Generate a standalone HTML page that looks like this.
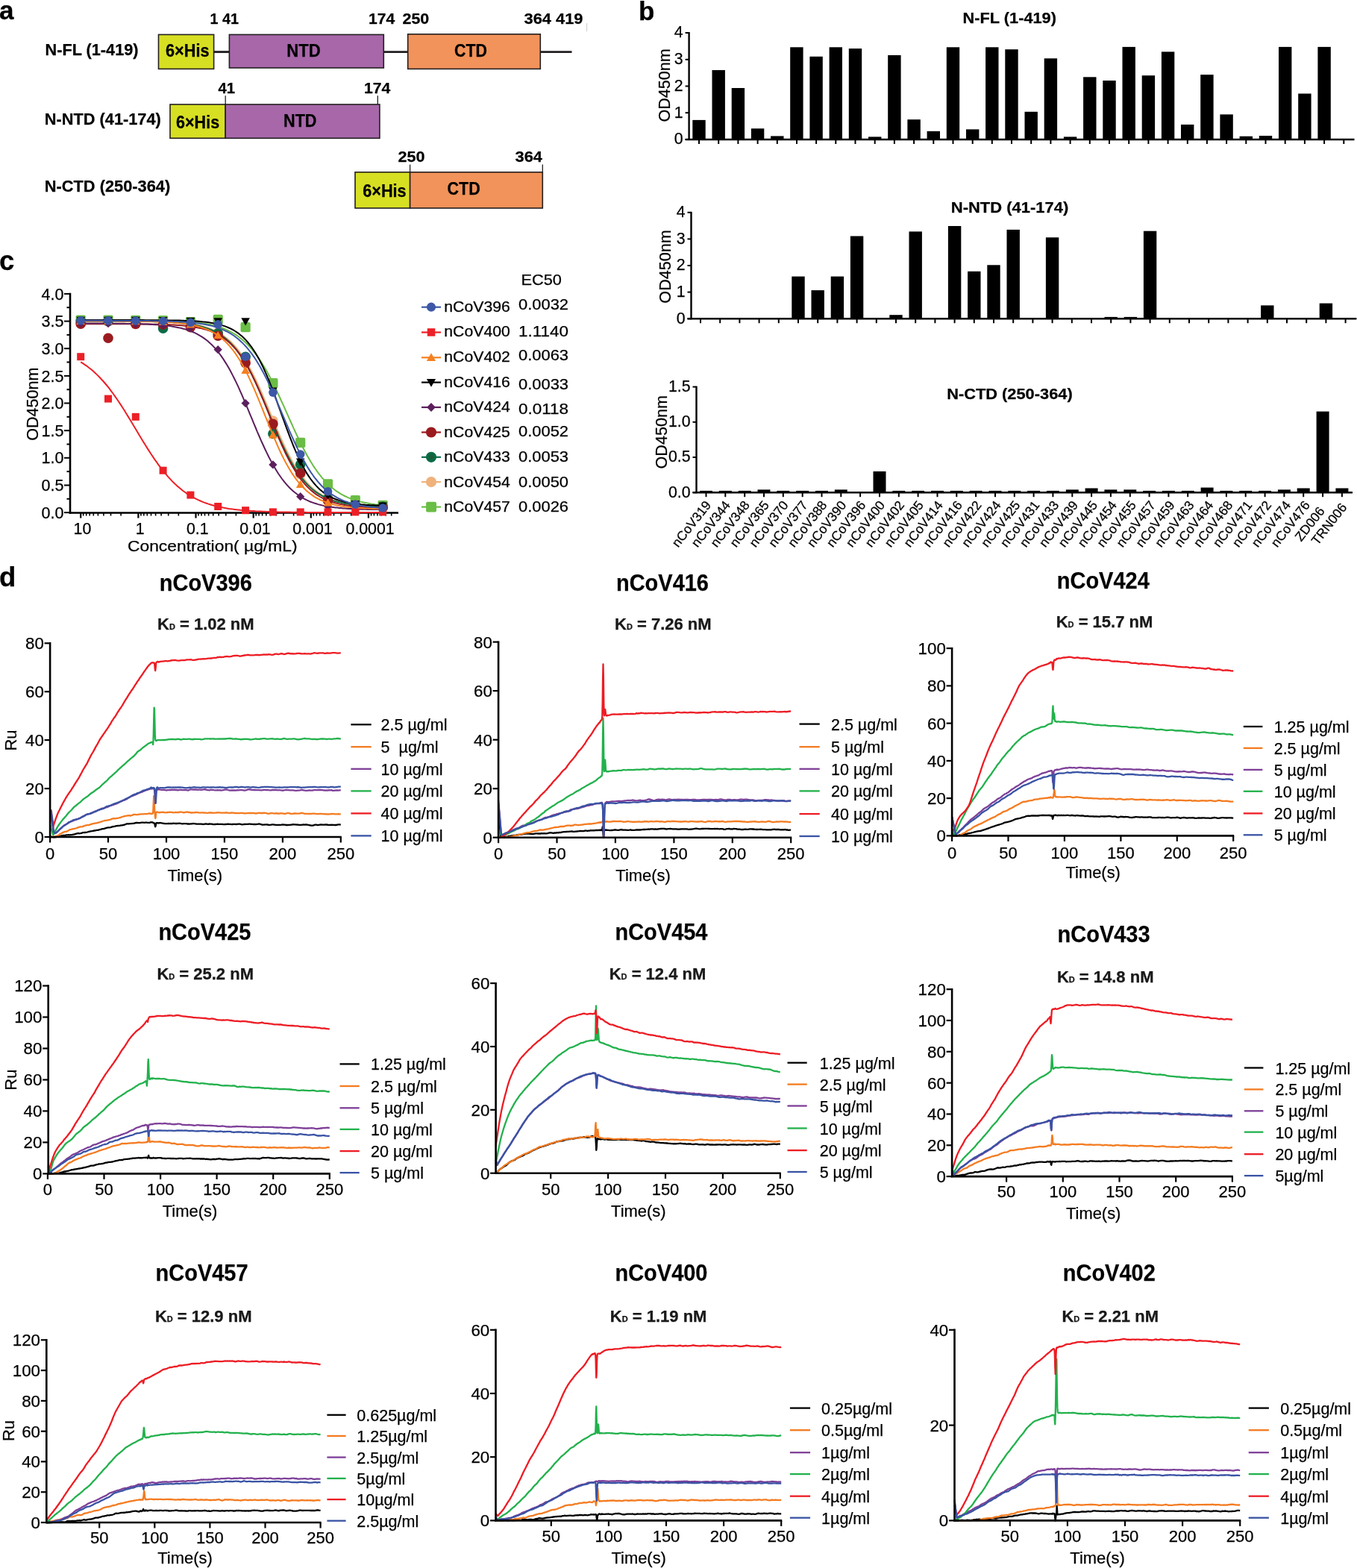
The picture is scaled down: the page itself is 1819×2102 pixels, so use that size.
<!DOCTYPE html>
<html><head><meta charset="utf-8"><title>Figure</title>
<style>html,body{margin:0;padding:0;background:#fff;} svg{display:block;} text{stroke:currentColor;stroke-width:0.25px;}</style>
</head><body>
<svg width="1819" height="2102" viewBox="0 0 1819 2102" font-family='"Liberation Sans", Arial, Helvetica, sans-serif'>
<text x="-1" y="26.3" font-size="35" font-weight="bold">a</text>
<text x="856" y="26.5" font-size="35" font-weight="bold">b</text>
<text x="-1" y="361.6" font-size="36.5" font-weight="bold">c</text>
<text x="-1" y="785.7" font-size="36.5" font-weight="bold">d</text>
<line x1="286" y1="69.6" x2="308" y2="69.6" stroke="#231f20" stroke-width="2.9"/>
<line x1="514" y1="69.6" x2="547" y2="69.6" stroke="#231f20" stroke-width="2.9"/>
<line x1="724" y1="69.6" x2="766.5" y2="69.6" stroke="#231f20" stroke-width="2.9"/>
<rect x="212.5" y="46.4" width="74.1" height="46" fill="#d7df23" stroke="#231f20" stroke-width="1.6"/>
<rect x="307.4" y="46.4" width="206.9" height="44.6" fill="#a767a9" stroke="#231f20" stroke-width="1.6"/>
<rect x="546.7" y="45.8" width="177.6" height="46.6" fill="#f1935a" stroke="#231f20" stroke-width="1.6"/>
<text x="222" y="75.9" font-size="24" font-weight="bold" fill="#000" textLength="58.5" lengthAdjust="spacingAndGlyphs">6×His</text>
<text x="384.3" y="75.9" font-size="23" font-weight="bold" fill="#000" textLength="45.5" lengthAdjust="spacingAndGlyphs">NTD</text>
<text x="609" y="75.9" font-size="23" font-weight="bold" fill="#000" textLength="44" lengthAdjust="spacingAndGlyphs">CTD</text>
<text x="60.5" y="73.7" font-size="22" font-weight="bold" fill="#000" textLength="125" lengthAdjust="spacingAndGlyphs">N-FL (1-419)</text>
<text x="281.5" y="32.4" font-size="20" font-weight="bold" fill="#000" textLength="38.5" lengthAdjust="spacingAndGlyphs">1 41</text>
<text x="494" y="32.4" font-size="20" font-weight="bold" fill="#000" textLength="35.2" lengthAdjust="spacingAndGlyphs">174</text>
<text x="539.5" y="32.4" font-size="20" font-weight="bold" fill="#000" textLength="35.8" lengthAdjust="spacingAndGlyphs">250</text>
<text x="702.5" y="32.4" font-size="20" font-weight="bold" fill="#000" textLength="79" lengthAdjust="spacingAndGlyphs">364 419</text>
<line x1="786.6" y1="31" x2="786.6" y2="42" stroke="#bbb" stroke-width="0.8"/>
<text x="59.8" y="167.4" font-size="22" font-weight="bold" fill="#000" textLength="156" lengthAdjust="spacingAndGlyphs">N-NTD (41-174)</text>
<rect x="228" y="140" width="74.2" height="45.3" fill="#d7df23" stroke="#231f20" stroke-width="1.6"/>
<rect x="302.2" y="140" width="206.7" height="45.3" fill="#a767a9" stroke="#231f20" stroke-width="1.6"/>
<text x="236.1" y="171.9" font-size="24" font-weight="bold" fill="#000" textLength="58" lengthAdjust="spacingAndGlyphs">6×His</text>
<text x="380" y="169.6" font-size="23" font-weight="bold" fill="#000" textLength="44.5" lengthAdjust="spacingAndGlyphs">NTD</text>
<text x="292.5" y="125" font-size="20" font-weight="bold" fill="#000" textLength="22.6" lengthAdjust="spacingAndGlyphs">41</text>
<text x="488" y="125" font-size="20" font-weight="bold" fill="#000" textLength="35.2" lengthAdjust="spacingAndGlyphs">174</text>
<line x1="302.2" y1="128.3" x2="302.2" y2="140" stroke="#231f20" stroke-width="1.3"/>
<line x1="506.3" y1="128.3" x2="506.3" y2="140" stroke="#231f20" stroke-width="1.3"/>
<text x="59.8" y="257" font-size="22" font-weight="bold" fill="#000" textLength="168.4" lengthAdjust="spacingAndGlyphs">N-CTD (250-364)</text>
<rect x="476" y="230.8" width="73.6" height="48.2" fill="#d7df23" stroke="#231f20" stroke-width="1.6"/>
<rect x="549.6" y="230.8" width="177.7" height="48.2" fill="#f1935a" stroke="#231f20" stroke-width="1.6"/>
<text x="486.2" y="264" font-size="24" font-weight="bold" fill="#000" textLength="58.5" lengthAdjust="spacingAndGlyphs">6×His</text>
<text x="599.5" y="260.5" font-size="23" font-weight="bold" fill="#000" textLength="44.2" lengthAdjust="spacingAndGlyphs">CTD</text>
<text x="533.5" y="217.1" font-size="20" font-weight="bold" fill="#000" textLength="36" lengthAdjust="spacingAndGlyphs">250</text>
<text x="690.5" y="217.1" font-size="20" font-weight="bold" fill="#000" textLength="36.4" lengthAdjust="spacingAndGlyphs">364</text>
<line x1="549.6" y1="220.6" x2="549.6" y2="230.8" stroke="#231f20" stroke-width="1.3"/>
<line x1="727.3" y1="220.6" x2="727.3" y2="230.8" stroke="#231f20" stroke-width="1.3"/>
<rect x="928.3" y="160.9" width="17.4" height="26.1" fill="#000"/>
<rect x="954.5" y="94" width="17.4" height="93" fill="#000"/>
<rect x="980.7" y="118" width="17.4" height="69" fill="#000"/>
<rect x="1006.9" y="172.3" width="17.4" height="14.7" fill="#000"/>
<rect x="1033.1" y="182.4" width="17.4" height="4.6" fill="#000"/>
<rect x="1059.2" y="63.3" width="17.4" height="123.7" fill="#000"/>
<rect x="1085.4" y="75.8" width="17.4" height="111.2" fill="#000"/>
<rect x="1111.6" y="63.3" width="17.4" height="123.7" fill="#000"/>
<rect x="1137.8" y="65.1" width="17.4" height="121.9" fill="#000"/>
<rect x="1164" y="183.4" width="17.4" height="3.6" fill="#000"/>
<rect x="1190.2" y="74" width="17.4" height="113" fill="#000"/>
<rect x="1216.4" y="160.2" width="17.4" height="26.8" fill="#000"/>
<rect x="1242.6" y="175.9" width="17.4" height="11.1" fill="#000"/>
<rect x="1268.8" y="63.3" width="17.4" height="123.7" fill="#000"/>
<rect x="1295" y="173.4" width="17.4" height="13.6" fill="#000"/>
<rect x="1321.1" y="63.3" width="17.4" height="123.7" fill="#000"/>
<rect x="1347.3" y="66.2" width="17.4" height="120.8" fill="#000"/>
<rect x="1373.5" y="149.8" width="17.4" height="37.2" fill="#000"/>
<rect x="1399.7" y="78.3" width="17.4" height="108.7" fill="#000"/>
<rect x="1425.9" y="183.4" width="17.4" height="3.6" fill="#000"/>
<rect x="1452.1" y="103.3" width="17.4" height="83.7" fill="#000"/>
<rect x="1478.3" y="108" width="17.4" height="79" fill="#000"/>
<rect x="1504.5" y="62.9" width="17.4" height="124.1" fill="#000"/>
<rect x="1530.7" y="101.2" width="17.4" height="85.8" fill="#000"/>
<rect x="1556.9" y="69.4" width="17.4" height="117.6" fill="#000"/>
<rect x="1583" y="167" width="17.4" height="20" fill="#000"/>
<rect x="1609.2" y="100.1" width="17.4" height="86.9" fill="#000"/>
<rect x="1635.4" y="153.4" width="17.4" height="33.6" fill="#000"/>
<rect x="1661.6" y="182.7" width="17.4" height="4.3" fill="#000"/>
<rect x="1687.8" y="182" width="17.4" height="5" fill="#000"/>
<rect x="1714" y="62.9" width="17.4" height="124.1" fill="#000"/>
<rect x="1740.2" y="125.5" width="17.4" height="61.5" fill="#000"/>
<rect x="1766.4" y="62.9" width="17.4" height="124.1" fill="#000"/>
<line x1="937" y1="187" x2="937" y2="193" stroke="#000" stroke-width="2"/>
<line x1="963.2" y1="187" x2="963.2" y2="193" stroke="#000" stroke-width="2"/>
<line x1="989.4" y1="187" x2="989.4" y2="193" stroke="#000" stroke-width="2"/>
<line x1="1015.6" y1="187" x2="1015.6" y2="193" stroke="#000" stroke-width="2"/>
<line x1="1041.8" y1="187" x2="1041.8" y2="193" stroke="#000" stroke-width="2"/>
<line x1="1068" y1="187" x2="1068" y2="193" stroke="#000" stroke-width="2"/>
<line x1="1094.1" y1="187" x2="1094.1" y2="193" stroke="#000" stroke-width="2"/>
<line x1="1120.3" y1="187" x2="1120.3" y2="193" stroke="#000" stroke-width="2"/>
<line x1="1146.5" y1="187" x2="1146.5" y2="193" stroke="#000" stroke-width="2"/>
<line x1="1172.7" y1="187" x2="1172.7" y2="193" stroke="#000" stroke-width="2"/>
<line x1="1198.9" y1="187" x2="1198.9" y2="193" stroke="#000" stroke-width="2"/>
<line x1="1225.1" y1="187" x2="1225.1" y2="193" stroke="#000" stroke-width="2"/>
<line x1="1251.3" y1="187" x2="1251.3" y2="193" stroke="#000" stroke-width="2"/>
<line x1="1277.5" y1="187" x2="1277.5" y2="193" stroke="#000" stroke-width="2"/>
<line x1="1303.7" y1="187" x2="1303.7" y2="193" stroke="#000" stroke-width="2"/>
<line x1="1329.8" y1="187" x2="1329.8" y2="193" stroke="#000" stroke-width="2"/>
<line x1="1356" y1="187" x2="1356" y2="193" stroke="#000" stroke-width="2"/>
<line x1="1382.2" y1="187" x2="1382.2" y2="193" stroke="#000" stroke-width="2"/>
<line x1="1408.4" y1="187" x2="1408.4" y2="193" stroke="#000" stroke-width="2"/>
<line x1="1434.6" y1="187" x2="1434.6" y2="193" stroke="#000" stroke-width="2"/>
<line x1="1460.8" y1="187" x2="1460.8" y2="193" stroke="#000" stroke-width="2"/>
<line x1="1487" y1="187" x2="1487" y2="193" stroke="#000" stroke-width="2"/>
<line x1="1513.2" y1="187" x2="1513.2" y2="193" stroke="#000" stroke-width="2"/>
<line x1="1539.4" y1="187" x2="1539.4" y2="193" stroke="#000" stroke-width="2"/>
<line x1="1565.6" y1="187" x2="1565.6" y2="193" stroke="#000" stroke-width="2"/>
<line x1="1591.8" y1="187" x2="1591.8" y2="193" stroke="#000" stroke-width="2"/>
<line x1="1617.9" y1="187" x2="1617.9" y2="193" stroke="#000" stroke-width="2"/>
<line x1="1644.1" y1="187" x2="1644.1" y2="193" stroke="#000" stroke-width="2"/>
<line x1="1670.3" y1="187" x2="1670.3" y2="193" stroke="#000" stroke-width="2"/>
<line x1="1696.5" y1="187" x2="1696.5" y2="193" stroke="#000" stroke-width="2"/>
<line x1="1722.7" y1="187" x2="1722.7" y2="193" stroke="#000" stroke-width="2"/>
<line x1="1748.9" y1="187" x2="1748.9" y2="193" stroke="#000" stroke-width="2"/>
<line x1="1775.1" y1="187" x2="1775.1" y2="193" stroke="#000" stroke-width="2"/>
<line x1="1801.3" y1="187" x2="1801.3" y2="193" stroke="#000" stroke-width="2"/>
<line x1="923.6" y1="43" x2="923.6" y2="188" stroke="#000" stroke-width="2.4"/>
<line x1="918.6" y1="187" x2="1815.5" y2="187" stroke="#000" stroke-width="2.6"/>
<line x1="918.6" y1="187" x2="923.6" y2="187" stroke="#000" stroke-width="2"/>
<text x="915.6" y="193.4" font-size="21.3" text-anchor="end">0</text>
<line x1="918.6" y1="151.2" x2="923.6" y2="151.2" stroke="#000" stroke-width="2"/>
<text x="915.6" y="157.7" font-size="21.3" text-anchor="end">1</text>
<line x1="918.6" y1="115.5" x2="923.6" y2="115.5" stroke="#000" stroke-width="2"/>
<text x="915.6" y="121.9" font-size="21.3" text-anchor="end">2</text>
<line x1="918.6" y1="79.8" x2="923.6" y2="79.8" stroke="#000" stroke-width="2"/>
<text x="915.6" y="86.2" font-size="21.3" text-anchor="end">3</text>
<line x1="918.6" y1="44" x2="923.6" y2="44" stroke="#000" stroke-width="2"/>
<text x="915.6" y="50.4" font-size="21.3" text-anchor="end">4</text>
<text x="1290.5" y="31.3" font-size="21" font-weight="bold" fill="#000" textLength="125.5" lengthAdjust="spacingAndGlyphs">N-FL (1-419)</text>
<text x="0" y="0" font-size="22" text-anchor="middle" textLength="98.3" lengthAdjust="spacingAndGlyphs" transform="translate(897.6,114.4) rotate(-90)">OD450nm</text>
<rect x="1061.3" y="370.6" width="17.4" height="56.6" fill="#000"/>
<rect x="1087.5" y="389.1" width="17.4" height="38.1" fill="#000"/>
<rect x="1113.7" y="370.6" width="17.4" height="56.6" fill="#000"/>
<rect x="1139.9" y="316.5" width="17.4" height="110.7" fill="#000"/>
<rect x="1192.3" y="422.2" width="17.4" height="5" fill="#000"/>
<rect x="1218.5" y="310.4" width="17.4" height="116.8" fill="#000"/>
<rect x="1270.9" y="303" width="17.4" height="124.2" fill="#000"/>
<rect x="1297.1" y="363.8" width="17.4" height="63.4" fill="#000"/>
<rect x="1323.3" y="355.3" width="17.4" height="71.9" fill="#000"/>
<rect x="1349.5" y="307.9" width="17.4" height="119.3" fill="#000"/>
<rect x="1401.9" y="318.3" width="17.4" height="108.9" fill="#000"/>
<rect x="1480.5" y="424.9" width="17.4" height="2.3" fill="#000"/>
<rect x="1506.7" y="424.9" width="17.4" height="2.3" fill="#000"/>
<rect x="1532.9" y="309.7" width="17.4" height="117.5" fill="#000"/>
<rect x="1690.1" y="409.4" width="17.4" height="17.8" fill="#000"/>
<rect x="1768.7" y="406.6" width="17.4" height="20.6" fill="#000"/>
<line x1="939" y1="427.2" x2="939" y2="433.2" stroke="#000" stroke-width="2"/>
<line x1="965.2" y1="427.2" x2="965.2" y2="433.2" stroke="#000" stroke-width="2"/>
<line x1="991.4" y1="427.2" x2="991.4" y2="433.2" stroke="#000" stroke-width="2"/>
<line x1="1017.6" y1="427.2" x2="1017.6" y2="433.2" stroke="#000" stroke-width="2"/>
<line x1="1043.8" y1="427.2" x2="1043.8" y2="433.2" stroke="#000" stroke-width="2"/>
<line x1="1070" y1="427.2" x2="1070" y2="433.2" stroke="#000" stroke-width="2"/>
<line x1="1096.2" y1="427.2" x2="1096.2" y2="433.2" stroke="#000" stroke-width="2"/>
<line x1="1122.4" y1="427.2" x2="1122.4" y2="433.2" stroke="#000" stroke-width="2"/>
<line x1="1148.6" y1="427.2" x2="1148.6" y2="433.2" stroke="#000" stroke-width="2"/>
<line x1="1174.8" y1="427.2" x2="1174.8" y2="433.2" stroke="#000" stroke-width="2"/>
<line x1="1201" y1="427.2" x2="1201" y2="433.2" stroke="#000" stroke-width="2"/>
<line x1="1227.2" y1="427.2" x2="1227.2" y2="433.2" stroke="#000" stroke-width="2"/>
<line x1="1253.4" y1="427.2" x2="1253.4" y2="433.2" stroke="#000" stroke-width="2"/>
<line x1="1279.6" y1="427.2" x2="1279.6" y2="433.2" stroke="#000" stroke-width="2"/>
<line x1="1305.8" y1="427.2" x2="1305.8" y2="433.2" stroke="#000" stroke-width="2"/>
<line x1="1332" y1="427.2" x2="1332" y2="433.2" stroke="#000" stroke-width="2"/>
<line x1="1358.2" y1="427.2" x2="1358.2" y2="433.2" stroke="#000" stroke-width="2"/>
<line x1="1384.4" y1="427.2" x2="1384.4" y2="433.2" stroke="#000" stroke-width="2"/>
<line x1="1410.6" y1="427.2" x2="1410.6" y2="433.2" stroke="#000" stroke-width="2"/>
<line x1="1436.8" y1="427.2" x2="1436.8" y2="433.2" stroke="#000" stroke-width="2"/>
<line x1="1463" y1="427.2" x2="1463" y2="433.2" stroke="#000" stroke-width="2"/>
<line x1="1489.2" y1="427.2" x2="1489.2" y2="433.2" stroke="#000" stroke-width="2"/>
<line x1="1515.4" y1="427.2" x2="1515.4" y2="433.2" stroke="#000" stroke-width="2"/>
<line x1="1541.6" y1="427.2" x2="1541.6" y2="433.2" stroke="#000" stroke-width="2"/>
<line x1="1567.8" y1="427.2" x2="1567.8" y2="433.2" stroke="#000" stroke-width="2"/>
<line x1="1594" y1="427.2" x2="1594" y2="433.2" stroke="#000" stroke-width="2"/>
<line x1="1620.2" y1="427.2" x2="1620.2" y2="433.2" stroke="#000" stroke-width="2"/>
<line x1="1646.4" y1="427.2" x2="1646.4" y2="433.2" stroke="#000" stroke-width="2"/>
<line x1="1672.6" y1="427.2" x2="1672.6" y2="433.2" stroke="#000" stroke-width="2"/>
<line x1="1698.8" y1="427.2" x2="1698.8" y2="433.2" stroke="#000" stroke-width="2"/>
<line x1="1725" y1="427.2" x2="1725" y2="433.2" stroke="#000" stroke-width="2"/>
<line x1="1751.2" y1="427.2" x2="1751.2" y2="433.2" stroke="#000" stroke-width="2"/>
<line x1="1777.4" y1="427.2" x2="1777.4" y2="433.2" stroke="#000" stroke-width="2"/>
<line x1="1803.6" y1="427.2" x2="1803.6" y2="433.2" stroke="#000" stroke-width="2"/>
<line x1="926.5" y1="283.9" x2="926.5" y2="428.2" stroke="#000" stroke-width="2.4"/>
<line x1="921.5" y1="427.2" x2="1818.4" y2="427.2" stroke="#000" stroke-width="2.6"/>
<line x1="921.5" y1="427.2" x2="926.5" y2="427.2" stroke="#000" stroke-width="2"/>
<text x="918.5" y="433.6" font-size="21.3" text-anchor="end">0</text>
<line x1="921.5" y1="391.6" x2="926.5" y2="391.6" stroke="#000" stroke-width="2"/>
<text x="918.5" y="398" font-size="21.3" text-anchor="end">1</text>
<line x1="921.5" y1="356" x2="926.5" y2="356" stroke="#000" stroke-width="2"/>
<text x="918.5" y="362.4" font-size="21.3" text-anchor="end">2</text>
<line x1="921.5" y1="320.4" x2="926.5" y2="320.4" stroke="#000" stroke-width="2"/>
<text x="918.5" y="326.8" font-size="21.3" text-anchor="end">3</text>
<line x1="921.5" y1="284.8" x2="926.5" y2="284.8" stroke="#000" stroke-width="2"/>
<text x="918.5" y="291.2" font-size="21.3" text-anchor="end">4</text>
<text x="1274.8" y="284.8" font-size="21" font-weight="bold" fill="#000" textLength="157.5" lengthAdjust="spacingAndGlyphs">N-NTD (41-174)</text>
<text x="0" y="0" font-size="22" text-anchor="middle" textLength="98.3" lengthAdjust="spacingAndGlyphs" transform="translate(898.6,357.5) rotate(-90)">OD450nm</text>
<rect x="938" y="657.9" width="17" height="2.3" fill="#000"/>
<rect x="963.8" y="657.9" width="17" height="2.3" fill="#000"/>
<rect x="989.7" y="657.9" width="17" height="2.3" fill="#000"/>
<rect x="1015.5" y="656.4" width="17" height="3.8" fill="#000"/>
<rect x="1041.3" y="657.9" width="17" height="2.3" fill="#000"/>
<rect x="1067.2" y="657.9" width="17" height="2.3" fill="#000"/>
<rect x="1093" y="657.9" width="17" height="2.3" fill="#000"/>
<rect x="1118.8" y="656.4" width="17" height="3.8" fill="#000"/>
<rect x="1170.5" y="631.9" width="17" height="28.3" fill="#000"/>
<rect x="1196.3" y="657.9" width="17" height="2.3" fill="#000"/>
<rect x="1222.1" y="657.9" width="17" height="2.3" fill="#000"/>
<rect x="1248" y="657.9" width="17" height="2.3" fill="#000"/>
<rect x="1273.8" y="657.9" width="17" height="2.3" fill="#000"/>
<rect x="1299.6" y="657.9" width="17" height="2.3" fill="#000"/>
<rect x="1325.5" y="657.9" width="17" height="2.3" fill="#000"/>
<rect x="1351.3" y="657.9" width="17" height="2.3" fill="#000"/>
<rect x="1377.1" y="657.9" width="17" height="2.3" fill="#000"/>
<rect x="1402.9" y="657.9" width="17" height="2.3" fill="#000"/>
<rect x="1428.8" y="656.4" width="17" height="3.8" fill="#000"/>
<rect x="1454.6" y="654.5" width="17" height="5.7" fill="#000"/>
<rect x="1480.4" y="656.4" width="17" height="3.8" fill="#000"/>
<rect x="1506.3" y="656.4" width="17" height="3.8" fill="#000"/>
<rect x="1532.1" y="657.9" width="17" height="2.3" fill="#000"/>
<rect x="1557.9" y="657.9" width="17" height="2.3" fill="#000"/>
<rect x="1583.8" y="657.9" width="17" height="2.3" fill="#000"/>
<rect x="1609.6" y="653.6" width="17" height="6.6" fill="#000"/>
<rect x="1635.4" y="657.9" width="17" height="2.3" fill="#000"/>
<rect x="1661.2" y="657.9" width="17" height="2.3" fill="#000"/>
<rect x="1687.1" y="657.9" width="17" height="2.3" fill="#000"/>
<rect x="1712.9" y="656.4" width="17" height="3.8" fill="#000"/>
<rect x="1738.7" y="654.5" width="17" height="5.7" fill="#000"/>
<rect x="1764.6" y="551.6" width="17" height="108.6" fill="#000"/>
<rect x="1790.4" y="654.5" width="17" height="5.7" fill="#000"/>
<line x1="946.5" y1="660.2" x2="946.5" y2="666.2" stroke="#000" stroke-width="2"/>
<line x1="972.3" y1="660.2" x2="972.3" y2="666.2" stroke="#000" stroke-width="2"/>
<line x1="998.2" y1="660.2" x2="998.2" y2="666.2" stroke="#000" stroke-width="2"/>
<line x1="1024" y1="660.2" x2="1024" y2="666.2" stroke="#000" stroke-width="2"/>
<line x1="1049.8" y1="660.2" x2="1049.8" y2="666.2" stroke="#000" stroke-width="2"/>
<line x1="1075.7" y1="660.2" x2="1075.7" y2="666.2" stroke="#000" stroke-width="2"/>
<line x1="1101.5" y1="660.2" x2="1101.5" y2="666.2" stroke="#000" stroke-width="2"/>
<line x1="1127.3" y1="660.2" x2="1127.3" y2="666.2" stroke="#000" stroke-width="2"/>
<line x1="1153.1" y1="660.2" x2="1153.1" y2="666.2" stroke="#000" stroke-width="2"/>
<line x1="1179" y1="660.2" x2="1179" y2="666.2" stroke="#000" stroke-width="2"/>
<line x1="1204.8" y1="660.2" x2="1204.8" y2="666.2" stroke="#000" stroke-width="2"/>
<line x1="1230.6" y1="660.2" x2="1230.6" y2="666.2" stroke="#000" stroke-width="2"/>
<line x1="1256.5" y1="660.2" x2="1256.5" y2="666.2" stroke="#000" stroke-width="2"/>
<line x1="1282.3" y1="660.2" x2="1282.3" y2="666.2" stroke="#000" stroke-width="2"/>
<line x1="1308.1" y1="660.2" x2="1308.1" y2="666.2" stroke="#000" stroke-width="2"/>
<line x1="1334" y1="660.2" x2="1334" y2="666.2" stroke="#000" stroke-width="2"/>
<line x1="1359.8" y1="660.2" x2="1359.8" y2="666.2" stroke="#000" stroke-width="2"/>
<line x1="1385.6" y1="660.2" x2="1385.6" y2="666.2" stroke="#000" stroke-width="2"/>
<line x1="1411.4" y1="660.2" x2="1411.4" y2="666.2" stroke="#000" stroke-width="2"/>
<line x1="1437.3" y1="660.2" x2="1437.3" y2="666.2" stroke="#000" stroke-width="2"/>
<line x1="1463.1" y1="660.2" x2="1463.1" y2="666.2" stroke="#000" stroke-width="2"/>
<line x1="1488.9" y1="660.2" x2="1488.9" y2="666.2" stroke="#000" stroke-width="2"/>
<line x1="1514.8" y1="660.2" x2="1514.8" y2="666.2" stroke="#000" stroke-width="2"/>
<line x1="1540.6" y1="660.2" x2="1540.6" y2="666.2" stroke="#000" stroke-width="2"/>
<line x1="1566.4" y1="660.2" x2="1566.4" y2="666.2" stroke="#000" stroke-width="2"/>
<line x1="1592.2" y1="660.2" x2="1592.2" y2="666.2" stroke="#000" stroke-width="2"/>
<line x1="1618.1" y1="660.2" x2="1618.1" y2="666.2" stroke="#000" stroke-width="2"/>
<line x1="1643.9" y1="660.2" x2="1643.9" y2="666.2" stroke="#000" stroke-width="2"/>
<line x1="1669.7" y1="660.2" x2="1669.7" y2="666.2" stroke="#000" stroke-width="2"/>
<line x1="1695.6" y1="660.2" x2="1695.6" y2="666.2" stroke="#000" stroke-width="2"/>
<line x1="1721.4" y1="660.2" x2="1721.4" y2="666.2" stroke="#000" stroke-width="2"/>
<line x1="1747.2" y1="660.2" x2="1747.2" y2="666.2" stroke="#000" stroke-width="2"/>
<line x1="1773.1" y1="660.2" x2="1773.1" y2="666.2" stroke="#000" stroke-width="2"/>
<line x1="1798.9" y1="660.2" x2="1798.9" y2="666.2" stroke="#000" stroke-width="2"/>
<line x1="933.5" y1="517.7" x2="933.5" y2="661.2" stroke="#000" stroke-width="2.4"/>
<line x1="928.5" y1="660.2" x2="1813" y2="660.2" stroke="#000" stroke-width="2.6"/>
<line x1="928.5" y1="660.2" x2="933.5" y2="660.2" stroke="#000" stroke-width="2"/>
<text x="925.5" y="666.6" font-size="21.3" text-anchor="end">0.0</text>
<line x1="928.5" y1="613" x2="933.5" y2="613" stroke="#000" stroke-width="2"/>
<text x="925.5" y="619.4" font-size="21.3" text-anchor="end">0.5</text>
<line x1="928.5" y1="565.8" x2="933.5" y2="565.8" stroke="#000" stroke-width="2"/>
<text x="925.5" y="572.2" font-size="21.3" text-anchor="end">1.0</text>
<line x1="928.5" y1="518.6" x2="933.5" y2="518.6" stroke="#000" stroke-width="2"/>
<text x="925.5" y="525" font-size="21.3" text-anchor="end">1.5</text>
<text x="1269.2" y="534.6" font-size="21" font-weight="bold" fill="#000" textLength="168.5" lengthAdjust="spacingAndGlyphs">N-CTD (250-364)</text>
<text x="0" y="0" font-size="22" text-anchor="middle" textLength="98.3" lengthAdjust="spacingAndGlyphs" transform="translate(894.4,579.3) rotate(-90)">OD450nm</text>
<text x="0" y="0" font-size="17.5" text-anchor="middle" transform="translate(931.5,706) rotate(-52)">nCoV319</text>
<text x="0" y="0" font-size="17.5" text-anchor="middle" transform="translate(957.4,706) rotate(-52)">nCoV344</text>
<text x="0" y="0" font-size="17.5" text-anchor="middle" transform="translate(983.3,706) rotate(-52)">nCoV348</text>
<text x="0" y="0" font-size="17.5" text-anchor="middle" transform="translate(1009.2,706) rotate(-52)">nCoV365</text>
<text x="0" y="0" font-size="17.5" text-anchor="middle" transform="translate(1035.1,706) rotate(-52)">nCoV370</text>
<text x="0" y="0" font-size="17.5" text-anchor="middle" transform="translate(1061,706) rotate(-52)">nCoV377</text>
<text x="0" y="0" font-size="17.5" text-anchor="middle" transform="translate(1086.9,706) rotate(-52)">nCoV388</text>
<text x="0" y="0" font-size="17.5" text-anchor="middle" transform="translate(1112.8,706) rotate(-52)">nCoV390</text>
<text x="0" y="0" font-size="17.5" text-anchor="middle" transform="translate(1138.7,706) rotate(-52)">nCoV396</text>
<text x="0" y="0" font-size="17.5" text-anchor="middle" transform="translate(1164.6,706) rotate(-52)">nCoV400</text>
<text x="0" y="0" font-size="17.5" text-anchor="middle" transform="translate(1190.5,706) rotate(-52)">nCoV402</text>
<text x="0" y="0" font-size="17.5" text-anchor="middle" transform="translate(1216.4,706) rotate(-52)">nCoV405</text>
<text x="0" y="0" font-size="17.5" text-anchor="middle" transform="translate(1242.3,706) rotate(-52)">nCoV414</text>
<text x="0" y="0" font-size="17.5" text-anchor="middle" transform="translate(1268.2,706) rotate(-52)">nCoV416</text>
<text x="0" y="0" font-size="17.5" text-anchor="middle" transform="translate(1294.1,706) rotate(-52)">nCoV422</text>
<text x="0" y="0" font-size="17.5" text-anchor="middle" transform="translate(1320,706) rotate(-52)">nCoV424</text>
<text x="0" y="0" font-size="17.5" text-anchor="middle" transform="translate(1345.9,706) rotate(-52)">nCoV425</text>
<text x="0" y="0" font-size="17.5" text-anchor="middle" transform="translate(1371.8,706) rotate(-52)">nCoV431</text>
<text x="0" y="0" font-size="17.5" text-anchor="middle" transform="translate(1397.7,706) rotate(-52)">nCoV433</text>
<text x="0" y="0" font-size="17.5" text-anchor="middle" transform="translate(1423.6,706) rotate(-52)">nCoV439</text>
<text x="0" y="0" font-size="17.5" text-anchor="middle" transform="translate(1449.5,706) rotate(-52)">nCoV445</text>
<text x="0" y="0" font-size="17.5" text-anchor="middle" transform="translate(1475.4,706) rotate(-52)">nCoV454</text>
<text x="0" y="0" font-size="17.5" text-anchor="middle" transform="translate(1501.3,706) rotate(-52)">nCoV455</text>
<text x="0" y="0" font-size="17.5" text-anchor="middle" transform="translate(1527.2,706) rotate(-52)">nCoV457</text>
<text x="0" y="0" font-size="17.5" text-anchor="middle" transform="translate(1553.1,706) rotate(-52)">nCoV459</text>
<text x="0" y="0" font-size="17.5" text-anchor="middle" transform="translate(1579,706) rotate(-52)">nCoV463</text>
<text x="0" y="0" font-size="17.5" text-anchor="middle" transform="translate(1604.9,706) rotate(-52)">nCoV464</text>
<text x="0" y="0" font-size="17.5" text-anchor="middle" transform="translate(1630.8,706) rotate(-52)">nCoV468</text>
<text x="0" y="0" font-size="17.5" text-anchor="middle" transform="translate(1656.7,706) rotate(-52)">nCoV471</text>
<text x="0" y="0" font-size="17.5" text-anchor="middle" transform="translate(1682.6,706) rotate(-52)">nCoV472</text>
<text x="0" y="0" font-size="17.5" text-anchor="middle" transform="translate(1708.5,706) rotate(-52)">nCoV474</text>
<text x="0" y="0" font-size="17.5" text-anchor="middle" transform="translate(1734.4,706) rotate(-52)">nCoV476</text>
<text x="0" y="0" font-size="17.5" text-anchor="middle" transform="translate(1760.3,706) rotate(-52)">ZD006</text>
<text x="0" y="0" font-size="17.5" text-anchor="middle" transform="translate(1786.2,706) rotate(-52)">TRN006</text>
<line x1="94" y1="392.7" x2="94" y2="688.8" stroke="#000" stroke-width="2.6"/>
<line x1="92.7" y1="687.5" x2="534" y2="687.5" stroke="#000" stroke-width="2.6"/>
<line x1="86" y1="687.1" x2="94" y2="687.1" stroke="#000" stroke-width="2"/>
<text x="85.5" y="694.7" font-size="21.5" text-anchor="end">0.0</text>
<line x1="89.5" y1="668.8" x2="94" y2="668.8" stroke="#000" stroke-width="2"/>
<line x1="86" y1="650.5" x2="94" y2="650.5" stroke="#000" stroke-width="2"/>
<text x="85.5" y="658.1" font-size="21.5" text-anchor="end">0.5</text>
<line x1="89.5" y1="632.1" x2="94" y2="632.1" stroke="#000" stroke-width="2"/>
<line x1="86" y1="613.8" x2="94" y2="613.8" stroke="#000" stroke-width="2"/>
<text x="85.5" y="621.4" font-size="21.5" text-anchor="end">1.0</text>
<line x1="89.5" y1="595.5" x2="94" y2="595.5" stroke="#000" stroke-width="2"/>
<line x1="86" y1="577.2" x2="94" y2="577.2" stroke="#000" stroke-width="2"/>
<text x="85.5" y="584.8" font-size="21.5" text-anchor="end">1.5</text>
<line x1="89.5" y1="558.8" x2="94" y2="558.8" stroke="#000" stroke-width="2"/>
<line x1="86" y1="540.5" x2="94" y2="540.5" stroke="#000" stroke-width="2"/>
<text x="85.5" y="548.1" font-size="21.5" text-anchor="end">2.0</text>
<line x1="89.5" y1="522.2" x2="94" y2="522.2" stroke="#000" stroke-width="2"/>
<line x1="86" y1="503.9" x2="94" y2="503.9" stroke="#000" stroke-width="2"/>
<text x="85.5" y="511.5" font-size="21.5" text-anchor="end">2.5</text>
<line x1="89.5" y1="485.5" x2="94" y2="485.5" stroke="#000" stroke-width="2"/>
<line x1="86" y1="467.2" x2="94" y2="467.2" stroke="#000" stroke-width="2"/>
<text x="85.5" y="474.8" font-size="21.5" text-anchor="end">3.0</text>
<line x1="89.5" y1="448.9" x2="94" y2="448.9" stroke="#000" stroke-width="2"/>
<line x1="86" y1="430.6" x2="94" y2="430.6" stroke="#000" stroke-width="2"/>
<text x="85.5" y="438.2" font-size="21.5" text-anchor="end">3.5</text>
<line x1="89.5" y1="412.2" x2="94" y2="412.2" stroke="#000" stroke-width="2"/>
<line x1="86" y1="393.9" x2="94" y2="393.9" stroke="#000" stroke-width="2"/>
<text x="85.5" y="401.5" font-size="21.5" text-anchor="end">4.0</text>
<line x1="108.2" y1="687.5" x2="108.2" y2="694.5" stroke="#000" stroke-width="2.2"/>
<text x="110.4" y="715.7" font-size="21.3" text-anchor="middle">10</text>
<line x1="162.1" y1="687.5" x2="162.1" y2="691.5" stroke="#000" stroke-width="1.6"/>
<line x1="148.5" y1="687.5" x2="148.5" y2="691.5" stroke="#000" stroke-width="1.6"/>
<line x1="138.9" y1="687.5" x2="138.9" y2="691.5" stroke="#000" stroke-width="1.6"/>
<line x1="131.4" y1="687.5" x2="131.4" y2="691.5" stroke="#000" stroke-width="1.6"/>
<line x1="125.3" y1="687.5" x2="125.3" y2="691.5" stroke="#000" stroke-width="1.6"/>
<line x1="120.2" y1="687.5" x2="120.2" y2="691.5" stroke="#000" stroke-width="1.6"/>
<line x1="115.7" y1="687.5" x2="115.7" y2="691.5" stroke="#000" stroke-width="1.6"/>
<line x1="111.7" y1="687.5" x2="111.7" y2="691.5" stroke="#000" stroke-width="1.6"/>
<line x1="185.4" y1="687.5" x2="185.4" y2="694.5" stroke="#000" stroke-width="2.2"/>
<text x="187.6" y="715.7" font-size="21.3" text-anchor="middle">1</text>
<line x1="239.3" y1="687.5" x2="239.3" y2="691.5" stroke="#000" stroke-width="1.6"/>
<line x1="225.7" y1="687.5" x2="225.7" y2="691.5" stroke="#000" stroke-width="1.6"/>
<line x1="216.1" y1="687.5" x2="216.1" y2="691.5" stroke="#000" stroke-width="1.6"/>
<line x1="208.6" y1="687.5" x2="208.6" y2="691.5" stroke="#000" stroke-width="1.6"/>
<line x1="202.5" y1="687.5" x2="202.5" y2="691.5" stroke="#000" stroke-width="1.6"/>
<line x1="197.3" y1="687.5" x2="197.3" y2="691.5" stroke="#000" stroke-width="1.6"/>
<line x1="192.8" y1="687.5" x2="192.8" y2="691.5" stroke="#000" stroke-width="1.6"/>
<line x1="188.9" y1="687.5" x2="188.9" y2="691.5" stroke="#000" stroke-width="1.6"/>
<line x1="262.5" y1="687.5" x2="262.5" y2="694.5" stroke="#000" stroke-width="2.2"/>
<text x="264.7" y="715.7" font-size="21.3" text-anchor="middle">0.1</text>
<line x1="316.4" y1="687.5" x2="316.4" y2="691.5" stroke="#000" stroke-width="1.6"/>
<line x1="302.8" y1="687.5" x2="302.8" y2="691.5" stroke="#000" stroke-width="1.6"/>
<line x1="293.2" y1="687.5" x2="293.2" y2="691.5" stroke="#000" stroke-width="1.6"/>
<line x1="285.7" y1="687.5" x2="285.7" y2="691.5" stroke="#000" stroke-width="1.6"/>
<line x1="279.6" y1="687.5" x2="279.6" y2="691.5" stroke="#000" stroke-width="1.6"/>
<line x1="274.5" y1="687.5" x2="274.5" y2="691.5" stroke="#000" stroke-width="1.6"/>
<line x1="270" y1="687.5" x2="270" y2="691.5" stroke="#000" stroke-width="1.6"/>
<line x1="266" y1="687.5" x2="266" y2="691.5" stroke="#000" stroke-width="1.6"/>
<line x1="339.7" y1="687.5" x2="339.7" y2="694.5" stroke="#000" stroke-width="2.2"/>
<text x="341.9" y="715.7" font-size="21.3" text-anchor="middle">0.01</text>
<line x1="393.6" y1="687.5" x2="393.6" y2="691.5" stroke="#000" stroke-width="1.6"/>
<line x1="380" y1="687.5" x2="380" y2="691.5" stroke="#000" stroke-width="1.6"/>
<line x1="370.4" y1="687.5" x2="370.4" y2="691.5" stroke="#000" stroke-width="1.6"/>
<line x1="362.9" y1="687.5" x2="362.9" y2="691.5" stroke="#000" stroke-width="1.6"/>
<line x1="356.8" y1="687.5" x2="356.8" y2="691.5" stroke="#000" stroke-width="1.6"/>
<line x1="351.6" y1="687.5" x2="351.6" y2="691.5" stroke="#000" stroke-width="1.6"/>
<line x1="347.1" y1="687.5" x2="347.1" y2="691.5" stroke="#000" stroke-width="1.6"/>
<line x1="343.2" y1="687.5" x2="343.2" y2="691.5" stroke="#000" stroke-width="1.6"/>
<line x1="416.8" y1="687.5" x2="416.8" y2="694.5" stroke="#000" stroke-width="2.2"/>
<text x="419" y="715.7" font-size="21.3" text-anchor="middle">0.001</text>
<line x1="470.7" y1="687.5" x2="470.7" y2="691.5" stroke="#000" stroke-width="1.6"/>
<line x1="457.1" y1="687.5" x2="457.1" y2="691.5" stroke="#000" stroke-width="1.6"/>
<line x1="447.5" y1="687.5" x2="447.5" y2="691.5" stroke="#000" stroke-width="1.6"/>
<line x1="440" y1="687.5" x2="440" y2="691.5" stroke="#000" stroke-width="1.6"/>
<line x1="433.9" y1="687.5" x2="433.9" y2="691.5" stroke="#000" stroke-width="1.6"/>
<line x1="428.8" y1="687.5" x2="428.8" y2="691.5" stroke="#000" stroke-width="1.6"/>
<line x1="424.3" y1="687.5" x2="424.3" y2="691.5" stroke="#000" stroke-width="1.6"/>
<line x1="420.3" y1="687.5" x2="420.3" y2="691.5" stroke="#000" stroke-width="1.6"/>
<line x1="493.9" y1="687.5" x2="493.9" y2="694.5" stroke="#000" stroke-width="2.2"/>
<text x="496.1" y="715.7" font-size="21.3" text-anchor="middle">0.0001</text>
<line x1="524.7" y1="687.5" x2="524.7" y2="691.5" stroke="#000" stroke-width="1.6"/>
<line x1="517.2" y1="687.5" x2="517.2" y2="691.5" stroke="#000" stroke-width="1.6"/>
<line x1="511.1" y1="687.5" x2="511.1" y2="691.5" stroke="#000" stroke-width="1.6"/>
<line x1="505.9" y1="687.5" x2="505.9" y2="691.5" stroke="#000" stroke-width="1.6"/>
<line x1="501.4" y1="687.5" x2="501.4" y2="691.5" stroke="#000" stroke-width="1.6"/>
<line x1="497.5" y1="687.5" x2="497.5" y2="691.5" stroke="#000" stroke-width="1.6"/>
<text x="171" y="738.8" font-size="20.5" textLength="227.5" lengthAdjust="spacingAndGlyphs">Concentration( µg/mL)</text>
<text x="0" y="0" font-size="21.5" text-anchor="middle" textLength="98" lengthAdjust="spacingAndGlyphs" transform="translate(51.2,541.7) rotate(-90)">OD450nm</text>
<polyline points="108.2,429.1 110.7,429.1 113.3,429.1 115.8,429.1 118.4,429.1 120.9,429.1 123.5,429.1 126,429.1 128.6,429.1 131.1,429.1 133.7,429.1 136.2,429.1 138.8,429.1 141.3,429.1 143.9,429.1 146.4,429.1 148.9,429.1 151.5,429.1 154,429.1 156.6,429.2 159.1,429.2 161.7,429.2 164.2,429.2 166.8,429.2 169.3,429.2 171.9,429.2 174.4,429.2 177,429.2 179.5,429.2 182.1,429.3 184.6,429.3 187.1,429.3 189.7,429.3 192.2,429.3 194.8,429.4 197.3,429.4 199.9,429.4 202.4,429.4 205,429.5 207.5,429.5 210.1,429.6 212.6,429.6 215.2,429.7 217.7,429.7 220.3,429.8 222.8,429.8 225.3,429.9 227.9,430 230.4,430.1 233,430.2 235.5,430.3 238.1,430.4 240.6,430.5 243.2,430.6 245.7,430.8 248.3,431 250.8,431.1 253.4,431.3 255.9,431.5 258.4,431.8 261,432 263.5,432.3 266.1,432.6 268.6,432.9 271.2,433.3 273.7,433.7 276.3,434.1 278.8,434.6 281.4,435.1 283.9,435.7 286.5,436.3 289,436.9 291.6,437.7 294.1,438.5 296.6,439.3 299.2,440.3 301.7,441.3 304.3,442.4 306.8,443.6 309.4,444.9 311.9,446.3 314.5,447.8 317,449.4 319.6,451.2 322.1,453.1 324.7,455.2 327.2,457.4 329.8,459.7 332.3,462.3 334.8,465 337.4,467.9 339.9,471 342.5,474.3 345,477.7 347.6,481.4 350.1,485.3 352.7,489.4 355.2,493.6 357.8,498.1 360.3,502.8 362.9,507.6 365.4,512.6 368,517.8 370.5,523 373,528.5 375.6,534 378.1,539.6 380.7,545.2 383.2,550.9 385.8,556.7 388.3,562.4 390.9,568 393.4,573.7 396,579.2 398.5,584.6 401.1,590 403.6,595.1 406.2,600.2 408.7,605 411.2,609.7 413.8,614.2 416.3,618.6 418.9,622.7 421.4,626.6 424,630.3 426.5,633.8 429.1,637.2 431.6,640.3 434.2,643.2 436.7,646 439.3,648.6 441.8,651 444.4,653.2 446.9,655.3 449.4,657.3 452,659.1 454.5,660.7 457.1,662.3 459.6,663.7 462.2,665 464.7,666.2 467.3,667.4 469.8,668.4 472.4,669.3 474.9,670.2 477.5,671 480,671.8 482.5,672.4 485.1,673.1 487.6,673.6 490.2,674.1 492.7,674.6 495.3,675.1 497.8,675.5 500.4,675.8 502.9,676.2 505.5,676.5 508,676.8 510.6,677 513.1,677.3" fill="none" stroke="#6abd45" stroke-width="2"/>
<rect x="101.6" y="422.5" width="13.2" height="13.2" rx="2" fill="#6abd45"/>
<rect x="138.4" y="422.5" width="13.2" height="13.2" rx="2" fill="#6abd45"/>
<rect x="175.2" y="422.7" width="13.2" height="13.2" rx="2" fill="#6abd45"/>
<rect x="212" y="423.1" width="13.2" height="13.2" rx="2" fill="#6abd45"/>
<rect x="248.8" y="424.9" width="13.2" height="13.2" rx="2" fill="#6abd45"/>
<rect x="285.6" y="421.8" width="13.2" height="13.2" rx="2" fill="#6abd45"/>
<rect x="322.5" y="432" width="13.2" height="13.2" rx="2" fill="#6abd45"/>
<rect x="359.3" y="506.9" width="13.2" height="13.2" rx="2" fill="#6abd45"/>
<rect x="396.1" y="586.7" width="13.2" height="13.2" rx="2" fill="#6abd45"/>
<rect x="432.9" y="642.2" width="13.2" height="13.2" rx="2" fill="#6abd45"/>
<rect x="469.7" y="664.1" width="13.2" height="13.2" rx="2" fill="#6abd45"/>
<rect x="506.5" y="670.7" width="13.2" height="13.2" rx="2" fill="#6abd45"/>
<polyline points="108.2,430.6 110.7,430.6 113.3,430.6 115.8,430.6 118.4,430.6 120.9,430.6 123.5,430.6 126,430.6 128.6,430.6 131.1,430.6 133.7,430.6 136.2,430.6 138.8,430.6 141.3,430.6 143.9,430.6 146.4,430.6 148.9,430.6 151.5,430.6 154,430.6 156.6,430.6 159.1,430.6 161.7,430.7 164.2,430.7 166.8,430.7 169.3,430.7 171.9,430.7 174.4,430.7 177,430.7 179.5,430.8 182.1,430.8 184.6,430.8 187.1,430.8 189.7,430.9 192.2,430.9 194.8,430.9 197.3,431 199.9,431 202.4,431 205,431.1 207.5,431.1 210.1,431.2 212.6,431.3 215.2,431.4 217.7,431.4 220.3,431.5 222.8,431.6 225.3,431.7 227.9,431.9 230.4,432 233,432.2 235.5,432.3 238.1,432.5 240.6,432.7 243.2,432.9 245.7,433.2 248.3,433.4 250.8,433.7 253.4,434.1 255.9,434.4 258.4,434.8 261,435.2 263.5,435.7 266.1,436.2 268.6,436.8 271.2,437.5 273.7,438.2 276.3,438.9 278.8,439.8 281.4,440.7 283.9,441.7 286.5,442.8 289,444 291.6,445.3 294.1,446.7 296.6,448.3 299.2,450 301.7,451.8 304.3,453.8 306.8,456 309.4,458.3 311.9,460.9 314.5,463.6 317,466.5 319.6,469.7 322.1,473.1 324.7,476.7 327.2,480.5 329.8,484.6 332.3,488.9 334.8,493.4 337.4,498.1 339.9,503.1 342.5,508.3 345,513.7 347.6,519.2 350.1,525 352.7,530.8 355.2,536.8 357.8,542.9 360.3,549 362.9,555.1 365.4,561.3 368,567.4 370.5,573.5 373,579.4 375.6,585.3 378.1,591 380.7,596.6 383.2,602 385.8,607.2 388.3,612.1 390.9,616.9 393.4,621.4 396,625.7 398.5,629.8 401.1,633.6 403.6,637.2 406.2,640.6 408.7,643.7 411.2,646.7 413.8,649.4 416.3,652 418.9,654.3 421.4,656.5 424,658.5 426.5,660.3 429.1,662 431.6,663.6 434.2,665 436.7,666.3 439.3,667.5 441.8,668.6 444.4,669.6 446.9,670.6 449.4,671.4 452,672.2 454.5,672.9 457.1,673.5 459.6,674.1 462.2,674.6 464.7,675.1 467.3,675.5 469.8,675.9 472.4,676.3 474.9,676.6 477.5,676.9 480,677.1 482.5,677.4 485.1,677.6 487.6,677.8 490.2,678 492.7,678.2 495.3,678.3 497.8,678.5 500.4,678.6 502.9,678.7 505.5,678.8 508,678.9 510.6,679 513.1,679" fill="none" stroke="#f0b27c" stroke-width="2"/>
<circle cx="108.2" cy="430.6" r="6.8" fill="#f0b27c"/>
<circle cx="145" cy="430.6" r="6.8" fill="#f0b27c"/>
<circle cx="181.8" cy="430.8" r="6.8" fill="#f0b27c"/>
<circle cx="218.6" cy="431.5" r="6.8" fill="#f0b27c"/>
<circle cx="255.4" cy="434.3" r="6.8" fill="#f0b27c"/>
<circle cx="292.2" cy="445.7" r="6.8" fill="#f0b27c"/>
<circle cx="329.1" cy="483.4" r="6.8" fill="#f0b27c"/>
<circle cx="365.9" cy="564" r="6.8" fill="#f0b27c"/>
<circle cx="402.7" cy="635.9" r="6.8" fill="#f0b27c"/>
<circle cx="439.5" cy="667.6" r="6.8" fill="#f0b27c"/>
<circle cx="476.3" cy="676.7" r="6.8" fill="#f0b27c"/>
<circle cx="513.1" cy="679" r="6.8" fill="#f0b27c"/>
<polyline points="108.2,430.6 110.7,430.6 113.3,430.6 115.8,430.6 118.4,430.6 120.9,430.6 123.5,430.6 126,430.6 128.6,430.6 131.1,430.6 133.7,430.6 136.2,430.6 138.8,430.6 141.3,430.6 143.9,430.6 146.4,430.6 148.9,430.6 151.5,430.6 154,430.6 156.6,430.6 159.1,430.6 161.7,430.7 164.2,430.7 166.8,430.7 169.3,430.7 171.9,430.7 174.4,430.7 177,430.7 179.5,430.8 182.1,430.8 184.6,430.8 187.1,430.8 189.7,430.9 192.2,430.9 194.8,430.9 197.3,431 199.9,431 202.4,431.1 205,431.1 207.5,431.2 210.1,431.3 212.6,431.3 215.2,431.4 217.7,431.5 220.3,431.6 222.8,431.7 225.3,431.8 227.9,432 230.4,432.1 233,432.3 235.5,432.5 238.1,432.7 240.6,432.9 243.2,433.1 245.7,433.4 248.3,433.7 250.8,434 253.4,434.3 255.9,434.7 258.4,435.1 261,435.6 263.5,436.1 266.1,436.7 268.6,437.3 271.2,438 273.7,438.7 276.3,439.6 278.8,440.4 281.4,441.4 283.9,442.5 286.5,443.7 289,445 291.6,446.4 294.1,447.9 296.6,449.6 299.2,451.4 301.7,453.3 304.3,455.5 306.8,457.8 309.4,460.3 311.9,462.9 314.5,465.8 317,468.9 319.6,472.3 322.1,475.8 324.7,479.6 327.2,483.6 329.8,487.8 332.3,492.3 334.8,497 337.4,501.9 339.9,507.1 342.5,512.4 345,517.9 347.6,523.6 350.1,529.4 352.7,535.4 355.2,541.4 357.8,547.5 360.3,553.7 362.9,559.8 365.4,566 368,572.1 370.5,578 373,583.9 375.6,589.7 378.1,595.3 380.7,600.7 383.2,606 385.8,611 388.3,615.8 390.9,620.4 393.4,624.7 396,628.9 398.5,632.7 401.1,636.4 403.6,639.8 406.2,643 408.7,646 411.2,648.8 413.8,651.4 416.3,653.8 418.9,656 421.4,658 424,659.9 426.5,661.6 429.1,663.2 431.6,664.7 434.2,666 436.7,667.3 439.3,668.4 441.8,669.4 444.4,670.3 446.9,671.2 449.4,672 452,672.7 454.5,673.3 457.1,673.9 459.6,674.5 462.2,675 464.7,675.4 467.3,675.8 469.8,676.2 472.4,676.5 474.9,676.8 477.5,677.1 480,677.3 482.5,677.6 485.1,677.8 487.6,678 490.2,678.1 492.7,678.3 495.3,678.4 497.8,678.5 500.4,678.7 502.9,678.8 505.5,678.9 508,678.9 510.6,679 513.1,679.1" fill="none" stroke="#0b6b46" stroke-width="2"/>
<circle cx="108.2" cy="430.6" r="6.8" fill="#0b6b46"/>
<circle cx="108.2" cy="430.6" r="2.9" fill="#1e5c36"/>
<circle cx="145" cy="430.6" r="6.8" fill="#0b6b46"/>
<circle cx="145" cy="430.6" r="2.9" fill="#1e5c36"/>
<circle cx="181.8" cy="430.8" r="6.8" fill="#0b6b46"/>
<circle cx="181.8" cy="430.8" r="2.9" fill="#1e5c36"/>
<circle cx="218.6" cy="440.1" r="6.8" fill="#0b6b46"/>
<circle cx="218.6" cy="440.1" r="2.9" fill="#1e5c36"/>
<circle cx="255.4" cy="434.6" r="6.8" fill="#0b6b46"/>
<circle cx="255.4" cy="434.6" r="2.9" fill="#1e5c36"/>
<circle cx="292.2" cy="446.8" r="6.8" fill="#0b6b46"/>
<circle cx="292.2" cy="446.8" r="2.9" fill="#1e5c36"/>
<circle cx="329.1" cy="478.2" r="6.8" fill="#0b6b46"/>
<circle cx="329.1" cy="478.2" r="2.9" fill="#1e5c36"/>
<circle cx="365.9" cy="581.5" r="6.8" fill="#0b6b46"/>
<circle cx="365.9" cy="581.5" r="2.9" fill="#1e5c36"/>
<circle cx="402.7" cy="622.6" r="6.8" fill="#0b6b46"/>
<circle cx="402.7" cy="622.6" r="2.9" fill="#1e5c36"/>
<circle cx="439.5" cy="668.5" r="6.8" fill="#0b6b46"/>
<circle cx="439.5" cy="668.5" r="2.9" fill="#1e5c36"/>
<circle cx="476.3" cy="677" r="6.8" fill="#0b6b46"/>
<circle cx="476.3" cy="677" r="2.9" fill="#1e5c36"/>
<circle cx="513.1" cy="679.1" r="6.8" fill="#0b6b46"/>
<circle cx="513.1" cy="679.1" r="2.9" fill="#1e5c36"/>
<polyline points="108.2,434.2 110.7,434.2 113.3,434.2 115.8,434.2 118.4,434.2 120.9,434.2 123.5,434.2 126,434.2 128.6,434.2 131.1,434.2 133.7,434.2 136.2,434.2 138.8,434.2 141.3,434.2 143.9,434.3 146.4,434.3 148.9,434.3 151.5,434.3 154,434.3 156.6,434.3 159.1,434.3 161.7,434.3 164.2,434.3 166.8,434.3 169.3,434.3 171.9,434.3 174.4,434.3 177,434.4 179.5,434.4 182.1,434.4 184.6,434.4 187.1,434.4 189.7,434.5 192.2,434.5 194.8,434.5 197.3,434.5 199.9,434.6 202.4,434.6 205,434.7 207.5,434.7 210.1,434.8 212.6,434.8 215.2,434.9 217.7,435 220.3,435 222.8,435.1 225.3,435.2 227.9,435.3 230.4,435.5 233,435.6 235.5,435.7 238.1,435.9 240.6,436.1 243.2,436.3 245.7,436.5 248.3,436.8 250.8,437 253.4,437.3 255.9,437.7 258.4,438 261,438.4 263.5,438.9 266.1,439.4 268.6,439.9 271.2,440.5 273.7,441.2 276.3,441.9 278.8,442.7 281.4,443.6 283.9,444.6 286.5,445.6 289,446.8 291.6,448.1 294.1,449.5 296.6,451.1 299.2,452.7 301.7,454.6 304.3,456.6 306.8,458.7 309.4,461.1 311.9,463.7 314.5,466.4 317,469.4 319.6,472.6 322.1,476.1 324.7,479.8 327.2,483.7 329.8,487.9 332.3,492.3 334.8,497 337.4,501.9 339.9,507.1 342.5,512.5 345,518.1 347.6,523.8 350.1,529.8 352.7,535.8 355.2,542 357.8,548.3 360.3,554.6 362.9,561 365.4,567.3 368,573.5 370.5,579.7 373,585.8 375.6,591.7 378.1,597.5 380.7,603.1 383.2,608.5 385.8,613.6 388.3,618.5 390.9,623.2 393.4,627.6 396,631.8 398.5,635.8 401.1,639.4 403.6,642.9 406.2,646.1 408.7,649.1 411.2,651.8 413.8,654.4 416.3,656.8 418.9,658.9 421.4,660.9 424,662.8 426.5,664.4 429.1,666 431.6,667.4 434.2,668.7 436.7,669.8 439.3,670.9 441.8,671.9 444.4,672.7 446.9,673.5 449.4,674.3 452,674.9 454.5,675.5 457.1,676.1 459.6,676.6 462.2,677 464.7,677.4 467.3,677.8 469.8,678.1 472.4,678.4 474.9,678.7 477.5,678.9 480,679.2 482.5,679.4 485.1,679.5 487.6,679.7 490.2,679.9 492.7,680 495.3,680.1 497.8,680.2 500.4,680.3 502.9,680.4 505.5,680.5 508,680.6 510.6,680.6 513.1,680.7" fill="none" stroke="#9a1b1f" stroke-width="2"/>
<circle cx="108.2" cy="434.2" r="6.8" fill="#9a1b1f"/>
<circle cx="145" cy="453.3" r="6.8" fill="#9a1b1f"/>
<circle cx="181.8" cy="434.4" r="6.8" fill="#9a1b1f"/>
<circle cx="218.6" cy="435" r="6.8" fill="#9a1b1f"/>
<circle cx="255.4" cy="438.6" r="6.8" fill="#9a1b1f"/>
<circle cx="292.2" cy="450.3" r="6.8" fill="#9a1b1f"/>
<circle cx="329.1" cy="486.7" r="6.8" fill="#9a1b1f"/>
<circle cx="365.9" cy="568.4" r="6.8" fill="#9a1b1f"/>
<circle cx="402.7" cy="634.3" r="6.8" fill="#9a1b1f"/>
<circle cx="439.5" cy="671" r="6.8" fill="#9a1b1f"/>
<circle cx="476.3" cy="678.8" r="6.8" fill="#9a1b1f"/>
<circle cx="513.1" cy="680.7" r="6.8" fill="#9a1b1f"/>
<polyline points="108.2,433.5 110.7,433.5 113.3,433.5 115.8,433.5 118.4,433.5 120.9,433.5 123.5,433.5 126,433.6 128.6,433.6 131.1,433.6 133.7,433.6 136.2,433.6 138.8,433.6 141.3,433.6 143.9,433.6 146.4,433.6 148.9,433.7 151.5,433.7 154,433.7 156.6,433.7 159.1,433.7 161.7,433.8 164.2,433.8 166.8,433.8 169.3,433.9 171.9,433.9 174.4,433.9 177,434 179.5,434 182.1,434.1 184.6,434.2 187.1,434.2 189.7,434.3 192.2,434.4 194.8,434.5 197.3,434.6 199.9,434.7 202.4,434.9 205,435 207.5,435.2 210.1,435.3 212.6,435.5 215.2,435.7 217.7,436 220.3,436.2 222.8,436.5 225.3,436.8 227.9,437.1 230.4,437.5 233,437.9 235.5,438.4 238.1,438.9 240.6,439.4 243.2,440 245.7,440.7 248.3,441.4 250.8,442.2 253.4,443 255.9,444 258.4,445 261,446.2 263.5,447.4 266.1,448.8 268.6,450.3 271.2,451.9 273.7,453.6 276.3,455.5 278.8,457.6 281.4,459.9 283.9,462.3 286.5,464.9 289,467.7 291.6,470.7 294.1,474 296.6,477.4 299.2,481.1 301.7,485.1 304.3,489.2 306.8,493.6 309.4,498.3 311.9,503.1 314.5,508.2 317,513.4 319.6,518.9 322.1,524.6 324.7,530.3 327.2,536.3 329.8,542.3 332.3,548.4 334.8,554.6 337.4,560.7 339.9,566.9 342.5,573 345,579.1 347.6,585 350.1,590.8 352.7,596.5 355.2,602 357.8,607.4 360.3,612.5 362.9,617.4 365.4,622.1 368,626.6 370.5,630.8 373,634.8 375.6,638.5 378.1,642 380.7,645.3 383.2,648.4 385.8,651.3 388.3,654 390.9,656.4 393.4,658.7 396,660.8 398.5,662.8 401.1,664.6 403.6,666.2 406.2,667.8 408.7,669.1 411.2,670.4 413.8,671.6 416.3,672.7 418.9,673.6 421.4,674.5 424,675.3 426.5,676.1 429.1,676.7 431.6,677.4 434.2,677.9 436.7,678.4 439.3,678.9 441.8,679.3 444.4,679.7 446.9,680 449.4,680.4 452,680.6 454.5,680.9 457.1,681.1 459.6,681.4 462.2,681.5 464.7,681.7 467.3,681.9 469.8,682 472.4,682.2 474.9,682.3 477.5,682.4 480,682.5 482.5,682.6 485.1,682.7 487.6,682.7 490.2,682.8 492.7,682.9 495.3,682.9 497.8,683 500.4,683 502.9,683 505.5,683.1 508,683.1 510.6,683.1 513.1,683.2" fill="none" stroke="#5c1f5d" stroke-width="2"/>
<polygon points="108.2,427.9 113.8,433.5 108.2,439.1 102.6,433.5" fill="#5c1f5d"/>
<polygon points="145,428 150.6,433.6 145,439.2 139.4,433.6" fill="#5c1f5d"/>
<polygon points="181.8,428.5 187.4,434.1 181.8,439.7 176.2,434.1" fill="#5c1f5d"/>
<polygon points="218.6,430.4 224.2,436 218.6,441.6 213,436" fill="#5c1f5d"/>
<polygon points="255.4,433 261,438.6 255.4,444.2 249.8,438.6" fill="#5c1f5d"/>
<polygon points="292.2,463.1 297.8,468.7 292.2,474.3 286.6,468.7" fill="#5c1f5d"/>
<polygon points="329.1,535 334.7,540.6 329.1,546.2 323.5,540.6" fill="#5c1f5d"/>
<polygon points="365.9,617.3 371.5,622.9 365.9,628.5 360.3,622.9" fill="#5c1f5d"/>
<polygon points="402.7,660.1 408.3,665.7 402.7,671.3 397.1,665.7" fill="#5c1f5d"/>
<polygon points="439.5,673.3 445.1,678.9 439.5,684.5 433.9,678.9" fill="#5c1f5d"/>
<polygon points="476.3,676.7 481.9,682.3 476.3,687.9 470.7,682.3" fill="#5c1f5d"/>
<polygon points="513.1,677.6 518.7,683.2 513.1,688.8 507.5,683.2" fill="#5c1f5d"/>
<polyline points="108.2,429.1 110.7,429.1 113.3,429.1 115.8,429.1 118.4,429.1 120.9,429.1 123.5,429.1 126,429.1 128.6,429.1 131.1,429.1 133.7,429.1 136.2,429.1 138.8,429.1 141.3,429.1 143.9,429.1 146.4,429.1 148.9,429.1 151.5,429.1 154,429.1 156.6,429.1 159.1,429.1 161.7,429.1 164.2,429.1 166.8,429.1 169.3,429.1 171.9,429.1 174.4,429.1 177,429.1 179.5,429.1 182.1,429.1 184.6,429.1 187.1,429.1 189.7,429.1 192.2,429.1 194.8,429.2 197.3,429.2 199.9,429.2 202.4,429.2 205,429.2 207.5,429.2 210.1,429.2 212.6,429.2 215.2,429.3 217.7,429.3 220.3,429.3 222.8,429.3 225.3,429.4 227.9,429.4 230.4,429.4 233,429.5 235.5,429.5 238.1,429.6 240.6,429.6 243.2,429.7 245.7,429.8 248.3,429.9 250.8,430 253.4,430.1 255.9,430.2 258.4,430.3 261,430.5 263.5,430.6 266.1,430.8 268.6,431 271.2,431.3 273.7,431.5 276.3,431.8 278.8,432.1 281.4,432.5 283.9,432.9 286.5,433.4 289,433.9 291.6,434.5 294.1,435.1 296.6,435.8 299.2,436.6 301.7,437.4 304.3,438.4 306.8,439.5 309.4,440.7 311.9,442 314.5,443.5 317,445.1 319.6,446.9 322.1,448.9 324.7,451.1 327.2,453.5 329.8,456.1 332.3,459 334.8,462.1 337.4,465.5 339.9,469.2 342.5,473.2 345,477.5 347.6,482.1 350.1,487 352.7,492.3 355.2,497.8 357.8,503.6 360.3,509.7 362.9,516 365.4,522.6 368,529.3 370.5,536.2 373,543.3 375.6,550.3 378.1,557.4 380.7,564.5 383.2,571.5 385.8,578.4 388.3,585.2 390.9,591.7 393.4,598 396,604.1 398.5,609.9 401.1,615.4 403.6,620.6 406.2,625.5 408.7,630.1 411.2,634.4 413.8,638.4 416.3,642 418.9,645.4 421.4,648.5 424,651.4 426.5,654 429.1,656.4 431.6,658.6 434.2,660.6 436.7,662.3 439.3,664 441.8,665.4 444.4,666.8 446.9,667.9 449.4,669 452,670 454.5,670.9 457.1,671.6 459.6,672.3 462.2,673 464.7,673.5 467.3,674 469.8,674.5 472.4,674.9 474.9,675.3 477.5,675.6 480,675.9 482.5,676.1 485.1,676.4 487.6,676.6 490.2,676.8 492.7,676.9 495.3,677.1 497.8,677.2 500.4,677.3 502.9,677.4 505.5,677.5 508,677.6 510.6,677.7 513.1,677.7" fill="none" stroke="#000000" stroke-width="2"/>
<polygon points="108.2,434.9 114,424.7 102.4,424.7" fill="#000000"/>
<polygon points="145,434.9 150.8,424.7 139.2,424.7" fill="#000000"/>
<polygon points="181.8,434.9 187.6,424.8 176,424.8" fill="#000000"/>
<polygon points="218.6,435.1 224.4,424.9 212.8,424.9" fill="#000000"/>
<polygon points="255.4,436 261.2,425.8 249.6,425.8" fill="#000000"/>
<polygon points="292.2,436.4 298,426.2 286.4,426.2" fill="#000000"/>
<polygon points="329.1,436.4 334.9,426.2 323.3,426.2" fill="#000000"/>
<polygon points="365.9,529.6 371.7,519.5 360.1,519.5" fill="#000000"/>
<polygon points="402.7,624.6 408.5,614.4 396.9,614.4" fill="#000000"/>
<polygon points="439.5,669.9 445.3,659.8 433.7,659.8" fill="#000000"/>
<polygon points="476.3,681.2 482.1,671.1 470.5,671.1" fill="#000000"/>
<polygon points="513.1,683.5 518.9,673.4 507.3,673.4" fill="#000000"/>
<polyline points="108.2,430.6 110.7,430.6 113.3,430.6 115.8,430.6 118.4,430.6 120.9,430.6 123.5,430.6 126,430.6 128.6,430.6 131.1,430.6 133.7,430.6 136.2,430.6 138.8,430.6 141.3,430.6 143.9,430.6 146.4,430.6 148.9,430.6 151.5,430.6 154,430.6 156.6,430.6 159.1,430.7 161.7,430.7 164.2,430.7 166.8,430.7 169.3,430.7 171.9,430.7 174.4,430.7 177,430.8 179.5,430.8 182.1,430.8 184.6,430.8 187.1,430.9 189.7,430.9 192.2,430.9 194.8,431 197.3,431 199.9,431.1 202.4,431.1 205,431.2 207.5,431.3 210.1,431.3 212.6,431.4 215.2,431.5 217.7,431.6 220.3,431.7 222.8,431.9 225.3,432 227.9,432.2 230.4,432.3 233,432.5 235.5,432.7 238.1,432.9 240.6,433.2 243.2,433.5 245.7,433.8 248.3,434.1 250.8,434.5 253.4,434.9 255.9,435.4 258.4,435.9 261,436.4 263.5,437 266.1,437.7 268.6,438.4 271.2,439.2 273.7,440.1 276.3,441.1 278.8,442.2 281.4,443.4 283.9,444.6 286.5,446 289,447.6 291.6,449.3 294.1,451.1 296.6,453.1 299.2,455.2 301.7,457.6 304.3,460.1 306.8,462.9 309.4,465.8 311.9,469 314.5,472.4 317,476.1 319.6,480 322.1,484.1 324.7,488.5 327.2,493.1 329.8,498 332.3,503.1 334.8,508.4 337.4,514 339.9,519.7 342.5,525.6 345,531.7 347.6,537.9 350.1,544.1 352.7,550.5 355.2,556.8 357.8,563.2 360.3,569.5 362.9,575.8 365.4,582 368,588 370.5,593.9 373,599.7 375.6,605.2 378.1,610.5 380.7,615.6 383.2,620.5 385.8,625.1 388.3,629.4 390.9,633.6 393.4,637.4 396,641.1 398.5,644.5 401.1,647.6 403.6,650.6 406.2,653.3 408.7,655.8 411.2,658.2 413.8,660.3 416.3,662.3 418.9,664.1 421.4,665.8 424,667.3 426.5,668.7 429.1,670 431.6,671.1 434.2,672.2 436.7,673.2 439.3,674.1 441.8,674.9 444.4,675.6 446.9,676.3 449.4,676.9 452,677.4 454.5,677.9 457.1,678.4 459.6,678.8 462.2,679.2 464.7,679.5 467.3,679.8 469.8,680.1 472.4,680.3 474.9,680.5 477.5,680.8 480,680.9 482.5,681.1 485.1,681.3 487.6,681.4 490.2,681.5 492.7,681.6 495.3,681.7 497.8,681.8 500.4,681.9 502.9,682 505.5,682.1 508,682.1 510.6,682.2 513.1,682.2" fill="none" stroke="#f58020" stroke-width="2"/>
<polygon points="108.2,424.8 114,434.9 102.4,434.9" fill="#f58020"/>
<polygon points="145,424.8 150.8,435 139.2,435" fill="#f58020"/>
<polygon points="181.8,425 187.6,435.2 176,435.2" fill="#f58020"/>
<polygon points="218.6,425.9 224.4,436 212.8,436" fill="#f58020"/>
<polygon points="255.4,429.5 261.2,439.6 249.6,439.6" fill="#f58020"/>
<polygon points="292.2,443.9 298,454.1 286.4,454.1" fill="#f58020"/>
<polygon points="329.1,490.8 334.9,501 323.3,501" fill="#f58020"/>
<polygon points="365.9,577.3 371.7,587.4 360.1,587.4" fill="#f58020"/>
<polygon points="402.7,643.7 408.5,653.9 396.9,653.9" fill="#f58020"/>
<polygon points="439.5,668.3 445.3,678.5 433.7,678.5" fill="#f58020"/>
<polygon points="476.3,674.9 482.1,685 470.5,685" fill="#f58020"/>
<polygon points="513.1,676.4 518.9,686.6 507.3,686.6" fill="#f58020"/>
<polyline points="108.2,485.3 110.7,486.9 113.3,488.6 115.8,490.3 118.4,492.2 120.9,494.2 123.5,496.3 126,498.6 128.6,500.9 131.1,503.4 133.7,506 136.2,508.7 138.8,511.5 141.3,514.5 143.9,517.5 146.4,520.7 148.9,524.1 151.5,527.5 154,531.1 156.6,534.7 159.1,538.5 161.7,542.4 164.2,546.3 166.8,550.3 169.3,554.4 171.9,558.6 174.4,562.7 177,567 179.5,571.2 182.1,575.5 184.6,579.7 187.1,584 189.7,588.2 192.2,592.4 194.8,596.5 197.3,600.6 199.9,604.6 202.4,608.5 205,612.4 207.5,616.1 210.1,619.7 212.6,623.3 215.2,626.7 217.7,630 220.3,633.1 222.8,636.2 225.3,639.1 227.9,641.9 230.4,644.6 233,647.2 235.5,649.6 238.1,651.9 240.6,654.1 243.2,656.2 245.7,658.2 248.3,660 250.8,661.8 253.4,663.4 255.9,665 258.4,666.5 261,667.8 263.5,669.1 266.1,670.4 268.6,671.5 271.2,672.6 273.7,673.6 276.3,674.5 278.8,675.4 281.4,676.2 283.9,677 286.5,677.7 289,678.3 291.6,678.9 294.1,679.5 296.6,680.1 299.2,680.6 301.7,681 304.3,681.5 306.8,681.9 309.4,682.2 311.9,682.6 314.5,682.9 317,683.2 319.6,683.5 322.1,683.8 324.7,684 327.2,684.2 329.8,684.4 332.3,684.6 334.8,684.8 337.4,685 339.9,685.1 342.5,685.3 345,685.4 347.6,685.5 350.1,685.6 352.7,685.7 355.2,685.8 357.8,685.9 360.3,686 362.9,686.1 365.4,686.2 368,686.2 370.5,686.3 373,686.4 375.6,686.4 378.1,686.5 380.7,686.5 383.2,686.6 385.8,686.6 388.3,686.6 390.9,686.7 393.4,686.7 396,686.7 398.5,686.8 401.1,686.8 403.6,686.8 406.2,686.8 408.7,686.8 411.2,686.9 413.8,686.9 416.3,686.9 418.9,686.9 421.4,686.9 424,686.9 426.5,686.9 429.1,687 431.6,687 434.2,687 436.7,687 439.3,687 441.8,687 444.4,687 446.9,687 449.4,687 452,687 454.5,687 457.1,687 459.6,687 462.2,687 464.7,687.1 467.3,687.1 469.8,687.1 472.4,687.1 474.9,687.1 477.5,687.1 480,687.1 482.5,687.1 485.1,687.1 487.6,687.1 490.2,687.1 492.7,687.1 495.3,687.1 497.8,687.1 500.4,687.1 502.9,687.1 505.5,687.1 508,687.1 510.6,687.1 513.1,687.1" fill="none" stroke="#ec2027" stroke-width="2"/>
<rect x="103.2" y="473.2" width="10" height="10" fill="#ec2027"/>
<rect x="140" y="529.6" width="10" height="10" fill="#ec2027"/>
<rect x="176.8" y="553.8" width="10" height="10" fill="#ec2027"/>
<rect x="213.6" y="625.7" width="10" height="10" fill="#ec2027"/>
<rect x="250.4" y="658.6" width="10" height="10" fill="#ec2027"/>
<rect x="287.2" y="674" width="10" height="10" fill="#ec2027"/>
<rect x="324.1" y="679.2" width="10" height="10" fill="#ec2027"/>
<rect x="360.9" y="681.4" width="10" height="10" fill="#ec2027"/>
<rect x="397.7" y="681.4" width="10" height="10" fill="#ec2027"/>
<rect x="434.5" y="681.4" width="10" height="10" fill="#ec2027"/>
<rect x="471.3" y="681.4" width="10" height="10" fill="#ec2027"/>
<rect x="508.1" y="681.4" width="10" height="10" fill="#ec2027"/>
<polyline points="108.2,429.8 110.7,429.8 113.3,429.8 115.8,429.8 118.4,429.8 120.9,429.8 123.5,429.8 126,429.8 128.6,429.8 131.1,429.8 133.7,429.8 136.2,429.8 138.8,429.8 141.3,429.9 143.9,429.9 146.4,429.9 148.9,429.9 151.5,429.9 154,429.9 156.6,429.9 159.1,429.9 161.7,429.9 164.2,429.9 166.8,429.9 169.3,429.9 171.9,429.9 174.4,429.9 177,430 179.5,430 182.1,430 184.6,430 187.1,430 189.7,430 192.2,430.1 194.8,430.1 197.3,430.1 199.9,430.1 202.4,430.2 205,430.2 207.5,430.2 210.1,430.3 212.6,430.3 215.2,430.4 217.7,430.4 220.3,430.5 222.8,430.6 225.3,430.6 227.9,430.7 230.4,430.8 233,430.9 235.5,431 238.1,431.1 240.6,431.3 243.2,431.4 245.7,431.6 248.3,431.7 250.8,431.9 253.4,432.1 255.9,432.4 258.4,432.6 261,432.9 263.5,433.2 266.1,433.5 268.6,433.9 271.2,434.3 273.7,434.7 276.3,435.2 278.8,435.7 281.4,436.3 283.9,436.9 286.5,437.6 289,438.4 291.6,439.2 294.1,440.1 296.6,441.1 299.2,442.1 301.7,443.3 304.3,444.5 306.8,445.9 309.4,447.4 311.9,449 314.5,450.8 317,452.7 319.6,454.7 322.1,457 324.7,459.4 327.2,461.9 329.8,464.7 332.3,467.6 334.8,470.8 337.4,474.2 339.9,477.7 342.5,481.5 345,485.6 347.6,489.8 350.1,494.3 352.7,498.9 355.2,503.8 357.8,508.9 360.3,514.1 362.9,519.5 365.4,525.1 368,530.8 370.5,536.6 373,542.5 375.6,548.5 378.1,554.5 380.7,560.5 383.2,566.5 385.8,572.4 388.3,578.3 390.9,584.1 393.4,589.7 396,595.2 398.5,600.6 401.1,605.8 403.6,610.7 406.2,615.5 408.7,620.1 411.2,624.5 413.8,628.6 416.3,632.6 418.9,636.3 421.4,639.8 424,643 426.5,646.1 429.1,649 431.6,651.7 434.2,654.2 436.7,656.5 439.3,658.6 441.8,660.6 444.4,662.5 446.9,664.2 449.4,665.7 452,667.2 454.5,668.5 457.1,669.7 459.6,670.8 462.2,671.9 464.7,672.8 467.3,673.7 469.8,674.5 472.4,675.2 474.9,675.9 477.5,676.5 480,677 482.5,677.5 485.1,678 487.6,678.4 490.2,678.8 492.7,679.1 495.3,679.5 497.8,679.7 500.4,680 502.9,680.3 505.5,680.5 508,680.7 510.6,680.9 513.1,681" fill="none" stroke="#3d58a7" stroke-width="2"/>
<circle cx="108.2" cy="429.8" r="5.8" fill="#3d58a7"/>
<circle cx="145" cy="429.9" r="5.8" fill="#3d58a7"/>
<circle cx="181.8" cy="430" r="5.8" fill="#3d58a7"/>
<circle cx="218.6" cy="430.5" r="5.8" fill="#3d58a7"/>
<circle cx="255.4" cy="432.3" r="5.8" fill="#3d58a7"/>
<circle cx="292.2" cy="434.9" r="5.8" fill="#3d58a7"/>
<circle cx="329.1" cy="478.2" r="5.8" fill="#3d58a7"/>
<circle cx="365.9" cy="526.1" r="5.8" fill="#3d58a7"/>
<circle cx="402.7" cy="609" r="5.8" fill="#3d58a7"/>
<circle cx="439.5" cy="658.8" r="5.8" fill="#3d58a7"/>
<circle cx="476.3" cy="676.2" r="5.8" fill="#3d58a7"/>
<circle cx="513.1" cy="681" r="5.8" fill="#3d58a7"/>
<text x="698.4" y="382.1" font-size="21" textLength="54.5" lengthAdjust="spacingAndGlyphs">EC50</text>
<line x1="565" y1="411.7" x2="591" y2="411.7" stroke="#3d58a7" stroke-width="2.2"/>
<circle cx="578" cy="411.7" r="6.1" fill="#3d58a7"/>
<text x="595.3" y="418.4" font-size="21" textLength="88.5" lengthAdjust="spacingAndGlyphs">nCoV396</text>
<text x="695" y="415.1" font-size="21" textLength="67" lengthAdjust="spacingAndGlyphs">0.0032</text>
<line x1="565" y1="445.5" x2="591" y2="445.5" stroke="#ec2027" stroke-width="2.2"/>
<rect x="572.8" y="440.2" width="10.5" height="10.5" fill="#ec2027"/>
<text x="595.3" y="451.4" font-size="21" textLength="88.5" lengthAdjust="spacingAndGlyphs">nCoV400</text>
<text x="695" y="450.9" font-size="21" textLength="67" lengthAdjust="spacingAndGlyphs">1.1140</text>
<line x1="565" y1="479.3" x2="591" y2="479.3" stroke="#f58020" stroke-width="2.2"/>
<polygon points="578,473.2 584.1,483.9 571.9,483.9" fill="#f58020"/>
<text x="595.3" y="484.7" font-size="21" textLength="88.5" lengthAdjust="spacingAndGlyphs">nCoV402</text>
<text x="695" y="482.7" font-size="21" textLength="67" lengthAdjust="spacingAndGlyphs">0.0063</text>
<line x1="565" y1="512.6" x2="591" y2="512.6" stroke="#000000" stroke-width="2.2"/>
<polygon points="578,518.7 584.1,508 571.9,508" fill="#000000"/>
<text x="595.3" y="518.5" font-size="21" textLength="88.5" lengthAdjust="spacingAndGlyphs">nCoV416</text>
<text x="695" y="521.5" font-size="21" textLength="67" lengthAdjust="spacingAndGlyphs">0.0033</text>
<line x1="565" y1="546" x2="591" y2="546" stroke="#5c1f5d" stroke-width="2.2"/>
<polygon points="578,540.1 583.9,546 578,551.9 572.1,546" fill="#5c1f5d"/>
<text x="595.3" y="552" font-size="21" textLength="88.5" lengthAdjust="spacingAndGlyphs">nCoV424</text>
<text x="695" y="554.5" font-size="21" textLength="67" lengthAdjust="spacingAndGlyphs">0.0118</text>
<line x1="565" y1="579.5" x2="591" y2="579.5" stroke="#9a1b1f" stroke-width="2.2"/>
<circle cx="578" cy="579.5" r="7.1" fill="#9a1b1f"/>
<text x="595.3" y="585.8" font-size="21" textLength="88.5" lengthAdjust="spacingAndGlyphs">nCoV425</text>
<text x="695" y="585.3" font-size="21" textLength="67" lengthAdjust="spacingAndGlyphs">0.0052</text>
<line x1="565" y1="612.8" x2="591" y2="612.8" stroke="#0b6b46" stroke-width="2.2"/>
<circle cx="578" cy="612.8" r="7.1" fill="#0b6b46"/>
<circle cx="578" cy="612.8" r="3" fill="#1e5c36"/>
<text x="595.3" y="618.7" font-size="21" textLength="88.5" lengthAdjust="spacingAndGlyphs">nCoV433</text>
<text x="695" y="618.7" font-size="21" textLength="67" lengthAdjust="spacingAndGlyphs">0.0053</text>
<line x1="565" y1="646.1" x2="591" y2="646.1" stroke="#f0b27c" stroke-width="2.2"/>
<circle cx="578" cy="646.1" r="7.1" fill="#f0b27c"/>
<text x="595.3" y="652.5" font-size="21" textLength="88.5" lengthAdjust="spacingAndGlyphs">nCoV454</text>
<text x="695" y="652.5" font-size="21" textLength="67" lengthAdjust="spacingAndGlyphs">0.0050</text>
<line x1="565" y1="679.6" x2="591" y2="679.6" stroke="#6abd45" stroke-width="2.2"/>
<rect x="571.1" y="672.7" width="13.9" height="13.9" rx="2" fill="#6abd45"/>
<text x="595.3" y="686.3" font-size="21" textLength="88.5" lengthAdjust="spacingAndGlyphs">nCoV457</text>
<text x="695" y="686.3" font-size="21" textLength="67" lengthAdjust="spacingAndGlyphs">0.0026</text>
<path d="M67.1,1121.9l1.6,0.1l1.5,0.1l1.6,0.2l1.5,0l1.6,-0.2l1.6,-0.5l1.5,-0.4l1.6,-0.1l1.5,-0.2l1.6,-0.5l1.5,-0.4l1.6,0l1.6,-0.2l1.5,-0.4l1.6,-0.1l1.5,-0.2l1.6,0.2l1.6,-0.2l1.5,0l1.6,-0.5l1.5,-0.2l1.6,-0.6l1.6,-0.3l1.5,-0.5l1.6,0.3l1.5,-0.1l1.6,-0.3l1.5,-0.7l1.6,0l1.6,-0.2l1.5,-0.1l1.6,-0.4l1.5,-0.5l1.6,-0.3l1.6,-0.4l1.5,-0.2l1.6,-0.3l1.5,-0.3l1.6,-0.2l1.6,-0.4l1.5,-0.1l1.6,-0.3l1.5,-0.5l1.6,-0.3l1.5,-0.5l1.6,-0.1l1.6,-0.5l1.5,-0.5l1.6,-0.4l1.5,-0.3l1.6,0l1.6,-0.2l1.5,-0.5l1.6,-0.5l1.5,-0.2l1.6,-0.4l1.6,-0.5l1.5,-0.1l1.6,-0.2l1.5,0l1.6,-0.5l1.5,0l1.6,-0.3l1.6,-0.3l1.5,-0.7l1.6,-0.6l1.5,-0.1l1.6,0.1l1.6,-0.2l1.5,0l1.6,-0.3l1.5,0l1.6,-0.6l1.6,-0.3l1.5,-0.1l1.6,0.2l1.5,0.1l1.6,-0.4l1.5,-0.1l1.6,0l1.6,0.1l1.5,-0.1l1.6,-0.1l1.5,0.2l1.6,0l1.6,0l0.3,-0.4l0.4,-0.1l0.4,-0.1l0.4,0.1l0.4,0.2l0.4,-0.2l0.4,0.1l0.4,-0.2l0.4,0.5l0.4,-0.1l0.3,0.5l0.4,0.1l0.4,0.2l0.4,0l0.4,0.2l0.4,1l0.4,2.3l0.4,1.4l0.4,-0.8l0.4,-2.4l0.3,-1.5l0.4,-0.4l0.4,-0.1l0.4,-0.1l0.4,0.2l0.4,0.1l0.4,0.1l0.4,0l0.4,0l0.3,0.1l0.4,-0.3l0.4,0l1.6,-0.1l1.5,0.3l1.6,0.2l1.6,0.4l1.5,0.1l1.6,0l1.5,0l1.6,-0.3l1.6,0.4l1.5,-0.4l1.6,0.3l1.5,-0.4l1.6,0.2l1.6,0.1l1.5,0l1.6,-0.2l1.5,-0.2l1.6,0.3l1.5,0.3l1.6,0.2l1.6,-0.2l1.5,0l1.6,-0.1l1.5,0.4l1.6,0l1.6,0.2l1.5,-0.3l1.6,0l1.5,-0.4l1.6,0.2l1.6,0.1l1.5,0.3l1.6,0.1l1.5,-0.1l1.6,0l1.5,0l1.6,0.3l1.6,0.1l1.5,-0.4l1.6,-0.1l1.5,0.1l1.6,0.2l1.6,-0.3l1.5,0.1l1.6,0.1l1.5,0.3l1.6,0.1l1.5,-0.1l1.6,-0.1l1.6,-0.3l1.5,0.2l1.6,0l1.5,0.1l1.6,-0.1l1.6,0.3l1.5,0.1l1.6,-0.2l1.5,-0.1l1.6,-0.3l1.6,0.3l1.5,0l1.6,0.2l1.5,-0.1l1.6,-0.1l1.5,0l1.6,0.1l1.6,-0.2l1.5,-0.2l1.6,0l1.5,0.3l1.6,0.4l1.6,-0.1l1.5,-0.2l1.6,-0.2l1.5,0l1.6,0.1l1.6,-0.2l1.5,0l1.6,0.2l1.5,-0.1l1.6,0.4l1.5,-0.2l1.6,0.2l1.6,-0.4l1.5,-0.1l1.6,-0.2l1.5,0.4l1.6,0.6l1.6,0.1l1.5,0l1.6,-0.3l1.5,0l1.6,0.2l1.6,0.3l1.5,0.1l1.6,-0.2l1.5,-0.3l1.6,0l1.5,0.2l1.6,0.2l1.6,0.1l1.5,0l1.6,0l1.5,-0.1l1.6,-0.1l1.6,-0.4l1.5,0.3l1.6,0.1l1.5,0.3l1.6,0l1.6,-0.2l1.5,0l1.6,-0.2l1.5,0l1.6,-0.5l1.5,0.3l1.6,-0.1l1.6,0.4l1.5,-0.2l1.6,0.4l1.5,0l1.6,-0.1l1.6,-0.2l1.5,-0.1l1.6,0.2l1.5,-0.2l1.6,0l1.6,0.4l1.5,0.3l1.6,0.3l1.5,0.2l1.6,0l1.5,-0.6l1.6,-0.5l1.6,0.1l1.5,0.4l1.6,-0.2l1.5,-0.2l1.6,-0.2l1.6,0.2l1.5,0l1.6,-0.1l1.5,-0.1l1.6,0l1.6,0.3l1.5,0l1.6,0.2l1.5,-0.4l1.6,0.3l1.5,-0.1l1.6,0.2l1.6,0l1.5,-0.3l1.6,-0.3l1.5,-0.1l1.6,0.3" fill="none" stroke="#000000" stroke-width="2.3" stroke-linejoin="round"/>
<path d="M67.1,1121.8l1.6,0.4l1.5,-0.1l1.6,-0.1l1.5,-0.7l1.6,-0.1l1.6,-0.6l1.5,-0.6l1.6,-1.2l1.5,-1l1.6,-0.9l1.5,-0.9l1.6,-0.6l1.6,-0.5l1.5,0l1.6,-0.9l1.5,-0.8l1.6,-1l1.6,-0.3l1.5,-0.4l1.6,-0.3l1.5,-0.3l1.6,-0.4l1.6,-0.4l1.5,-0.8l1.6,-0.5l1.5,-0.5l1.6,0l1.5,-0.2l1.6,-0.7l1.6,-0.6l1.5,-0.5l1.6,-0.1l1.5,-0.1l1.6,-0.4l1.6,-0.6l1.5,-0.5l1.6,-0.4l1.5,-0.2l1.6,-0.5l1.6,-0.2l1.5,-0.4l1.6,-0.2l1.5,-0.8l1.6,-0.3l1.5,-0.6l1.6,-0.5l1.6,-0.5l1.5,-0.1l1.6,-0.2l1.5,-0.4l1.6,-0.3l1.6,-0.4l1.5,-0.7l1.6,-0.5l1.5,-0.2l1.6,0.2l1.6,-0.4l1.5,-0.1l1.6,-0.4l1.5,-0.4l1.6,-0.4l1.5,-0.7l1.6,-0.4l1.6,-0.5l1.5,-0.2l1.6,-0.4l1.5,-0.2l1.6,-0.1l1.6,0.3l1.5,-0.3l1.6,-0.6l1.5,-0.7l1.6,0l1.6,0.2l1.5,0.1l1.6,-0.3l1.5,-0.3l1.6,-0.2l1.5,-0.1l1.6,0l1.6,-0.1l1.5,0l1.6,-0.1l1.5,-0.2l1.6,-0.4l1.6,-0.2l0.3,0l0.4,0.6l0.4,0l0.4,0.3l0.4,-0.1l0.4,-0.1l0.4,-0.5l0.4,-0.3l0.4,0.3l0.4,-0.8l0.3,-4.2l0.4,-10l0.4,-8.4l0.4,3.5l0.4,10.4l0.4,7.2l0.4,4.3l0.4,4.5l0.4,-0.8l0.4,-4.7l0.3,-1.9l0.4,-0.7l0.4,-0.2l0.4,-0.4l0.4,0.3l0.4,0.1l0.4,0.2l0.4,0l0.4,0.1l0.3,0.2l0.4,0.2l0.4,-0.2l1.6,-0.2l1.5,-0.2l1.6,-0.1l1.6,0.3l1.5,0.2l1.6,0.1l1.5,-0.3l1.6,-0.1l1.6,-0.2l1.5,0.1l1.6,0.1l1.5,0.4l1.6,-0.1l1.6,-0.3l1.5,0.2l1.6,-0.1l1.5,0l1.6,-0.6l1.5,0.3l1.6,0.2l1.6,0.5l1.5,-0.5l1.6,0l1.5,-0.5l1.6,0.6l1.6,-0.1l1.5,0.6l1.6,0l1.5,-0.2l1.6,0l1.6,-0.3l1.5,0.2l1.6,-0.1l1.5,0.3l1.6,0.2l1.5,-0.2l1.6,0l1.6,0.1l1.5,0.1l1.6,0.1l1.5,0.1l1.6,-0.1l1.6,-0.3l1.5,0.1l1.6,0l1.5,0.3l1.6,-0.1l1.5,-0.1l1.6,0l1.6,-0.5l1.5,0.3l1.6,-0.1l1.5,0.3l1.6,0l1.6,0l1.5,0l1.6,-0.2l1.5,0.1l1.6,0.2l1.6,0.1l1.5,0l1.6,-0.3l1.5,0.1l1.6,0l1.5,0.5l1.6,-0.2l1.6,0.2l1.5,0l1.6,0.1l1.5,-0.3l1.6,-0.1l1.6,0.2l1.5,0.3l1.6,0l1.5,-0.2l1.6,0l1.6,-0.1l1.5,0l1.6,0l1.5,-0.2l1.6,0.3l1.5,0.1l1.6,0.4l1.6,-0.5l1.5,-0.1l1.6,-0.4l1.5,0.4l1.6,-0.1l1.6,0.1l1.5,-0.3l1.6,0.2l1.5,0.3l1.6,0.5l1.6,0.1l1.5,-0.4l1.6,-0.3l1.5,-0.1l1.6,0.4l1.5,0.2l1.6,-0.4l1.6,0.3l1.5,-0.1l1.6,0.4l1.5,-0.6l1.6,0.2l1.6,-0.1l1.5,0.5l1.6,0l1.5,-0.3l1.6,-0.4l1.6,-0.1l1.5,0.4l1.6,0.5l1.5,0l1.6,-0.1l1.5,-0.3l1.6,0l1.6,0.2l1.5,0l1.6,0l1.5,-0.4l1.6,-0.3l1.6,0l1.5,0.4l1.6,0.4l1.5,0.1l1.6,0l1.6,0l1.5,0.1l1.6,-0.2l1.5,0l1.6,-0.2l1.5,0.1l1.6,0.2l1.6,0.2l1.5,0l1.6,0l1.5,-0.2l1.6,0l1.6,0.2l1.5,0l1.6,0.3l1.5,-0.2l1.6,0.1l1.6,0.2l1.5,-0.1l1.6,-0.1l1.5,-0.3l1.6,0.1l1.5,0.1l1.6,0.2l1.6,0l1.5,0l1.6,-0.2l1.5,0.2l1.6,0" fill="none" stroke="#f47b20" stroke-width="2.3" stroke-linejoin="round"/>
<path d="M67.1,1089.5l1.6,-3.2l1.5,11.7l1.6,16.9l1.5,2.4l1.6,-0.7l1.6,-1l1.5,-1.6l1.6,-1.5l1.5,-1.4l1.6,-1.5l1.5,-1.6l1.6,-1.4l1.6,-1.1l1.5,-0.5l1.6,-0.9l1.5,-1l1.6,-1.2l1.6,-0.8l1.5,-0.3l1.6,-0.7l1.5,-0.6l1.6,-0.6l1.6,-0.6l1.5,-0.4l1.6,-0.9l1.5,-0.4l1.6,-1.2l1.5,-0.8l1.6,-0.7l1.6,-0.8l1.5,-0.9l1.6,-0.6l1.5,-0.3l1.6,-0.1l1.6,-0.6l1.5,-0.7l1.6,-1l1.5,-0.7l1.6,-0.8l1.6,-0.4l1.5,-0.6l1.6,-0.5l1.5,-0.9l1.6,-0.8l1.5,-0.5l1.6,-0.4l1.6,-0.5l1.5,-0.3l1.6,-0.4l1.5,-0.6l1.6,-0.8l1.6,-0.9l1.5,-0.2l1.6,-0.6l1.5,-0.4l1.6,-0.8l1.6,-0.3l1.5,-0.7l1.6,-0.9l1.5,-1.1l1.6,-0.7l1.5,-0.5l1.6,-0.8l1.6,-0.3l1.5,-0.7l1.6,-0.6l1.5,-1.4l1.6,-1l1.6,-0.8l1.5,-0.7l1.6,-0.4l1.5,-0.7l1.6,-0.6l1.6,-0.6l1.5,-0.7l1.6,-1.1l1.5,-0.6l1.6,-0.5l1.5,-0.3l1.6,-0.9l1.6,-0.6l1.5,-0.8l1.6,-0.3l1.5,-0.6l1.6,-0.4l1.6,-0.8l0.3,-0.3l0.4,0.1l0.4,0.2l0.4,0.1l0.4,-0.2l0.4,0.1l0.4,-0.1l0.4,-0.2l0.4,-0.3l0.4,0.3l0.3,0l0.4,0.3l0.4,-0.2l0.4,0.6l0.4,1.2l0.4,3.8l0.4,7.5l0.4,6.6l0.4,-0.8l0.4,-7.4l0.3,-6.4l0.4,-2.7l0.4,-0.9l0.4,0l0.4,0l0.4,0l0.4,-0.5l0.4,-0.4l0.4,0.2l0.3,0.3l0.4,0.1l0.4,0l1.6,0.3l1.5,0.2l1.6,-0.1l1.6,0l1.5,0.3l1.6,0.4l1.5,-0.3l1.6,-0.1l1.6,-0.2l1.5,0.1l1.6,-0.3l1.5,0.1l1.6,-0.1l1.6,0.3l1.5,0l1.6,0.3l1.5,-0.4l1.6,0l1.5,-0.1l1.6,0.3l1.6,0l1.5,-0.2l1.6,0.2l1.5,0.2l1.6,0.2l1.6,-0.8l1.5,-0.3l1.6,0l1.5,0.3l1.6,-0.2l1.6,0l1.5,0.2l1.6,0.2l1.5,-0.2l1.6,-0.1l1.5,0.3l1.6,-0.3l1.6,-0.2l1.5,-0.2l1.6,0.3l1.5,0.6l1.6,0l1.6,0.2l1.5,-0.5l1.6,0l1.5,0.1l1.6,0.3l1.5,0.1l1.6,0.1l1.6,-0.3l1.5,0.2l1.6,-0.1l1.5,0.4l1.6,-0.3l1.6,-0.1l1.5,-0.6l1.6,-0.2l1.5,0.1l1.6,0.5l1.6,0.5l1.5,0.2l1.6,-0.2l1.5,-0.2l1.6,0.2l1.5,-0.2l1.6,0.3l1.6,-0.4l1.5,0.1l1.6,-0.2l1.5,0.1l1.6,0l1.6,0.1l1.5,0.3l1.6,-0.1l1.5,-0.4l1.6,-0.7l1.6,-0.2l1.5,0.2l1.6,0.5l1.5,0l1.6,0.1l1.5,-0.1l1.6,0.3l1.6,0l1.5,0l1.6,0l1.5,0.2l1.6,0l1.6,-0.4l1.5,-0.2l1.6,0l1.5,0.3l1.6,-0.1l1.6,0.2l1.5,0.1l1.6,0l1.5,-0.3l1.6,0l1.5,-0.1l1.6,0.1l1.6,0l1.5,0.4l1.6,-0.4l1.5,0.4l1.6,0l1.6,0.4l1.5,-0.5l1.6,-0.2l1.5,-0.3l1.6,0.4l1.6,-0.1l1.5,0.3l1.6,-0.1l1.5,0l1.6,0.1l1.5,0.3l1.6,0.1l1.6,0.1l1.5,-0.2l1.6,-0.1l1.5,-0.3l1.6,-0.4l1.6,0.1l1.5,0.3l1.6,0.4l1.5,0.1l1.6,0l1.6,-0.2l1.5,-0.1l1.6,0.2l1.5,-0.1l1.6,-0.1l1.5,-0.4l1.6,0.1l1.6,-0.1l1.5,0.1l1.6,-0.2l1.5,0l1.6,0l1.6,0.1l1.5,0.3l1.6,0.1l1.5,0.1l1.6,-0.2l1.6,0.2l1.5,-0.4l1.6,0.1l1.5,-0.1l1.6,0.6l1.5,0.1l1.6,-0.2l1.6,-0.2l1.5,0l1.6,0.1l1.5,-0.3l1.6,0.1" fill="none" stroke="#7e3f98" stroke-width="2.3" stroke-linejoin="round"/>
<path d="M67.1,1105.9l1.6,5.2l1.5,4.8l1,3.4l0.6,-1.1l1.5,-2.6l1.6,-3.3l1.6,-2.7l1.5,-2.6l1.6,-2.2l1.5,-2.2l1.6,-2l1.5,-2l1.6,-1.7l1.6,-1.8l1.5,-1.7l1.6,-2.2l1.5,-1.8l1.6,-1.4l1.6,-1.5l1.5,-1.7l1.6,-1.9l1.5,-1.5l1.6,-1.1l1.6,-1.4l1.5,-1.2l1.6,-1.3l1.5,-1l1.6,-1.6l1.5,-1.5l1.6,-1.5l1.6,-0.8l1.5,-1.3l1.6,-0.9l1.5,-1.2l1.6,-1.4l1.6,-1.4l1.5,-1.1l1.6,-0.8l1.5,-1.1l1.6,-1.5l1.6,-1.1l1.5,-0.9l1.6,-1l1.5,-1.4l1.6,-1.6l1.5,-1.6l1.6,-1.4l1.6,-1.5l1.5,-1l1.6,-1.6l1.5,-1.6l1.6,-1.8l1.6,-1.4l1.5,-1.1l1.6,-1.7l1.5,-1.2l1.6,-1.5l1.6,-1.3l1.5,-1.7l1.6,-1.5l1.5,-1.4l1.6,-1.3l1.5,-1.6l1.6,-1.3l1.6,-1.3l1.5,-1.4l1.6,-1.6l1.5,-1.4l1.6,-1.3l1.6,-1.4l1.5,-1.2l1.6,-1.4l1.5,-1.1l1.6,-1.8l1.6,-1.7l1.5,-2l1.6,-1.2l1.5,-1.1l1.6,-1l1.5,-1.4l1.6,-1.5l1.6,-1l1.5,-1.3l1.6,-0.9l1.5,-1.5l1.6,-0.8l1.6,-0.7l0.3,0l0.4,-0.3l0.4,-0.3l0.4,-0.2l0.4,0l0.4,0.2l0.4,-0.2l0.4,-0.3l0.4,0.6l0.4,2.8l0.3,-3l0.4,-11.6l0.4,-18.5l0.4,-16.3l0.4,1.7l0.4,18.2l0.4,15.8l0.4,7l0.4,1.4l0.4,0.1l0.3,-0.2l0.4,0l0.4,0.2l0.4,-0.3l0.4,-0.5l0.4,-0.1l0.4,0.1l0.4,0l0.4,0l0.3,0l0.4,0.1l0.4,0l1.6,0l1.5,-0.1l1.6,-0.1l1.6,-0.1l1.5,0.1l1.6,-0.3l1.5,-0.2l1.6,-0.3l1.6,0l1.5,-0.2l1.6,-0.2l1.5,0.3l1.6,-0.1l1.6,0.4l1.5,-0.5l1.6,-0.2l1.5,0.2l1.6,0.5l1.5,0.1l1.6,-0.5l1.6,-0.3l1.5,0.1l1.6,0l1.5,0l1.6,-0.1l1.6,-0.1l1.5,0.5l1.6,-0.2l1.5,0.4l1.6,-0.6l1.6,0.1l1.5,0l1.6,0l1.5,0.1l1.6,0l1.5,0.4l1.6,-0.2l1.6,-0.3l1.5,-0.4l1.6,0l1.5,-0.1l1.6,0.1l1.6,0l1.5,0.1l1.6,-0.2l1.5,0l1.6,0.2l1.5,0.2l1.6,-0.1l1.6,0.1l1.5,-0.2l1.6,0.1l1.5,-0.3l1.6,0.4l1.6,-0.2l1.5,0l1.6,0l1.5,-0.3l1.6,0l1.6,-0.4l1.5,0.2l1.6,0.2l1.5,0.3l1.6,0.1l1.5,-0.1l1.6,-0.1l1.6,0.2l1.5,0.3l1.6,0l1.5,0.4l1.6,-0.4l1.6,0.1l1.5,-0.3l1.6,0.1l1.5,-0.2l1.6,0.2l1.6,0.2l1.5,0.3l1.6,0.1l1.5,-0.2l1.6,-0.4l1.5,-0.2l1.6,-0.3l1.6,0.5l1.5,-0.2l1.6,0.2l1.5,-0.3l1.6,0l1.6,-0.4l1.5,0l1.6,0.1l1.5,0.4l1.6,0l1.6,0l1.5,-0.3l1.6,0.1l1.5,-0.3l1.6,0.5l1.5,0l1.6,0.2l1.6,-0.3l1.5,0.1l1.6,0.2l1.5,0.1l1.6,-0.1l1.6,-0.5l1.5,-0.4l1.6,0.2l1.5,0.6l1.6,0.2l1.6,-0.3l1.5,0l1.6,0l1.5,0l1.6,-0.3l1.5,0l1.6,0.3l1.6,0.5l1.5,0l1.6,0.2l1.5,-0.4l1.6,0l1.6,-0.5l1.5,-0.2l1.6,-0.3l1.5,0.3l1.6,0.2l1.6,0l1.5,-0.1l1.6,0.3l1.5,0.2l1.6,0.2l1.5,-0.4l1.6,0.4l1.6,-0.1l1.5,0.3l1.6,-0.4l1.5,-0.2l1.6,-0.1l1.6,0l1.5,-0.2l1.6,0.4l1.5,0l1.6,0.3l1.6,-0.4l1.5,0l1.6,0l1.5,0.2l1.6,-0.1l1.5,-0.3l1.6,0l1.6,-0.2l1.5,-0.3l1.6,0.1l1.5,0.3l1.6,0.4" fill="none" stroke="#22b14c" stroke-width="2.3" stroke-linejoin="round"/>
<path d="M67.1,1089l1.6,8l1.5,8.6l0.6,3.5l1,-2.7l1.5,-4.6l1.6,-4.7l1.6,-4.1l1.5,-3.8l1.6,-3l1.5,-3.2l1.6,-2.9l1.5,-3.1l1.6,-2.9l1.6,-2.8l1.5,-2.7l1.6,-2.4l1.5,-2.3l1.6,-2.3l1.6,-2.3l1.5,-2.5l1.6,-2.2l1.5,-2.7l1.6,-2.4l1.6,-2.6l1.5,-2.3l1.6,-2.6l1.5,-2.9l1.6,-2.8l1.5,-3.1l1.6,-2.7l1.6,-2.6l1.5,-2.5l1.6,-2.6l1.5,-3.3l1.6,-3.1l1.6,-3.3l1.5,-2.6l1.6,-2.5l1.5,-2.9l1.6,-3l1.6,-2.8l1.5,-2.5l1.6,-3l1.5,-2.8l1.6,-2.3l1.5,-2.2l1.6,-2.3l1.6,-2.3l1.5,-2.2l1.6,-2.3l1.5,-2.3l1.6,-2.6l1.6,-2.4l1.5,-2.9l1.6,-2.3l1.5,-2.4l1.6,-2l1.6,-2.6l1.5,-2.7l1.6,-2.4l1.5,-2.3l1.6,-2.1l1.5,-2.4l1.6,-2.7l1.6,-2.8l1.5,-2.5l1.6,-2.3l1.5,-2.5l1.6,-2.7l1.6,-2.4l1.5,-2.3l1.6,-2.1l1.5,-2.3l1.6,-2.7l1.6,-2.3l1.5,-2.5l1.6,-2.1l1.5,-2.5l1.6,-2.2l1.5,-2.1l1.6,-2.3l1.6,-2.5l1.5,-2.1l1.6,-2.3l1.5,-2l1.6,-2l1.6,-1.5l0.3,-0.5l0.4,-0.5l0.4,-0.1l0.4,-0.2l0.4,-0.2l0.4,-0.4l0.4,-0.2l0.4,0.1l0.4,0.1l0.4,0l0.3,0.1l0.4,-0.2l0.4,0.1l0.4,0l0.4,1.2l0.4,3l0.4,4.5l0.4,2l0.4,-2.9l0.4,-4.8l0.3,-2.8l0.4,-0.8l0.4,-0.3l0.4,0l0.4,-0.3l0.4,-0.3l0.4,-0.1l0.4,0.3l0.4,0.4l0.3,0.2l0.4,-0.1l0.4,-0.4l1.6,-0.4l1.5,-0.1l1.6,0l1.6,-0.3l1.5,-0.3l1.6,0.1l1.5,0.2l1.6,-0.3l1.6,-0.3l1.5,-0.3l1.6,-0.3l1.5,-0.1l1.6,-0.1l1.6,0l1.5,0.4l1.6,0.2l1.5,0l1.6,-0.3l1.5,-0.2l1.6,0l1.6,0l1.5,-0.1l1.6,-0.3l1.5,-0.3l1.6,0l1.6,-0.1l1.5,-0.1l1.6,0.5l1.5,0.2l1.6,0l1.6,-0.4l1.5,-0.2l1.6,-0.5l1.5,-0.2l1.6,0.1l1.5,-0.2l1.6,-0.2l1.6,-0.1l1.5,0.2l1.6,-0.3l1.5,-0.2l1.6,-0.3l1.6,0l1.5,-0.1l1.6,0l1.5,-0.4l1.6,-0.2l1.5,-0.1l1.6,0l1.6,-0.8l1.5,0.1l1.6,-0.4l1.5,0.3l1.6,-0.2l1.6,0l1.5,-0.4l1.6,-0.3l1.5,-0.1l1.6,0.1l1.6,0.2l1.5,-0.2l1.6,-0.3l1.5,-0.4l1.6,-0.2l1.5,-0.2l1.6,-0.1l1.6,-0.1l1.5,0.4l1.6,0.3l1.5,0.2l1.6,-0.6l1.6,-0.1l1.5,-0.6l1.6,0.1l1.5,-0.5l1.6,0l1.6,0l1.5,0.3l1.6,0.1l1.5,-0.1l1.6,0l1.5,-0.1l1.6,-0.3l1.6,0.1l1.5,-0.1l1.6,0.4l1.5,-0.4l1.6,-0.1l1.6,-0.2l1.5,-0.2l1.6,0.3l1.5,-0.2l1.6,0.2l1.6,-0.5l1.5,0.1l1.6,0.3l1.5,0.2l1.6,-0.1l1.5,-0.7l1.6,-0.3l1.6,0l1.5,0.4l1.6,-0.2l1.5,-0.4l1.6,-0.3l1.6,0.3l1.5,0.5l1.6,-0.2l1.5,-0.5l1.6,-0.5l1.6,-0.1l1.5,0.3l1.6,0.3l1.5,-0.1l1.6,0.3l1.5,-0.2l1.6,0.1l1.6,-0.4l1.5,-0.1l1.6,-0.1l1.5,0.2l1.6,0.3l1.6,0l1.5,0l1.6,-0.1l1.5,0.2l1.6,0l1.6,0l1.5,0l1.6,0.2l1.5,-0.4l1.6,-0.4l1.5,-0.6l1.6,0.2l1.6,0.2l1.5,0.2l1.6,-0.3l1.5,-0.1l1.6,-0.1l1.6,0l1.5,0.1l1.6,0.5l1.5,-0.1l1.6,-0.3l1.6,0l1.5,0.2l1.6,0l1.5,-0.4l1.6,-0.1l1.5,0l1.6,0l1.6,0.2l1.5,0.2l1.6,0l1.5,-0.2l1.6,-0.1" fill="none" stroke="#ed1c24" stroke-width="2.3" stroke-linejoin="round"/>
<path d="M67.1,1096.4l1.6,-6.6l1.5,9.8l1.6,15.5l1.5,1.6l1.6,-0.1l1.6,-1.6l1.5,-1l1.6,-1.9l1.5,-1.4l1.6,-1.2l1.5,-1.4l1.6,-1.2l1.6,-0.7l1.5,-1.3l1.6,-1.1l1.5,-1.6l1.6,-0.1l1.6,-1l1.5,-0.7l1.6,-1.1l1.5,-0.5l1.6,-0.2l1.6,-0.4l1.5,-0.3l1.6,-0.6l1.5,-0.7l1.6,-0.8l1.5,-0.9l1.6,-0.6l1.6,-1.1l1.5,-0.9l1.6,-0.7l1.5,-0.5l1.6,-0.3l1.6,-0.6l1.5,-0.6l1.6,-0.5l1.5,-0.7l1.6,-0.2l1.6,-0.9l1.5,-1l1.6,-0.7l1.5,-0.6l1.6,-0.2l1.5,-0.5l1.6,-0.4l1.6,-1l1.5,-1.2l1.6,-0.9l1.5,-0.2l1.6,-0.4l1.6,-0.4l1.5,-0.9l1.6,-0.6l1.5,-0.7l1.6,-0.6l1.6,-0.5l1.5,-0.5l1.6,-0.3l1.5,-0.7l1.6,-0.5l1.5,-1l1.6,-0.6l1.6,-1l1.5,-0.9l1.6,-0.6l1.5,-0.6l1.6,-0.6l1.6,-1.1l1.5,-1.2l1.6,-1l1.5,-0.6l1.6,-0.7l1.6,-0.3l1.5,-1l1.6,-0.4l1.5,-0.4l1.6,-0.9l1.5,-1l1.6,-1l1.6,-0.1l1.5,-0.3l1.6,-0.9l1.5,-0.4l1.6,-0.5l1.6,-0.6l0.3,-0.4l0.4,-0.4l0.4,0l0.4,-0.5l0.4,0.3l0.4,0l0.4,0.7l0.4,0.1l0.4,-0.2l0.4,-0.1l0.3,-0.4l0.4,0.3l0.4,0l0.4,0.2l0.4,0.3l0.4,1.3l0.4,4.4l0.4,8.3l0.4,6.1l0.4,-2.6l0.3,-8.5l0.4,-6.5l0.4,-2.7l0.4,-1l0.4,-0.2l0.4,0.2l0.4,0.5l0.4,0.3l0.4,0.1l0.3,0.2l0.4,-0.1l0.4,-0.1l1.6,-0.3l1.5,0l1.6,0l1.6,0.3l1.5,-0.4l1.6,-0.1l1.5,-0.5l1.6,0.1l1.6,-0.2l1.5,0.4l1.6,0l1.5,-0.2l1.6,0.1l1.6,-0.1l1.5,0.2l1.6,-0.3l1.5,0.1l1.6,0l1.5,0.2l1.6,0l1.6,0.4l1.5,0l1.6,0.2l1.5,-0.2l1.6,-0.1l1.6,-0.3l1.5,0.3l1.6,-0.4l1.5,-0.1l1.6,-0.4l1.6,0.4l1.5,0.2l1.6,0l1.5,-0.1l1.6,0.2l1.5,0l1.6,-0.5l1.6,0l1.5,0l1.6,0.4l1.5,-0.3l1.6,-0.1l1.6,0.3l1.5,-0.1l1.6,0l1.5,-0.2l1.6,0.1l1.5,0.2l1.6,0l1.6,-0.3l1.5,0.2l1.6,-0.3l1.5,0.5l1.6,-0.3l1.6,0.2l1.5,0.2l1.6,0.1l1.5,0.2l1.6,-0.4l1.6,-0.3l1.5,0l1.6,0.1l1.5,0l1.6,-0.2l1.5,-0.4l1.6,0.1l1.6,0.2l1.5,0.3l1.6,-0.2l1.5,-0.3l1.6,0l1.6,0.2l1.5,0.2l1.6,0.1l1.5,-0.4l1.6,0l1.6,0.1l1.5,0.4l1.6,-0.1l1.5,-0.3l1.6,-0.1l1.5,0.3l1.6,0.1l1.6,0.2l1.5,0.1l1.6,-0.1l1.5,-0.2l1.6,-0.3l1.6,-0.1l1.5,-0.2l1.6,0l1.5,-0.1l1.6,0l1.6,0l1.5,0.3l1.6,0l1.5,0.1l1.6,0.1l1.5,0.1l1.6,0.2l1.6,0.1l1.5,0l1.6,-0.3l1.5,0.3l1.6,0l1.6,-0.1l1.5,-0.3l1.6,0.1l1.5,-0.1l1.6,0.2l1.6,-0.2l1.5,-0.1l1.6,-0.1l1.5,0.1l1.6,0l1.5,0l1.6,-0.1l1.6,0.2l1.5,-0.3l1.6,0.3l1.5,0.2l1.6,0.4l1.6,-0.2l1.5,0l1.6,0l1.5,-0.3l1.6,0l1.6,-0.2l1.5,0l1.6,0l1.5,0l1.6,-0.2l1.5,-0.2l1.6,0.1l1.6,0.3l1.5,0.2l1.6,-0.1l1.5,-0.2l1.6,0l1.6,0.1l1.5,-0.1l1.6,0l1.5,-0.1l1.6,0.4l1.6,0l1.5,0.1l1.6,-0.5l1.5,-0.1l1.6,0l1.5,0.5l1.6,-0.1l1.6,-0.2l1.5,-0.1l1.6,-0.4l1.5,0.1l1.6,0" fill="none" stroke="#3953a4" stroke-width="2.3" stroke-linejoin="round"/>
<line x1="67.1" y1="861.1" x2="67.1" y2="1123.2" stroke="#000" stroke-width="2.6"/>
<line x1="65.8" y1="1122" x2="457.8" y2="1122" stroke="#000" stroke-width="2.6"/>
<line x1="59.6" y1="1122" x2="67.1" y2="1122" stroke="#000" stroke-width="2.2"/>
<text x="58.8" y="1129.9" font-size="22.3" text-anchor="end">0</text>
<line x1="59.6" y1="1057.1" x2="67.1" y2="1057.1" stroke="#000" stroke-width="2.2"/>
<text x="58.8" y="1065" font-size="22.3" text-anchor="end">20</text>
<line x1="59.6" y1="992.1" x2="67.1" y2="992.1" stroke="#000" stroke-width="2.2"/>
<text x="58.8" y="1000" font-size="22.3" text-anchor="end">40</text>
<line x1="59.6" y1="927.2" x2="67.1" y2="927.2" stroke="#000" stroke-width="2.2"/>
<text x="58.8" y="935.1" font-size="22.3" text-anchor="end">60</text>
<line x1="59.6" y1="862.3" x2="67.1" y2="862.3" stroke="#000" stroke-width="2.2"/>
<text x="58.8" y="870.2" font-size="22.3" text-anchor="end">80</text>
<line x1="67.1" y1="1122" x2="67.1" y2="1129.5" stroke="#000" stroke-width="2.2"/>
<text x="67.1" y="1151.7" font-size="22" text-anchor="middle">0</text>
<line x1="145" y1="1122" x2="145" y2="1129.5" stroke="#000" stroke-width="2.2"/>
<text x="145" y="1151.7" font-size="22" text-anchor="middle">50</text>
<line x1="223" y1="1122" x2="223" y2="1129.5" stroke="#000" stroke-width="2.2"/>
<text x="223" y="1151.7" font-size="22" text-anchor="middle">100</text>
<line x1="300.9" y1="1122" x2="300.9" y2="1129.5" stroke="#000" stroke-width="2.2"/>
<text x="300.9" y="1151.7" font-size="22" text-anchor="middle">150</text>
<line x1="378.9" y1="1122" x2="378.9" y2="1129.5" stroke="#000" stroke-width="2.2"/>
<text x="378.9" y="1151.7" font-size="22" text-anchor="middle">200</text>
<line x1="456.8" y1="1122" x2="456.8" y2="1129.5" stroke="#000" stroke-width="2.2"/>
<text x="456.8" y="1151.7" font-size="22" text-anchor="middle">250</text>
<text x="261.3" y="1180.6" font-size="22" text-anchor="middle" textLength="73.5" lengthAdjust="spacingAndGlyphs">Time(s)</text>
<text x="275.8" y="792" font-size="31" font-weight="bold" text-anchor="middle" textLength="124" lengthAdjust="spacingAndGlyphs">nCoV396</text>
<text x="275.8" y="844.3" font-size="22" font-weight="bold" text-anchor="middle" fill="#1a1a1a">K<tspan font-size="11">D</tspan> = 1.02 nM</text>
<text x="0" y="0" font-size="22" text-anchor="middle" transform="translate(22.1,992.5) rotate(-90)">Ru</text>
<line x1="470.4" y1="971.3" x2="497.7" y2="971.3" stroke="#000000" stroke-width="2.3"/>
<text x="510.6" y="979.3" font-size="21.5">2.5 µg/ml</text>
<line x1="470.4" y1="1001.2" x2="497.7" y2="1001.2" stroke="#f47b20" stroke-width="2.3"/>
<text x="510.6" y="1009.2" font-size="21.5">5&#160; µg/ml</text>
<line x1="470.4" y1="1030.8" x2="497.7" y2="1030.8" stroke="#7e3f98" stroke-width="2.3"/>
<text x="510.6" y="1038.8" font-size="21.5">10 µg/ml</text>
<line x1="470.4" y1="1060.4" x2="497.7" y2="1060.4" stroke="#22b14c" stroke-width="2.3"/>
<text x="510.6" y="1068.4" font-size="21.5">20 µg/ml</text>
<line x1="470.4" y1="1090.4" x2="497.7" y2="1090.4" stroke="#ed1c24" stroke-width="2.3"/>
<text x="510.6" y="1098.4" font-size="21.5">40 µg/ml</text>
<line x1="470.4" y1="1120.4" x2="497.7" y2="1120.4" stroke="#3953a4" stroke-width="2.3"/>
<text x="510.6" y="1128.4" font-size="21.5">10 µg/ml</text>
<path d="M668.1,1083.1l1.6,19.5l1.5,20.2l1.6,-0.2l1.6,-0.2l1.5,-0.5l1.6,0.1l1.6,-0.4l1.5,-0.3l1.6,-0.5l1.6,-0.1l1.6,-0.2l1.5,-0.4l1.6,-0.1l1.6,-0.1l1.5,-0.2l1.6,-0.4l1.6,-0.3l1.5,-0.1l1.6,0l1.6,-0.2l1.5,-0.5l1.6,-0.1l1.6,-0.4l1.5,0l1.6,-0.2l1.6,0l1.5,0.3l1.6,0.1l1.6,0.3l1.6,-0.2l1.5,-0.4l1.6,-0.2l1.6,-0.1l1.5,0.2l1.6,-0.2l1.6,0.2l1.5,-0.3l1.6,0.1l1.6,-0.1l1.5,0.1l1.6,0l1.6,-0.2l1.5,-0.4l1.6,-0.4l1.6,0.1l1.5,0.2l1.6,0.2l1.6,-0.3l1.6,0.2l1.5,-0.5l1.6,0.1l1.6,-0.3l1.5,0.1l1.6,-0.4l1.6,-0.3l1.5,-0.2l1.6,0l1.6,-0.2l1.5,-0.2l1.6,0l1.6,-0.2l1.5,0.1l1.6,-0.2l1.6,0.3l1.5,0l1.6,-0.2l1.6,-0.1l1.6,-0.2l1.5,-0.1l1.6,-0.4l1.6,0.4l1.5,0l1.6,-0.2l1.6,-0.3l1.5,-0.2l1.6,0.5l1.6,-0.3l1.5,0l1.6,-0.6l1.6,0.3l1.5,-0.3l1.6,0.2l1.6,-0.5l1.5,0.2l1.6,0l1.6,-0.2l0.4,-0.1l0.4,0.1l0.4,0.4l0.4,0l0.3,-0.3l0.4,-0.4l0.4,0l0.4,0.5l0.4,0.1l0.4,-0.4l0.4,-1l0.4,-3.4l0.4,-0.3l0.4,9l0.4,6l0.4,-0.7l0.3,-5.9l0.4,-2.8l0.4,-1.1l0.4,0.1l0.4,0l0.4,0.2l0.4,-0.3l0.4,-0.2l0.4,0.4l0.4,0.2l0.4,-0.1l0.4,-0.1l0.4,0.2l0.3,0l0.4,-0.1l0.4,0.1l1.6,0.2l1.6,0.1l1.5,-0.2l1.6,-0.1l1.6,-0.4l1.5,-0.1l1.6,0.3l1.6,0.1l1.5,0l1.6,-0.4l1.6,-0.2l1.6,0.3l1.5,0.2l1.6,0l1.6,0l1.5,0.2l1.6,-0.1l1.6,-0.1l1.5,-0.3l1.6,0.4l1.6,0l1.5,0.1l1.6,-0.2l1.6,-0.3l1.5,0.1l1.6,-0.2l1.6,0.2l1.5,-0.2l1.6,-0.1l1.6,-0.2l1.6,0l1.5,-0.2l1.6,0.1l1.6,-0.4l1.5,0.3l1.6,-0.4l1.6,0l1.5,-0.1l1.6,0.3l1.6,-0.3l1.5,0.3l1.6,-0.1l1.6,-0.2l1.5,-0.2l1.6,-0.1l1.6,-0.1l1.5,0l1.6,0.1l1.6,0.3l1.5,0.2l1.6,-0.4l1.6,0l1.6,-0.2l1.5,0.3l1.6,0.2l1.6,-0.1l1.5,0.1l1.6,-0.1l1.6,0.4l1.5,-0.1l1.6,0.1l1.6,-0.3l1.5,-0.1l1.6,0.1l1.6,-0.1l1.5,0.1l1.6,-0.1l1.6,0.3l1.5,0.2l1.6,-0.2l1.6,0l1.6,-0.3l1.5,-0.1l1.6,-0.3l1.6,-0.3l1.5,0.3l1.6,0.3l1.6,0.1l1.5,-0.1l1.6,-0.4l1.6,0.2l1.5,-0.1l1.6,0l1.6,-0.1l1.5,0.1l1.6,0.1l1.6,0.1l1.5,0.1l1.6,-0.1l1.6,0.1l1.6,-0.2l1.5,0.2l1.6,-0.3l1.6,0.3l1.5,0.1l1.6,-0.2l1.6,0l1.5,0.2l1.6,0.5l1.6,0l1.5,-0.6l1.6,-0.1l1.6,-0.2l1.5,0.5l1.6,0l1.6,0.1l1.5,-0.5l1.6,0.2l1.6,0l1.6,0.3l1.5,0.1l1.6,0.1l1.6,0.1l1.5,0.3l1.6,-0.1l1.6,-0.1l1.5,-0.4l1.6,0.4l1.6,-0.1l1.5,-0.1l1.6,-0.4l1.6,0l1.5,0.2l1.6,0l1.6,0.3l1.5,0l1.6,0.2l1.6,-0.1l1.6,-0.1l1.5,-0.1l1.6,0.1l1.6,0.3l1.5,0l1.6,0.1l1.6,0.1l1.5,0.1l1.6,0l1.6,-0.1l1.5,0.1l1.6,-0.4l1.6,-0.2l1.5,-0.1l1.6,0.4l1.6,-0.2l1.5,0.1l1.6,0l1.6,0.4l1.6,0l1.5,-0.2l1.6,0.1l1.6,-0.3l1.5,0.5l1.6,-0.1l1.6,0.6l1.5,-0.4l1.6,0.1" fill="none" stroke="#000000" stroke-width="2.3" stroke-linejoin="round"/>
<path d="M668.1,1122.8l1.6,-0.2l1.5,-0.3l1.6,0.2l1.6,0.2l1.5,0.3l1.6,-0.2l1.6,-0.3l1.5,-0.3l1.6,-0.1l1.6,-0.3l1.6,-0.2l1.5,-0.5l1.6,-0.7l1.6,-0.2l1.5,-0.3l1.6,0l1.6,-0.8l1.5,-0.3l1.6,-0.4l1.6,-0.1l1.5,-0.7l1.6,-0.4l1.6,-0.5l1.5,-0.3l1.6,-0.2l1.6,-0.1l1.5,-0.3l1.6,-0.4l1.6,-0.6l1.6,-0.4l1.5,-0.4l1.6,-0.2l1.6,0l1.5,-0.4l1.6,-0.7l1.6,-0.3l1.5,0.2l1.6,0l1.6,-0.3l1.5,-0.3l1.6,-0.4l1.6,-0.1l1.5,-0.4l1.6,-0.4l1.6,-0.4l1.5,-0.4l1.6,-0.2l1.6,-0.5l1.6,-0.2l1.5,-0.2l1.6,0.1l1.6,-0.6l1.5,-0.3l1.6,-0.1l1.6,0.1l1.5,-0.2l1.6,-0.5l1.6,-0.4l1.5,-0.3l1.6,0l1.6,0.1l1.5,0.3l1.6,-0.3l1.6,-0.2l1.5,-0.8l1.6,-0.1l1.6,0.2l1.6,0.4l1.5,-0.1l1.6,-0.3l1.6,-0.1l1.5,-0.1l1.6,-0.4l1.6,-0.3l1.5,-0.1l1.6,-0.2l1.6,-0.1l1.5,-0.2l1.6,0.2l1.6,-0.1l1.5,-0.4l1.6,-0.1l1.6,-0.3l1.5,-0.2l1.6,-0.5l1.6,-0.2l0.4,0.3l0.4,-0.4l0.4,-0.2l0.4,-0.3l0.3,0.5l0.4,0.3l0.4,-0.1l0.4,-0.7l0.4,-0.3l0.4,-0.1l0.4,0.3l0.4,-0.1l0.4,-0.8l0.4,-2.8l0.4,-3.9l0.4,-2.4l0.3,1.9l0.4,3.9l0.4,2.9l0.4,1l0.4,0l0.4,0.2l0.4,-0.1l0.4,-0.1l0.4,-0.4l0.4,-0.2l0.4,0l0.4,0l0.4,0.4l0.3,0.2l0.4,0l0.4,0l1.6,-0.1l1.6,-0.1l1.5,-0.2l1.6,-0.3l1.6,-0.2l1.5,0.2l1.6,0.1l1.6,-0.1l1.5,0.1l1.6,-0.3l1.6,0.4l1.6,0.1l1.5,0.6l1.6,-0.2l1.6,-0.1l1.5,-0.5l1.6,0.1l1.6,0.1l1.5,0.3l1.6,0l1.6,0.2l1.5,-0.1l1.6,0.2l1.6,-0.2l1.5,0l1.6,-0.2l1.6,0.2l1.5,0.2l1.6,-0.4l1.6,0.1l1.6,-0.6l1.5,0.3l1.6,-0.2l1.6,0.5l1.5,-0.1l1.6,-0.4l1.6,0l1.5,0.2l1.6,0.1l1.6,-0.2l1.5,-0.4l1.6,0.3l1.6,0l1.5,0.5l1.6,-0.4l1.6,0.2l1.5,0.2l1.6,0.3l1.6,-0.1l1.5,-0.7l1.6,0.1l1.6,-0.1l1.6,0.3l1.5,-0.4l1.6,0l1.6,0l1.5,0.1l1.6,0.1l1.6,0.2l1.5,0l1.6,0.1l1.6,-0.2l1.5,0.3l1.6,-0.4l1.6,0.1l1.5,-0.3l1.6,0.4l1.6,0.2l1.5,-0.1l1.6,-0.3l1.6,-0.1l1.6,0l1.5,0.2l1.6,0l1.6,0.4l1.5,-0.2l1.6,0l1.6,-0.2l1.5,-0.1l1.6,0l1.6,0.4l1.5,0.2l1.6,0.3l1.6,-0.6l1.5,-0.5l1.6,-0.1l1.6,0.1l1.5,0.5l1.6,-0.1l1.6,-0.1l1.6,-0.3l1.5,0.2l1.6,-0.1l1.6,0.4l1.5,-0.3l1.6,0.1l1.6,-0.3l1.5,0.2l1.6,0.4l1.6,0.2l1.5,-0.2l1.6,-0.3l1.6,0.1l1.5,-0.1l1.6,0.1l1.6,-0.3l1.5,0l1.6,-0.1l1.6,0l1.6,-0.1l1.5,0.2l1.6,-0.3l1.6,0.5l1.5,-0.1l1.6,0.4l1.6,-0.3l1.5,0.4l1.6,0.2l1.6,0.1l1.5,-0.1l1.6,-0.4l1.6,0.2l1.5,-0.4l1.6,0.1l1.6,-0.2l1.5,0.3l1.6,0.2l1.6,0.2l1.6,-0.1l1.5,-0.1l1.6,-0.2l1.6,0.2l1.5,0l1.6,0.2l1.6,-0.3l1.5,-0.4l1.6,-0.3l1.6,0.1l1.5,0.6l1.6,0.4l1.6,0.2l1.5,-0.4l1.6,-0.1l1.6,-0.3l1.5,0.2l1.6,-0.1l1.6,-0.2l1.6,0l1.5,0l1.6,0.4l1.6,-0.2l1.5,0.1l1.6,0l1.6,0.4l1.5,0.1l1.6,-0.2" fill="none" stroke="#f47b20" stroke-width="2.3" stroke-linejoin="round"/>
<path d="M668.1,1073l1.6,18.5l1.5,18.3l0.8,9.6l0.8,-0.3l1.6,-0.5l1.5,-0.6l1.6,-0.8l1.6,-1l1.5,-0.4l1.6,-0.8l1.6,-0.4l1.6,-0.9l1.5,-0.6l1.6,-0.8l1.6,-0.7l1.5,-0.7l1.6,-0.6l1.6,-0.3l1.5,-0.8l1.6,-0.9l1.6,-1.1l1.5,-0.6l1.6,0.1l1.6,-0.4l1.5,-0.3l1.6,-0.7l1.6,-0.8l1.5,-0.6l1.6,-0.6l1.6,-0.1l1.6,-0.7l1.5,-0.6l1.6,-0.8l1.6,-0.5l1.5,-0.8l1.6,-0.5l1.6,-0.5l1.5,-0.1l1.6,-0.9l1.6,-1.1l1.5,-0.8l1.6,-0.1l1.6,-0.1l1.5,-0.7l1.6,-0.5l1.6,-0.8l1.5,-0.5l1.6,-0.7l1.6,-0.3l1.6,-0.4l1.5,-0.7l1.6,-0.2l1.6,-0.6l1.5,-0.1l1.6,-0.5l1.6,-0.3l1.5,-0.5l1.6,-0.4l1.6,-0.1l1.5,-0.4l1.6,-0.8l1.6,-1.1l1.5,-0.7l1.6,-0.4l1.6,-0.1l1.5,-0.3l1.6,-0.2l1.6,-0.4l1.6,-0.2l1.5,-0.4l1.6,-0.6l1.6,-0.4l1.5,-0.4l1.6,-0.4l1.6,-0.8l1.5,-0.3l1.6,-0.4l1.6,-0.2l1.5,-0.4l1.6,-0.3l1.6,-0.2l1.5,-0.5l1.6,-0.6l1.6,-0.6l1.5,0.1l1.6,-0.2l1.6,0l0.4,-0.4l0.4,-0.1l0.4,0l0.4,-0.2l0.3,-0.2l0.4,0.1l0.4,-0.2l0.4,-0.2l0.4,-0.2l0.4,0.1l0.4,0.7l0.4,1.9l0.4,6.9l0.4,13.2l0.4,15.9l0.4,7.3l0.3,-7.5l0.4,-15.9l0.4,-13.4l0.4,-6.7l0.4,-1.7l0.4,-0.5l0.4,0.1l0.4,-0.7l0.4,-0.2l0.4,-0.4l0.4,0l0.4,0.2l0.4,0.1l0.3,0l0.4,0l0.4,0.1l1.6,-0.4l1.6,-0.2l1.5,-0.4l1.6,0.1l1.6,-0.1l1.5,0.1l1.6,-0.2l1.6,-0.2l1.5,-0.2l1.6,0.1l1.6,0.2l1.6,-0.3l1.5,-0.2l1.6,-0.1l1.6,-0.1l1.5,-0.3l1.6,-0.2l1.6,0.2l1.5,-0.3l1.6,0l1.6,-0.3l1.5,0.4l1.6,0.3l1.6,0.2l1.5,-0.1l1.6,-0.4l1.6,-0.3l1.5,0.3l1.6,0.2l1.6,0l1.6,0l1.5,-0.5l1.6,-0.3l1.6,-0.8l1.5,0l1.6,0.3l1.6,0.6l1.5,0.7l1.6,0l1.6,-0.2l1.5,-0.8l1.6,-0.2l1.6,-0.2l1.5,0.1l1.6,0l1.6,-0.2l1.5,0.2l1.6,0.2l1.6,0.5l1.5,-0.5l1.6,-0.3l1.6,-0.4l1.6,0.5l1.5,0.2l1.6,0.1l1.6,-0.2l1.5,0.1l1.6,-0.2l1.6,0.1l1.5,-0.2l1.6,0.1l1.6,0l1.5,0.1l1.6,0.2l1.6,-0.2l1.5,0l1.6,-0.1l1.6,0.2l1.5,0.2l1.6,-0.1l1.6,0.1l1.6,-0.4l1.5,0.1l1.6,0.1l1.6,0.3l1.5,0.2l1.6,-0.2l1.6,0.1l1.5,-0.2l1.6,-0.1l1.6,-0.3l1.5,0.2l1.6,-0.1l1.6,0.2l1.5,-0.1l1.6,0l1.6,-0.1l1.5,0l1.6,0.3l1.6,0l1.6,-0.1l1.5,-0.1l1.6,0.1l1.6,0l1.5,-0.5l1.6,-0.1l1.6,0.1l1.5,0.4l1.6,0.4l1.6,0l1.5,0.2l1.6,-0.7l1.6,0.1l1.5,0l1.6,0.3l1.6,0l1.5,-0.1l1.6,0l1.6,0.3l1.6,0l1.5,-0.2l1.6,-0.5l1.6,-0.2l1.5,0.1l1.6,0.2l1.6,-0.1l1.5,-0.2l1.6,0.1l1.6,0.2l1.5,0.2l1.6,0.2l1.6,0l1.5,0l1.6,0.2l1.6,0.4l1.5,0.2l1.6,0.2l1.6,-0.3l1.6,-0.1l1.5,0l1.6,-0.1l1.6,-0.1l1.5,-0.3l1.6,-0.2l1.6,-0.1l1.5,0.2l1.6,0.2l1.6,0.3l1.5,-0.3l1.6,0.1l1.6,0.2l1.5,0.2l1.6,0.4l1.6,0l1.5,0l1.6,0.1l1.6,0.1l1.6,-0.1l1.5,-0.2l1.6,-0.2l1.6,0.5l1.5,0.2l1.6,0.2l1.6,-0.3l1.5,0l1.6,0" fill="none" stroke="#7e3f98" stroke-width="2.3" stroke-linejoin="round"/>
<path d="M668.1,1112.7l1.6,2.7l1.5,2.9l1.6,2.6l1.6,-0.5l1.5,-0.9l1.6,-0.6l1.6,-0.8l1.5,-0.5l1.6,-0.7l1.6,-0.9l1.6,-0.9l1.5,-0.7l1.6,-0.7l1.6,-0.6l1.5,-1l1.6,-0.6l1.6,-0.4l1.5,-0.9l1.6,-0.8l1.6,-1l1.5,-0.6l1.6,-0.7l1.6,-1.5l1.5,-1l1.6,-0.8l1.6,-0.6l1.5,-0.8l1.6,-1.6l1.6,-0.7l1.6,-0.7l1.5,-0.8l1.6,-1.2l1.6,-1.4l1.5,-0.7l1.6,-1.3l1.6,-1.5l1.5,-1.2l1.6,-1.3l1.6,-0.8l1.5,-1.9l1.6,-1l1.6,-1.2l1.5,-0.9l1.6,-1.2l1.6,-1l1.5,-1.1l1.6,-0.9l1.6,-0.8l1.6,-1.3l1.5,-1l1.6,-1.2l1.6,-0.7l1.5,-0.8l1.6,-0.8l1.6,-0.8l1.5,-1.1l1.6,-1.2l1.6,-1.2l1.5,-0.9l1.6,-1l1.6,-0.9l1.5,-0.8l1.6,-0.8l1.6,-0.7l1.5,-1.3l1.6,-0.9l1.6,-1.1l1.6,-0.5l1.5,-0.9l1.6,-0.8l1.6,-1.3l1.5,-0.9l1.6,-0.8l1.6,-0.9l1.5,-1l1.6,-0.9l1.6,-0.9l1.5,-0.7l1.6,-1l1.6,-0.7l1.5,-0.8l1.6,-1l1.6,-0.9l1.5,-1.4l1.6,-1.4l1.6,-1.2l0.4,-0.3l0.4,0l0.4,-0.4l0.4,-0.2l0.3,-0.3l0.4,-0.7l0.4,-0.2l0.4,-0.1l0.4,-0.2l0.4,-0.8l0.4,-4.7l0.4,-17l0.4,-34.2l0.4,-20.7l0.4,18.8l0.4,32.9l0.3,16.5l0.4,3.1l0.4,-3.8l0.4,-8.1l0.4,-3.6l0.4,6.5l0.4,6.5l0.4,2.2l0.4,0.4l0.4,0.1l0.4,-0.2l0.4,0l0.4,0l0.3,0.1l0.4,0.2l0.4,-0.4l1.6,-0.1l1.6,-0.4l1.5,0.1l1.6,-0.5l1.6,0.1l1.5,0l1.6,0l1.6,-0.5l1.5,0l1.6,0.1l1.6,-0.1l1.6,-0.4l1.5,-0.4l1.6,0.2l1.6,0.1l1.5,-0.1l1.6,-0.3l1.6,0.2l1.5,-0.1l1.6,0.1l1.6,0l1.5,-0.1l1.6,-0.1l1.6,-0.2l1.5,-0.1l1.6,0.2l1.6,-0.1l1.5,0l1.6,-0.4l1.6,-0.2l1.6,0.2l1.5,0.3l1.6,0.1l1.6,-0.3l1.5,-0.7l1.6,-0.1l1.6,0.2l1.5,0.2l1.6,0.3l1.6,0.1l1.5,-0.4l1.6,-0.2l1.6,-0.4l1.5,0.4l1.6,-0.3l1.6,0l1.5,-0.1l1.6,0.5l1.6,0.3l1.5,0l1.6,-0.5l1.6,-0.3l1.6,0.2l1.5,0.2l1.6,0.2l1.6,-0.2l1.5,-0.1l1.6,-0.2l1.6,0.2l1.5,-0.1l1.6,0l1.6,0l1.5,0.4l1.6,-0.1l1.6,-0.2l1.5,-0.1l1.6,0.1l1.6,0.2l1.5,-0.2l1.6,-0.2l1.6,0.5l1.6,0.1l1.5,0.3l1.6,-0.2l1.6,0l1.5,-0.1l1.6,-0.3l1.6,-0.5l1.5,-0.2l1.6,0.1l1.6,0.7l1.5,0.2l1.6,0.3l1.6,0l1.5,0l1.6,0l1.6,-0.1l1.5,0l1.6,0.1l1.6,0.2l1.6,-0.2l1.5,-0.3l1.6,-0.4l1.6,-0.1l1.5,0.1l1.6,0l1.6,0.5l1.5,-0.5l1.6,-0.1l1.6,-0.2l1.5,0.6l1.6,0.1l1.6,0.3l1.5,0l1.6,-0.1l1.6,-0.3l1.5,-0.1l1.6,0l1.6,0.2l1.6,-0.2l1.5,0.3l1.6,0l1.6,-0.1l1.5,0.1l1.6,-0.5l1.6,0.2l1.5,-0.5l1.6,0.5l1.6,-0.2l1.5,0.6l1.6,0l1.6,0.1l1.5,-0.3l1.6,-0.1l1.6,-0.1l1.5,0.2l1.6,-0.2l1.6,0.1l1.6,-0.2l1.5,0.3l1.6,-0.2l1.6,0l1.5,-0.2l1.6,0.4l1.6,0.4l1.5,0.2l1.6,-0.3l1.6,-0.2l1.5,-0.1l1.6,0.2l1.6,-0.3l1.5,-0.2l1.6,0.1l1.6,0l1.5,-0.1l1.6,-0.2l1.6,0.4l1.6,0.3l1.5,0.2l1.6,0l1.6,-0.2l1.5,-0.3l1.6,-0.2l1.6,0l1.5,0l1.6,0.1" fill="none" stroke="#22b14c" stroke-width="2.3" stroke-linejoin="round"/>
<path d="M668.1,1123l1.6,-0.1l1.5,-0.5l1.6,-1l1.6,-0.8l1.5,-0.9l1.6,-1l1.6,-1.3l1.5,-1.6l1.6,-1.5l1.6,-1.6l1.6,-1.6l1.5,-1.6l1.6,-1.7l1.6,-2.2l1.5,-1.9l1.6,-2.1l1.6,-1.8l1.5,-2.3l1.6,-1.6l1.6,-2l1.5,-1.6l1.6,-2l1.6,-1.4l1.5,-1.9l1.6,-1.7l1.6,-1.7l1.5,-1.8l1.6,-1.5l1.6,-1.5l1.6,-1.6l1.5,-1.9l1.6,-2l1.6,-1.4l1.5,-1.7l1.6,-1.6l1.6,-2.2l1.5,-1.2l1.6,-1.7l1.6,-1.3l1.5,-1.7l1.6,-1.5l1.6,-2l1.5,-1.9l1.6,-1.7l1.6,-1.7l1.5,-2l1.6,-2.1l1.6,-1.5l1.6,-1.6l1.5,-1.8l1.6,-1.8l1.6,-1.7l1.5,-1.8l1.6,-2.2l1.6,-1.8l1.5,-1.2l1.6,-1.3l1.6,-1.9l1.5,-2.3l1.6,-2.3l1.6,-2l1.5,-1.8l1.6,-1.9l1.6,-1.8l1.5,-2l1.6,-1.8l1.6,-2.7l1.6,-2.1l1.5,-2l1.6,-1.4l1.6,-1.8l1.5,-2l1.6,-2.2l1.6,-2.2l1.5,-2.7l1.6,-2.4l1.6,-2.3l1.5,-1.9l1.6,-2.2l1.6,-2.4l1.5,-2.5l1.6,-2.7l1.6,-2.1l1.5,-2.4l1.6,-1.9l1.6,-2.2l0.4,0.1l0.4,-0.3l0.4,-0.6l0.4,-1l0.3,-0.8l0.4,-0.5l0.4,-0.1l0.4,-0.4l0.4,-0.2l0.4,-1.2l0.4,-4.6l0.4,-17.1l0.4,-32.3l0.4,-19.7l0.4,18.5l0.4,31.5l0.3,15.8l0.4,3.2l0.4,-2l0.4,-4.3l0.4,-2.1l0.4,3.1l0.4,3.5l0.4,1.3l0.4,0.2l0.4,0.5l0.4,-0.4l0.4,0.2l0.4,-0.6l0.3,0.3l0.4,-0.2l0.4,0.1l1.6,-0.3l1.6,-0.4l1.5,-0.5l1.6,-0.1l1.6,-0.2l1.5,0.3l1.6,-0.1l1.6,0l1.5,-0.1l1.6,0l1.6,0l1.6,-0.2l1.5,-0.2l1.6,0l1.6,0.1l1.5,-0.2l1.6,0.2l1.6,-0.1l1.5,-0.2l1.6,0.1l1.6,0l1.5,0.1l1.6,-0.3l1.6,-0.6l1.5,0.5l1.6,-0.6l1.6,0.2l1.5,-0.7l1.6,0.3l1.6,0.2l1.6,0.2l1.5,-0.2l1.6,0.3l1.6,-0.2l1.5,0l1.6,-0.1l1.6,0l1.5,0.1l1.6,0.1l1.6,-0.3l1.5,-0.1l1.6,0l1.6,0.2l1.5,0.2l1.6,-0.2l1.6,0l1.5,-0.1l1.6,-0.3l1.6,0.2l1.5,-0.4l1.6,0.2l1.6,-0.3l1.6,0.2l1.5,0.1l1.6,0.3l1.6,-0.2l1.5,-0.3l1.6,-0.6l1.6,-0.1l1.5,0.1l1.6,0.3l1.6,0.2l1.5,0l1.6,-0.3l1.6,-0.1l1.5,0.1l1.6,0.3l1.6,-0.1l1.5,-0.2l1.6,-0.1l1.6,0l1.6,0.1l1.5,0l1.6,0.2l1.6,0.3l1.5,-0.2l1.6,0.1l1.6,-0.3l1.5,0.3l1.6,-0.4l1.6,-0.1l1.5,-0.2l1.6,0.4l1.6,0l1.5,0.3l1.6,-0.4l1.6,-0.1l1.5,-0.3l1.6,-0.3l1.6,-0.1l1.6,-0.1l1.5,0.3l1.6,0.1l1.6,-0.1l1.5,-0.2l1.6,0.2l1.6,0l1.5,0.1l1.6,-0.5l1.6,0.1l1.5,0.3l1.6,0.4l1.6,-0.3l1.5,-0.3l1.6,0.1l1.6,0.2l1.5,0.1l1.6,0l1.6,0.5l1.6,0.2l1.5,-0.4l1.6,-0.4l1.6,-0.3l1.5,0l1.6,-0.1l1.6,0.3l1.5,0.1l1.6,0.2l1.6,-0.1l1.5,0l1.6,-0.1l1.6,-0.2l1.5,0.1l1.6,0.1l1.6,-0.4l1.5,-0.1l1.6,0.2l1.6,0.3l1.6,-0.3l1.5,-0.4l1.6,0.2l1.6,-0.1l1.5,0.2l1.6,0l1.6,0.3l1.5,-0.1l1.6,-0.3l1.6,-0.3l1.5,0l1.6,0l1.6,0l1.5,-0.1l1.6,0.4l1.6,0.3l1.5,0l1.6,0l1.6,-0.2l1.6,0.1l1.5,-0.2l1.6,0.1l1.6,-0.3l1.5,0.4l1.6,-0.3l1.6,-0.1l1.5,-0.5l1.6,0.2" fill="none" stroke="#ed1c24" stroke-width="2.3" stroke-linejoin="round"/>
<path d="M668.1,1076.7l1.6,16.7l1.5,17.3l0.8,8.6l0.8,0l1.6,-0.9l1.5,-0.7l1.6,-0.8l1.6,-0.4l1.5,-0.6l1.6,-0.4l1.6,-0.6l1.6,-0.6l1.5,-0.7l1.6,-0.5l1.6,-1l1.5,-0.6l1.6,-0.5l1.6,-0.6l1.5,-0.5l1.6,-0.9l1.6,-0.4l1.5,-0.7l1.6,-0.6l1.6,-0.5l1.5,-0.5l1.6,-0.9l1.6,-0.3l1.5,-0.6l1.6,-0.2l1.6,-0.8l1.6,-0.3l1.5,-0.9l1.6,-0.7l1.6,-1.2l1.5,-0.2l1.6,-0.7l1.6,-0.3l1.5,-0.5l1.6,-0.8l1.6,-0.5l1.5,-0.4l1.6,-0.4l1.6,-0.7l1.5,-0.6l1.6,-0.3l1.6,-0.2l1.5,-0.4l1.6,-0.6l1.6,-0.5l1.6,-0.3l1.5,-0.5l1.6,-0.6l1.6,-0.8l1.5,-0.6l1.6,-0.8l1.6,-0.3l1.5,-1.1l1.6,-0.3l1.6,-0.7l1.5,0.1l1.6,0.2l1.6,-0.5l1.5,-0.6l1.6,-1.4l1.6,-0.3l1.5,-0.9l1.6,-0.1l1.6,-0.9l1.6,0.3l1.5,-0.6l1.6,-0.3l1.6,-1l1.5,-0.5l1.6,-0.3l1.6,-0.4l1.5,-0.5l1.6,-0.7l1.6,-0.4l1.5,-0.4l1.6,-0.2l1.6,0.1l1.5,0.2l1.6,-0.5l1.6,-0.5l1.5,-0.4l1.6,0.1l1.6,0.1l0.4,0l0.4,-0.1l0.4,0.1l0.4,-0.3l0.3,-0.2l0.4,0l0.4,0.6l0.4,0.2l0.4,-0.2l0.4,-0.3l0.4,0.4l0.4,2.2l0.4,6.4l0.4,12.5l0.4,14.4l0.4,6.6l0.3,-7.4l0.4,-14.2l0.4,-12.2l0.4,-6l0.4,-2.2l0.4,-0.3l0.4,0.3l0.4,-0.1l0.4,-0.3l0.4,-0.1l0.4,-0.2l0.4,-0.1l0.4,-0.1l0.3,0.2l0.4,0.2l0.4,0l1.6,-0.2l1.6,-0.1l1.5,0l1.6,0.2l1.6,0.2l1.5,0.2l1.6,-0.2l1.6,-0.4l1.5,-0.5l1.6,0.1l1.6,-0.1l1.6,0l1.5,-0.3l1.6,0.2l1.6,0.2l1.5,0.1l1.6,0l1.6,-0.2l1.5,-0.2l1.6,-0.2l1.6,-0.3l1.5,0.1l1.6,-0.1l1.6,0.3l1.5,0l1.6,-0.2l1.6,-0.2l1.5,-0.5l1.6,-0.1l1.6,-0.1l1.6,0.2l1.5,0.3l1.6,0l1.6,0l1.5,-0.5l1.6,-0.1l1.6,-0.5l1.5,0l1.6,-0.2l1.6,0.2l1.5,0l1.6,-0.1l1.6,-0.1l1.5,0.1l1.6,-0.1l1.6,-0.3l1.5,-0.2l1.6,0.1l1.6,0.6l1.5,0.2l1.6,-0.3l1.6,-0.2l1.6,-0.3l1.5,-0.1l1.6,-0.5l1.6,0.3l1.5,0.1l1.6,0.3l1.6,-0.2l1.5,0.1l1.6,0.1l1.6,-0.2l1.5,0l1.6,-0.1l1.6,0.1l1.5,-0.1l1.6,0l1.6,0.2l1.5,-0.2l1.6,0l1.6,0.1l1.6,0.4l1.5,0.2l1.6,0.1l1.6,-0.1l1.5,-0.1l1.6,0.1l1.6,0.1l1.5,-0.1l1.6,-0.4l1.6,0.2l1.5,-0.1l1.6,0.1l1.6,0.1l1.5,0.4l1.6,-0.1l1.6,-0.4l1.5,-0.4l1.6,-0.1l1.6,0.4l1.6,0.3l1.5,0.2l1.6,-0.1l1.6,0.2l1.5,-0.2l1.6,-0.2l1.6,-0.3l1.5,0l1.6,0.3l1.6,0.2l1.5,0.2l1.6,-0.4l1.6,-0.4l1.5,0l1.6,-0.1l1.6,0.3l1.5,-0.4l1.6,0.2l1.6,0l1.6,0.1l1.5,0.2l1.6,0.1l1.6,0.4l1.5,-0.2l1.6,-0.1l1.6,-0.3l1.5,0.2l1.6,-0.3l1.6,0.1l1.5,0l1.6,0l1.6,-0.3l1.5,-0.2l1.6,0.6l1.6,0.3l1.5,0l1.6,-0.3l1.6,-0.4l1.6,0.3l1.5,-0.1l1.6,0.4l1.6,-0.5l1.5,0.1l1.6,-0.2l1.6,0.3l1.5,0.2l1.6,0.4l1.6,0l1.5,-0.1l1.6,-0.4l1.6,-0.3l1.5,-0.2l1.6,0.4l1.6,0.2l1.5,0.2l1.6,-0.5l1.6,0l1.6,-0.2l1.5,0.3l1.6,0.4l1.6,0.2l1.5,0.1l1.6,-0.4l1.6,-0.1l1.5,-0.1l1.6,0.1" fill="none" stroke="#3953a4" stroke-width="2.3" stroke-linejoin="round"/>
<line x1="668.1" y1="859.4" x2="668.1" y2="1123.9" stroke="#000" stroke-width="2.6"/>
<line x1="666.8" y1="1122.7" x2="1061.2" y2="1122.7" stroke="#000" stroke-width="2.6"/>
<line x1="660.6" y1="1122.7" x2="668.1" y2="1122.7" stroke="#000" stroke-width="2.2"/>
<text x="659.8" y="1130.6" font-size="22.3" text-anchor="end">0</text>
<line x1="660.6" y1="1057.2" x2="668.1" y2="1057.2" stroke="#000" stroke-width="2.2"/>
<text x="659.8" y="1065.1" font-size="22.3" text-anchor="end">20</text>
<line x1="660.6" y1="991.7" x2="668.1" y2="991.7" stroke="#000" stroke-width="2.2"/>
<text x="659.8" y="999.6" font-size="22.3" text-anchor="end">40</text>
<line x1="660.6" y1="926.1" x2="668.1" y2="926.1" stroke="#000" stroke-width="2.2"/>
<text x="659.8" y="934" font-size="22.3" text-anchor="end">60</text>
<line x1="660.6" y1="860.6" x2="668.1" y2="860.6" stroke="#000" stroke-width="2.2"/>
<text x="659.8" y="868.5" font-size="22.3" text-anchor="end">80</text>
<line x1="668.1" y1="1122.7" x2="668.1" y2="1130.2" stroke="#000" stroke-width="2.2"/>
<text x="668.1" y="1151.7" font-size="22" text-anchor="middle">0</text>
<line x1="746.5" y1="1122.7" x2="746.5" y2="1130.2" stroke="#000" stroke-width="2.2"/>
<text x="746.5" y="1151.7" font-size="22" text-anchor="middle">50</text>
<line x1="824.9" y1="1122.7" x2="824.9" y2="1130.2" stroke="#000" stroke-width="2.2"/>
<text x="824.9" y="1151.7" font-size="22" text-anchor="middle">100</text>
<line x1="903.4" y1="1122.7" x2="903.4" y2="1130.2" stroke="#000" stroke-width="2.2"/>
<text x="903.4" y="1151.7" font-size="22" text-anchor="middle">150</text>
<line x1="981.8" y1="1122.7" x2="981.8" y2="1130.2" stroke="#000" stroke-width="2.2"/>
<text x="981.8" y="1151.7" font-size="22" text-anchor="middle">200</text>
<line x1="1060.2" y1="1122.7" x2="1060.2" y2="1130.2" stroke="#000" stroke-width="2.2"/>
<text x="1060.2" y="1151.7" font-size="22" text-anchor="middle">250</text>
<text x="862.1" y="1180.6" font-size="22" text-anchor="middle" textLength="73.5" lengthAdjust="spacingAndGlyphs">Time(s)</text>
<text x="888" y="792" font-size="31" font-weight="bold" text-anchor="middle" textLength="124" lengthAdjust="spacingAndGlyphs">nCoV416</text>
<text x="888.8" y="844.3" font-size="22" font-weight="bold" text-anchor="middle" fill="#1a1a1a">K<tspan font-size="11">D</tspan> = 7.26 nM</text>
<line x1="1071.5" y1="970.6" x2="1098.7" y2="970.6" stroke="#000000" stroke-width="2.3"/>
<text x="1114" y="978.6" font-size="21.5">2.5 µg/ml</text>
<line x1="1071.5" y1="1001.2" x2="1098.7" y2="1001.2" stroke="#f47b20" stroke-width="2.3"/>
<text x="1114" y="1009.2" font-size="21.5">5 µg/ml</text>
<line x1="1071.5" y1="1030.8" x2="1098.7" y2="1030.8" stroke="#7e3f98" stroke-width="2.3"/>
<text x="1114" y="1038.8" font-size="21.5">10 µg/ml</text>
<line x1="1071.5" y1="1060.4" x2="1098.7" y2="1060.4" stroke="#22b14c" stroke-width="2.3"/>
<text x="1114" y="1068.4" font-size="21.5">20 µg/ml</text>
<line x1="1071.5" y1="1091.1" x2="1098.7" y2="1091.1" stroke="#ed1c24" stroke-width="2.3"/>
<text x="1114" y="1099.1" font-size="21.5">40 µg/ml</text>
<line x1="1071.5" y1="1121" x2="1098.7" y2="1121" stroke="#3953a4" stroke-width="2.3"/>
<text x="1114" y="1129" font-size="21.5">10 µg/ml</text>
<path d="M1276.1,1115.2l1.5,1.8l1.5,1.8l1.5,1.9l1.5,-0.2l1.5,-0.3l1.6,-0.4l1.5,-0.7l1.5,0l1.5,-0.2l1.5,0l1.5,-0.5l1.5,-0.3l1.5,-0.2l1.5,-0.5l1.5,-0.3l1.5,-0.3l1.5,-0.2l1.6,-0.4l1.5,-0.3l1.5,-0.6l1.5,-0.3l1.5,-0.4l1.5,-0.2l1.5,-0.2l1.5,-0.2l1.5,-0.3l1.5,-0.6l1.5,-0.5l1.5,-0.4l1.6,-0.5l1.5,-0.7l1.5,-0.3l1.5,-0.8l1.5,-0.4l1.5,-0.8l1.5,-0.4l1.5,-0.5l1.5,-0.4l1.5,-0.7l1.5,-0.3l1.5,-0.6l1.6,-0.3l1.5,-0.5l1.5,-0.5l1.5,-0.4l1.5,-1l1.5,-0.4l1.5,-0.3l1.5,-0.2l1.5,-0.6l1.5,-0.2l1.5,-0.5l1.5,-0.5l1.6,-0.7l1.5,-0.7l1.5,-0.6l1.5,-0.5l1.5,-0.4l1.5,-0.1l1.5,-0.4l1.5,-0.4l1.5,-0.5l1.5,-0.5l1.5,-0.2l1.5,-0.6l1.6,-0.7l1.5,-0.3l1.5,-0.1l1.5,0.3l1.5,-0.4l1.5,-0.1l1.5,-0.1l1.5,0.1l1.5,0l1.5,0.1l1.5,-0.2l1.5,0.1l1.6,-0.3l1.5,0l1.5,-0.3l1.5,0.1l1.5,-0.2l1.5,0.3l1.5,-0.2l1.5,0.2l1.5,-0.2l0.4,0.1l0.4,-0.2l0.4,0.4l0.3,-0.1l0.4,0.4l0.4,-0.5l0.4,0.4l0.3,-0.1l0.4,0.5l0.4,-0.6l0.4,0.2l0.3,0.5l0.4,2.5l0.4,1.5l0.4,-1.4l0.4,-2.3l0.3,-1.1l0.4,-0.3l0.4,0.1l0.4,0l0.3,0.2l0.4,-0.1l0.4,-0.3l0.4,-0.1l0.3,0l0.4,0.4l0.4,0.2l0.4,-0.2l0.4,0.1l0.3,0l0.4,0.3l0.4,-0.2l1.5,-0.4l1.5,0.3l1.5,-0.1l1.5,0.2l1.5,-0.2l1.5,0.2l1.5,0l1.6,-0.4l1.5,0l1.5,0.4l1.5,0.1l1.5,-0.3l1.5,-0.2l1.5,0.6l1.5,0l1.5,0.1l1.5,-0.5l1.5,0.3l1.5,0.1l1.6,0.3l1.5,-0.2l1.5,-0.2l1.5,0.3l1.5,0.5l1.5,0l1.5,-0.2l1.5,0.1l1.5,0.4l1.5,0l1.5,-0.1l1.5,0.1l1.6,0.1l1.5,0.1l1.5,-0.1l1.5,0.1l1.5,0l1.5,0.2l1.5,-0.4l1.5,-0.1l1.5,0.1l1.5,0.1l1.5,0l1.6,-0.1l1.5,0l1.5,-0.2l1.5,0l1.5,0.1l1.5,0.4l1.5,0.1l1.5,-0.1l1.5,0l1.5,0.4l1.5,0.5l1.5,-0.1l1.6,-0.3l1.5,-0.5l1.5,0.3l1.5,0l1.5,0.3l1.5,-0.3l1.5,0.1l1.5,0.1l1.5,0.2l1.5,0.4l1.5,0.1l1.5,0.2l1.6,-0.4l1.5,-0.1l1.5,-0.5l1.5,0.1l1.5,0.1l1.5,0.1l1.5,0.2l1.5,-0.2l1.5,0l1.5,0.2l1.5,0.1l1.5,0l1.6,-0.1l1.5,-0.1l1.5,-0.2l1.5,0l1.5,0.2l1.5,0.7l1.5,0l1.5,0l1.5,0l1.5,0l1.5,-0.2l1.5,-0.2l1.6,0.1l1.5,0.3l1.5,-0.2l1.5,0.2l1.5,-0.1l1.5,-0.2l1.5,-0.2l1.5,-0.1l1.5,0.3l1.5,0.3l1.5,0.1l1.5,-0.1l1.6,0l1.5,-0.1l1.5,-0.1l1.5,-0.3l1.5,0.3l1.5,0.4l1.5,0.5l1.5,-0.5l1.5,-0.2l1.5,-0.4l1.5,0.3l1.5,0.4l1.6,0.1l1.5,-0.2l1.5,0l1.5,0l1.5,-0.1l1.5,-0.2l1.5,0.2l1.5,0.5l1.5,0.1l1.5,-0.2l1.5,-0.3l1.5,0.1l1.6,0.1l1.5,-0.1l1.5,-0.1l1.5,-0.1l1.5,0.3l1.5,0.1l1.5,0l1.5,0l1.5,0.1l1.5,0.1l1.5,-0.4l1.5,-0.2l1.6,-0.3l1.5,0.2l1.5,0.1l1.5,0.5l1.5,0.1l1.5,-0.3l1.5,-0.3l1.5,-0.2l1.5,0.1l1.5,0.1l1.5,0.1l1.5,0.1l1.6,-0.1l1.5,-0.1l1.5,0l1.5,0l1.5,0.2l1.5,0.1" fill="none" stroke="#000000" stroke-width="2.3" stroke-linejoin="round"/>
<path d="M1276.1,1120.6l1.5,-0.2l1.5,0.3l1.5,-0.1l1.5,-0.3l1.5,-0.5l1.6,-0.2l1.5,0l1.5,-0.9l1.5,-0.8l1.5,-0.8l1.5,-0.6l1.5,-0.8l1.5,-1.4l1.5,-0.9l1.5,-0.9l1.5,-0.4l1.5,-1l1.6,-1.2l1.5,-1.1l1.5,-0.9l1.5,-0.5l1.5,-0.8l1.5,-0.7l1.5,-0.9l1.5,-0.4l1.5,-0.7l1.5,-0.7l1.5,-1l1.5,-0.6l1.6,-0.9l1.5,-0.8l1.5,-0.8l1.5,-0.6l1.5,-0.6l1.5,-1.1l1.5,-0.5l1.5,-0.8l1.5,-0.3l1.5,-1.1l1.5,-1l1.5,-0.9l1.6,-0.8l1.5,-0.5l1.5,-1.2l1.5,-0.9l1.5,-1l1.5,-0.2l1.5,-0.4l1.5,-0.7l1.5,-1l1.5,-0.9l1.5,-0.7l1.5,-0.6l1.6,-1l1.5,-0.8l1.5,-1.1l1.5,-0.6l1.5,-0.8l1.5,-0.6l1.5,-1l1.5,-0.8l1.5,-0.9l1.5,-0.5l1.5,-0.5l1.5,0.2l1.6,-0.5l1.5,-0.2l1.5,-0.8l1.5,-0.1l1.5,-0.1l1.5,-0.2l1.5,-0.4l1.5,-0.7l1.5,-0.3l1.5,0.1l1.5,-0.3l1.5,-0.1l1.6,-0.7l1.5,0l1.5,-0.2l1.5,0l1.5,-0.4l1.5,-0.1l1.5,-0.3l1.5,0.2l1.5,-0.7l0.4,0.3l0.4,0.1l0.4,0.2l0.3,-0.3l0.4,-0.7l0.4,-0.2l0.4,0l0.3,0.3l0.4,0.4l0.4,0.1l0.4,0l0.3,0l0.4,0.3l0.4,-0.2l0.4,-0.2l0.4,-1l0.3,-1.1l0.4,-2.6l0.4,-3.8l0.4,-1.9l0.3,2.2l0.4,4.4l0.4,2.2l0.4,0.6l0.3,0.1l0.4,0.2l0.4,-0.1l0.4,-0.2l0.4,-0.1l0.3,0.3l0.4,0.2l0.4,0l1.5,-0.3l1.5,0.1l1.5,0.2l1.5,0l1.5,0l1.5,-0.3l1.5,0.2l1.6,-0.3l1.5,0l1.5,0l1.5,0l1.5,0.5l1.5,0.3l1.5,0.1l1.5,-0.3l1.5,-0.3l1.5,-0.2l1.5,0.3l1.5,0.2l1.6,0.3l1.5,0.1l1.5,0.2l1.5,0.4l1.5,-0.1l1.5,0.2l1.5,-0.2l1.5,0.5l1.5,-0.3l1.5,0.3l1.5,-0.3l1.5,0.5l1.6,0l1.5,0l1.5,-0.1l1.5,0l1.5,0.3l1.5,0.3l1.5,0l1.5,-0.1l1.5,-0.2l1.5,0l1.5,0.3l1.6,0l1.5,0.1l1.5,0l1.5,-0.5l1.5,0.3l1.5,-0.2l1.5,0.3l1.5,0.1l1.5,0.4l1.5,0.2l1.5,-0.3l1.5,-0.3l1.6,0l1.5,0l1.5,0.3l1.5,0.7l1.5,-0.1l1.5,0l1.5,-0.5l1.5,0.1l1.5,0.1l1.5,-0.2l1.5,-0.1l1.5,-0.3l1.6,0.5l1.5,0.3l1.5,0.2l1.5,-0.1l1.5,0.2l1.5,-0.1l1.5,-0.1l1.5,-0.2l1.5,0.2l1.5,-0.2l1.5,0.1l1.5,0.4l1.6,0.4l1.5,0l1.5,-0.5l1.5,-0.1l1.5,0.1l1.5,0.3l1.5,-0.1l1.5,0.1l1.5,0l1.5,0.2l1.5,-0.1l1.5,0l1.6,0.2l1.5,0l1.5,0.1l1.5,-0.3l1.5,0.1l1.5,-0.3l1.5,-0.1l1.5,0.2l1.5,0.2l1.5,0.5l1.5,-0.4l1.5,0l1.6,-0.5l1.5,0.4l1.5,0.4l1.5,0l1.5,0l1.5,-0.3l1.5,0.2l1.5,0l1.5,-0.1l1.5,0.3l1.5,0l1.5,0.2l1.6,-0.2l1.5,0l1.5,-0.3l1.5,0l1.5,0.7l1.5,0.1l1.5,-0.1l1.5,-0.3l1.5,0.3l1.5,0.2l1.5,0.2l1.5,-0.2l1.6,-0.2l1.5,-0.4l1.5,0.2l1.5,0.1l1.5,0.1l1.5,0l1.5,0.1l1.5,-0.3l1.5,-0.1l1.5,-0.1l1.5,0.4l1.5,0.1l1.6,0.4l1.5,0l1.5,-0.2l1.5,-0.6l1.5,-0.2l1.5,0.1l1.5,0.3l1.5,0.4l1.5,0.1l1.5,-0.1l1.5,0.1l1.5,-0.2l1.6,0.3l1.5,0.2l1.5,0.3l1.5,0.1l1.5,0l1.5,-0.2" fill="none" stroke="#f47b20" stroke-width="2.3" stroke-linejoin="round"/>
<path d="M1276.1,1095.1l1.5,7.2l1.5,7.2l1.5,7l0.5,2.3l1,-1.1l1.5,-1.4l1.6,-1.6l1.5,-1.4l1.5,-1.2l1.5,-1.4l1.5,-1.4l1.5,-1.8l1.5,-1.5l1.5,-1.5l1.5,-1.5l1.5,-1.7l1.5,-1.5l1.5,-1.4l1.6,-1.1l1.5,-1.1l1.5,-1.2l1.5,-1.3l1.5,-1.2l1.5,-1.5l1.5,-1.3l1.5,-1.1l1.5,-1l1.5,-1.5l1.5,-1.4l1.5,-1.2l1.6,-0.8l1.5,-1l1.5,-0.8l1.5,-1.2l1.5,-1.4l1.5,-1.1l1.5,-1.3l1.5,-0.6l1.5,-1.2l1.5,-0.9l1.5,-1.4l1.5,-1.1l1.6,-0.6l1.5,-1l1.5,-0.8l1.5,-1.7l1.5,-1l1.5,-1.2l1.5,-0.4l1.5,-1l1.5,-0.7l1.5,-1.4l1.5,-1.1l1.5,-1.4l1.6,-0.8l1.5,-1l1.5,-1.1l1.5,-1l1.5,-0.8l1.5,-0.8l1.5,-1l1.5,-1.1l1.5,-1l1.5,-1l1.5,-1.1l1.5,-0.5l1.6,-1.1l1.5,-0.9l1.5,-0.7l1.5,-0.5l1.5,-0.3l1.5,-0.8l1.5,-0.9l1.5,-0.6l1.5,-0.8l1.5,-0.3l1.5,-0.7l1.5,-0.2l1.6,-1.2l1.5,-0.7l1.5,-0.9l1.5,-0.1l1.5,-0.7l1.5,-0.1l1.5,-0.6l1.5,-0.6l1.5,-0.7l0.4,-0.1l0.4,0.1l0.4,0l0.3,-0.1l0.4,-0.1l0.4,-0.3l0.4,-0.1l0.3,0.1l0.4,-0.1l0.4,0l0.4,0l0.3,1.7l0.4,5l0.4,7.2l0.4,2.2l0.4,-5l0.3,-6.9l0.4,-3.2l0.4,-0.8l0.4,-0.5l0.3,-0.3l0.4,-0.2l0.4,0.1l0.4,-0.4l0.3,-0.2l0.4,0l0.4,0.3l0.4,-0.4l0.4,-0.2l0.3,-0.2l0.4,0.5l0.4,0.2l1.5,-0.4l1.5,-0.4l1.5,-0.6l1.5,-0.2l1.5,-0.5l1.5,-0.2l1.5,-0.3l1.6,0l1.5,0l1.5,-0.5l1.5,0l1.5,0.1l1.5,0.2l1.5,-0.2l1.5,0.1l1.5,0.4l1.5,-0.1l1.5,-0.3l1.5,-0.4l1.6,0.1l1.5,0l1.5,0.5l1.5,0l1.5,0.3l1.5,-0.2l1.5,0l1.5,-0.3l1.5,0.3l1.5,-0.1l1.5,0.3l1.5,0.1l1.6,0.2l1.5,0.3l1.5,-0.2l1.5,0l1.5,-0.2l1.5,0l1.5,0.1l1.5,0l1.5,0.4l1.5,0l1.5,0.2l1.6,-0.2l1.5,0.1l1.5,-0.1l1.5,0.2l1.5,0.3l1.5,0.1l1.5,-0.3l1.5,-0.2l1.5,-0.2l1.5,-0.1l1.5,0l1.5,0.2l1.6,0.5l1.5,0.3l1.5,0.1l1.5,-0.2l1.5,-0.1l1.5,0l1.5,0.1l1.5,0l1.5,0l1.5,0l1.5,0.1l1.5,0.2l1.6,0.2l1.5,0.1l1.5,-0.1l1.5,-0.1l1.5,0.2l1.5,-0.3l1.5,0.2l1.5,0l1.5,0.4l1.5,0.1l1.5,0l1.5,-0.2l1.6,-0.2l1.5,-0.1l1.5,0.3l1.5,0.2l1.5,0l1.5,0.2l1.5,0.2l1.5,0.2l1.5,-0.1l1.5,-0.1l1.5,0l1.5,0.5l1.6,0l1.5,-0.2l1.5,-0.5l1.5,0.3l1.5,0.6l1.5,0.2l1.5,0.2l1.5,-0.2l1.5,0.2l1.5,-0.2l1.5,0l1.5,0.3l1.6,0.2l1.5,0.4l1.5,0l1.5,0.2l1.5,0l1.5,-0.3l1.5,0.2l1.5,-0.1l1.5,-0.1l1.5,-0.3l1.5,0.2l1.5,0.4l1.6,0.4l1.5,0.1l1.5,0l1.5,-0.2l1.5,-0.3l1.5,0l1.5,0.2l1.5,0.2l1.5,0.5l1.5,0.3l1.5,0.4l1.5,0l1.6,-0.2l1.5,0.1l1.5,-0.3l1.5,-0.1l1.5,-0.1l1.5,0.5l1.5,0.2l1.5,0.1l1.5,0.2l1.5,0.2l1.5,0.1l1.5,-0.1l1.6,-0.1l1.5,0l1.5,0.2l1.5,0.4l1.5,0.4l1.5,-0.1l1.5,0.3l1.5,-0.2l1.5,0.1l1.5,-0.2l1.5,0.3l1.5,0.4l1.6,0l1.5,0.1l1.5,-0.4l1.5,0.3l1.5,0l1.5,0.3" fill="none" stroke="#7e3f98" stroke-width="2.3" stroke-linejoin="round"/>
<path d="M1276.1,1112.5l1.5,2.9l1.5,3.7l1.5,-3.4l1.5,-2.9l1.5,-3.4l1.6,-3l1.5,-3.2l1.5,-3.3l1.5,-2.7l1.5,-2.8l1.5,-2.5l1.5,-3.2l1.5,-2.7l1.5,-2.8l1.5,-2.2l1.5,-2.7l1.5,-2.5l1.6,-2.4l1.5,-2.2l1.5,-1.9l1.5,-2.3l1.5,-2.4l1.5,-2.3l1.5,-2.3l1.5,-1.7l1.5,-1.9l1.5,-1.7l1.5,-2.3l1.5,-2.4l1.6,-2.4l1.5,-2.1l1.5,-2.3l1.5,-2l1.5,-2l1.5,-1.8l1.5,-2.5l1.5,-2l1.5,-2.3l1.5,-1.9l1.5,-2.6l1.5,-1.9l1.6,-1.8l1.5,-2l1.5,-2.3l1.5,-1.8l1.5,-1.8l1.5,-1.7l1.5,-2.1l1.5,-1.8l1.5,-1.7l1.5,-1.3l1.5,-1.5l1.5,-2.1l1.6,-2l1.5,-1.6l1.5,-1.8l1.5,-1.3l1.5,-1.7l1.5,-1l1.5,-1.6l1.5,-1.3l1.5,-1.7l1.5,-1.1l1.5,-1.1l1.5,-0.5l1.6,-1.3l1.5,-0.9l1.5,-1.2l1.5,-0.6l1.5,-0.7l1.5,-0.8l1.5,-0.9l1.5,-0.8l1.5,-0.6l1.5,-0.6l1.5,-0.3l1.5,-0.7l1.6,-0.6l1.5,-1l1.5,-0.1l1.5,-0.2l1.5,-0.1l1.5,-0.7l1.5,-1l1.5,-1l1.5,-0.7l0.4,0l0.4,-0.2l0.4,-0.1l0.3,-0.2l0.4,0l0.4,0.1l0.4,0l0.3,-0.3l0.4,-0.5l0.4,-0.2l0.4,0.1l0.3,-1.2l0.4,-5.7l0.4,-11.5l0.4,-4.8l0.4,9.7l0.3,7.6l0.4,-2.3l0.4,-5.2l0.4,2.2l0.3,5.6l0.4,2.9l0.4,0.4l0.4,0l0.3,-0.2l0.4,0l0.4,0.4l0.4,0.1l0.4,0.3l0.3,-0.1l0.4,-0.3l0.4,0l1.5,0l1.5,0.4l1.5,-0.2l1.5,-0.1l1.5,-0.2l1.5,0.2l1.5,0.2l1.6,0.4l1.5,-0.1l1.5,0.1l1.5,0l1.5,-0.2l1.5,0.1l1.5,0.2l1.5,0.2l1.5,0.1l1.5,0.3l1.5,0.6l1.5,0l1.6,-0.1l1.5,0l1.5,0.2l1.5,0.1l1.5,-0.1l1.5,0.4l1.5,0.4l1.5,0.3l1.5,-0.2l1.5,0.2l1.5,0.3l1.5,0.3l1.6,0.4l1.5,0l1.5,0.2l1.5,-0.2l1.5,0.2l1.5,0.1l1.5,0.4l1.5,0.1l1.5,-0.1l1.5,0.1l1.5,-0.2l1.6,0.4l1.5,0.1l1.5,0.4l1.5,0l1.5,0.3l1.5,-0.3l1.5,0l1.5,0.1l1.5,0l1.5,0.1l1.5,0l1.5,0.2l1.6,0.1l1.5,0.3l1.5,0.2l1.5,0.1l1.5,0l1.5,0l1.5,-0.1l1.5,0.3l1.5,0.5l1.5,0.2l1.5,0.1l1.5,-0.3l1.6,0.2l1.5,0.1l1.5,0.2l1.5,0.1l1.5,0.1l1.5,0l1.5,-0.2l1.5,-0.1l1.5,0.4l1.5,0.5l1.5,0.1l1.5,0.2l1.6,-0.1l1.5,0.3l1.5,0.1l1.5,0.2l1.5,0l1.5,-0.2l1.5,0l1.5,0.5l1.5,0.5l1.5,0.4l1.5,0l1.5,-0.1l1.6,-0.3l1.5,0.1l1.5,0.2l1.5,0.3l1.5,0.2l1.5,0.4l1.5,0.1l1.5,-0.3l1.5,0.1l1.5,-0.3l1.5,0.1l1.5,0l1.6,0.3l1.5,0.4l1.5,0.1l1.5,0l1.5,0l1.5,-0.1l1.5,0.1l1.5,0l1.5,0.2l1.5,0.3l1.5,0.1l1.5,0.4l1.6,0l1.5,0.2l1.5,0l1.5,-0.2l1.5,0.3l1.5,0.1l1.5,0.5l1.5,0.2l1.5,0.1l1.5,0.4l1.5,0l1.5,0l1.6,-0.2l1.5,-0.3l1.5,0l1.5,-0.1l1.5,0.2l1.5,0.3l1.5,0.2l1.5,0.2l1.5,0.2l1.5,0l1.5,-0.1l1.5,0l1.6,0.2l1.5,0.1l1.5,0.4l1.5,0.2l1.5,0.4l1.5,-0.1l1.5,0.2l1.5,-0.3l1.5,0l1.5,0.1l1.5,0.4l1.5,0.4l1.6,-0.1l1.5,0l1.5,-0.1l1.5,0.4l1.5,0.3l1.5,0.1" fill="none" stroke="#22b14c" stroke-width="2.3" stroke-linejoin="round"/>
<path d="M1276.1,1111.2l1.5,1.1l1.5,1.6l1.5,-5.5l1.5,-4.7l1.5,-4.1l1.6,-2.8l1.5,-2.5l1.5,-1.8l1.5,-1.6l1.5,-1.3l1.5,-1.4l1.5,-1.7l1.5,-2.1l1.5,-2.2l1.5,-2.4l1.5,-3.5l1.5,-4.7l1.6,-4.9l1.5,-4.9l1.5,-4.2l1.5,-4.2l1.5,-4.3l1.5,-4.7l1.5,-4.5l1.5,-4.3l1.5,-4.7l1.5,-4.5l1.5,-4.3l1.5,-3.7l1.6,-4.1l1.5,-3.8l1.5,-4l1.5,-3.6l1.5,-3.4l1.5,-3.2l1.5,-3l1.5,-3.4l1.5,-3.3l1.5,-3.5l1.5,-3.2l1.5,-3.2l1.6,-3l1.5,-3.1l1.5,-3.1l1.5,-3.4l1.5,-3l1.5,-3.1l1.5,-2.8l1.5,-3l1.5,-2.8l1.5,-3.2l1.5,-3l1.5,-3.3l1.6,-2.8l1.5,-3l1.5,-3l1.5,-3.1l1.5,-3.5l1.5,-3.2l1.5,-2.9l1.5,-2l1.5,-2.3l1.5,-2l1.5,-2.6l1.5,-2.1l1.6,-2.3l1.5,-1.7l1.5,-1.5l1.5,-1l1.5,-1.1l1.5,-0.8l1.5,-0.9l1.5,-0.6l1.5,-0.8l1.5,-0.9l1.5,-0.9l1.5,-0.8l1.6,-0.6l1.5,-0.4l1.5,-0.8l1.5,-0.2l1.5,-0.6l1.5,-0.3l1.5,-0.6l1.5,-0.5l1.5,-0.6l0.4,-0.5l0.4,-0.3l0.4,0.2l0.3,-0.1l0.4,-0.3l0.4,-0.7l0.4,-0.4l0.3,0.2l0.4,0.2l0.4,0.3l0.4,-0.2l0.3,0.3l0.4,2.9l0.4,5l0.4,1.8l0.4,-4l0.3,-4.9l0.4,-2.5l0.4,-1.4l0.4,-0.3l0.3,-0.3l0.4,0.2l0.4,-0.1l0.4,0.4l0.3,-0.5l0.4,-0.3l0.4,-0.9l0.4,-0.1l0.4,-0.3l0.3,0.5l0.4,-0.4l0.4,0l1.5,-0.7l1.5,0.4l1.5,-0.4l1.5,-0.4l1.5,-0.4l1.5,0l1.5,0l1.6,-0.4l1.5,-0.1l1.5,-0.3l1.5,0.2l1.5,0.1l1.5,0.4l1.5,0.5l1.5,0.1l1.5,-0.2l1.5,-0.4l1.5,0.1l1.5,0.3l1.6,0.5l1.5,0l1.5,0.2l1.5,-0.3l1.5,0.2l1.5,0.1l1.5,0l1.5,0.1l1.5,0.2l1.5,0.8l1.5,0.4l1.5,0.2l1.6,-0.1l1.5,-0.2l1.5,0.4l1.5,0.2l1.5,0l1.5,-0.3l1.5,0.2l1.5,0.5l1.5,0.2l1.5,0l1.5,-0.3l1.6,0.3l1.5,-0.1l1.5,0.2l1.5,0.1l1.5,0.8l1.5,0.3l1.5,0.3l1.5,-0.2l1.5,0l1.5,0.1l1.5,-0.1l1.5,0.3l1.6,0.1l1.5,0.4l1.5,0.1l1.5,0l1.5,0.1l1.5,-0.1l1.5,-0.1l1.5,0.2l1.5,0.1l1.5,0.6l1.5,0.4l1.5,0.3l1.6,0l1.5,-0.1l1.5,-0.1l1.5,0.5l1.5,0.2l1.5,0.6l1.5,-0.5l1.5,0l1.5,-0.1l1.5,0.6l1.5,-0.2l1.5,0.2l1.6,-0.1l1.5,0.6l1.5,-0.2l1.5,0.1l1.5,-0.3l1.5,0.1l1.5,0.3l1.5,0.2l1.5,0.2l1.5,0l1.5,0.2l1.5,0.2l1.6,0.3l1.5,0l1.5,-0.1l1.5,0.1l1.5,-0.1l1.5,0.5l1.5,0.2l1.5,0.2l1.5,-0.1l1.5,0.4l1.5,0.1l1.5,0l1.6,0l1.5,0.3l1.5,0.4l1.5,0.1l1.5,0.3l1.5,0l1.5,0.1l1.5,0.2l1.5,0.2l1.5,-0.1l1.5,0.1l1.5,-0.2l1.6,0.2l1.5,0.3l1.5,0.5l1.5,0.1l1.5,-0.4l1.5,-0.2l1.5,0.2l1.5,0.2l1.5,0.4l1.5,-0.1l1.5,0.3l1.5,-0.2l1.6,0.2l1.5,0.1l1.5,0.2l1.5,0.4l1.5,0.1l1.5,0l1.5,-0.8l1.5,0l1.5,0.3l1.5,1l1.5,0l1.5,0.5l1.6,0l1.5,0.3l1.5,0l1.5,-0.3l1.5,0l1.5,0l1.5,0.5l1.5,0.5l1.5,0.3l1.5,-0.1l1.5,-0.2l1.5,-0.1l1.6,0.1l1.5,0.3l1.5,0.1l1.5,0.4l1.5,0l1.5,0.2" fill="none" stroke="#ed1c24" stroke-width="2.3" stroke-linejoin="round"/>
<path d="M1276.1,1094.8l1.5,7.3l1.5,7.6l1.5,7.2l0.5,1.8l1,-0.8l1.5,-1l1.6,-1.2l1.5,-1.8l1.5,-1.2l1.5,-1.4l1.5,-1.1l1.5,-1.9l1.5,-1.2l1.5,-1.4l1.5,-0.8l1.5,-1.4l1.5,-1.4l1.5,-1.1l1.6,-1.1l1.5,-0.8l1.5,-1.3l1.5,-0.9l1.5,-1.2l1.5,-1.2l1.5,-1.2l1.5,-1.4l1.5,-1.4l1.5,-1.3l1.5,-0.8l1.5,-1.1l1.6,-0.8l1.5,-0.9l1.5,-1.1l1.5,-1.5l1.5,-1.5l1.5,-0.9l1.5,-0.7l1.5,-0.8l1.5,-1.2l1.5,-1.1l1.5,-1l1.5,-0.6l1.6,-1l1.5,-1.2l1.5,-1.3l1.5,-1l1.5,-0.6l1.5,-0.8l1.5,-1.3l1.5,-0.9l1.5,-1.1l1.5,-0.5l1.5,-1l1.5,-1l1.6,-1.5l1.5,-1l1.5,-0.7l1.5,-1l1.5,-1l1.5,-1l1.5,-0.8l1.5,-1l1.5,-1.1l1.5,-0.9l1.5,-0.6l1.5,-0.6l1.6,-0.5l1.5,-0.6l1.5,-0.5l1.5,-0.9l1.5,-0.6l1.5,-1l1.5,-0.5l1.5,-0.9l1.5,-0.5l1.5,-0.6l1.5,-0.8l1.5,-0.4l1.6,-0.5l1.5,-0.3l1.5,-0.9l1.5,-0.7l1.5,-0.4l1.5,-0.1l1.5,-0.2l1.5,-0.6l1.5,-0.5l0.4,-0.6l0.4,0.2l0.4,-0.3l0.3,0.3l0.4,-0.3l0.4,0.1l0.4,0l0.3,-0.2l0.4,-0.3l0.4,0.1l0.4,-0.3l0.3,0.2l0.4,-0.2l0.4,1.7l0.4,3.7l0.4,6.8l0.3,5.8l0.4,0.8l0.4,-5.1l0.4,-7l0.3,-4.8l0.4,-2.6l0.4,-0.2l0.4,-0.1l0.3,0.1l0.4,-0.2l0.4,0l0.4,-0.3l0.4,-0.5l0.3,0l0.4,0.1l0.4,0l1.5,-0.5l1.5,-0.1l1.5,0l1.5,0.1l1.5,-0.1l1.5,-0.2l1.5,-0.4l1.6,-0.5l1.5,0l1.5,0.3l1.5,0.2l1.5,-0.2l1.5,-0.5l1.5,-0.2l1.5,0.2l1.5,-0.2l1.5,0.1l1.5,-0.2l1.5,0.3l1.6,0.1l1.5,0l1.5,0.4l1.5,0l1.5,0.2l1.5,-0.3l1.5,-0.1l1.5,0.1l1.5,0.1l1.5,-0.1l1.5,0.1l1.5,0l1.6,0.6l1.5,0.2l1.5,-0.1l1.5,-0.2l1.5,0l1.5,0.3l1.5,0l1.5,0.4l1.5,0l1.5,0.2l1.5,-0.1l1.6,0l1.5,0.1l1.5,0.1l1.5,-0.2l1.5,-0.2l1.5,-0.3l1.5,0.4l1.5,0l1.5,0.2l1.5,-0.2l1.5,-0.1l1.5,0.2l1.6,0.2l1.5,0.5l1.5,0.6l1.5,0.4l1.5,0l1.5,-0.6l1.5,-0.1l1.5,-0.1l1.5,0l1.5,0l1.5,0l1.5,0l1.6,-0.1l1.5,0.5l1.5,0.1l1.5,0.2l1.5,-0.1l1.5,0.3l1.5,0.2l1.5,-0.2l1.5,0l1.5,-0.3l1.5,0.2l1.5,0.3l1.6,0.3l1.5,0l1.5,0l1.5,-0.4l1.5,0.2l1.5,0.1l1.5,0.4l1.5,-0.1l1.5,0l1.5,0.3l1.5,0.1l1.5,-0.1l1.6,-0.1l1.5,0.2l1.5,0.2l1.5,0l1.5,-0.1l1.5,0.7l1.5,0.3l1.5,0.4l1.5,-0.4l1.5,-0.1l1.5,-0.3l1.5,0l1.6,0.1l1.5,0.2l1.5,-0.1l1.5,0.2l1.5,0l1.5,0.1l1.5,-0.1l1.5,0.5l1.5,0.2l1.5,0.2l1.5,-0.2l1.5,-0.1l1.6,0l1.5,0.1l1.5,0.1l1.5,0l1.5,0.1l1.5,0.1l1.5,0.1l1.5,0.2l1.5,0.2l1.5,0.1l1.5,0.2l1.5,0.2l1.6,-0.2l1.5,0l1.5,-0.1l1.5,0.3l1.5,0l1.5,0.1l1.5,0l1.5,0.2l1.5,0l1.5,0.2l1.5,-0.3l1.5,0.6l1.6,0.1l1.5,0.1l1.5,-0.2l1.5,0l1.5,0.2l1.5,0.2l1.5,0l1.5,0.5l1.5,-0.1l1.5,0.2l1.5,-0.3l1.5,-0.2l1.6,0.1l1.5,-0.1l1.5,0.3l1.5,0.3l1.5,0.8l1.5,0" fill="none" stroke="#3953a4" stroke-width="2.3" stroke-linejoin="round"/>
<line x1="1276.1" y1="867.9" x2="1276.1" y2="1121.6" stroke="#000" stroke-width="2.6"/>
<line x1="1274.8" y1="1120.4" x2="1654.2" y2="1120.4" stroke="#000" stroke-width="2.6"/>
<line x1="1268.6" y1="1120.4" x2="1276.1" y2="1120.4" stroke="#000" stroke-width="2.2"/>
<text x="1267.8" y="1128.3" font-size="22.3" text-anchor="end">0</text>
<line x1="1268.6" y1="1070.1" x2="1276.1" y2="1070.1" stroke="#000" stroke-width="2.2"/>
<text x="1267.8" y="1078" font-size="22.3" text-anchor="end">20</text>
<line x1="1268.6" y1="1019.9" x2="1276.1" y2="1019.9" stroke="#000" stroke-width="2.2"/>
<text x="1267.8" y="1027.8" font-size="22.3" text-anchor="end">40</text>
<line x1="1268.6" y1="969.6" x2="1276.1" y2="969.6" stroke="#000" stroke-width="2.2"/>
<text x="1267.8" y="977.5" font-size="22.3" text-anchor="end">60</text>
<line x1="1268.6" y1="919.4" x2="1276.1" y2="919.4" stroke="#000" stroke-width="2.2"/>
<text x="1267.8" y="927.3" font-size="22.3" text-anchor="end">80</text>
<line x1="1268.6" y1="869.1" x2="1276.1" y2="869.1" stroke="#000" stroke-width="2.2"/>
<text x="1267.8" y="877" font-size="22.3" text-anchor="end">100</text>
<line x1="1276.1" y1="1120.4" x2="1276.1" y2="1127.9" stroke="#000" stroke-width="2.2"/>
<text x="1276.1" y="1150.5" font-size="22" text-anchor="middle">0</text>
<line x1="1351.5" y1="1120.4" x2="1351.5" y2="1127.9" stroke="#000" stroke-width="2.2"/>
<text x="1351.5" y="1150.5" font-size="22" text-anchor="middle">50</text>
<line x1="1426.9" y1="1120.4" x2="1426.9" y2="1127.9" stroke="#000" stroke-width="2.2"/>
<text x="1426.9" y="1150.5" font-size="22" text-anchor="middle">100</text>
<line x1="1502.4" y1="1120.4" x2="1502.4" y2="1127.9" stroke="#000" stroke-width="2.2"/>
<text x="1502.4" y="1150.5" font-size="22" text-anchor="middle">150</text>
<line x1="1577.8" y1="1120.4" x2="1577.8" y2="1127.9" stroke="#000" stroke-width="2.2"/>
<text x="1577.8" y="1150.5" font-size="22" text-anchor="middle">200</text>
<line x1="1653.2" y1="1120.4" x2="1653.2" y2="1127.9" stroke="#000" stroke-width="2.2"/>
<text x="1653.2" y="1150.5" font-size="22" text-anchor="middle">250</text>
<text x="1465.2" y="1177.2" font-size="22" text-anchor="middle" textLength="73.5" lengthAdjust="spacingAndGlyphs">Time(s)</text>
<text x="1478.8" y="789.2" font-size="31" font-weight="bold" text-anchor="middle" textLength="124" lengthAdjust="spacingAndGlyphs">nCoV424</text>
<text x="1480.5" y="840.9" font-size="22" font-weight="bold" text-anchor="middle" fill="#1a1a1a">K<tspan font-size="11">D</tspan> = 15.7 nM</text>
<line x1="1666.8" y1="974" x2="1692.4" y2="974" stroke="#000000" stroke-width="2.3"/>
<text x="1707.7" y="982" font-size="21.5">1.25 µg/ml</text>
<line x1="1666.8" y1="1002.9" x2="1692.4" y2="1002.9" stroke="#f47b20" stroke-width="2.3"/>
<text x="1707.7" y="1010.9" font-size="21.5">2.5 µg/ml</text>
<line x1="1666.8" y1="1031.9" x2="1692.4" y2="1031.9" stroke="#7e3f98" stroke-width="2.3"/>
<text x="1707.7" y="1039.9" font-size="21.5">5 µg/ml</text>
<line x1="1666.8" y1="1060.8" x2="1692.4" y2="1060.8" stroke="#22b14c" stroke-width="2.3"/>
<text x="1707.7" y="1068.8" font-size="21.5">10 µg/ml</text>
<line x1="1666.8" y1="1090.4" x2="1692.4" y2="1090.4" stroke="#ed1c24" stroke-width="2.3"/>
<text x="1707.7" y="1098.4" font-size="21.5">20 µg/ml</text>
<line x1="1666.8" y1="1119.3" x2="1692.4" y2="1119.3" stroke="#3953a4" stroke-width="2.3"/>
<text x="1707.7" y="1127.3" font-size="21.5">5 µg/ml</text>
<path d="M64.7,1573.2l1.5,0.1l1.5,0.3l1.5,0.1l1.5,-0.3l1.5,-0.2l1.5,-0.6l1.5,0.1l1.5,0.2l1.6,-0.1l1.5,-0.3l1.5,-0.6l1.5,-0.4l1.5,-0.4l1.5,-0.6l1.5,0l1.5,-0.3l1.6,-0.3l1.5,-0.2l1.5,-0.7l1.5,-0.4l1.5,-0.4l1.5,-0.2l1.5,-0.3l1.5,-0.2l1.5,-0.4l1.6,-0.1l1.5,-0.5l1.5,0l1.5,-0.4l1.5,-0.3l1.5,-0.3l1.5,-0.3l1.5,-0.2l1.6,-0.6l1.5,-0.3l1.5,-0.5l1.5,-0.4l1.5,-0.5l1.5,0l1.5,-0.1l1.5,-0.5l1.5,-0.5l1.6,-0.5l1.5,-0.3l1.5,-0.4l1.5,-0.1l1.5,-0.1l1.5,-0.2l1.5,-0.4l1.5,-0.5l1.5,-0.4l1.6,-0.2l1.5,-0.3l1.5,-0.3l1.5,-0.1l1.5,-0.2l1.5,-0.1l1.5,-0.5l1.5,-0.4l1.6,-0.4l1.5,-0.2l1.5,-0.4l1.5,-0.4l1.5,-0.1l1.5,-0.2l1.5,0.1l1.5,-0.8l1.5,-0.1l1.6,-0.3l1.5,0.1l1.5,-0.2l1.5,-0.2l1.5,-0.3l1.5,-0.2l1.5,-0.3l1.5,-0.1l1.5,0.1l1.6,-0.3l1.5,0l1.5,-0.4l1.5,0.3l1.5,-0.1l1.5,0.1l1.5,-0.2l1.5,-0.2l0.8,-0.1l0.4,0l0.4,0.3l0.3,-0.1l0.4,-0.2l0.4,-0.1l0.4,0l0.3,-0.1l0.4,0.4l0.4,0.2l0.4,0.5l0.4,-0.3l0.3,-0.5l0.4,-1.6l0.4,-1.4l0.4,1.9l0.3,1.3l0.4,0.2l0.4,0l0.4,0.1l0.4,0.2l0.3,-0.1l0.4,0l0.4,-0.4l0.4,0.3l0.3,0.2l0.4,0.2l0.4,-0.2l0.4,-0.1l0.4,-0.1l0.3,-0.3l0.4,-0.2l0.4,0.2l1.5,0.4l1.5,0l1.5,-0.1l1.5,-0.3l1.5,0.1l1.6,0l1.5,0.3l1.5,0.3l1.5,0.1l1.5,0.1l1.5,0.1l1.5,-0.3l1.5,0l1.6,0l1.5,0.2l1.5,0.2l1.5,-0.3l1.5,0.3l1.5,-0.1l1.5,0.2l1.5,-0.1l1.5,-0.2l1.6,-0.1l1.5,-0.1l1.5,0.1l1.5,0.4l1.5,-0.2l1.5,0l1.5,-0.2l1.5,-0.1l1.5,0l1.6,-0.2l1.5,0.2l1.5,0.3l1.5,0.2l1.5,0l1.5,0.1l1.5,-0.2l1.5,0.1l1.6,-0.2l1.5,0.4l1.5,0l1.5,0l1.5,0l1.5,0l1.5,0.5l1.5,-0.3l1.5,0.3l1.6,0l1.5,0.4l1.5,0l1.5,-0.4l1.5,0l1.5,-0.1l1.5,0.3l1.5,-0.5l1.6,-0.1l1.5,-0.4l1.5,0.5l1.5,0l1.5,0.6l1.5,-0.3l1.5,0l1.5,0.1l1.5,0.3l1.6,0.3l1.5,0l1.5,-0.1l1.5,0l1.5,0l1.5,-0.2l1.5,-0.3l1.5,0l1.5,0l1.6,0.1l1.5,-0.3l1.5,0l1.5,-0.2l1.5,-0.2l1.5,-0.3l1.5,0.1l1.5,-0.2l1.6,-0.3l1.5,0l1.5,0.3l1.5,0l1.5,0l1.5,-0.1l1.5,0.1l1.5,-0.1l1.5,0.1l1.6,0.2l1.5,-0.1l1.5,0.3l1.5,-0.7l1.5,-0.4l1.5,-0.6l1.5,0.3l1.5,0l1.6,0l1.5,-0.2l1.5,0l1.5,0.4l1.5,0l1.5,0.3l1.5,0l1.5,0.3l1.5,-0.2l1.6,-0.3l1.5,0l1.5,-0.2l1.5,-0.1l1.5,-0.1l1.5,0.3l1.5,0.3l1.5,-0.2l1.5,0l1.6,0.2l1.5,0.1l1.5,0.3l1.5,-0.2l1.5,-0.1l1.5,-0.3l1.5,-0.1l1.5,0.1l1.6,0l1.5,0.1l1.5,0.3l1.5,0.2l1.5,0.1l1.5,-0.4l1.5,-0.2l1.5,-0.1l1.5,0.4l1.6,0.5l1.5,0.1l1.5,-0.3l1.5,-0.1l1.5,0l1.5,0.4l1.5,0l1.5,0l1.5,-0.1l1.6,0.2l1.5,-0.1l1.5,0l1.5,-0.1l1.5,0.1l1.5,0l1.5,0.2l1.5,0.4l1.6,0.2l1.5,0.3l1.5,0.2l1.5,-0.2l1.5,0.1" fill="none" stroke="#000000" stroke-width="2.3" stroke-linejoin="round"/>
<path d="M64.7,1573.3l1.5,-0.1l1.5,0.5l1.5,0l1.5,0l1.5,-0.7l1.5,-0.3l1.5,-1l1.5,-1l1.6,-0.7l1.5,-1l1.5,-0.9l1.5,-1.1l1.5,-1.2l1.5,-1.2l1.5,-1.4l1.5,-1l1.6,-1.7l1.5,-1.1l1.5,-0.9l1.5,-0.3l1.5,-0.9l1.5,-1l1.5,-0.9l1.5,-0.5l1.5,-0.8l1.6,-0.6l1.5,-0.6l1.5,-0.4l1.5,-0.6l1.5,-0.9l1.5,-0.8l1.5,-0.6l1.5,-0.4l1.6,-0.5l1.5,-1l1.5,-0.4l1.5,-0.5l1.5,-0.3l1.5,-0.5l1.5,-0.5l1.5,-0.4l1.5,-0.5l1.6,-0.6l1.5,-0.6l1.5,-0.8l1.5,-0.4l1.5,-0.3l1.5,-0.7l1.5,-0.3l1.5,-0.6l1.5,-0.2l1.6,-0.8l1.5,-0.6l1.5,-0.4l1.5,-0.6l1.5,-0.7l1.5,-0.4l1.5,-0.4l1.5,-0.2l1.6,-0.4l1.5,-0.4l1.5,-0.2l1.5,-0.5l1.5,-0.6l1.5,-0.8l1.5,-0.3l1.5,0.3l1.5,-0.1l1.6,0.1l1.5,-0.3l1.5,-0.2l1.5,-0.1l1.5,-0.2l1.5,0.1l1.5,-0.3l1.5,0.2l1.5,-0.1l1.6,-0.1l1.5,-0.4l1.5,-0.2l1.5,0l1.5,0.2l1.5,0.1l1.5,-0.1l1.5,0l0.8,-0.2l0.4,-0.1l0.4,0l0.3,0.1l0.4,-0.2l0.4,-0.1l0.4,0.1l0.3,-0.2l0.4,-0.5l0.4,0.1l0.4,0.3l0.4,-0.4l0.3,-2.4l0.4,-5l0.4,-4.3l0.4,0.3l0.3,5.2l0.4,4.6l0.4,2.1l0.4,-0.2l0.4,-0.4l0.3,0.1l0.4,0.1l0.4,-0.2l0.4,-0.3l0.3,0.2l0.4,0l0.4,-0.3l0.4,0l0.4,0l0.3,0.2l0.4,0.1l0.4,0.2l1.5,0l1.5,0l1.5,0l1.5,0l1.5,-0.1l1.6,-0.1l1.5,0.6l1.5,0.1l1.5,0.4l1.5,0l1.5,0.4l1.5,-0.1l1.5,-0.1l1.6,0.2l1.5,0.6l1.5,0.3l1.5,0.2l1.5,-0.3l1.5,0.4l1.5,0.5l1.5,0.5l1.5,-0.1l1.6,-0.1l1.5,0l1.5,-0.2l1.5,0.3l1.5,0.4l1.5,0.8l1.5,0l1.5,0l1.5,-0.2l1.6,0l1.5,0.2l1.5,-0.2l1.5,0.2l1.5,0.3l1.5,0.4l1.5,0.4l1.5,0.1l1.6,-0.1l1.5,-0.3l1.5,-0.6l1.5,0.1l1.5,0.2l1.5,0.6l1.5,-0.1l1.5,-0.1l1.5,0l1.6,0.1l1.5,0l1.5,0.2l1.5,0.1l1.5,0.1l1.5,-0.2l1.5,0.2l1.5,-0.2l1.6,-0.3l1.5,-0.3l1.5,0.5l1.5,0.4l1.5,0.2l1.5,0.1l1.5,0l1.5,0.5l1.5,-0.5l1.6,-0.2l1.5,-0.4l1.5,0.3l1.5,0.3l1.5,0.2l1.5,0l1.5,0.1l1.5,-0.3l1.5,0.3l1.6,0l1.5,0l1.5,0l1.5,-0.2l1.5,0.3l1.5,0.4l1.5,0.1l1.5,0.1l1.6,-0.5l1.5,0.4l1.5,0.1l1.5,0.2l1.5,-0.3l1.5,-0.3l1.5,0.3l1.5,-0.1l1.5,0.3l1.6,-0.1l1.5,0.3l1.5,-0.1l1.5,-0.2l1.5,0l1.5,-0.2l1.5,0.1l1.5,0.2l1.6,0.3l1.5,0.2l1.5,-0.1l1.5,-0.3l1.5,0.3l1.5,-0.2l1.5,0l1.5,-0.3l1.5,0.4l1.6,0.1l1.5,0.1l1.5,-0.3l1.5,0l1.5,-0.2l1.5,0.2l1.5,-0.2l1.5,0.5l1.5,0.1l1.6,0.2l1.5,-0.1l1.5,-0.3l1.5,0.3l1.5,-0.2l1.5,0.3l1.5,-0.2l1.5,0l1.6,-0.1l1.5,0l1.5,-0.3l1.5,0l1.5,0.1l1.5,0.2l1.5,-0.1l1.5,-0.4l1.5,-0.1l1.6,0.3l1.5,0l1.5,0.2l1.5,-0.2l1.5,0.2l1.5,0.7l1.5,0.1l1.5,-0.3l1.5,-0.2l1.6,0l1.5,0.3l1.5,-0.4l1.5,-0.4l1.5,0.4l1.5,0.1l1.5,0.1l1.5,-0.1l1.6,0l1.5,-0.1l1.5,-0.5l1.5,-0.1l1.5,0.4" fill="none" stroke="#f47b20" stroke-width="2.3" stroke-linejoin="round"/>
<path d="M64.7,1563l1.5,5.6l1,3.5l0.5,-0.4l1.5,-1.8l1.5,-1.4l1.5,-1.2l1.5,-0.8l1.5,-1.3l1.5,-1.4l1.6,-1.3l1.5,-1.4l1.5,-1.3l1.5,-1l1.5,-1.1l1.5,-1.2l1.5,-1.2l1.5,-1.3l1.6,-1.1l1.5,-1l1.5,-0.8l1.5,-1.2l1.5,-1.4l1.5,-0.8l1.5,-0.7l1.5,-0.5l1.5,-0.6l1.6,-0.7l1.5,-0.9l1.5,-1.1l1.5,-0.7l1.5,-0.7l1.5,-0.6l1.5,-0.7l1.5,-0.8l1.6,-0.7l1.5,-0.8l1.5,-0.2l1.5,-0.5l1.5,-0.7l1.5,-1.2l1.5,-0.8l1.5,-0.4l1.5,-0.1l1.6,-0.6l1.5,-0.8l1.5,-0.5l1.5,-0.7l1.5,-0.5l1.5,-1l1.5,-0.3l1.5,-0.6l1.5,-0.2l1.6,-1l1.5,-0.5l1.5,-0.7l1.5,-0.5l1.5,-0.7l1.5,-0.6l1.5,-0.7l1.5,-0.2l1.6,-0.7l1.5,-0.4l1.5,-0.3l1.5,-0.7l1.5,-0.3l1.5,-1l1.5,-0.2l1.5,-0.7l1.5,-0.4l1.6,-0.7l1.5,-0.5l1.5,-0.7l1.5,-1.1l1.5,-0.6l1.5,-0.7l1.5,-0.4l1.5,-0.9l1.5,-0.9l1.6,-0.9l1.5,-0.6l1.5,-0.4l1.5,-0.4l1.5,-0.7l1.5,-0.7l1.5,-0.4l1.5,0.1l0.8,-0.4l0.4,-0.3l0.4,-0.5l0.3,0.2l0.4,0.2l0.4,0.1l0.4,0.1l0.3,-0.2l0.4,-0.1l0.4,0.3l0.4,1.3l0.4,3.1l0.3,2.2l0.4,-2.5l0.4,-3.1l0.4,-1.4l0.3,-0.2l0.4,-0.2l0.4,0.2l0.4,-0.2l0.4,-0.1l0.3,-0.4l0.4,0.1l0.4,-0.2l0.4,0.1l0.3,0.1l0.4,0.1l0.4,0l0.4,-0.4l0.4,0.1l0.3,0l0.4,-0.1l0.4,-0.3l1.5,-0.3l1.5,-0.1l1.5,0.1l1.5,-0.1l1.5,0l1.6,0l1.5,0.1l1.5,0.1l1.5,-0.4l1.5,0l1.5,0.1l1.5,0.4l1.5,0.1l1.6,-0.1l1.5,0.2l1.5,0.4l1.5,0l1.5,0.2l1.5,-0.3l1.5,0.1l1.5,-0.4l1.5,-0.1l1.6,0l1.5,0.4l1.5,0.6l1.5,0.3l1.5,0l1.5,0.3l1.5,-0.1l1.5,0.1l1.5,-0.4l1.6,0.2l1.5,0.1l1.5,0.3l1.5,0.1l1.5,0.3l1.5,-0.1l1.5,-0.3l1.5,-0.2l1.6,0l1.5,0.5l1.5,-0.2l1.5,0.2l1.5,-0.2l1.5,0.3l1.5,0l1.5,0.1l1.5,0l1.6,-0.1l1.5,0.1l1.5,0.1l1.5,0.1l1.5,0.1l1.5,0.1l1.5,0l1.5,0.2l1.6,0.3l1.5,0.1l1.5,0l1.5,-0.2l1.5,-0.2l1.5,0.2l1.5,0.1l1.5,0.6l1.5,-0.1l1.6,0.2l1.5,0l1.5,0.2l1.5,0l1.5,-0.4l1.5,-0.2l1.5,0.2l1.5,-0.3l1.5,0l1.6,0.1l1.5,0.1l1.5,-0.1l1.5,0l1.5,0.1l1.5,0.1l1.5,-0.1l1.5,0.2l1.6,0.3l1.5,-0.1l1.5,0.1l1.5,0l1.5,0.4l1.5,-0.1l1.5,-0.1l1.5,-0.1l1.5,0.1l1.6,0l1.5,0.3l1.5,0l1.5,-0.1l1.5,-0.3l1.5,-0.2l1.5,0.2l1.5,0l1.6,0.1l1.5,0.1l1.5,-0.1l1.5,0l1.5,-0.1l1.5,0l1.5,0.2l1.5,0.3l1.5,0.1l1.6,0.1l1.5,-0.1l1.5,0.2l1.5,-0.2l1.5,0l1.5,0.2l1.5,0.2l1.5,0l1.5,0l1.6,0.2l1.5,0.2l1.5,0l1.5,-0.1l1.5,-0.2l1.5,-0.4l1.5,-0.1l1.5,0l1.6,0.2l1.5,0l1.5,0.2l1.5,0.1l1.5,0.2l1.5,0l1.5,0.2l1.5,0.2l1.5,0l1.6,0.1l1.5,-0.1l1.5,0l1.5,-0.2l1.5,0l1.5,-0.1l1.5,0.1l1.5,0.1l1.5,0.4l1.6,0.3l1.5,0.3l1.5,-0.5l1.5,-0.1l1.5,-0.3l1.5,0l1.5,-0.3l1.5,-0.1l1.6,-0.1l1.5,-0.2l1.5,-0.1l1.5,0.2l1.5,0.1" fill="none" stroke="#7e3f98" stroke-width="2.3" stroke-linejoin="round"/>
<path d="M64.7,1568.4l1.5,2.7l0.7,1.5l0.8,-2.6l1.5,-6.1l1.5,-5.3l1.5,-4.1l1.5,-2.3l1.5,-2.7l1.5,-2.3l1.6,-2.2l1.5,-1.8l1.5,-1.7l1.5,-1.6l1.5,-1.9l1.5,-2.1l1.5,-1.8l1.5,-1.6l1.6,-1.1l1.5,-1.2l1.5,-0.8l1.5,-1.3l1.5,-1.1l1.5,-1.7l1.5,-1.8l1.5,-1.9l1.5,-1.7l1.6,-1.1l1.5,-1.1l1.5,-1.2l1.5,-1.3l1.5,-1.8l1.5,-1.8l1.5,-1.3l1.5,-1l1.6,-1l1.5,-1.4l1.5,-1.2l1.5,-1.3l1.5,-1.4l1.5,-1.6l1.5,-1.1l1.5,-1.3l1.5,-1l1.6,-1.7l1.5,-1.2l1.5,-1.6l1.5,-1.2l1.5,-1.4l1.5,-1.3l1.5,-1.1l1.5,-1.8l1.5,-1.6l1.6,-1.7l1.5,-1.4l1.5,-1.2l1.5,-1.4l1.5,-0.9l1.5,-1.5l1.5,-1.2l1.5,-1.3l1.6,-0.9l1.5,-1.1l1.5,-1.3l1.5,-0.8l1.5,-1l1.5,-0.8l1.5,-1.3l1.5,-0.7l1.5,-1.2l1.6,-0.9l1.5,-1.3l1.5,-0.7l1.5,-0.8l1.5,-0.9l1.5,-0.6l1.5,-1.1l1.5,-0.8l1.5,-1.2l1.6,-1l1.5,-0.9l1.5,-1.1l1.5,-0.9l1.5,-0.6l1.5,-0.3l1.5,-0.6l1.5,-0.9l0.8,-0.4l0.4,-0.1l0.4,-0.5l0.3,-0.3l0.4,-0.3l0.4,0.2l0.4,0.3l0.3,2.7l0.4,3.3l0.4,-4.7l0.4,-5.8l0.4,-8.9l0.3,-11.4l0.4,-4.8l0.4,7.8l0.4,11.2l0.3,6l0.4,1.7l0.4,0.1l0.4,0.1l0.4,-0.4l0.3,-0.7l0.4,-0.3l0.4,0.2l0.4,-0.3l0.3,0.2l0.4,-0.2l0.4,0.7l0.4,-0.4l0.4,-0.1l0.3,-0.4l0.4,0.2l0.4,0.1l1.5,0.2l1.5,0.3l1.5,-0.1l1.5,0l1.5,-0.2l1.6,0.3l1.5,0.2l1.5,-0.2l1.5,0.1l1.5,0.2l1.5,0.5l1.5,0.5l1.5,0.3l1.6,0.1l1.5,0l1.5,0.1l1.5,0l1.5,0.1l1.5,0.2l1.5,0.2l1.5,0.3l1.5,0.2l1.6,0.3l1.5,0.5l1.5,0l1.5,0.5l1.5,-0.2l1.5,0.4l1.5,-0.2l1.5,0.3l1.5,0.3l1.6,0.2l1.5,0.1l1.5,0l1.5,0.3l1.5,0l1.5,0l1.5,0.1l1.5,0.6l1.6,0.3l1.5,0.2l1.5,-0.5l1.5,0l1.5,0.2l1.5,0.2l1.5,0.2l1.5,0.1l1.5,0.3l1.6,0.4l1.5,-0.1l1.5,0.1l1.5,-0.1l1.5,0.5l1.5,0.1l1.5,-0.1l1.5,0l1.6,0.3l1.5,0.3l1.5,0.3l1.5,0.3l1.5,0.3l1.5,-0.1l1.5,-0.2l1.5,0.2l1.5,-0.1l1.6,0.1l1.5,0.1l1.5,0.3l1.5,0l1.5,-0.2l1.5,-0.1l1.5,0.1l1.5,0.8l1.5,0.5l1.6,0.3l1.5,-0.5l1.5,0.2l1.5,-0.2l1.5,0.1l1.5,-0.1l1.5,0.4l1.5,0.2l1.6,0.1l1.5,0.1l1.5,0.1l1.5,0.2l1.5,0.3l1.5,0.1l1.5,0l1.5,-0.2l1.5,0.3l1.6,-0.4l1.5,0.2l1.5,0l1.5,0.4l1.5,0.1l1.5,-0.1l1.5,0.4l1.5,0.2l1.6,-0.2l1.5,0.1l1.5,0l1.5,0.5l1.5,-0.2l1.5,0.3l1.5,0.1l1.5,-0.1l1.5,0l1.6,0.2l1.5,0l1.5,0.4l1.5,-0.2l1.5,0.3l1.5,-0.3l1.5,0.1l1.5,0l1.5,0.2l1.6,0l1.5,0.2l1.5,-0.2l1.5,0.3l1.5,0l1.5,0.3l1.5,0l1.5,0.3l1.6,0.1l1.5,0.4l1.5,0.2l1.5,0l1.5,0.1l1.5,-0.4l1.5,0.2l1.5,-0.2l1.5,0.3l1.6,0l1.5,0.1l1.5,0.2l1.5,0.1l1.5,-0.1l1.5,-0.2l1.5,-0.2l1.5,0.2l1.5,0.3l1.6,0.5l1.5,0.1l1.5,-0.2l1.5,-0.1l1.5,0l1.5,0l1.5,0l1.5,0l1.6,0.2l1.5,0.4l1.5,0.3l1.5,0.1l1.5,-0.2" fill="none" stroke="#22b14c" stroke-width="2.3" stroke-linejoin="round"/>
<path d="M64.7,1567.3l1.2,0.3l0.3,-0.7l1.5,-5l1.5,-4.7l1.5,-4.7l1.5,-4.2l1.5,-3.5l1.5,-2.8l1.5,-2.5l1.6,-2.3l1.5,-2.3l1.5,-1.4l1.5,-1.8l1.5,-1.5l1.5,-2.3l1.5,-1.6l1.5,-1.7l1.6,-1.9l1.5,-2.2l1.5,-1.8l1.5,-2l1.5,-2.1l1.5,-2.8l1.5,-2.3l1.5,-2.9l1.5,-2.3l1.6,-2.5l1.5,-2.1l1.5,-2.2l1.5,-2.7l1.5,-2.8l1.5,-2.7l1.5,-2.5l1.5,-2.1l1.6,-2.6l1.5,-2.7l1.5,-2.5l1.5,-2.7l1.5,-2.4l1.5,-2.5l1.5,-2.1l1.5,-2.2l1.5,-3.1l1.6,-2.7l1.5,-2.6l1.5,-2.5l1.5,-2.6l1.5,-2.5l1.5,-2.2l1.5,-2.5l1.5,-2.1l1.5,-2.6l1.6,-2l1.5,-2.2l1.5,-2l1.5,-2.3l1.5,-2l1.5,-2.1l1.5,-1.9l1.5,-2.4l1.6,-2.2l1.5,-2.3l1.5,-2.4l1.5,-2.1l1.5,-2.8l1.5,-2.3l1.5,-2.2l1.5,-1.8l1.5,-2.2l1.6,-2.5l1.5,-2.4l1.5,-2.5l1.5,-2.1l1.5,-2l1.5,-1.8l1.5,-1.7l1.5,-1.6l1.5,-1.6l1.6,-1.7l1.5,-1.2l1.5,-1l1.5,-1.1l1.5,-1.5l1.5,-1.3l1.5,-1.5l1.5,-1.6l0.8,-1.1l0.4,-0.3l0.4,-0.6l0.3,-0.8l0.4,-0.6l0.4,-0.3l0.4,-0.5l0.3,-0.3l0.4,-0.8l0.4,-0.1l0.4,0.2l0.4,1.9l0.3,-1.8l0.4,-2.1l0.4,-1.1l0.4,-0.7l0.3,-0.6l0.4,-0.3l0.4,-0.2l0.4,0.1l0.4,-0.3l0.3,0.3l0.4,-0.3l0.4,0.1l0.4,-0.1l0.3,0l0.4,0l0.4,0.1l0.4,-0.2l0.4,-0.1l0.3,0l0.4,0.1l0.4,0.1l1.5,-0.4l1.5,-0.3l1.5,-0.3l1.5,-0.1l1.5,-0.1l1.6,0.1l1.5,0.3l1.5,-0.1l1.5,0l1.5,-0.4l1.5,0.2l1.5,-0.4l1.5,0l1.6,-0.3l1.5,0.2l1.5,0l1.5,0.4l1.5,-0.1l1.5,-0.2l1.5,-0.3l1.5,-0.2l1.5,0.2l1.6,0.2l1.5,0.5l1.5,0.2l1.5,0.2l1.5,0.3l1.5,-0.1l1.5,0.4l1.5,0l1.5,0.4l1.6,-0.2l1.5,0.4l1.5,0.2l1.5,0.3l1.5,0.1l1.5,0.1l1.5,0.1l1.5,0.1l1.6,0l1.5,0.2l1.5,0l1.5,0.3l1.5,-0.1l1.5,0.2l1.5,0l1.5,0.3l1.5,0.3l1.6,0.3l1.5,0l1.5,-0.2l1.5,-0.2l1.5,0.3l1.5,0.2l1.5,0.6l1.5,0.4l1.6,0.3l1.5,0l1.5,0l1.5,0.3l1.5,-0.1l1.5,0l1.5,0.1l1.5,-0.2l1.5,0l1.6,-0.1l1.5,0.4l1.5,0.3l1.5,-0.2l1.5,0.5l1.5,0.2l1.5,0.4l1.5,0l1.5,-0.3l1.6,0.4l1.5,0.1l1.5,0.3l1.5,-0.2l1.5,-0.2l1.5,0.1l1.5,-0.1l1.5,0.4l1.6,0.1l1.5,0.4l1.5,0.1l1.5,0.2l1.5,0.3l1.5,0.2l1.5,0.3l1.5,0.1l1.5,0.3l1.6,-0.1l1.5,0.3l1.5,-0.5l1.5,-0.1l1.5,-0.3l1.5,0.5l1.5,0.5l1.5,0.1l1.6,0.1l1.5,-0.1l1.5,0.5l1.5,0l1.5,0.3l1.5,0l1.5,0.6l1.5,0.1l1.5,0.1l1.6,-0.1l1.5,0.1l1.5,0.1l1.5,0l1.5,-0.1l1.5,0.6l1.5,0.1l1.5,0.2l1.5,0l1.6,0.4l1.5,0.1l1.5,0l1.5,0.1l1.5,0.1l1.5,0l1.5,0l1.5,0.4l1.6,0l1.5,0l1.5,-0.1l1.5,0.6l1.5,0.2l1.5,0.2l1.5,-0.1l1.5,0l1.5,0.4l1.6,-0.3l1.5,0.4l1.5,-0.4l1.5,0.5l1.5,0.2l1.5,0.4l1.5,0.1l1.5,-0.2l1.5,-0.1l1.6,0.4l1.5,0.1l1.5,0.2l1.5,0l1.5,0.4l1.5,0.4l1.5,0l1.5,-0.2l1.6,0.1l1.5,0.5l1.5,0.1l1.5,0.2l1.5,-0.1" fill="none" stroke="#ed1c24" stroke-width="2.3" stroke-linejoin="round"/>
<path d="M64.7,1565.1l1.5,4.5l1,3l0.5,-0.5l1.5,-1.8l1.5,-1.6l1.5,-1.2l1.5,-1.1l1.5,-1l1.5,-1.1l1.6,-0.8l1.5,-1.2l1.5,-1.2l1.5,-1.2l1.5,-0.7l1.5,-1.1l1.5,-0.9l1.5,-1.2l1.6,-1.1l1.5,-1l1.5,-0.5l1.5,-0.7l1.5,-0.7l1.5,-0.9l1.5,-0.9l1.5,-1.4l1.5,-0.9l1.6,-0.3l1.5,-0.5l1.5,-0.2l1.5,-0.7l1.5,-0.8l1.5,-1.1l1.5,-0.5l1.5,0l1.6,-0.6l1.5,-0.8l1.5,-0.8l1.5,-0.5l1.5,-0.4l1.5,-0.4l1.5,-0.6l1.5,-0.5l1.5,-0.7l1.6,-0.2l1.5,-0.6l1.5,-0.6l1.5,-0.9l1.5,-0.4l1.5,-0.9l1.5,-0.4l1.5,-0.5l1.5,0l1.6,-0.5l1.5,-0.7l1.5,-1.4l1.5,-0.5l1.5,-0.2l1.5,-0.1l1.5,-0.8l1.5,-0.6l1.6,-0.5l1.5,-0.1l1.5,-0.6l1.5,-0.6l1.5,-1.1l1.5,-0.5l1.5,-0.3l1.5,-0.3l1.5,-0.7l1.6,-0.6l1.5,-0.3l1.5,-0.4l1.5,-0.6l1.5,-0.5l1.5,-0.2l1.5,-0.4l1.5,-0.7l1.5,-0.9l1.6,-0.4l1.5,-0.3l1.5,-0.1l1.5,-0.3l1.5,-0.3l1.5,-0.4l1.5,-0.4l1.5,-0.7l0.8,0l0.4,-0.1l0.4,0.2l0.3,-0.5l0.4,-0.2l0.4,-0.1l0.4,0.1l0.3,-0.1l0.4,0l0.4,-0.2l0.4,-0.2l0.4,-0.2l0.3,1.3l0.4,3.4l0.4,2.6l0.4,-2.1l0.3,-3.5l0.4,-1.4l0.4,-0.5l0.4,0.1l0.4,0l0.3,0.3l0.4,-0.2l0.4,-0.3l0.4,-0.2l0.3,0.1l0.4,-0.1l0.4,0.1l0.4,0.2l0.4,0.4l0.3,-0.4l0.4,-0.1l0.4,-0.1l1.5,0.5l1.5,0.1l1.5,-0.3l1.5,-0.2l1.5,0.1l1.6,0l1.5,0.2l1.5,-0.1l1.5,0l1.5,0l1.5,0.1l1.5,0.1l1.5,-0.1l1.6,-0.1l1.5,0.1l1.5,-0.1l1.5,0.2l1.5,0.1l1.5,0l1.5,-0.3l1.5,-0.3l1.5,0.2l1.6,0l1.5,0.2l1.5,-0.2l1.5,0.2l1.5,0l1.5,-0.3l1.5,0.3l1.5,0l1.5,0.4l1.6,-0.1l1.5,-0.1l1.5,-0.1l1.5,0.1l1.5,0.3l1.5,0.1l1.5,0.1l1.5,-0.2l1.6,0.1l1.5,-0.2l1.5,0.1l1.5,-0.3l1.5,0.1l1.5,0.1l1.5,0l1.5,0.2l1.5,0l1.6,0.6l1.5,-0.3l1.5,-0.1l1.5,-0.2l1.5,0.1l1.5,0.2l1.5,0.2l1.5,0.2l1.6,-0.1l1.5,-0.1l1.5,-0.3l1.5,0.2l1.5,0.1l1.5,0.5l1.5,-0.3l1.5,0.2l1.5,-0.3l1.6,0l1.5,-0.1l1.5,0l1.5,0.7l1.5,0.1l1.5,0.4l1.5,-0.3l1.5,-0.1l1.5,-0.1l1.6,0l1.5,-0.1l1.5,0.1l1.5,0.2l1.5,0.4l1.5,0l1.5,-0.4l1.5,-0.1l1.6,0l1.5,0.5l1.5,-0.2l1.5,0l1.5,0l1.5,0.5l1.5,0.2l1.5,-0.2l1.5,-0.2l1.6,-0.1l1.5,0.3l1.5,0.4l1.5,0.1l1.5,-0.1l1.5,-0.2l1.5,0.2l1.5,0.1l1.6,0l1.5,0l1.5,0.1l1.5,0.4l1.5,0.1l1.5,0.2l1.5,-0.2l1.5,-0.1l1.5,0.1l1.6,-0.2l1.5,0l1.5,-0.1l1.5,0.4l1.5,0.4l1.5,0l1.5,-0.2l1.5,0.1l1.5,0.2l1.6,0l1.5,-0.1l1.5,-0.1l1.5,0.3l1.5,0.2l1.5,0.2l1.5,-0.1l1.5,0.4l1.6,0.1l1.5,0.3l1.5,-0.5l1.5,-0.3l1.5,-0.4l1.5,0.2l1.5,0.4l1.5,0.2l1.5,0.2l1.6,-0.1l1.5,0.4l1.5,0.2l1.5,0.1l1.5,-0.4l1.5,0l1.5,-0.2l1.5,-0.1l1.5,0.3l1.6,0.5l1.5,0.7l1.5,-0.2l1.5,0.2l1.5,0l1.5,-0.1l1.5,-0.2l1.5,0l1.6,0.3l1.5,0.2l1.5,0.1l1.5,0l1.5,0.1" fill="none" stroke="#3953a4" stroke-width="2.3" stroke-linejoin="round"/>
<line x1="64.7" y1="1320.3" x2="64.7" y2="1574.6" stroke="#000" stroke-width="2.6"/>
<line x1="63.4" y1="1573.4" x2="442.8" y2="1573.4" stroke="#000" stroke-width="2.6"/>
<line x1="57.2" y1="1573.4" x2="64.7" y2="1573.4" stroke="#000" stroke-width="2.2"/>
<text x="56.4" y="1581.3" font-size="22.3" text-anchor="end">0</text>
<line x1="57.2" y1="1531.4" x2="64.7" y2="1531.4" stroke="#000" stroke-width="2.2"/>
<text x="56.4" y="1539.3" font-size="22.3" text-anchor="end">20</text>
<line x1="57.2" y1="1489.4" x2="64.7" y2="1489.4" stroke="#000" stroke-width="2.2"/>
<text x="56.4" y="1497.3" font-size="22.3" text-anchor="end">40</text>
<line x1="57.2" y1="1447.5" x2="64.7" y2="1447.5" stroke="#000" stroke-width="2.2"/>
<text x="56.4" y="1455.4" font-size="22.3" text-anchor="end">60</text>
<line x1="57.2" y1="1405.5" x2="64.7" y2="1405.5" stroke="#000" stroke-width="2.2"/>
<text x="56.4" y="1413.4" font-size="22.3" text-anchor="end">80</text>
<line x1="57.2" y1="1363.5" x2="64.7" y2="1363.5" stroke="#000" stroke-width="2.2"/>
<text x="56.4" y="1371.4" font-size="22.3" text-anchor="end">100</text>
<line x1="57.2" y1="1321.5" x2="64.7" y2="1321.5" stroke="#000" stroke-width="2.2"/>
<text x="56.4" y="1329.4" font-size="22.3" text-anchor="end">120</text>
<line x1="63.9" y1="1573.4" x2="63.9" y2="1580.9" stroke="#000" stroke-width="2.2"/>
<text x="63.9" y="1601.7" font-size="22" text-anchor="middle">0</text>
<line x1="139.5" y1="1573.4" x2="139.5" y2="1580.9" stroke="#000" stroke-width="2.2"/>
<text x="139.5" y="1601.7" font-size="22" text-anchor="middle">50</text>
<line x1="215.1" y1="1573.4" x2="215.1" y2="1580.9" stroke="#000" stroke-width="2.2"/>
<text x="215.1" y="1601.7" font-size="22" text-anchor="middle">100</text>
<line x1="290.6" y1="1573.4" x2="290.6" y2="1580.9" stroke="#000" stroke-width="2.2"/>
<text x="290.6" y="1601.7" font-size="22" text-anchor="middle">150</text>
<line x1="366.2" y1="1573.4" x2="366.2" y2="1580.9" stroke="#000" stroke-width="2.2"/>
<text x="366.2" y="1601.7" font-size="22" text-anchor="middle">200</text>
<line x1="441.8" y1="1573.4" x2="441.8" y2="1580.9" stroke="#000" stroke-width="2.2"/>
<text x="441.8" y="1601.7" font-size="22" text-anchor="middle">250</text>
<text x="254.5" y="1630.6" font-size="22" text-anchor="middle" textLength="73.5" lengthAdjust="spacingAndGlyphs">Time(s)</text>
<text x="274.4" y="1259.7" font-size="31" font-weight="bold" text-anchor="middle" textLength="124" lengthAdjust="spacingAndGlyphs">nCoV425</text>
<text x="275.2" y="1313.4" font-size="22" font-weight="bold" text-anchor="middle" fill="#1a1a1a">K<tspan font-size="11">D</tspan> = 25.2 nM</text>
<text x="0" y="0" font-size="22" text-anchor="middle" transform="translate(22.1,1447.6) rotate(-90)">Ru</text>
<line x1="455.5" y1="1426.4" x2="481.7" y2="1426.4" stroke="#000000" stroke-width="2.3"/>
<text x="497" y="1434.4" font-size="21.5">1.25 µg/ml</text>
<line x1="455.5" y1="1456" x2="481.7" y2="1456" stroke="#f47b20" stroke-width="2.3"/>
<text x="497" y="1464" font-size="21.5">2.5 µg/ml</text>
<line x1="455.5" y1="1485.3" x2="481.7" y2="1485.3" stroke="#7e3f98" stroke-width="2.3"/>
<text x="497" y="1493.3" font-size="21.5">5 µg/ml</text>
<line x1="455.5" y1="1513.9" x2="481.7" y2="1513.9" stroke="#22b14c" stroke-width="2.3"/>
<text x="497" y="1521.9" font-size="21.5">10 µg/ml</text>
<line x1="455.5" y1="1543.1" x2="481.7" y2="1543.1" stroke="#ed1c24" stroke-width="2.3"/>
<text x="497" y="1551.1" font-size="21.5">20 µg/ml</text>
<line x1="455.5" y1="1572.1" x2="481.7" y2="1572.1" stroke="#3953a4" stroke-width="2.3"/>
<text x="497" y="1580.1" font-size="21.5">5 µg/ml</text>
<path d="M664.5,1572.5l1.6,-1.1l1.5,-1.4l1.5,-1.5l1.6,-1.5l1.5,-0.8l1.6,-1.1l1.5,-1.1l1.5,-0.9l1.6,-0.8l1.5,-1.3l1.5,-1.6l1.6,-1.3l1.5,-0.9l1.6,-1l1.5,-0.3l1.5,-0.6l1.6,-0.9l1.5,-1.3l1.6,-0.9l1.5,-0.6l1.5,-0.8l1.6,-0.6l1.5,-0.6l1.5,-0.6l1.6,-1.1l1.5,-1l1.6,-0.4l1.5,-0.6l1.5,-0.6l1.6,-1.2l1.5,-0.6l1.5,-1l1.6,-0.6l1.5,-0.6l1.6,-0.8l1.5,-0.7l1.5,-0.8l1.6,-0.8l1.5,-0.3l1.5,-0.7l1.6,-0.4l1.5,-0.5l1.6,-0.4l1.5,-0.4l1.5,-0.6l1.6,-0.6l1.5,-0.7l1.6,-0.5l1.5,-0.5l1.5,0l1.6,-0.6l1.5,-0.6l1.5,-0.8l1.6,-0.5l1.5,-0.1l1.6,-0.1l1.5,-0.3l1.5,-0.3l1.6,-0.3l1.5,-0.5l1.5,-0.4l1.6,-0.8l1.5,0.1l1.6,-0.5l1.5,0.3l1.5,-0.5l1.6,0.1l1.5,-0.4l1.6,-0.2l1.5,-0.3l1.5,-0.2l1.6,-0.5l1.5,-0.2l1.5,-0.2l1.6,0.1l1.5,-0.3l1.6,-0.4l1.5,0.3l1.5,0l1.6,0.5l1.5,-0.4l1.5,-0.1l1.6,-1l1.4,-0.2l0.4,-0.4l0.3,0.5l0.4,0.1l0.4,0.2l0.4,-0.1l0.4,-0.1l0.4,0.1l0.3,0.2l0.4,0.2l0.4,0.2l0.4,0.2l0.4,0.5l0.4,3.3l0.4,7.4l0.3,6.3l0.4,-2.7l0.4,-7.6l0.4,-4.4l0.4,-1.1l0.4,0.4l0.3,0.4l0.4,0.1l0.4,0.2l0.4,-0.2l0.4,0.2l0.4,-0.1l0.3,0l0.4,0l0.4,0.1l0.4,0.2l0.4,-0.1l0.4,-0.6l1.5,0.4l1.5,0l1.6,0.6l1.5,-0.4l1.6,0.1l1.5,0.4l1.5,0l1.6,0.1l1.5,-0.3l1.6,0.4l1.5,0.1l1.5,0.1l1.6,-0.4l1.5,-0.3l1.5,0.1l1.6,0l1.5,0.3l1.6,-0.1l1.5,0.1l1.5,-0.2l1.6,0.2l1.5,0.1l1.5,0.1l1.6,-0.1l1.5,0.2l1.6,-0.2l1.5,0.2l1.5,-0.2l1.6,0.3l1.5,-0.1l1.6,0.6l1.5,-0.2l1.5,0.4l1.6,0l1.5,0.5l1.5,-0.3l1.6,-0.1l1.5,0.4l1.6,0.6l1.5,0.1l1.5,0.2l1.6,0.1l1.5,0.5l1.5,-0.5l1.6,0.2l1.5,-0.1l1.6,0.7l1.5,0.2l1.5,0.2l1.6,-0.1l1.5,0.3l1.5,0.2l1.6,0.1l1.5,-0.1l1.6,0.2l1.5,0.1l1.5,0.1l1.6,0.2l1.5,0.2l1.6,0l1.5,0.2l1.5,0l1.6,0.3l1.5,-0.2l1.5,0.1l1.6,-0.1l1.5,0l1.6,-0.3l1.5,-0.3l1.5,0.4l1.6,0.2l1.5,0.2l1.5,-0.2l1.6,0.4l1.5,0.1l1.6,-0.2l1.5,-0.1l1.5,0.1l1.6,0.4l1.5,0.2l1.5,-0.1l1.6,-0.4l1.5,0.1l1.6,0.2l1.5,0.4l1.5,0l1.6,0l1.5,-0.1l1.6,0.1l1.5,0.3l1.5,-0.1l1.6,-0.3l1.5,-0.2l1.5,0.3l1.6,0.2l1.5,0l1.6,0l1.5,0.1l1.5,0.1l1.6,-0.2l1.5,0l1.5,-0.1l1.6,0l1.5,0l1.6,0.2l1.5,0.1l1.5,-0.3l1.6,-0.1l1.5,0.2l1.6,0.4l1.5,-0.1l1.5,-0.2l1.6,-0.3l1.5,0.1l1.5,-0.3l1.6,0.3l1.5,-0.1l1.6,0.4l1.5,-0.4l1.5,0l1.6,0.1l1.5,0l1.5,0.3l1.6,-0.2l1.5,0l1.6,0.2l1.5,0.1l1.5,-0.1l1.6,-0.4l1.5,0l1.6,0.3l1.5,-0.3l1.5,-0.3l1.6,-0.3l1.5,0.6l1.5,0.2l1.6,0l1.5,0l1.6,-0.4l1.5,0l1.5,-0.3l1.6,0.5l1.5,0.1l1.5,0.2l1.6,-0.3l1.5,-0.1l1.6,-0.1l1.5,-0.1l1.5,-0.1l1.6,-0.3l1.5,0l1.5,0.2l1.6,0.2l1.5,-0.3l1.6,-0.1l1.5,-0.1" fill="none" stroke="#000000" stroke-width="2.3" stroke-linejoin="round"/>
<path d="M664.5,1572.6l1.6,-1.4l1.5,-1.3l1.5,-1.3l1.6,-1.1l1.5,-1.4l1.6,-1.5l1.5,-1.4l1.5,-1.2l1.6,-0.9l1.5,-0.9l1.5,-1.1l1.6,-0.9l1.5,-1l1.6,-0.5l1.5,-1.1l1.5,-0.8l1.6,-1l1.5,-1l1.6,-0.8l1.5,-1l1.5,-0.6l1.6,-0.8l1.5,-1.1l1.5,-0.7l1.6,-0.9l1.5,-0.2l1.6,-0.7l1.5,-0.6l1.5,-0.9l1.6,-0.7l1.5,-0.7l1.5,-1l1.6,-0.8l1.5,-0.6l1.6,-0.3l1.5,-1.1l1.5,-1l1.6,-0.8l1.5,-0.3l1.5,-0.2l1.6,-0.5l1.5,-0.5l1.6,-0.7l1.5,-0.4l1.5,-0.4l1.6,-0.6l1.5,-0.7l1.6,-0.2l1.5,-0.4l1.5,-0.6l1.6,-0.7l1.5,-0.5l1.5,0l1.6,-0.7l1.5,-0.2l1.6,-0.4l1.5,-0.2l1.5,-1l1.6,-0.5l1.5,-0.1l1.5,0l1.6,-0.5l1.5,-0.7l1.6,0l1.5,0.1l1.5,0.2l1.6,-0.5l1.5,-0.5l1.6,-0.4l1.5,0.2l1.5,0l1.6,0l1.5,-0.5l1.5,-0.4l1.6,-0.1l1.5,0.2l1.6,-0.2l1.5,-0.3l1.5,-0.8l1.6,0.1l1.5,-0.2l1.5,0.6l1.6,0l1.4,0.4l0.4,-0.2l0.3,0.1l0.4,-0.1l0.4,0l0.4,-0.1l0.4,-0.2l0.4,0l0.3,-0.1l0.4,-0.2l0.4,-0.9l0.4,-4.5l0.4,-9.2l0.4,-3.8l0.4,7.9l0.3,8.2l0.4,2.2l0.4,-0.6l0.4,-3l0.4,-4l0.4,-1.8l0.3,2.8l0.4,4.3l0.4,2.5l0.4,0.9l0.4,0.4l0.4,-0.1l0.3,0.2l0.4,-0.2l0.4,0.1l0.4,0.2l0.4,0.1l0.4,0.3l1.5,0.1l1.5,0.4l1.6,0.3l1.5,-0.1l1.6,-0.1l1.5,-0.2l1.5,0.3l1.6,0.1l1.5,0.2l1.6,0.2l1.5,0.3l1.5,0l1.6,-0.2l1.5,-0.1l1.5,0.2l1.6,-0.1l1.5,-0.4l1.6,0.2l1.5,0.1l1.5,0l1.6,-0.1l1.5,-0.1l1.5,0.8l1.6,-0.2l1.5,0.3l1.6,-0.1l1.5,0.1l1.5,-0.1l1.6,-0.5l1.5,-0.1l1.6,0.2l1.5,0.4l1.5,0.3l1.6,0l1.5,-0.2l1.5,0l1.6,0.1l1.5,-0.1l1.6,-0.1l1.5,-0.4l1.5,-0.2l1.6,0.3l1.5,0.5l1.5,0.6l1.6,0l1.5,-0.2l1.6,0l1.5,0l1.5,0.1l1.6,-0.3l1.5,-0.1l1.5,0l1.6,0l1.5,-0.1l1.6,-0.1l1.5,0l1.5,0.2l1.6,0.1l1.5,0.3l1.6,-0.4l1.5,-0.1l1.5,0.1l1.6,0l1.5,0.3l1.5,-0.3l1.6,0.2l1.5,-0.1l1.6,0.4l1.5,0.1l1.5,-0.1l1.6,-0.1l1.5,-0.1l1.5,0.2l1.6,-0.1l1.5,0.1l1.6,0.1l1.5,0l1.5,0.2l1.6,0.1l1.5,0.2l1.5,-0.2l1.6,-0.5l1.5,0l1.6,-0.3l1.5,-0.1l1.5,-0.2l1.6,0l1.5,0.2l1.6,0.3l1.5,0.2l1.5,-0.1l1.6,-0.1l1.5,0.1l1.5,0.5l1.6,-0.1l1.5,0l1.6,-0.1l1.5,0.2l1.5,-0.1l1.6,-0.2l1.5,0l1.5,0l1.6,0.2l1.5,0.2l1.6,0.1l1.5,-0.4l1.5,-0.2l1.6,0.4l1.5,0.2l1.6,0.1l1.5,-0.5l1.5,-0.2l1.6,0.3l1.5,0.3l1.5,0.5l1.6,-0.3l1.5,0.2l1.6,-0.4l1.5,0.1l1.5,-0.3l1.6,0.6l1.5,0.3l1.5,0l1.6,-0.1l1.5,-0.1l1.6,0.2l1.5,-0.4l1.5,0l1.6,0l1.5,0.2l1.6,0.1l1.5,0.1l1.5,-0.2l1.6,0.1l1.5,-0.2l1.5,0.5l1.6,-0.2l1.5,0.2l1.6,-0.4l1.5,0.2l1.5,-0.1l1.6,-0.1l1.5,0.2l1.5,0.2l1.6,0.3l1.5,-0.1l1.6,0.3l1.5,0l1.5,0.2l1.6,-0.1l1.5,0l1.5,0.3l1.6,-0.4l1.5,0l1.6,-0.6l1.5,0.3" fill="none" stroke="#f47b20" stroke-width="2.3" stroke-linejoin="round"/>
<path d="M664.5,1555l1.6,5.8l0.3,1.3l1.2,-2.2l1.5,-2.3l1.6,-2.7l1.5,-2.4l1.6,-2.6l1.5,-2.8l1.5,-2.5l1.6,-2.1l1.5,-2.3l1.5,-2.1l1.6,-2.6l1.5,-2l1.6,-2.5l1.5,-2.6l1.5,-2.5l1.6,-2.5l1.5,-2.2l1.6,-2.6l1.5,-2.9l1.5,-2.4l1.6,-2.3l1.5,-2.3l1.5,-2.4l1.6,-2.5l1.5,-2.3l1.6,-2.5l1.5,-2.1l1.5,-1.6l1.6,-1.7l1.5,-1.7l1.5,-1.8l1.6,-1.9l1.5,-1.7l1.6,-1.3l1.5,-1.1l1.5,-1.3l1.6,-1l1.5,-1.3l1.5,-1.1l1.6,-1.3l1.5,-1.1l1.6,-1.3l1.5,-1.1l1.5,-1.2l1.6,-1l1.5,-1.5l1.6,-1.1l1.5,-1.5l1.5,-1.2l1.6,-1.5l1.5,-1l1.5,-1.2l1.6,-1.2l1.5,-1.5l1.6,-1.4l1.5,-1.4l1.5,-1.2l1.6,-1l1.5,-1.2l1.5,-0.9l1.6,-1l1.5,-0.9l1.6,-0.6l1.5,-1.1l1.5,-0.4l1.6,-1.1l1.5,-0.9l1.6,-1l1.5,-0.6l1.5,-0.5l1.6,-0.5l1.5,-0.7l1.5,-0.5l1.6,-0.7l1.5,-0.9l1.6,-0.5l1.5,-0.5l1.5,-0.5l1.6,-0.7l1.5,-0.3l1.5,-0.4l1.6,-0.1l1.4,-0.4l0.4,-0.2l0.3,0.1l0.4,0.1l0.4,0.2l0.4,-0.4l0.4,0.1l0.4,0.1l0.3,0.3l0.4,-0.2l0.4,-0.1l0.4,0l0.4,0.5l0.4,2l0.4,5l0.3,7.9l0.4,4.4l0.4,-4.1l0.4,-7.3l0.4,-4.4l0.4,-1.5l0.3,-0.5l0.4,0l0.4,0.5l0.4,0.4l0.4,-0.1l0.4,0l0.3,0.1l0.4,0.3l0.4,0.2l0.4,0.4l0.4,0.2l0.4,0l1.5,0.7l1.5,0.4l1.6,0.9l1.5,0.6l1.6,0.9l1.5,0.5l1.5,1.2l1.6,0.6l1.5,0.5l1.6,0.2l1.5,0.4l1.5,0.9l1.6,0.1l1.5,0.4l1.5,0.2l1.6,0.6l1.5,0.5l1.6,0.1l1.5,0.4l1.5,0.7l1.6,0.7l1.5,0.2l1.5,0l1.6,0.3l1.5,0.5l1.6,0.4l1.5,0.1l1.5,0.7l1.6,0.5l1.5,0.2l1.6,0.1l1.5,0l1.5,0.1l1.6,0.2l1.5,0.3l1.5,0.6l1.6,0.3l1.5,0.2l1.6,0.4l1.5,0.4l1.5,0l1.6,0l1.5,-0.3l1.5,0.4l1.6,0.1l1.5,0.3l1.6,0.1l1.5,0.4l1.5,0.1l1.6,0.4l1.5,0l1.5,0l1.6,0l1.5,-0.1l1.6,0.6l1.5,0.1l1.5,0.5l1.6,0l1.5,0.4l1.6,0.3l1.5,0.2l1.5,0.3l1.6,0.1l1.5,0.1l1.5,0l1.6,0.2l1.5,0.4l1.6,0l1.5,0.1l1.5,-0.1l1.6,0.2l1.5,-0.2l1.5,0.2l1.6,0.5l1.5,0.4l1.6,0.1l1.5,-0.3l1.5,0.5l1.6,-0.1l1.5,0.2l1.5,-0.2l1.6,0.6l1.5,0l1.6,0.2l1.5,-0.4l1.5,0.3l1.6,0.3l1.5,0.3l1.6,0.2l1.5,-0.1l1.5,0.3l1.6,0l1.5,0.2l1.5,-0.1l1.6,0.2l1.5,0.2l1.6,0.1l1.5,0.2l1.5,-0.1l1.6,0.2l1.5,0.3l1.5,0.2l1.6,-0.2l1.5,-0.3l1.6,0l1.5,0.3l1.5,0.2l1.6,0.4l1.5,0.1l1.6,-0.2l1.5,-0.2l1.5,0.2l1.6,0.2l1.5,0.2l1.5,0.1l1.6,0.2l1.5,0l1.6,0.3l1.5,0.2l1.5,0.1l1.6,0l1.5,0.4l1.5,0.1l1.6,0.4l1.5,-0.6l1.6,0l1.5,-0.4l1.5,0.5l1.6,0.4l1.5,0.3l1.6,-0.1l1.5,0.1l1.5,0l1.6,0l1.5,-0.2l1.5,0.3l1.6,0.5l1.5,0.2l1.6,0l1.5,-0.3l1.5,-0.2l1.6,-0.3l1.5,0.1l1.5,0.1l1.6,0.1l1.5,0.1l1.6,0.2l1.5,0.2l1.5,0.1l1.6,0.2l1.5,0.3l1.5,0.1l1.6,0.1l1.5,-0.2l1.6,0.1l1.5,-0.1" fill="none" stroke="#7e3f98" stroke-width="2.3" stroke-linejoin="round"/>
<path d="M664.5,1560.4l1.6,-8.4l1.5,-8.1l1.5,-7.5l1.6,-7.5l1.5,-6.2l1.6,-5.5l1.5,-5l1.5,-4.5l1.6,-4.5l1.5,-4.1l1.5,-3.9l1.6,-3.6l1.5,-3.1l1.6,-3.2l1.5,-2.5l1.5,-2.9l1.6,-2.5l1.5,-2.6l1.6,-2l1.5,-2.5l1.5,-1.9l1.6,-2.1l1.5,-1.4l1.5,-2.2l1.6,-1.7l1.5,-2.1l1.6,-1.4l1.5,-1.9l1.5,-1.5l1.6,-2l1.5,-1.6l1.5,-1.5l1.6,-1.6l1.5,-1.5l1.6,-1.6l1.5,-1.7l1.5,-1.5l1.6,-1.9l1.5,-1.4l1.5,-1.8l1.6,-1.5l1.5,-1.7l1.6,-1.6l1.5,-1.5l1.5,-1.5l1.6,-1.6l1.5,-1.4l1.6,-1.1l1.5,-1l1.5,-1.3l1.6,-1.5l1.5,-1.6l1.5,-1.4l1.6,-1.4l1.5,-1.1l1.6,-1.1l1.5,-0.9l1.5,-1.5l1.6,-0.8l1.5,-1.1l1.5,-0.8l1.6,-1.3l1.5,-1.2l1.6,-0.9l1.5,-0.9l1.5,-0.1l1.6,-0.6l1.5,-0.6l1.6,-0.8l1.5,-0.7l1.5,-0.6l1.6,-0.8l1.5,-0.9l1.5,-0.9l1.6,-0.5l1.5,0l1.6,-0.6l1.5,-0.6l1.5,-0.7l1.6,-0.2l1.5,-0.3l1.5,-0.2l1.6,-0.5l1.4,0.2l0.4,-0.1l0.3,0.1l0.4,0.1l0.4,-0.2l0.4,-0.1l0.4,-0.1l0.4,-0.1l0.3,0.1l0.4,-0.3l0.4,0.1l0.4,-0.4l0.4,-5.4l0.4,-21.6l0.4,-18.5l0.3,18.8l0.4,21.5l0.4,5.3l0.4,-0.5l0.4,-3.4l0.4,-6.5l0.3,-5l0.4,2.6l0.4,7l0.4,5.4l0.4,2.2l0.4,0.7l0.3,0.3l0.4,0.1l0.4,0.3l0.4,0.1l0.4,0.3l0.4,0.2l1.5,0.3l1.5,0.4l1.6,0.8l1.5,0.6l1.6,0.7l1.5,0.3l1.5,0.6l1.6,0.7l1.5,0.8l1.6,0.8l1.5,0.6l1.5,0.2l1.6,0.2l1.5,0.7l1.5,0.7l1.6,0.6l1.5,0l1.6,0.4l1.5,0.3l1.5,0.6l1.6,0.3l1.5,0.3l1.5,0.4l1.6,0.5l1.5,0.2l1.6,0.5l1.5,0.3l1.5,0.4l1.6,0.2l1.5,0.1l1.6,0.5l1.5,0.2l1.5,0.5l1.6,0l1.5,0.2l1.5,0.1l1.6,0.3l1.5,0.4l1.6,0.1l1.5,0.4l1.5,0l1.6,0.3l1.5,0l1.5,0l1.6,-0.1l1.5,0.3l1.6,0.3l1.5,0.6l1.5,0.1l1.6,-0.2l1.5,0l1.5,0.4l1.6,0.4l1.5,0.2l1.6,0l1.5,0.3l1.5,0.6l1.6,0.3l1.5,-0.2l1.6,-0.3l1.5,0.5l1.5,0.3l1.6,0.4l1.5,-0.5l1.5,0.1l1.6,0.1l1.5,0.3l1.6,0.3l1.5,-0.2l1.5,0.3l1.6,0.2l1.5,0.1l1.5,0.4l1.6,-0.3l1.5,0.2l1.6,0.1l1.5,0.6l1.5,-0.1l1.6,-0.2l1.5,0l1.5,0.1l1.6,0.4l1.5,0l1.6,0.4l1.5,0.2l1.5,-0.1l1.6,0.1l1.5,0.4l1.6,0l1.5,0l1.5,0.1l1.6,0.5l1.5,0.5l1.5,-0.1l1.6,0.1l1.5,0l1.6,0.2l1.5,0.4l1.5,0.1l1.6,0.1l1.5,-0.3l1.5,0.4l1.6,0l1.5,0.6l1.6,0.2l1.5,0.1l1.5,0.2l1.6,0.2l1.5,0.5l1.6,0l1.5,0.3l1.5,-0.1l1.6,0.3l1.5,0.1l1.5,0.2l1.6,0.1l1.5,0.1l1.6,0.4l1.5,0.2l1.5,0.1l1.6,0.4l1.5,0.6l1.5,0.5l1.6,0.1l1.5,0.5l1.6,0.1l1.5,0.1l1.5,0l1.6,0.2l1.5,0.4l1.6,0.2l1.5,0.5l1.5,0.2l1.6,0.3l1.5,0.2l1.5,0.2l1.6,0l1.5,0.5l1.6,0.3l1.5,0.7l1.5,0.2l1.6,0.4l1.5,-0.2l1.5,0.1l1.6,0.1l1.5,0.2l1.6,0.2l1.5,0.3l1.5,0.7l1.6,0.7l1.5,0.4l1.5,0.2l1.6,0.2l1.5,0.3l1.6,0.5l1.5,0.2" fill="none" stroke="#22b14c" stroke-width="2.3" stroke-linejoin="round"/>
<path d="M664.5,1536.7l1.6,-10.6l1.5,-10.3l1.5,-9.6l1.6,-9.2l1.5,-8.1l1.6,-7.3l1.5,-6.3l1.5,-6l1.6,-5.7l1.5,-5.9l1.5,-5.1l1.6,-4.9l1.5,-3.8l1.6,-3.8l1.5,-3.8l1.5,-3l1.6,-2.7l1.5,-2.2l1.6,-2.8l1.5,-2.4l1.5,-2.8l1.6,-2l1.5,-1.8l1.5,-1.4l1.6,-1.9l1.5,-1.5l1.6,-1.8l1.5,-1.5l1.5,-1.6l1.6,-1.2l1.5,-1.5l1.5,-1.8l1.6,-1.4l1.5,-1.3l1.6,-1.4l1.5,-1.4l1.5,-1.3l1.6,-0.9l1.5,-1.4l1.5,-1.4l1.6,-1.4l1.5,-1.2l1.6,-1.1l1.5,-1.1l1.5,-1.2l1.6,-1.6l1.5,-1.3l1.6,-1.3l1.5,-1.2l1.5,-1.4l1.6,-1.3l1.5,-1.1l1.5,-1.3l1.6,-1.4l1.5,-1.3l1.6,-1.1l1.5,-1.2l1.5,-1.4l1.6,-0.9l1.5,-1.2l1.5,-0.8l1.6,-0.8l1.5,-0.8l1.6,-0.7l1.5,-0.4l1.5,-0.6l1.6,-0.1l1.5,-0.5l1.6,0l1.5,-0.7l1.5,-0.6l1.6,-0.4l1.5,-0.5l1.5,-0.2l1.6,-0.5l1.5,-0.5l1.6,-0.2l1.5,0.5l1.5,0.4l1.6,0.1l1.5,-0.5l1.5,-0.1l1.6,0l1.4,0.2l0.4,0.1l0.3,-0.2l0.4,0.2l0.4,-0.2l0.4,0l0.4,-0.4l0.4,0.1l0.3,0.2l0.4,0l0.4,-0.2l0.4,-0.8l0.4,-2.7l0.4,-1l0.4,5.6l0.3,8.9l0.4,11.9l0.4,4.6l0.4,-7.9l0.4,-9.9l0.4,-4l0.3,-1.1l0.4,0.2l0.4,0.3l0.4,0.7l0.4,0l0.4,0.1l0.3,0.5l0.4,0.8l0.4,0.7l0.4,0.3l0.4,0.3l0.4,-0.4l1.5,0.6l1.5,1l1.6,1.5l1.5,1.1l1.6,0.7l1.5,1l1.5,1l1.6,0.5l1.5,0.3l1.6,0l1.5,0.9l1.5,0.3l1.6,0.9l1.5,0.5l1.5,0.5l1.6,0.2l1.5,0.6l1.6,0.6l1.5,0.7l1.5,0.6l1.6,0.5l1.5,0.1l1.5,0l1.6,0.7l1.5,0.5l1.6,0.4l1.5,0.2l1.5,0.9l1.6,0.3l1.5,0.1l1.6,-0.1l1.5,0.8l1.5,0.7l1.6,0.3l1.5,-0.1l1.5,0l1.6,0.5l1.5,0.4l1.6,0.5l1.5,0.4l1.5,0.5l1.6,0.2l1.5,0.3l1.5,0l1.6,0.2l1.5,0.4l1.6,0.1l1.5,0.7l1.5,0l1.6,0.4l1.5,-0.1l1.5,0.8l1.6,0.3l1.5,0.2l1.6,-0.3l1.5,0.8l1.5,0.6l1.6,0.5l1.5,0l1.6,-0.1l1.5,0.4l1.5,0l1.6,0.3l1.5,0.4l1.5,0.7l1.6,0.4l1.5,0l1.6,-0.1l1.5,0.2l1.5,0.1l1.6,0.7l1.5,0.7l1.5,0.4l1.6,-0.1l1.5,-0.2l1.6,0.4l1.5,0.2l1.5,-0.1l1.6,0l1.5,0.5l1.5,0.7l1.6,-0.2l1.5,0.2l1.6,-0.1l1.5,0.4l1.5,0l1.6,0.5l1.5,0.3l1.6,0.3l1.5,-0.1l1.5,0.3l1.6,0.4l1.5,0.3l1.5,0.5l1.6,0l1.5,0.4l1.6,0l1.5,0.6l1.5,0.1l1.6,0.4l1.5,0l1.5,0.2l1.6,0.2l1.5,0.3l1.6,0.6l1.5,0l1.5,0.3l1.6,-0.1l1.5,0.5l1.6,0l1.5,0.3l1.5,0l1.6,0.2l1.5,-0.2l1.5,0.1l1.6,0.4l1.5,0.7l1.6,0.2l1.5,0.1l1.5,-0.1l1.6,0.3l1.5,0.4l1.5,0.4l1.6,0.2l1.5,0l1.6,0.3l1.5,0.3l1.5,0.3l1.6,-0.1l1.5,0.3l1.6,0.1l1.5,0.2l1.5,0.1l1.6,0.6l1.5,0.3l1.5,0.3l1.6,0.2l1.5,0.2l1.6,0.5l1.5,-0.2l1.5,0.1l1.6,0l1.5,0.2l1.5,0.4l1.6,0l1.5,0.6l1.6,0.2l1.5,0.3l1.5,-0.2l1.6,0.3l1.5,0.1l1.5,0.3l1.6,0l1.5,0.2l1.6,0.2l1.5,0.3" fill="none" stroke="#ed1c24" stroke-width="2.3" stroke-linejoin="round"/>
<path d="M664.5,1554.4l1.6,5.8l0.3,1.4l1.2,-2l1.5,-2.6l1.6,-2.6l1.5,-2.4l1.6,-2.3l1.5,-2.3l1.5,-2.3l1.6,-2.6l1.5,-2.5l1.5,-2l1.6,-2.2l1.5,-2.4l1.6,-3l1.5,-2.3l1.5,-2.6l1.6,-2l1.5,-2.6l1.6,-2.4l1.5,-2.5l1.5,-2.5l1.6,-2.4l1.5,-2.9l1.5,-2.2l1.6,-2.4l1.5,-2l1.6,-2.1l1.5,-2.4l1.5,-1.8l1.6,-2.3l1.5,-1.2l1.5,-2l1.6,-1.7l1.5,-1.3l1.6,-1.2l1.5,-1.2l1.5,-1.7l1.6,-1.5l1.5,-1l1.5,-1l1.6,-1.3l1.5,-1.5l1.6,-1.2l1.5,-1.2l1.5,-1.1l1.6,-1.6l1.5,-1.1l1.6,-1l1.5,-0.8l1.5,-1.3l1.6,-1.2l1.5,-1.2l1.5,-1.1l1.6,-1.1l1.5,-1.2l1.6,-1.6l1.5,-1.7l1.5,-1.3l1.6,-1.1l1.5,-1l1.5,-1.3l1.6,-1l1.5,-0.8l1.6,-1l1.5,-0.8l1.5,-0.6l1.6,-0.2l1.5,-0.9l1.6,-0.8l1.5,-1.3l1.5,-0.7l1.6,-0.9l1.5,-0.5l1.5,-1l1.6,-0.3l1.5,-0.7l1.6,-0.4l1.5,-0.7l1.5,-0.2l1.6,-0.4l1.5,-0.3l1.5,0l1.6,-0.5l1.4,-0.2l0.4,-0.3l0.3,0.1l0.4,-0.4l0.4,-0.3l0.4,0.1l0.4,0l0.4,0.2l0.3,0l0.4,0.3l0.4,0l0.4,-0.1l0.4,0.2l0.4,1.9l0.4,5.3l0.3,8.1l0.4,4.4l0.4,-4.1l0.4,-7.5l0.4,-4.7l0.4,-1.4l0.3,0l0.4,0l0.4,0.3l0.4,0.3l0.4,0.4l0.4,0.3l0.3,0.1l0.4,0.1l0.4,0.1l0.4,0.3l0.4,-0.1l0.4,0l1.5,0.6l1.5,0.8l1.6,0.8l1.5,0.7l1.6,0.9l1.5,0.3l1.5,0.4l1.6,0.5l1.5,1.1l1.6,0.7l1.5,0.4l1.5,0.4l1.6,0.5l1.5,0.7l1.5,0.4l1.6,0.4l1.5,0.6l1.6,0.5l1.5,0.7l1.5,0.1l1.6,0.4l1.5,0.2l1.5,0.6l1.6,0.5l1.5,0.4l1.6,0.7l1.5,0.3l1.5,0.3l1.6,0.1l1.5,0.4l1.6,0.3l1.5,0.4l1.5,0.3l1.6,0.2l1.5,0l1.5,0.1l1.6,0.2l1.5,0.5l1.6,0.3l1.5,0.4l1.5,0l1.6,0.3l1.5,0.1l1.5,0.4l1.6,0.3l1.5,-0.2l1.6,0.1l1.5,0.1l1.5,0.4l1.6,0.1l1.5,-0.1l1.5,0.6l1.6,0.4l1.5,-0.2l1.6,0l1.5,0.1l1.5,0.6l1.6,0l1.5,0.4l1.6,0.1l1.5,0.3l1.5,-0.1l1.6,0.2l1.5,0.2l1.5,0.4l1.6,0.6l1.5,-0.1l1.6,0.3l1.5,-0.2l1.5,0l1.6,0l1.5,0l1.5,0.4l1.6,0l1.5,0.2l1.6,0.2l1.5,0.1l1.5,0.1l1.6,0.3l1.5,0.4l1.5,0l1.6,0.1l1.5,0l1.6,0.1l1.5,-0.4l1.5,0.4l1.6,0.1l1.5,0.8l1.6,0.1l1.5,0.2l1.5,-0.2l1.6,0.1l1.5,0.1l1.5,0.3l1.6,0.2l1.5,0.1l1.6,-0.1l1.5,0l1.5,0l1.6,0.1l1.5,0.5l1.5,0.4l1.6,0.3l1.5,0l1.6,-0.1l1.5,0l1.5,0l1.6,0.3l1.5,0.1l1.6,0.1l1.5,0.2l1.5,0.2l1.6,0l1.5,-0.1l1.5,0.2l1.6,0.1l1.5,0.5l1.6,0.3l1.5,0.3l1.5,0.5l1.6,-0.1l1.5,-0.1l1.5,-0.3l1.6,0.3l1.5,0.1l1.6,0.1l1.5,0l1.5,-0.1l1.6,0l1.5,0.2l1.6,0.4l1.5,0.2l1.5,0.2l1.6,0.2l1.5,0l1.5,0.4l1.6,0.2l1.5,0.2l1.6,0l1.5,0.1l1.5,0.3l1.6,-0.1l1.5,0l1.5,-0.2l1.6,0.1l1.5,0.4l1.6,0.3l1.5,0.1l1.5,-0.3l1.6,0.5l1.5,0.2l1.5,0.6l1.6,-0.3l1.5,0.1l1.6,-0.3l1.5,0.3" fill="none" stroke="#3953a4" stroke-width="2.3" stroke-linejoin="round"/>
<line x1="664.6" y1="1316.9" x2="664.6" y2="1573.9" stroke="#000" stroke-width="2.6"/>
<line x1="663.3" y1="1572.7" x2="1046.8" y2="1572.7" stroke="#000" stroke-width="2.6"/>
<line x1="657.1" y1="1572.7" x2="664.6" y2="1572.7" stroke="#000" stroke-width="2.2"/>
<text x="656.3" y="1580.6" font-size="22.3" text-anchor="end">0</text>
<line x1="657.1" y1="1487.8" x2="664.6" y2="1487.8" stroke="#000" stroke-width="2.2"/>
<text x="656.3" y="1495.7" font-size="22.3" text-anchor="end">20</text>
<line x1="657.1" y1="1403" x2="664.6" y2="1403" stroke="#000" stroke-width="2.2"/>
<text x="656.3" y="1410.9" font-size="22.3" text-anchor="end">40</text>
<line x1="657.1" y1="1318.1" x2="664.6" y2="1318.1" stroke="#000" stroke-width="2.2"/>
<text x="656.3" y="1326" font-size="22.3" text-anchor="end">60</text>
<line x1="738.2" y1="1572.7" x2="738.2" y2="1580.2" stroke="#000" stroke-width="2.2"/>
<text x="738.2" y="1601.7" font-size="22" text-anchor="middle">50</text>
<line x1="815.1" y1="1572.7" x2="815.1" y2="1580.2" stroke="#000" stroke-width="2.2"/>
<text x="815.1" y="1601.7" font-size="22" text-anchor="middle">100</text>
<line x1="892" y1="1572.7" x2="892" y2="1580.2" stroke="#000" stroke-width="2.2"/>
<text x="892" y="1601.7" font-size="22" text-anchor="middle">150</text>
<line x1="968.9" y1="1572.7" x2="968.9" y2="1580.2" stroke="#000" stroke-width="2.2"/>
<text x="968.9" y="1601.7" font-size="22" text-anchor="middle">200</text>
<line x1="1045.8" y1="1572.7" x2="1045.8" y2="1580.2" stroke="#000" stroke-width="2.2"/>
<text x="1045.8" y="1601.7" font-size="22" text-anchor="middle">250</text>
<text x="855.8" y="1630.6" font-size="22" text-anchor="middle" textLength="73.5" lengthAdjust="spacingAndGlyphs">Time(s)</text>
<text x="886.5" y="1259.7" font-size="31" font-weight="bold" text-anchor="middle" textLength="124" lengthAdjust="spacingAndGlyphs">nCoV454</text>
<text x="881.5" y="1313.4" font-size="22" font-weight="bold" text-anchor="middle" fill="#1a1a1a">K<tspan font-size="11">D</tspan> = 12.4 nM</text>
<line x1="1055.5" y1="1424.7" x2="1081.7" y2="1424.7" stroke="#000000" stroke-width="2.3"/>
<text x="1098.7" y="1432.7" font-size="21.5">1.25 µg/ml</text>
<line x1="1055.5" y1="1453.6" x2="1081.7" y2="1453.6" stroke="#f47b20" stroke-width="2.3"/>
<text x="1098.7" y="1461.6" font-size="21.5">2.5 µg/ml</text>
<line x1="1055.5" y1="1482.5" x2="1081.7" y2="1482.5" stroke="#7e3f98" stroke-width="2.3"/>
<text x="1098.7" y="1490.5" font-size="21.5">5 µg/ml</text>
<line x1="1055.5" y1="1512.5" x2="1081.7" y2="1512.5" stroke="#22b14c" stroke-width="2.3"/>
<text x="1098.7" y="1520.5" font-size="21.5">10 µg/ml</text>
<line x1="1055.5" y1="1542.1" x2="1081.7" y2="1542.1" stroke="#ed1c24" stroke-width="2.3"/>
<text x="1098.7" y="1550.1" font-size="21.5">20 µg/ml</text>
<line x1="1055.5" y1="1571" x2="1081.7" y2="1571" stroke="#3953a4" stroke-width="2.3"/>
<text x="1098.7" y="1579" font-size="21.5">5 µg/ml</text>
<path d="M1276.1,1576.9l1.5,-0.1l1.6,-0.2l1.5,-0.3l1.5,-0.3l1.5,-0.2l1.5,0.1l1.5,-0.4l1.5,-0.2l1.6,-0.3l1.5,0l1.5,-0.2l1.5,-0.3l1.5,-0.6l1.5,-0.5l1.5,-0.5l1.5,-0.4l1.6,0l1.5,-0.1l1.5,-0.3l1.5,-0.9l1.5,0l1.5,0.2l1.5,-0.1l1.6,-0.5l1.5,-0.3l1.5,-0.3l1.5,-0.3l1.5,-0.1l1.5,-0.2l1.5,-0.5l1.6,-0.7l1.5,-0.4l1.5,-0.3l1.5,-0.2l1.5,0l1.5,0.1l1.5,-0.3l1.6,-0.5l1.5,-0.6l1.5,-0.7l1.5,-0.1l1.5,0.2l1.5,-0.1l1.5,-0.4l1.6,-0.4l1.5,0.2l1.5,-0.1l1.5,-0.6l1.5,-0.3l1.5,-0.1l1.5,0l1.6,-0.3l1.5,-0.1l1.5,-0.3l1.5,-0.4l1.5,-0.3l1.5,0.2l1.5,-0.6l1.6,-0.2l1.5,-0.7l1.5,0.2l1.5,-0.4l1.5,-0.1l1.5,-0.4l1.5,-0.2l1.5,-0.7l1.6,0l1.5,-0.2l1.5,0l1.5,-0.7l1.5,-0.1l1.5,-0.2l1.5,0.3l1.6,-0.4l1.5,-0.2l1.5,-0.2l1.5,-0.1l1.5,-0.1l1.5,0.1l1.5,0l1.6,0.2l1.5,-0.1l1.5,0l1.5,-0.3l0.3,-0.2l0.4,-0.2l0.4,-0.1l0.3,0l0.4,0.4l0.4,0l0.4,0.2l0.4,-0.4l0.3,0.3l0.4,-0.1l0.4,-0.2l0.4,-0.4l0.3,0.3l0.4,1.4l0.4,2.6l0.4,0.7l0.4,-2.2l0.3,-2.1l0.4,-0.4l0.4,0.1l0.4,0l0.4,0.1l0.3,-0.1l0.4,0.1l0.4,0l0.4,0.1l0.3,0l0.4,-0.1l0.4,0.4l0.4,-0.2l0.4,-0.1l0.3,-0.3l0.4,0.1l1.5,-0.1l1.5,0.1l1.6,-0.2l1.5,0.1l1.5,-0.3l1.5,0l1.5,0l1.5,0.1l1.5,0.5l1.6,-0.3l1.5,0l1.5,0.1l1.5,-0.1l1.5,-0.2l1.5,-0.1l1.5,0l1.6,0.1l1.5,-0.6l1.5,-0.1l1.5,0.1l1.5,0.5l1.5,0.4l1.5,-0.2l1.6,0l1.5,-0.3l1.5,0l1.5,0.2l1.5,0.2l1.5,-0.2l1.5,-0.5l1.5,-0.1l1.6,0.2l1.5,0.2l1.5,0l1.5,0.2l1.5,-0.2l1.5,0.1l1.5,-0.3l1.6,0.5l1.5,-0.1l1.5,-0.2l1.5,-0.1l1.5,-0.2l1.5,0.1l1.5,-0.2l1.6,0.4l1.5,-0.1l1.5,-0.2l1.5,-0.3l1.5,0.2l1.5,0.1l1.5,0l1.6,0.1l1.5,-0.3l1.5,0.4l1.5,-0.1l1.5,0.4l1.5,-0.5l1.5,0.1l1.6,0l1.5,0.1l1.5,-0.4l1.5,-0.5l1.5,-0.2l1.5,-0.1l1.5,0.3l1.6,0.6l1.5,0.2l1.5,0.2l1.5,-0.3l1.5,0.1l1.5,0.1l1.5,0.1l1.6,-0.4l1.5,-0.2l1.5,-0.1l1.5,0.2l1.5,0l1.5,0.1l1.5,0l1.6,0.3l1.5,-0.2l1.5,-0.2l1.5,-0.3l1.5,0l1.5,0.1l1.5,-0.3l1.5,0.1l1.6,0.2l1.5,0.5l1.5,0l1.5,-0.4l1.5,-0.3l1.5,0l1.5,0.1l1.6,0.4l1.5,0.2l1.5,0.3l1.5,-0.1l1.5,0.1l1.5,-0.3l1.5,-0.1l1.6,0.1l1.5,-0.1l1.5,-0.1l1.5,-0.1l1.5,0.1l1.5,0l1.5,-0.2l1.6,-0.1l1.5,0.1l1.5,-0.2l1.5,0.1l1.5,0l1.5,0.1l1.5,-0.1l1.6,-0.1l1.5,0.2l1.5,0.3l1.5,0.1l1.5,0l1.5,-0.2l1.5,-0.1l1.6,0l1.5,0l1.5,0l1.5,-0.3l1.5,-0.2l1.5,0.1l1.5,0.2l1.6,0.3l1.5,-0.1l1.5,0.1l1.5,0.1l1.5,0.2l1.5,0.3l1.5,-0.1l1.5,-0.4l1.6,-0.3l1.5,0l1.5,0.2l1.5,-0.2l1.5,0.2l1.5,0l1.5,0.1l1.6,0.2l1.5,0l1.5,0l1.5,0l1.5,-0.1l1.5,0l1.5,-0.4l1.6,0l1.5,0.1l1.5,0.2l1.5,0" fill="none" stroke="#000000" stroke-width="2.3" stroke-linejoin="round"/>
<path d="M1276.1,1577.2l1.5,-1.3l1.6,-1.4l1.5,-1l1.5,-0.6l1.5,-0.7l1.5,-1.1l1.5,-0.9l1.5,-0.7l1.6,-1.1l1.5,-1.2l1.5,-0.8l1.5,-0.2l1.5,-0.5l1.5,-1.1l1.5,-1.2l1.5,-0.8l1.6,-0.5l1.5,-0.7l1.5,-0.9l1.5,-0.9l1.5,-0.6l1.5,-0.7l1.5,-0.7l1.6,-0.6l1.5,-0.6l1.5,-0.4l1.5,-1l1.5,-0.7l1.5,-0.6l1.5,-0.5l1.6,-0.7l1.5,-0.3l1.5,-0.5l1.5,-0.6l1.5,-0.6l1.5,-0.5l1.5,0l1.6,-0.8l1.5,-0.1l1.5,-0.4l1.5,-0.4l1.5,-0.9l1.5,-0.7l1.5,-0.6l1.6,-0.6l1.5,-0.5l1.5,-0.4l1.5,0l1.5,-0.3l1.5,-0.7l1.5,-0.9l1.6,-0.5l1.5,0l1.5,-0.1l1.5,-0.1l1.5,-0.5l1.5,-0.1l1.5,-0.4l1.6,-0.3l1.5,0l1.5,-0.3l1.5,0.3l1.5,-0.5l1.5,-0.2l1.5,-0.4l1.5,-0.4l1.6,-0.1l1.5,-0.3l1.5,0.1l1.5,-0.3l1.5,0.1l1.5,-0.5l1.5,0l1.6,-0.5l1.5,0l1.5,-0.3l1.5,-0.2l1.5,-0.2l1.5,0.1l1.5,0l1.6,0.3l1.5,-0.5l1.5,0l1.5,-0.5l0.3,0l0.4,-0.1l0.4,-0.6l0.3,0.1l0.4,-0.5l0.4,0.1l0.4,0l0.4,0.4l0.3,-0.1l0.4,-0.1l0.4,-0.2l0.4,0.2l0.3,0.1l0.4,0l0.4,-0.2l0.4,-1.2l0.4,-3.4l0.3,-5.7l0.4,-3.4l0.4,2.6l0.4,5.3l0.4,3.4l0.3,0.7l0.4,0.1l0.4,0.1l0.4,0.2l0.3,-0.2l0.4,-0.5l0.4,0l0.4,0.6l0.4,0.3l0.3,-0.1l0.4,-0.4l1.5,-0.1l1.5,0l1.6,0.3l1.5,0.5l1.5,0l1.5,0l1.5,-0.4l1.5,0.3l1.5,-0.2l1.6,0.3l1.5,-0.1l1.5,0l1.5,-0.3l1.5,-0.3l1.5,0l1.5,0.3l1.6,-0.1l1.5,-0.1l1.5,-0.2l1.5,0.2l1.5,-0.1l1.5,-0.1l1.5,0l1.6,0.2l1.5,0.3l1.5,0.3l1.5,0.1l1.5,-0.1l1.5,-0.1l1.5,0l1.5,0l1.6,0.1l1.5,0.3l1.5,-0.1l1.5,-0.1l1.5,-0.1l1.5,0.1l1.5,0l1.6,-0.1l1.5,0.4l1.5,0.3l1.5,0.1l1.5,-0.5l1.5,0l1.5,0l1.6,0.4l1.5,0l1.5,-0.1l1.5,0.2l1.5,0.5l1.5,-0.1l1.5,-0.3l1.6,-0.3l1.5,0l1.5,-0.1l1.5,0.3l1.5,0.2l1.5,0l1.5,-0.2l1.6,0.1l1.5,0l1.5,0l1.5,0.2l1.5,0.3l1.5,0.3l1.5,-0.3l1.6,0.2l1.5,-0.3l1.5,0.4l1.5,-0.3l1.5,0.5l1.5,-0.2l1.5,-0.1l1.6,-0.4l1.5,-0.2l1.5,0.2l1.5,0.2l1.5,0.3l1.5,-0.1l1.5,0.1l1.6,-0.1l1.5,0.1l1.5,-0.2l1.5,0.2l1.5,-0.1l1.5,0.4l1.5,0.2l1.5,0.4l1.6,-0.1l1.5,0l1.5,-0.3l1.5,0.2l1.5,-0.5l1.5,0.2l1.5,-0.4l1.6,0.4l1.5,0.4l1.5,0.3l1.5,0l1.5,0l1.5,-0.1l1.5,0.4l1.6,-0.3l1.5,0.1l1.5,0.2l1.5,-0.1l1.5,0.2l1.5,-0.2l1.5,0l1.6,-0.7l1.5,-0.1l1.5,0l1.5,0.6l1.5,0.2l1.5,0.1l1.5,-0.2l1.6,-0.2l1.5,0l1.5,0.3l1.5,-0.4l1.5,0.5l1.5,-0.2l1.5,0.4l1.6,-0.3l1.5,0.3l1.5,0.3l1.5,0.1l1.5,-0.2l1.5,0.1l1.5,0.1l1.6,0l1.5,-0.4l1.5,0l1.5,0.2l1.5,0.3l1.5,-0.5l1.5,-0.2l1.5,0l1.6,0.2l1.5,-0.3l1.5,-0.2l1.5,0.5l1.5,0.4l1.5,0.3l1.5,-0.2l1.6,0.2l1.5,0l1.5,0.2l1.5,-0.3l1.5,0l1.5,0l1.5,0.4l1.6,0.1l1.5,-0.3l1.5,-0.4l1.5,-0.1" fill="none" stroke="#f47b20" stroke-width="2.3" stroke-linejoin="round"/>
<path d="M1276.1,1563l1.5,10.6l0.3,2.2l1.3,-1.6l1.5,-1.3l1.5,-1.5l1.5,-1.3l1.5,-2l1.5,-1.5l1.5,-1.4l1.6,-0.8l1.5,-1.1l1.5,-1.2l1.5,-1.1l1.5,-1.2l1.5,-1.2l1.5,-1.2l1.5,-1.1l1.6,-1l1.5,-0.8l1.5,-0.7l1.5,-0.4l1.5,-0.7l1.5,-1l1.5,-1.2l1.6,-1.1l1.5,-0.8l1.5,-0.6l1.5,-0.8l1.5,-1.2l1.5,-0.9l1.5,-0.8l1.6,-1l1.5,-1.1l1.5,-0.9l1.5,-0.5l1.5,-1.2l1.5,-1.2l1.5,-1.5l1.6,-0.8l1.5,-0.8l1.5,-1.1l1.5,-1.2l1.5,-1.5l1.5,-0.9l1.5,-1.4l1.6,-0.8l1.5,-1.5l1.5,-0.6l1.5,-1l1.5,-0.9l1.5,-1.1l1.5,-0.6l1.6,-0.6l1.5,-0.9l1.5,-0.9l1.5,-0.7l1.5,-0.7l1.5,-0.9l1.5,-1.2l1.6,-0.5l1.5,-0.6l1.5,-0.5l1.5,-1.2l1.5,-0.9l1.5,-0.7l1.5,-0.5l1.5,-0.6l1.6,-0.7l1.5,-0.5l1.5,-0.8l1.5,0l1.5,-0.1l1.5,0.2l1.5,-0.7l1.6,-0.6l1.5,-0.9l1.5,-0.7l1.5,-0.3l1.5,-0.2l1.5,-0.2l1.5,-0.6l1.6,-0.3l1.5,-0.5l1.5,-0.1l1.5,-0.6l0.3,-0.1l0.4,-0.1l0.4,0l0.3,-0.1l0.4,-0.3l0.4,-0.2l0.4,-0.1l0.4,-0.2l0.3,-0.1l0.4,-0.3l0.4,-0.2l0.4,-0.1l0.3,1.3l0.4,4.2l0.4,5.9l0.4,2l0.4,-4.3l0.3,-6.6l0.4,-3.5l0.4,-1.4l0.4,-0.1l0.4,-0.1l0.3,0l0.4,0.1l0.4,-0.2l0.4,-0.1l0.3,-0.1l0.4,-0.5l0.4,-0.4l0.4,-0.2l0.4,0.1l0.3,0.4l0.4,-0.2l1.5,-0.4l1.5,-0.4l1.6,-0.1l1.5,-0.2l1.5,-0.3l1.5,0.1l1.5,-0.1l1.5,-0.1l1.5,-0.4l1.6,-0.3l1.5,-0.4l1.5,-0.1l1.5,0l1.5,-0.5l1.5,0.1l1.5,-0.4l1.6,0.1l1.5,-0.5l1.5,0.1l1.5,0l1.5,0l1.5,0l1.5,-0.2l1.6,0l1.5,-0.5l1.5,-0.4l1.5,0.2l1.5,0.3l1.5,0l1.5,-0.7l1.5,-0.4l1.6,-0.1l1.5,-0.2l1.5,-0.2l1.5,-0.3l1.5,0.1l1.5,-0.1l1.5,0.6l1.6,-0.1l1.5,0.3l1.5,-0.5l1.5,-0.5l1.5,-0.3l1.5,0.4l1.5,0.4l1.6,0l1.5,-0.3l1.5,-0.2l1.5,-0.2l1.5,0.5l1.5,-0.1l1.5,0.2l1.6,-0.3l1.5,0l1.5,-0.1l1.5,0.1l1.5,0.5l1.5,0l1.5,-0.4l1.6,-0.5l1.5,0.1l1.5,0.2l1.5,0l1.5,0.1l1.5,-0.3l1.5,0.2l1.6,-0.1l1.5,0.3l1.5,0l1.5,0.2l1.5,0.1l1.5,0.1l1.5,0l1.6,-0.1l1.5,0l1.5,0l1.5,0.1l1.5,0.1l1.5,-0.3l1.5,0l1.6,0.1l1.5,0.4l1.5,-0.1l1.5,0l1.5,0l1.5,0.2l1.5,0l1.5,-0.1l1.6,-0.1l1.5,0.4l1.5,0.3l1.5,0.5l1.5,-0.3l1.5,-0.3l1.5,-0.7l1.6,0.2l1.5,0l1.5,0.3l1.5,0.1l1.5,0.5l1.5,0.2l1.5,0.1l1.6,-0.4l1.5,-0.3l1.5,0l1.5,0.1l1.5,0.3l1.5,0.1l1.5,0.4l1.6,0.2l1.5,0.2l1.5,-0.2l1.5,-0.1l1.5,-0.1l1.5,0l1.5,-0.1l1.6,0.2l1.5,-0.1l1.5,0.4l1.5,-0.1l1.5,0.1l1.5,-0.1l1.5,0.4l1.6,0l1.5,0l1.5,-0.3l1.5,0l1.5,0l1.5,0.2l1.5,0l1.6,0l1.5,0.2l1.5,0.2l1.5,0.1l1.5,-0.2l1.5,0.1l1.5,0.2l1.5,0.1l1.6,0.3l1.5,0.3l1.5,-0.2l1.5,0l1.5,-0.2l1.5,0.5l1.5,0l1.6,0.2l1.5,-0.6l1.5,0.2l1.5,0.1l1.5,0.4l1.5,-0.3l1.5,0.3l1.6,0.2l1.5,0.1l1.5,0l1.5,0.1" fill="none" stroke="#7e3f98" stroke-width="2.3" stroke-linejoin="round"/>
<path d="M1276.1,1576l1.5,-2.7l1.6,-2.7l1.5,-2.8l1.5,-2.5l1.5,-2.7l1.5,-2.1l1.5,-2l1.5,-1.7l1.6,-1.8l1.5,-2l1.5,-1.5l1.5,-1.6l1.5,-1.4l1.5,-1.6l1.5,-1.4l1.5,-1.5l1.6,-1.8l1.5,-1.5l1.5,-1.5l1.5,-1.4l1.5,-1.9l1.5,-1.9l1.5,-2l1.6,-1.4l1.5,-1.7l1.5,-1.6l1.5,-1.9l1.5,-1.8l1.5,-1.5l1.5,-1.9l1.6,-1.7l1.5,-1.9l1.5,-1.7l1.5,-2.1l1.5,-1.9l1.5,-1.9l1.5,-1.5l1.6,-1.8l1.5,-1.5l1.5,-1.8l1.5,-2.1l1.5,-2.1l1.5,-1.8l1.5,-1.8l1.6,-1.7l1.5,-1.9l1.5,-1.8l1.5,-1.8l1.5,-1.7l1.5,-2.1l1.5,-1.7l1.6,-2.1l1.5,-1.4l1.5,-2l1.5,-1.6l1.5,-1.9l1.5,-1.3l1.5,-1.6l1.6,-1.6l1.5,-1.7l1.5,-1.4l1.5,-1.6l1.5,-1.4l1.5,-1.5l1.5,-1l1.5,-1.5l1.6,-1.3l1.5,-1.9l1.5,-1.3l1.5,-1.1l1.5,-1l1.5,-0.8l1.5,-1.2l1.6,-0.7l1.5,-1.1l1.5,-1l1.5,-1l1.5,-1.3l1.5,-0.5l1.5,-0.9l1.6,-0.6l1.5,-1.1l1.5,-0.6l1.5,-1.1l0.3,-0.3l0.4,-0.4l0.4,0.1l0.3,0l0.4,-0.7l0.4,-0.4l0.4,-0.3l0.4,-0.1l0.3,-0.3l0.4,-0.4l0.4,-0.2l0.4,-0.4l0.3,-0.4l0.4,-0.2l0.4,-1.6l0.4,-4.7l0.4,-9l0.3,-6.4l0.4,2.6l0.4,8.2l0.4,5.8l0.4,2l0.3,0.3l0.4,-0.2l0.4,-0.5l0.4,-0.4l0.3,-0.2l0.4,0.1l0.4,-0.2l0.4,-0.3l0.4,-0.4l0.3,-0.1l0.4,0.3l1.5,0.4l1.5,-0.1l1.6,-0.1l1.5,-0.4l1.5,-0.3l1.5,0.1l1.5,0l1.5,0.6l1.5,-0.1l1.6,0l1.5,-0.3l1.5,0.1l1.5,0.1l1.5,0l1.5,0.3l1.5,0l1.6,0.2l1.5,0l1.5,0.4l1.5,0.2l1.5,-0.1l1.5,-0.2l1.5,0l1.6,0.2l1.5,0.1l1.5,0l1.5,0l1.5,0.2l1.5,0.4l1.5,-0.1l1.5,-0.3l1.6,0.1l1.5,0.1l1.5,0.2l1.5,0l1.5,0.2l1.5,0.4l1.5,0.1l1.6,0l1.5,-0.2l1.5,0l1.5,-0.1l1.5,0.2l1.5,0.3l1.5,0l1.6,-0.1l1.5,0l1.5,0.1l1.5,0.2l1.5,0l1.5,0l1.5,0.6l1.6,0.4l1.5,0.3l1.5,-0.2l1.5,0l1.5,0l1.5,0l1.5,0.2l1.6,0.5l1.5,0l1.5,-0.3l1.5,0.4l1.5,0.2l1.5,0.5l1.5,0.1l1.6,0.3l1.5,0.4l1.5,-0.1l1.5,-0.1l1.5,-0.1l1.5,-0.1l1.5,0.4l1.6,0.2l1.5,0.1l1.5,0.5l1.5,0.3l1.5,0.2l1.5,0.2l1.5,0.2l1.6,0.1l1.5,-0.2l1.5,0.3l1.5,0.5l1.5,0.3l1.5,0.1l1.5,0.1l1.5,0.2l1.6,0.2l1.5,0l1.5,-0.2l1.5,0.1l1.5,0l1.5,0.5l1.5,-0.1l1.6,0.1l1.5,0.5l1.5,0.6l1.5,0.3l1.5,0.1l1.5,0.2l1.5,0.1l1.6,0l1.5,0.3l1.5,0l1.5,0.4l1.5,-0.1l1.5,0.2l1.5,-0.2l1.6,0.6l1.5,-0.1l1.5,0.4l1.5,-0.1l1.5,0.3l1.5,-0.1l1.5,0l1.6,0.6l1.5,0.1l1.5,0l1.5,-0.4l1.5,0.1l1.5,0.1l1.5,0.1l1.6,0.2l1.5,0.2l1.5,-0.1l1.5,0.1l1.5,-0.3l1.5,0.4l1.5,-0.3l1.6,0.4l1.5,0.1l1.5,0.2l1.5,0l1.5,0.2l1.5,0.2l1.5,0.1l1.5,0.2l1.6,-0.2l1.5,0.1l1.5,0.2l1.5,0.3l1.5,0l1.5,0l1.5,-0.2l1.6,0l1.5,-0.2l1.5,0.4l1.5,0.2l1.5,0l1.5,0.1l1.5,0l1.6,0.2l1.5,-0.1l1.5,0.1l1.5,0" fill="none" stroke="#22b14c" stroke-width="2.3" stroke-linejoin="round"/>
<path d="M1276.1,1569.9l1.5,-5.2l1.6,-5.1l1.5,-4.9l1.5,-4.4l1.5,-3.7l1.5,-3.2l1.5,-3.1l1.5,-2.6l1.6,-2.5l1.5,-2.8l1.5,-3l1.5,-2.5l1.5,-2l1.5,-2l1.5,-1.5l1.5,-1.9l1.6,-2l1.5,-2.1l1.5,-1.8l1.5,-1.3l1.5,-1.8l1.5,-1.7l1.5,-2.3l1.6,-1.7l1.5,-2.2l1.5,-1.5l1.5,-2.4l1.5,-1.7l1.5,-2.2l1.5,-2.3l1.6,-2.4l1.5,-2.2l1.5,-2.1l1.5,-2.6l1.5,-2.9l1.5,-2.2l1.5,-2.5l1.6,-2.1l1.5,-3.3l1.5,-2.6l1.5,-2.8l1.5,-2.3l1.5,-2.5l1.5,-2.3l1.6,-2.4l1.5,-2.1l1.5,-2l1.5,-2.1l1.5,-2.4l1.5,-2.6l1.5,-2l1.6,-1.7l1.5,-2.1l1.5,-2.5l1.5,-2.6l1.5,-2.5l1.5,-2.1l1.5,-2.7l1.6,-2.7l1.5,-2.9l1.5,-2.6l1.5,-2.8l1.5,-3.3l1.5,-3.4l1.5,-3.1l1.5,-2.8l1.6,-2.5l1.5,-2.5l1.5,-2.5l1.5,-2.5l1.5,-2.2l1.5,-2.2l1.5,-2l1.6,-2.2l1.5,-1.9l1.5,-2.3l1.5,-1.8l1.5,-1.9l1.5,-1.2l1.5,-1.3l1.6,-1.3l1.5,-1.3l1.5,-1.2l1.5,-1.2l0.3,-0.3l0.4,-0.5l0.4,-0.8l0.3,-0.6l0.4,-0.4l0.4,-0.1l0.4,-0.3l0.4,-0.3l0.3,-0.6l0.4,-0.8l0.4,-0.5l0.4,1.7l0.3,4.4l0.4,2.8l0.4,-3l0.4,-6.9l0.4,-5.2l0.3,-2.9l0.4,-0.6l0.4,-0.4l0.4,0.2l0.4,-0.4l0.3,0.2l0.4,-0.4l0.4,0.2l0.4,-0.1l0.3,0.1l0.4,-0.3l0.4,-0.2l0.4,-0.4l0.4,-0.1l0.3,0.5l0.4,0.3l1.5,0.2l1.5,-0.7l1.6,-0.5l1.5,-0.7l1.5,-0.4l1.5,-0.5l1.5,-0.7l1.5,-1l1.5,-0.4l1.6,-0.5l1.5,-0.1l1.5,0.1l1.5,0l1.5,0.4l1.5,-0.2l1.5,-0.2l1.6,-0.4l1.5,0l1.5,0.2l1.5,0.4l1.5,0.2l1.5,-0.2l1.5,-0.4l1.6,0.2l1.5,0.3l1.5,0l1.5,-0.2l1.5,-0.4l1.5,0.4l1.5,-0.4l1.5,-0.1l1.6,-0.2l1.5,0l1.5,0.1l1.5,-0.1l1.5,-0.1l1.5,-0.2l1.5,0.2l1.6,0.5l1.5,0.2l1.5,0l1.5,-0.1l1.5,0.1l1.5,-0.1l1.5,0l1.6,-0.1l1.5,0.2l1.5,0l1.5,0.3l1.5,-0.2l1.5,0.1l1.5,-0.2l1.6,0.3l1.5,-0.1l1.5,0l1.5,0.2l1.5,0.3l1.5,0.5l1.5,0.1l1.6,0.1l1.5,-0.1l1.5,-0.2l1.5,0.4l1.5,0.2l1.5,0.3l1.5,-0.2l1.6,0l1.5,0.6l1.5,0.5l1.5,0.3l1.5,0.1l1.5,-0.2l1.5,0.3l1.6,0.2l1.5,0.5l1.5,0.3l1.5,0.3l1.5,0.4l1.5,0.3l1.5,0.4l1.6,0.1l1.5,0.5l1.5,0.4l1.5,0.3l1.5,0l1.5,0.2l1.5,0.4l1.5,0.5l1.6,-0.2l1.5,0.5l1.5,-0.2l1.5,0.7l1.5,0l1.5,0.6l1.5,0.2l1.6,0.1l1.5,0.1l1.5,0.3l1.5,0.5l1.5,0l1.5,0l1.5,0l1.6,0.6l1.5,0.4l1.5,0.2l1.5,-0.1l1.5,0.4l1.5,0.2l1.5,0.5l1.6,-0.2l1.5,-0.1l1.5,0.1l1.5,0.3l1.5,0.2l1.5,0.2l1.5,0.4l1.6,0.2l1.5,0.1l1.5,0l1.5,0.1l1.5,0.2l1.5,0.4l1.5,0.4l1.6,0.2l1.5,-0.4l1.5,0.2l1.5,0.1l1.5,0.4l1.5,0.2l1.5,0.3l1.6,0.2l1.5,0.2l1.5,-0.3l1.5,-0.2l1.5,0.3l1.5,0.5l1.5,0.7l1.5,0l1.6,0.1l1.5,0l1.5,-0.1l1.5,0.2l1.5,0.4l1.5,0.6l1.5,-0.3l1.6,-0.3l1.5,0.1l1.5,0.5l1.5,0.4l1.5,-0.4l1.5,-0.3l1.5,0.1l1.6,0.2l1.5,0.2l1.5,0.2l1.5,0.3" fill="none" stroke="#ed1c24" stroke-width="2.3" stroke-linejoin="round"/>
<path d="M1276.1,1562.1l1.5,10.6l0.3,2.5l1.3,-0.9l1.5,-1.7l1.5,-1.7l1.5,-1.5l1.5,-1.6l1.5,-1.5l1.5,-1.6l1.6,-0.9l1.5,-0.8l1.5,-1.1l1.5,-1.2l1.5,-1.1l1.5,-1.1l1.5,-1.3l1.5,-1.3l1.6,-0.8l1.5,-1.3l1.5,-1l1.5,-1.3l1.5,-0.4l1.5,-1l1.5,-0.6l1.6,-1.3l1.5,-0.7l1.5,-0.8l1.5,-0.5l1.5,-1l1.5,-1.2l1.5,-0.9l1.6,-0.7l1.5,-0.8l1.5,-0.9l1.5,-0.9l1.5,-0.9l1.5,-1.2l1.5,-1.2l1.6,-1l1.5,-1.3l1.5,-1l1.5,-1.4l1.5,-1.1l1.5,-1.3l1.5,-1l1.6,-1l1.5,-0.8l1.5,-0.9l1.5,-0.7l1.5,-0.9l1.5,-0.9l1.5,-1.1l1.6,-0.9l1.5,-0.6l1.5,-1.1l1.5,-0.7l1.5,-1l1.5,-0.6l1.5,-1.1l1.6,-0.6l1.5,-0.6l1.5,-0.3l1.5,-0.7l1.5,-0.7l1.5,-1.1l1.5,-0.9l1.5,-0.4l1.6,-0.3l1.5,-0.3l1.5,-1.1l1.5,-0.7l1.5,-0.5l1.5,-0.3l1.5,-0.4l1.6,-0.6l1.5,-0.3l1.5,-0.1l1.5,0l1.5,-0.2l1.5,-0.5l1.5,-0.4l1.6,-0.3l1.5,-0.4l1.5,-0.6l1.5,-0.5l0.3,-0.1l0.4,0.2l0.4,-0.3l0.3,-0.6l0.4,-0.3l0.4,-0.4l0.4,0.1l0.4,0.3l0.3,0l0.4,0.1l0.4,-0.3l0.4,0.4l0.3,1l0.4,4.2l0.4,5.7l0.4,1.8l0.4,-4.9l0.3,-5.9l0.4,-3.3l0.4,-1l0.4,-0.7l0.4,-0.4l0.3,-0.2l0.4,-0.2l0.4,-0.3l0.4,0.1l0.3,-0.1l0.4,0.1l0.4,-0.2l0.4,-0.1l0.4,0.2l0.3,-0.3l0.4,-0.1l1.5,-0.6l1.5,-0.5l1.6,-0.3l1.5,0l1.5,-0.1l1.5,-0.2l1.5,0l1.5,-0.3l1.5,-0.2l1.6,-0.5l1.5,0.2l1.5,-0.2l1.5,-0.4l1.5,-0.5l1.5,0.2l1.5,0.2l1.6,0l1.5,-0.5l1.5,-0.1l1.5,-0.2l1.5,-0.1l1.5,-0.2l1.5,0.1l1.6,-0.2l1.5,-0.3l1.5,-0.2l1.5,-0.2l1.5,0.2l1.5,-0.1l1.5,0.1l1.5,-0.5l1.6,0l1.5,-0.3l1.5,0.4l1.5,-0.2l1.5,0l1.5,-0.4l1.5,0.1l1.6,0.3l1.5,-0.1l1.5,0l1.5,-0.3l1.5,0.2l1.5,-0.3l1.5,-0.3l1.6,-0.4l1.5,-0.2l1.5,0.6l1.5,0.2l1.5,0.1l1.5,-0.3l1.5,-0.1l1.6,0.2l1.5,0l1.5,0.2l1.5,-0.2l1.5,-0.2l1.5,0.2l1.5,-0.1l1.6,0.3l1.5,0.1l1.5,0.3l1.5,0.2l1.5,-0.5l1.5,-0.4l1.5,-0.3l1.6,0.2l1.5,0.5l1.5,0.1l1.5,0.1l1.5,-0.5l1.5,-0.2l1.5,-0.4l1.6,0.1l1.5,0.1l1.5,0.6l1.5,0.1l1.5,0.4l1.5,-0.3l1.5,0.3l1.6,-0.2l1.5,0.3l1.5,0l1.5,-0.1l1.5,0l1.5,-0.1l1.5,0.3l1.5,-0.3l1.6,0.2l1.5,-0.3l1.5,-0.1l1.5,0.3l1.5,0.4l1.5,0.4l1.5,-0.5l1.6,-0.1l1.5,0l1.5,0.3l1.5,-0.1l1.5,0.3l1.5,-0.2l1.5,0.6l1.6,0.2l1.5,-0.1l1.5,-0.5l1.5,-0.2l1.5,0l1.5,-0.1l1.5,-0.3l1.6,0.5l1.5,0.1l1.5,0.1l1.5,0.3l1.5,0l1.5,0.2l1.5,-0.4l1.6,-0.1l1.5,0.1l1.5,0.4l1.5,0.2l1.5,-0.1l1.5,0l1.5,0.1l1.6,0l1.5,0l1.5,-0.2l1.5,0.1l1.5,0.3l1.5,0.6l1.5,-0.1l1.6,0l1.5,-0.2l1.5,0.3l1.5,0.2l1.5,0.1l1.5,0.5l1.5,-0.2l1.5,0.2l1.6,-0.7l1.5,-0.1l1.5,-0.1l1.5,0.4l1.5,0l1.5,0.2l1.5,0.1l1.6,0.3l1.5,-0.5l1.5,0l1.5,0.3l1.5,0.4l1.5,-0.4l1.5,-0.1l1.6,-0.4l1.5,0.6l1.5,-0.3l1.5,0.7" fill="none" stroke="#3953a4" stroke-width="2.3" stroke-linejoin="round"/>
<line x1="1276.1" y1="1325" x2="1276.1" y2="1578.3" stroke="#000" stroke-width="2.6"/>
<line x1="1274.8" y1="1577.1" x2="1652.9" y2="1577.1" stroke="#000" stroke-width="2.6"/>
<line x1="1268.6" y1="1577.1" x2="1276.1" y2="1577.1" stroke="#000" stroke-width="2.2"/>
<text x="1267.8" y="1585" font-size="22.3" text-anchor="end">0</text>
<line x1="1268.6" y1="1535.3" x2="1276.1" y2="1535.3" stroke="#000" stroke-width="2.2"/>
<text x="1267.8" y="1543.2" font-size="22.3" text-anchor="end">20</text>
<line x1="1268.6" y1="1493.5" x2="1276.1" y2="1493.5" stroke="#000" stroke-width="2.2"/>
<text x="1267.8" y="1501.4" font-size="22.3" text-anchor="end">40</text>
<line x1="1268.6" y1="1451.7" x2="1276.1" y2="1451.7" stroke="#000" stroke-width="2.2"/>
<text x="1267.8" y="1459.6" font-size="22.3" text-anchor="end">60</text>
<line x1="1268.6" y1="1409.8" x2="1276.1" y2="1409.8" stroke="#000" stroke-width="2.2"/>
<text x="1267.8" y="1417.7" font-size="22.3" text-anchor="end">80</text>
<line x1="1268.6" y1="1368" x2="1276.1" y2="1368" stroke="#000" stroke-width="2.2"/>
<text x="1267.8" y="1375.9" font-size="22.3" text-anchor="end">100</text>
<line x1="1268.6" y1="1326.2" x2="1276.1" y2="1326.2" stroke="#000" stroke-width="2.2"/>
<text x="1267.8" y="1334.1" font-size="22.3" text-anchor="end">120</text>
<line x1="1349.1" y1="1577.1" x2="1349.1" y2="1584.6" stroke="#000" stroke-width="2.2"/>
<text x="1349.1" y="1605.1" font-size="22" text-anchor="middle">50</text>
<line x1="1424.8" y1="1577.1" x2="1424.8" y2="1584.6" stroke="#000" stroke-width="2.2"/>
<text x="1424.8" y="1605.1" font-size="22" text-anchor="middle">100</text>
<line x1="1500.5" y1="1577.1" x2="1500.5" y2="1584.6" stroke="#000" stroke-width="2.2"/>
<text x="1500.5" y="1605.1" font-size="22" text-anchor="middle">150</text>
<line x1="1576.2" y1="1577.1" x2="1576.2" y2="1584.6" stroke="#000" stroke-width="2.2"/>
<text x="1576.2" y="1605.1" font-size="22" text-anchor="middle">200</text>
<line x1="1651.9" y1="1577.1" x2="1651.9" y2="1584.6" stroke="#000" stroke-width="2.2"/>
<text x="1651.9" y="1605.1" font-size="22" text-anchor="middle">250</text>
<text x="1465.7" y="1634" font-size="22" text-anchor="middle" textLength="73.5" lengthAdjust="spacingAndGlyphs">Time(s)</text>
<text x="1479.6" y="1263.1" font-size="31" font-weight="bold" text-anchor="middle" textLength="124" lengthAdjust="spacingAndGlyphs">nCoV433</text>
<text x="1481.7" y="1316.8" font-size="22" font-weight="bold" text-anchor="middle" fill="#1a1a1a">K<tspan font-size="11">D</tspan> = 14.8 nM</text>
<line x1="1667.9" y1="1431.5" x2="1693.4" y2="1431.5" stroke="#000000" stroke-width="2.3"/>
<text x="1709.4" y="1439.5" font-size="21.5">1.25 µg/ml</text>
<line x1="1667.9" y1="1460.4" x2="1693.4" y2="1460.4" stroke="#f47b20" stroke-width="2.3"/>
<text x="1709.4" y="1468.4" font-size="21.5">2.5 µg/ml</text>
<line x1="1667.9" y1="1489.3" x2="1693.4" y2="1489.3" stroke="#7e3f98" stroke-width="2.3"/>
<text x="1709.4" y="1497.3" font-size="21.5">5 µg/ml</text>
<line x1="1667.9" y1="1517.6" x2="1693.4" y2="1517.6" stroke="#22b14c" stroke-width="2.3"/>
<text x="1709.4" y="1525.6" font-size="21.5">10 µg/ml</text>
<line x1="1667.9" y1="1547.2" x2="1693.4" y2="1547.2" stroke="#ed1c24" stroke-width="2.3"/>
<text x="1709.4" y="1555.2" font-size="21.5">20 µg/ml</text>
<line x1="1667.9" y1="1576.1" x2="1693.4" y2="1576.1" stroke="#3953a4" stroke-width="2.3"/>
<text x="1709.4" y="1584.1" font-size="21.5">5µg/ml</text>
<path d="M62.4,2041.1l1.4,0.2l1.5,0l1.5,0l1.5,-0.1l1.5,0l1.5,-0.4l1.4,0l1.5,-0.1l1.5,0l1.5,0l1.5,-0.1l1.4,-0.1l1.5,-0.1l1.5,0l1.5,0.1l1.5,0.1l1.5,-0.3l1.4,-0.6l1.5,-0.5l1.5,-0.1l1.5,0l1.5,0.1l1.4,-0.3l1.5,0l1.5,-0.1l1.5,0.1l1.5,-0.2l1.5,-0.3l1.4,0l1.5,-0.2l1.5,0.3l1.5,-0.5l1.5,-0.5l1.4,-0.3l1.5,0.5l1.5,-0.1l1.5,-0.4l1.5,-0.4l1.5,-0.2l1.4,-0.1l1.5,-0.2l1.5,-0.5l1.5,-0.4l1.5,-0.7l1.5,0l1.4,-0.1l1.5,-0.1l1.5,-0.6l1.5,-0.2l1.5,-0.7l1.4,-0.3l1.5,-0.1l1.5,-0.4l1.5,-0.2l1.5,-0.7l1.5,0l1.4,0l1.5,-0.5l1.5,0.1l1.5,-0.4l1.5,-0.5l1.4,-0.9l1.5,-0.4l1.5,0.2l1.5,-0.2l1.5,-0.3l1.5,-0.4l1.4,-0.1l1.5,0l1.5,-0.3l1.5,0.2l1.5,-0.6l1.4,0.2l1.5,-0.4l1.5,0.2l1.5,-0.5l1.5,-0.4l1.5,-0.4l1.4,-0.1l1.5,-0.1l1.5,0l1.5,0.3l1.5,0.3l1.2,0.3l0.3,-0.3l0.4,-0.4l0.4,-0.4l0.3,0l0.4,-0.1l0.4,0.2l0.3,0.2l0.4,0.3l0.4,-0.4l0.4,-0.4l0.3,-0.2l0.4,0.3l0.4,0l0.3,-1.2l0.4,-1.2l0.4,0.7l0.4,1.1l0.3,0.4l0.4,0.1l0.4,0.2l0.3,-0.2l0.4,-0.4l0.4,-0.2l0.3,-0.2l0.4,0.6l0.4,0l0.4,-0.1l0.3,-0.1l0.4,0.2l0.4,0.4l0.3,-0.1l0.4,-0.2l1.5,-0.4l1.5,-0.1l1.5,0l1.4,0.3l1.5,0.1l1.5,0l1.5,-0.2l1.5,0.1l1.4,0.1l1.5,-0.1l1.5,-0.2l1.5,0.1l1.5,0.2l1.5,0.1l1.4,-0.3l1.5,-0.1l1.5,0.2l1.5,0.2l1.5,0.3l1.4,-0.2l1.5,0.1l1.5,-0.3l1.5,0l1.5,-0.2l1.5,-0.3l1.4,0.1l1.5,0.3l1.5,0.4l1.5,-0.1l1.5,-0.1l1.5,0.2l1.4,-0.1l1.5,0l1.5,0.2l1.5,0.2l1.5,-0.1l1.4,-0.5l1.5,0l1.5,0.2l1.5,0l1.5,0l1.5,-0.1l1.4,0.1l1.5,-0.2l1.5,0l1.5,0.2l1.5,0l1.4,0.1l1.5,-0.1l1.5,-0.2l1.5,-0.2l1.5,0.1l1.5,0.4l1.4,0.2l1.5,-0.1l1.5,0.3l1.5,-0.2l1.5,-0.3l1.4,-0.3l1.5,0.2l1.5,0l1.5,0l1.5,0.1l1.5,0.1l1.4,0.2l1.5,-0.3l1.5,-0.1l1.5,0.1l1.5,0.2l1.4,-0.2l1.5,-0.1l1.5,-0.1l1.5,0.4l1.5,-0.4l1.5,0l1.4,0l1.5,0.4l1.5,0l1.5,-0.2l1.5,-0.3l1.5,0.2l1.4,-0.2l1.5,0.2l1.5,-0.1l1.5,0.3l1.5,0l1.4,0l1.5,0.1l1.5,-0.1l1.5,0l1.5,0.1l1.5,-0.1l1.4,0l1.5,-0.5l1.5,0l1.5,-0.2l1.5,0.2l1.4,-0.1l1.5,0.1l1.5,0.2l1.5,0.2l1.5,0.4l1.5,-0.1l1.4,0l1.5,-0.4l1.5,-0.3l1.5,-0.1l1.5,-0.1l1.4,0.3l1.5,-0.1l1.5,0.2l1.5,0l1.5,0l1.5,-0.2l1.4,-0.4l1.5,0.1l1.5,0.4l1.5,0.3l1.5,-0.3l1.4,-0.3l1.5,-0.1l1.5,-0.1l1.5,0l1.5,0.4l1.5,0.5l1.4,-0.2l1.5,-0.2l1.5,-0.4l1.5,0.3l1.5,0.3l1.5,0.3l1.4,0.1l1.5,0l1.5,0.1l1.5,-0.3l1.5,-0.3l1.4,-0.4l1.5,0l1.5,0.2l1.5,0.1l1.5,-0.1l1.5,-0.1l1.4,0l1.5,0.1l1.5,0l1.5,0l1.5,0.1l1.4,-0.2l1.5,0.2l1.5,-0.2l1.5,0.4l1.5,-0.6l1.5,-0.1l1.4,-0.1l1.5,0.4l1.5,0.1" fill="none" stroke="#000000" stroke-width="2.3" stroke-linejoin="round"/>
<path d="M62.4,2041.1l1.4,-0.3l1.5,-1l1.5,-0.1l1.5,-0.4l1.5,0.2l1.5,-0.6l1.4,-0.3l1.5,-0.5l1.5,-0.3l1.5,-0.2l1.5,-0.2l1.4,-0.3l1.5,-0.6l1.5,-0.1l1.5,-0.2l1.5,0.1l1.5,-0.5l1.4,-0.3l1.5,-0.7l1.5,-0.9l1.5,-0.7l1.5,0.1l1.4,0l1.5,0l1.5,-0.6l1.5,-0.6l1.5,-0.6l1.5,-0.4l1.4,-0.2l1.5,0.1l1.5,0.1l1.5,-0.4l1.5,-0.8l1.4,-0.9l1.5,-0.3l1.5,-0.3l1.5,-0.3l1.5,-0.6l1.5,-0.4l1.4,-0.2l1.5,-0.4l1.5,-0.5l1.5,-0.7l1.5,0l1.5,-0.4l1.4,-0.1l1.5,-0.3l1.5,-0.5l1.5,-0.6l1.5,-0.9l1.4,-0.8l1.5,-0.5l1.5,-0.6l1.5,-0.1l1.5,-0.6l1.5,0.1l1.4,-0.5l1.5,-0.2l1.5,-0.6l1.5,-0.5l1.5,-0.2l1.4,-0.4l1.5,-0.2l1.5,-0.7l1.5,-0.5l1.5,-0.4l1.5,-0.3l1.4,-0.1l1.5,-0.5l1.5,-0.3l1.5,-0.6l1.5,0l1.4,-0.7l1.5,0l1.5,-0.7l1.5,0l1.5,-0.5l1.5,0l1.4,-0.4l1.5,-0.2l1.5,-0.4l1.5,-0.2l1.5,-0.3l1.2,-0.3l0.3,0.2l0.4,-0.1l0.4,0.2l0.3,0.1l0.4,0.1l0.4,0l0.3,-0.6l0.4,0.2l0.4,-0.1l0.4,0.2l0.3,0.2l0.4,-0.1l0.4,0.1l0.3,-1l0.4,-1.6l0.4,-3.5l0.4,-3.9l0.3,-2l0.4,2.1l0.4,4l0.3,3.3l0.4,1.6l0.4,0.5l0.3,0.1l0.4,-0.5l0.4,0.1l0.4,-0.1l0.3,0.3l0.4,0l0.4,0l0.3,0l0.4,-0.1l1.5,-0.1l1.5,-0.2l1.5,-0.1l1.4,0.2l1.5,0.2l1.5,0l1.5,-0.1l1.5,-0.1l1.4,0.2l1.5,-0.2l1.5,0l1.5,0.1l1.5,0.2l1.5,0l1.4,0.1l1.5,-0.4l1.5,0.1l1.5,-0.1l1.5,0.2l1.4,0l1.5,0l1.5,0.1l1.5,0.2l1.5,0.1l1.5,0.2l1.4,-0.3l1.5,0l1.5,-0.1l1.5,0.3l1.5,-0.2l1.5,-0.4l1.4,0.1l1.5,0.1l1.5,0.3l1.5,-0.1l1.5,0l1.4,0.3l1.5,-0.2l1.5,0.1l1.5,-0.1l1.5,-0.1l1.5,-0.1l1.4,-0.3l1.5,0.5l1.5,0.2l1.5,0.3l1.5,-0.4l1.4,-0.2l1.5,0.2l1.5,0.1l1.5,0.3l1.5,-0.5l1.5,0.1l1.4,0.2l1.5,0.2l1.5,0.1l1.5,0l1.5,-0.1l1.4,0l1.5,-0.2l1.5,0.3l1.5,-0.5l1.5,-0.1l1.5,-0.4l1.4,0.6l1.5,0.6l1.5,0.3l1.5,-0.2l1.5,-0.7l1.4,-0.4l1.5,0.1l1.5,0.2l1.5,0l1.5,-0.1l1.5,0l1.4,0.2l1.5,0.1l1.5,0.4l1.5,0.1l1.5,-0.3l1.5,0.1l1.4,0.2l1.5,0.1l1.5,0.3l1.5,-0.6l1.5,0.2l1.4,-0.6l1.5,0l1.5,0.2l1.5,0.3l1.5,-0.1l1.5,-0.1l1.4,-0.2l1.5,0.4l1.5,-0.3l1.5,-0.2l1.5,0l1.4,0.3l1.5,0.2l1.5,0l1.5,-0.3l1.5,0l1.5,-0.2l1.4,0.3l1.5,0l1.5,0l1.5,-0.4l1.5,0.1l1.4,0.4l1.5,0.4l1.5,0.1l1.5,-0.2l1.5,-0.1l1.5,0.2l1.4,0.2l1.5,-0.1l1.5,-0.4l1.5,0.1l1.5,0.2l1.4,0.4l1.5,-0.1l1.5,-0.7l1.5,-0.2l1.5,-0.1l1.5,0.7l1.4,0.2l1.5,0.3l1.5,-0.1l1.5,-0.1l1.5,-0.6l1.5,0.3l1.4,-0.1l1.5,0l1.5,0.1l1.5,-0.1l1.5,0.5l1.4,-0.4l1.5,-0.1l1.5,-0.3l1.5,0.1l1.5,0.3l1.5,0l1.4,-0.1l1.5,-0.1l1.5,0.1l1.5,0.1l1.5,-0.2l1.4,0.3l1.5,0l1.5,0.3l1.5,-0.4l1.5,-0.1l1.5,-0.2l1.4,-0.1l1.5,0.3l1.5,0.1" fill="none" stroke="#f47b20" stroke-width="2.3" stroke-linejoin="round"/>
<path d="M62.4,2041.2l1.4,-0.1l1.5,-0.2l1.5,-0.4l1.5,0l1.5,-0.2l1.5,-0.3l1.4,-0.6l1.5,-0.4l1.5,-0.6l1.5,-0.4l1.5,-0.1l1.4,-0.2l1.5,-0.2l1.5,-1l1.5,-0.9l1.5,-0.9l1.5,-0.7l1.4,-0.3l1.5,-0.5l1.5,-0.7l1.5,-1.2l1.5,-1.1l1.4,-1.1l1.5,-1.1l1.5,-1.3l1.5,-1.2l1.5,-1.1l1.5,-0.7l1.4,-0.7l1.5,-0.8l1.5,-0.7l1.5,-0.9l1.5,-0.9l1.4,-0.9l1.5,-0.4l1.5,-1.2l1.5,-0.9l1.5,-1l1.5,-0.4l1.4,-0.8l1.5,-0.6l1.5,-0.5l1.5,-0.4l1.5,-0.8l1.5,-0.4l1.4,-0.9l1.5,-0.7l1.5,-0.7l1.5,-0.9l1.5,-0.5l1.4,-1.1l1.5,-0.4l1.5,-0.9l1.5,-0.5l1.5,-1.2l1.5,-0.9l1.4,-1.1l1.5,-0.4l1.5,-0.6l1.5,-0.4l1.5,-0.5l1.4,-0.6l1.5,-0.6l1.5,-0.5l1.5,-0.2l1.5,-0.4l1.5,-0.6l1.4,-0.6l1.5,-0.6l1.5,-0.3l1.5,-0.3l1.5,-0.2l1.4,-0.3l1.5,-0.5l1.5,-0.5l1.5,-0.7l1.5,-0.2l1.5,-0.1l1.4,-0.2l1.5,-0.5l1.5,-0.6l1.5,-0.6l1.5,-0.7l1.2,-0.3l0.3,0.2l0.4,0.1l0.4,-0.1l0.3,0.2l0.4,0.1l0.4,0.1l0.3,-0.4l0.4,-0.5l0.4,0l0.4,0l0.3,0.2l0.4,-0.3l0.4,0.6l0.3,0.8l0.4,1.8l0.4,0.8l0.4,-0.8l0.3,-1.8l0.4,-1l0.4,-0.2l0.3,-0.4l0.4,-0.1l0.4,0l0.3,0.6l0.4,0.3l0.4,-0.2l0.4,-0.7l0.3,-0.2l0.4,-0.1l0.4,0.5l0.3,-0.5l0.4,-0.2l1.5,-0.5l1.5,-0.1l1.5,-0.4l1.4,-0.2l1.5,0.2l1.5,0.4l1.5,0.2l1.5,0.1l1.4,-0.6l1.5,-0.3l1.5,-0.4l1.5,0.2l1.5,-0.5l1.5,0.1l1.4,-0.3l1.5,0.2l1.5,-0.1l1.5,0.4l1.5,-0.1l1.4,0l1.5,-0.3l1.5,0l1.5,-0.2l1.5,-0.3l1.5,0.1l1.4,-0.1l1.5,0.1l1.5,-0.2l1.5,-0.2l1.5,0l1.5,-0.2l1.4,0.1l1.5,0.2l1.5,0.1l1.5,-0.4l1.5,-0.2l1.4,0l1.5,0.1l1.5,-0.2l1.5,-0.1l1.5,-0.2l1.5,0.2l1.4,-0.4l1.5,-0.1l1.5,-0.3l1.5,-0.1l1.5,-0.1l1.4,-0.5l1.5,0.3l1.5,-0.3l1.5,0.1l1.5,0.1l1.5,0l1.4,0l1.5,-0.3l1.5,0l1.5,0.2l1.5,-0.4l1.4,-0.1l1.5,-0.4l1.5,-0.2l1.5,-0.1l1.5,-0.1l1.5,0.4l1.4,-0.1l1.5,-0.4l1.5,-0.1l1.5,0.1l1.5,0l1.4,-0.2l1.5,-0.2l1.5,-0.2l1.5,0.1l1.5,0l1.5,0.6l1.4,-0.1l1.5,-0.1l1.5,-0.5l1.5,0.2l1.5,-0.1l1.5,0.1l1.4,-0.2l1.5,-0.3l1.5,0.2l1.5,0.1l1.5,0.3l1.4,0.3l1.5,-0.4l1.5,-0.1l1.5,-0.2l1.5,0.1l1.5,0.1l1.4,-0.4l1.5,0.2l1.5,0.4l1.5,0.6l1.5,0l1.4,0l1.5,-0.3l1.5,-0.1l1.5,-0.2l1.5,0.1l1.5,-0.1l1.4,0l1.5,-0.2l1.5,0l1.5,0.2l1.5,0.2l1.4,-0.2l1.5,-0.2l1.5,0l1.5,0.5l1.5,0.1l1.5,0l1.4,0l1.5,-0.1l1.5,-0.1l1.5,-0.2l1.5,0.3l1.4,0.3l1.5,-0.1l1.5,-0.2l1.5,-0.4l1.5,0.1l1.5,0.2l1.4,0.1l1.5,0.2l1.5,-0.2l1.5,-0.1l1.5,-0.5l1.5,0l1.4,0.1l1.5,0.4l1.5,-0.2l1.5,0.6l1.5,0.1l1.4,0.1l1.5,-0.4l1.5,0l1.5,0l1.5,-0.1l1.5,-0.1l1.4,0.2l1.5,0.3l1.5,0l1.5,-0.2l1.5,-0.3l1.4,0.1l1.5,0.4l1.5,0.4l1.5,-0.2l1.5,-0.2l1.5,-0.1l1.4,0.1l1.5,0l1.5,0.1" fill="none" stroke="#7e3f98" stroke-width="2.3" stroke-linejoin="round"/>
<path d="M62.4,2040.9l1.4,-1.2l1.5,-1.3l1.5,-1.6l1.5,-1.3l1.5,-1.2l1.5,-1.5l1.4,-1.2l1.5,-1.4l1.5,-1l1.5,-1.3l1.5,-1l1.4,-1.2l1.5,-1.3l1.5,-1.7l1.5,-1.2l1.5,-1.4l1.5,-1.2l1.4,-1.5l1.5,-1.5l1.5,-1.3l1.5,-1l1.5,-1.1l1.4,-1l1.5,-1.7l1.5,-1.3l1.5,-1.5l1.5,-1.2l1.5,-1.2l1.4,-1.1l1.5,-1l1.5,-1.3l1.5,-1.4l1.5,-1.3l1.4,-1.5l1.5,-1.1l1.5,-1.1l1.5,-1.1l1.5,-1.3l1.5,-1.2l1.4,-1.6l1.5,-1.6l1.5,-1.9l1.5,-1.4l1.5,-1.5l1.5,-1.7l1.4,-1.8l1.5,-1.9l1.5,-1.5l1.5,-1.7l1.5,-1.5l1.4,-1.9l1.5,-1.6l1.5,-1.4l1.5,-1.5l1.5,-1.8l1.5,-2l1.4,-1.5l1.5,-1.5l1.5,-1.5l1.5,-1.9l1.5,-1.6l1.4,-1.6l1.5,-1.6l1.5,-1.3l1.5,-1.4l1.5,-1l1.5,-1.3l1.4,-1.2l1.5,-1.2l1.5,-1.5l1.5,-1.4l1.5,-1.2l1.4,-0.8l1.5,-0.8l1.5,-0.9l1.5,-0.9l1.5,-1l1.5,-0.8l1.4,-0.7l1.5,-0.6l1.5,-0.9l1.5,-0.8l1.5,-1l1.2,-0.4l0.3,-0.5l0.4,0.3l0.4,-0.1l0.3,0l0.4,-0.4l0.4,-0.3l0.3,-0.4l0.4,-0.1l0.4,-0.2l0.4,0.3l0.3,-0.4l0.4,-0.4l0.4,-0.8l0.3,-1.4l0.4,-3.8l0.4,-5l0.4,-3.5l0.3,1.2l0.4,4.5l0.4,4.4l0.3,2.4l0.4,0.6l0.4,0.2l0.3,0.2l0.4,0l0.4,0.1l0.4,-0.5l0.3,-0.2l0.4,-0.1l0.4,0l0.3,0.2l0.4,0.2l1.5,-0.5l1.5,-0.7l1.5,-0.7l1.4,0.1l1.5,-0.2l1.5,-0.4l1.5,-0.3l1.5,-0.1l1.4,-0.3l1.5,-0.2l1.5,-0.4l1.5,-0.2l1.5,-0.1l1.5,-0.1l1.4,0l1.5,-0.5l1.5,0.2l1.5,-0.4l1.5,0.1l1.4,-0.5l1.5,-0.1l1.5,-0.3l1.5,0.2l1.5,0l1.5,0.1l1.4,-0.2l1.5,0l1.5,-0.3l1.5,0l1.5,-0.1l1.5,0.2l1.4,-0.2l1.5,-0.1l1.5,-0.1l1.5,-0.2l1.5,0l1.4,-0.2l1.5,-0.3l1.5,0.1l1.5,-0.2l1.5,0.2l1.5,-0.3l1.4,0.1l1.5,-0.1l1.5,0.4l1.5,-0.3l1.5,0l1.4,-0.3l1.5,0.1l1.5,-0.2l1.5,-0.5l1.5,-0.2l1.5,-0.1l1.4,0.2l1.5,0.2l1.5,0.3l1.5,0l1.5,0.1l1.4,-0.1l1.5,0l1.5,0.3l1.5,-0.2l1.5,-0.1l1.5,0l1.4,0.2l1.5,0l1.5,-0.2l1.5,0.3l1.5,0.4l1.4,0l1.5,-0.4l1.5,0.1l1.5,0.3l1.5,0.5l1.5,-0.1l1.4,0.1l1.5,-0.1l1.5,0.2l1.5,-0.2l1.5,0.1l1.5,0l1.4,0.3l1.5,0l1.5,0.1l1.5,0.1l1.5,0.3l1.4,-0.1l1.5,0.1l1.5,-0.2l1.5,0.2l1.5,0.3l1.5,0.4l1.4,0.1l1.5,0l1.5,-0.3l1.5,0l1.5,0.2l1.4,0.3l1.5,0.1l1.5,-0.1l1.5,-0.3l1.5,0l1.5,0.2l1.4,0.2l1.5,0.1l1.5,0l1.5,0.3l1.5,0.2l1.4,0.1l1.5,-0.4l1.5,-0.3l1.5,-0.2l1.5,-0.1l1.5,0.2l1.4,-0.2l1.5,0.1l1.5,0l1.5,-0.1l1.5,0.3l1.4,0.1l1.5,0.3l1.5,-0.3l1.5,-0.2l1.5,0.3l1.5,0.1l1.4,0l1.5,-0.7l1.5,-0.3l1.5,0l1.5,0.6l1.5,0.1l1.4,0.2l1.5,-0.2l1.5,0l1.5,-0.1l1.5,0l1.4,0.1l1.5,0l1.5,-0.2l1.5,-0.1l1.5,-0.1l1.5,0.4l1.4,0.1l1.5,-0.2l1.5,-0.2l1.5,-0.2l1.5,0l1.4,0.3l1.5,-0.1l1.5,-0.1l1.5,-0.3l1.5,0.1l1.5,0.4l1.4,0.2l1.5,0.3l1.5,-0.2" fill="none" stroke="#22b14c" stroke-width="2.3" stroke-linejoin="round"/>
<path d="M62.4,2037.6l1.4,-1.7l1.5,-1.9l1.5,-2.1l1.5,-1.8l1.5,-2l1.5,-1.6l1.4,-2.1l1.5,-1.6l1.5,-2.3l1.5,-2l1.5,-2l1.4,-2.1l1.5,-2l1.5,-2.5l1.5,-2.1l1.5,-2.6l1.5,-2.1l1.4,-2.2l1.5,-2.1l1.5,-2.5l1.5,-1.9l1.5,-2.1l1.4,-2l1.5,-2.2l1.5,-1.9l1.5,-2.1l1.5,-2.1l1.5,-2.1l1.4,-2.3l1.5,-2l1.5,-2l1.5,-1.4l1.5,-2.1l1.4,-2l1.5,-2.7l1.5,-2.4l1.5,-1.9l1.5,-2l1.5,-1.9l1.4,-2.1l1.5,-1.8l1.5,-1.9l1.5,-1.9l1.5,-1.7l1.5,-1.9l1.4,-2.4l1.5,-2.5l1.5,-2.5l1.5,-2.7l1.5,-2.7l1.4,-3.1l1.5,-2.8l1.5,-3.3l1.5,-2.8l1.5,-3.2l1.5,-3l1.4,-3l1.5,-3.3l1.5,-3.6l1.5,-4l1.5,-3.6l1.4,-3.3l1.5,-3l1.5,-2.6l1.5,-2.7l1.5,-2.6l1.5,-2.7l1.4,-2.3l1.5,-1.7l1.5,-1.5l1.5,-1.7l1.5,-1.2l1.4,-1.4l1.5,-1.7l1.5,-2l1.5,-1.8l1.5,-1.4l1.5,-1.3l1.4,-1.5l1.5,-1.4l1.5,-1.3l1.5,-1.5l1.5,-1.5l1.2,-1.3l0.3,-0.5l0.4,-0.5l0.4,-0.2l0.3,-0.1l0.4,0l0.4,-0.5l0.3,-0.3l0.4,-0.4l0.4,-0.2l0.4,-0.5l0.3,-0.2l0.4,0.1l0.4,0.1l0.3,1.7l0.4,1.9l0.4,-1.1l0.4,-3l0.3,-0.7l0.4,-0.5l0.4,-0.1l0.3,-0.2l0.4,-0.3l0.4,-0.3l0.3,0l0.4,0.1l0.4,0.1l0.4,-0.4l0.3,-0.1l0.4,-0.2l0.4,-0.4l0.3,-0.1l0.4,0l1.5,-0.5l1.5,-1l1.5,-0.7l1.4,-0.9l1.5,-0.7l1.5,-0.9l1.5,-0.8l1.5,-0.7l1.4,-0.8l1.5,-0.7l1.5,-1l1.5,-1.1l1.5,-0.8l1.5,-0.9l1.4,-0.1l1.5,-0.5l1.5,-0.2l1.5,-1l1.5,-0.4l1.4,-0.7l1.5,0.3l1.5,-0.4l1.5,-0.3l1.5,-0.6l1.5,0.2l1.4,-0.2l1.5,-0.4l1.5,-0.9l1.5,-0.2l1.5,0.2l1.5,0l1.4,-0.3l1.5,-0.3l1.5,-0.3l1.5,0l1.5,-0.3l1.4,-0.3l1.5,-0.1l1.5,-0.7l1.5,0l1.5,-0.4l1.5,0.4l1.4,-0.2l1.5,-0.1l1.5,-0.1l1.5,0.1l1.5,-0.3l1.4,-0.4l1.5,0l1.5,0.2l1.5,-0.2l1.5,-0.6l1.5,-0.6l1.4,0l1.5,-0.2l1.5,0l1.5,-0.3l1.5,0l1.4,-0.3l1.5,-0.3l1.5,-0.2l1.5,0.2l1.5,0l1.5,0.3l1.4,0l1.5,0l1.5,-0.1l1.5,-0.2l1.5,-0.2l1.4,-0.2l1.5,0.1l1.5,-0.1l1.5,0.1l1.5,-0.1l1.5,0.1l1.4,-0.1l1.5,0.2l1.5,0.3l1.5,0.3l1.5,-0.3l1.5,-0.3l1.4,-0.3l1.5,0.4l1.5,0.1l1.5,-0.4l1.5,0.2l1.4,-0.1l1.5,0.5l1.5,0l1.5,0.2l1.5,0.1l1.5,-0.1l1.4,-0.1l1.5,-0.2l1.5,0.1l1.5,-0.1l1.5,-0.1l1.4,-0.3l1.5,0.2l1.5,0.8l1.5,0l1.5,-0.2l1.5,-0.4l1.4,0l1.5,0.1l1.5,-0.1l1.5,0.5l1.5,-0.1l1.4,0.1l1.5,-0.1l1.5,-0.1l1.5,0l1.5,0.2l1.5,0.1l1.4,-0.1l1.5,-0.1l1.5,0.3l1.5,0.1l1.5,0l1.4,-0.1l1.5,0l1.5,0.1l1.5,-0.3l1.5,0.3l1.5,0.1l1.4,0l1.5,-0.4l1.5,0l1.5,0.4l1.5,0.6l1.5,-0.1l1.4,0l1.5,0.1l1.5,0.2l1.5,-0.2l1.5,-0.1l1.4,-0.2l1.5,0.1l1.5,0.1l1.5,0.5l1.5,0.2l1.5,-0.1l1.4,0l1.5,0l1.5,0.3l1.5,0.1l1.5,0.1l1.4,0.1l1.5,0.5l1.5,0l1.5,0l1.5,0l1.5,0.4l1.4,0.2l1.5,0.4l1.5,0.1" fill="none" stroke="#ed1c24" stroke-width="2.3" stroke-linejoin="round"/>
<path d="M62.4,2041.3l1.4,-0.1l1.5,-0.2l1.5,-0.5l1.5,-0.1l1.5,-0.3l1.5,0l1.4,-0.3l1.5,0l1.5,-0.5l1.5,-0.4l1.5,-0.5l1.4,-0.2l1.5,-0.3l1.5,-0.4l1.5,-0.5l1.5,-0.9l1.5,-0.7l1.4,-0.4l1.5,-0.5l1.5,-1.1l1.5,-1l1.5,-1.1l1.4,-0.6l1.5,-1.1l1.5,-0.7l1.5,-0.6l1.5,-0.7l1.5,-1.2l1.4,-1l1.5,-0.9l1.5,-0.3l1.5,-0.7l1.5,-0.6l1.4,-0.8l1.5,-1.1l1.5,-0.6l1.5,-0.5l1.5,-0.2l1.5,-0.4l1.4,-0.5l1.5,-0.8l1.5,-0.6l1.5,-1.1l1.5,-0.7l1.5,-0.9l1.4,-0.3l1.5,-0.5l1.5,-0.8l1.5,-1.1l1.5,-0.6l1.4,-0.7l1.5,-0.6l1.5,-0.9l1.5,-0.8l1.5,-0.5l1.5,-0.6l1.4,-0.8l1.5,-1.1l1.5,-1.2l1.5,-1.2l1.5,-1.1l1.4,-0.6l1.5,-0.5l1.5,-0.4l1.5,-0.4l1.5,-0.6l1.5,-0.3l1.4,-0.6l1.5,0l1.5,-0.9l1.5,-0.5l1.5,-0.6l1.4,-0.2l1.5,-0.3l1.5,-0.4l1.5,-0.5l1.5,-0.4l1.5,-0.2l1.4,-0.2l1.5,-0.7l1.5,-0.6l1.5,-0.5l1.5,-0.2l1.2,-0.1l0.3,-0.1l0.4,0.2l0.4,0l0.3,0.2l0.4,-0.2l0.4,-0.3l0.3,-0.4l0.4,0.3l0.4,0l0.4,0l0.3,-0.1l0.4,-0.1l0.4,0.6l0.3,1.3l0.4,1.9l0.4,1.2l0.4,-1.5l0.3,-1.9l0.4,-1.4l0.4,-0.2l0.3,-0.1l0.4,0l0.4,-0.3l0.3,0.2l0.4,-0.4l0.4,-0.1l0.4,-0.6l0.3,0.3l0.4,0.5l0.4,0.3l0.3,-0.1l0.4,-0.5l1.5,-0.1l1.5,-0.1l1.5,-0.1l1.4,0.1l1.5,-0.4l1.5,0.1l1.5,-0.3l1.5,0l1.4,-0.1l1.5,-0.1l1.5,-0.1l1.5,-0.2l1.5,-0.2l1.5,0.1l1.4,-0.1l1.5,0l1.5,0l1.5,0l1.5,-0.1l1.4,-0.1l1.5,-0.2l1.5,0.3l1.5,0l1.5,-0.1l1.5,-0.4l1.4,-0.1l1.5,0.2l1.5,0.2l1.5,-0.1l1.5,-0.4l1.5,-0.1l1.4,-0.2l1.5,0.2l1.5,-0.2l1.5,0.3l1.5,-0.2l1.4,0.3l1.5,-0.3l1.5,-0.1l1.5,-0.1l1.5,0.2l1.5,0l1.4,0.1l1.5,-0.1l1.5,0l1.5,-0.5l1.5,-0.4l1.4,-0.2l1.5,0.1l1.5,0.1l1.5,-0.1l1.5,0l1.5,-0.2l1.4,-0.2l1.5,-0.1l1.5,0.1l1.5,-0.3l1.5,0l1.4,-0.2l1.5,0.4l1.5,-0.1l1.5,-0.1l1.5,-0.1l1.5,-0.3l1.4,0l1.5,0.1l1.5,0.4l1.5,-0.2l1.5,-0.2l1.4,-0.7l1.5,0.2l1.5,0l1.5,0.1l1.5,0l1.5,-0.1l1.4,0.2l1.5,-0.1l1.5,-0.2l1.5,-0.1l1.5,-0.1l1.5,0.2l1.4,-0.1l1.5,0.6l1.5,0.2l1.5,-0.3l1.5,-0.5l1.4,-0.5l1.5,0.6l1.5,0.2l1.5,0.1l1.5,-0.3l1.5,0l1.4,0.2l1.5,0.1l1.5,0.2l1.5,-0.1l1.5,0l1.4,-0.1l1.5,0l1.5,0.1l1.5,-0.1l1.5,-0.2l1.5,-0.1l1.4,0l1.5,0.4l1.5,0.1l1.5,-0.1l1.5,-0.1l1.4,0.1l1.5,0.3l1.5,-0.4l1.5,0l1.5,0l1.5,0.1l1.4,-0.2l1.5,-0.2l1.5,0l1.5,0.2l1.5,0.1l1.4,0.2l1.5,0.2l1.5,0.1l1.5,-0.1l1.5,-0.1l1.5,0l1.4,-0.1l1.5,0.1l1.5,0.2l1.5,0.3l1.5,0.2l1.5,0.1l1.4,-0.1l1.5,0.1l1.5,-0.1l1.5,0.2l1.5,-0.3l1.4,-0.1l1.5,-0.3l1.5,0.2l1.5,0.1l1.5,0.1l1.5,0l1.4,-0.1l1.5,0.3l1.5,0.3l1.5,0.2l1.5,0l1.4,-0.1l1.5,-0.3l1.5,-0.2l1.5,-0.1l1.5,0.2l1.5,0.3l1.4,-0.3l1.5,0l1.5,0.1" fill="none" stroke="#3953a4" stroke-width="2.3" stroke-linejoin="round"/>
<line x1="62.3" y1="1795.1" x2="62.3" y2="2042.2" stroke="#000" stroke-width="2.6"/>
<line x1="61" y1="2041" x2="430.6" y2="2041" stroke="#000" stroke-width="2.6"/>
<line x1="54.8" y1="2041" x2="62.3" y2="2041" stroke="#000" stroke-width="2.2"/>
<text x="54" y="2048.9" font-size="22.3" text-anchor="end">0</text>
<line x1="54.8" y1="2000.2" x2="62.3" y2="2000.2" stroke="#000" stroke-width="2.2"/>
<text x="54" y="2008.1" font-size="22.3" text-anchor="end">20</text>
<line x1="54.8" y1="1959.4" x2="62.3" y2="1959.4" stroke="#000" stroke-width="2.2"/>
<text x="54" y="1967.3" font-size="22.3" text-anchor="end">40</text>
<line x1="54.8" y1="1918.7" x2="62.3" y2="1918.7" stroke="#000" stroke-width="2.2"/>
<text x="54" y="1926.6" font-size="22.3" text-anchor="end">60</text>
<line x1="54.8" y1="1877.9" x2="62.3" y2="1877.9" stroke="#000" stroke-width="2.2"/>
<text x="54" y="1885.8" font-size="22.3" text-anchor="end">80</text>
<line x1="54.8" y1="1837.1" x2="62.3" y2="1837.1" stroke="#000" stroke-width="2.2"/>
<text x="54" y="1845" font-size="22.3" text-anchor="end">100</text>
<line x1="54.8" y1="1796.3" x2="62.3" y2="1796.3" stroke="#000" stroke-width="2.2"/>
<text x="54" y="1804.2" font-size="22.3" text-anchor="end">120</text>
<line x1="133.2" y1="2041" x2="133.2" y2="2048.5" stroke="#000" stroke-width="2.2"/>
<text x="133.2" y="2068.7" font-size="22" text-anchor="middle">50</text>
<line x1="207.3" y1="2041" x2="207.3" y2="2048.5" stroke="#000" stroke-width="2.2"/>
<text x="207.3" y="2068.7" font-size="22" text-anchor="middle">100</text>
<line x1="281.4" y1="2041" x2="281.4" y2="2048.5" stroke="#000" stroke-width="2.2"/>
<text x="281.4" y="2068.7" font-size="22" text-anchor="middle">150</text>
<line x1="355.5" y1="2041" x2="355.5" y2="2048.5" stroke="#000" stroke-width="2.2"/>
<text x="355.5" y="2068.7" font-size="22" text-anchor="middle">200</text>
<line x1="429.6" y1="2041" x2="429.6" y2="2048.5" stroke="#000" stroke-width="2.2"/>
<text x="429.6" y="2068.7" font-size="22" text-anchor="middle">250</text>
<text x="248" y="2096" font-size="22" text-anchor="middle" textLength="73.5" lengthAdjust="spacingAndGlyphs">Time(s)</text>
<text x="270.6" y="1716.5" font-size="31" font-weight="bold" text-anchor="middle" textLength="124" lengthAdjust="spacingAndGlyphs">nCoV457</text>
<text x="272.7" y="1771.9" font-size="22" font-weight="bold" text-anchor="middle" fill="#1a1a1a">K<tspan font-size="11">D</tspan> = 12.9 nM</text>
<text x="0" y="0" font-size="22" text-anchor="middle" transform="translate(18.7,1918) rotate(-90)">Ru</text>
<line x1="438.4" y1="1896.8" x2="463.6" y2="1896.8" stroke="#000000" stroke-width="2.3"/>
<text x="478.3" y="1904.8" font-size="21.5">0.625µg/ml</text>
<line x1="438.4" y1="1925" x2="463.6" y2="1925" stroke="#f47b20" stroke-width="2.3"/>
<text x="478.3" y="1933" font-size="21.5">1.25µg/ml</text>
<line x1="438.4" y1="1953.6" x2="463.6" y2="1953.6" stroke="#7e3f98" stroke-width="2.3"/>
<text x="478.3" y="1961.6" font-size="21.5">2.5µg/ml</text>
<line x1="438.4" y1="1981.9" x2="463.6" y2="1981.9" stroke="#22b14c" stroke-width="2.3"/>
<text x="478.3" y="1989.9" font-size="21.5">5µg/ml</text>
<line x1="438.4" y1="2010.1" x2="463.6" y2="2010.1" stroke="#ed1c24" stroke-width="2.3"/>
<text x="478.3" y="2018.1" font-size="21.5">10µg/ml</text>
<line x1="438.4" y1="2038.7" x2="463.6" y2="2038.7" stroke="#3953a4" stroke-width="2.3"/>
<text x="478.3" y="2046.7" font-size="21.5">2.5µg/ml</text>
<path d="M664.5,2037.9l1.5,-0.1l1.6,0.3l1.5,0l1.5,0l1.6,0.3l1.5,-0.1l1.6,0l1.5,-0.4l1.6,0.2l1.5,0.3l1.5,0l1.6,-0.3l1.5,-0.1l1.6,0.2l1.5,0.2l1.5,-0.2l1.6,0l1.5,-0.4l1.6,-0.2l1.5,-0.3l1.6,0.6l1.5,0l1.5,-0.5l1.6,-0.5l1.5,-0.2l1.6,0.4l1.5,0l1.6,0.4l1.5,-0.6l1.5,-0.1l1.6,0l1.5,0.5l1.6,-0.1l1.5,-0.6l1.5,-0.4l1.6,-0.2l1.5,-0.5l1.6,-0.3l1.5,0.2l1.6,0.2l1.5,0.1l1.5,-0.4l1.6,-0.3l1.5,-0.3l1.6,-0.2l1.5,-0.1l1.5,0l1.6,-0.4l1.5,-0.2l1.6,-0.3l1.5,-0.1l1.6,-0.3l1.5,-0.1l1.5,-0.2l1.6,0.1l1.5,-0.2l1.6,0.1l1.5,-0.7l1.6,0l1.5,-0.4l1.5,0.4l1.6,-0.2l1.5,-0.1l1.6,-0.1l1.5,-0.1l1.5,0.2l1.6,0l1.5,0.1l1.6,-0.6l1.5,0l1.6,-0.1l1.5,0.2l1.5,-0.5l1.6,0.1l1.5,0.2l1.6,0.2l1.5,-0.4l1.6,-0.1l1.5,0.3l1.5,0.2l1.6,-0.5l1.5,-0.3l1.6,-0.4l1.5,0.1l0.3,0l0.4,0l0.4,0l0.4,-0.1l0.4,0.3l0.3,0l0.4,0l0.4,-0.2l0.4,0l0.4,0l0.4,-0.2l0.4,-0.1l0.3,0.3l0.4,1.1l0.4,3.1l0.4,3.5l0.4,-1.4l0.4,-3.7l0.4,-2l0.3,-0.4l0.4,0l0.4,-0.3l0.4,-0.4l0.4,-0.4l0.4,0l0.3,0.2l0.4,0l0.4,0.3l0.4,-0.1l0.4,0.4l0.4,-0.3l0.4,-0.2l0.3,-0.2l1.6,0.3l1.5,0.1l1.6,-0.1l1.5,-0.2l1.6,0l1.5,-0.1l1.5,0.4l1.6,0l1.5,0.4l1.6,-0.6l1.5,-0.3l1.6,-0.4l1.5,0.1l1.5,-0.1l1.6,-0.1l1.5,0.5l1.6,0.3l1.5,0.6l1.5,-0.2l1.6,0.2l1.5,-0.4l1.6,-0.2l1.5,-0.1l1.6,0.1l1.5,0l1.5,-0.1l1.6,-0.1l1.5,0.5l1.6,0l1.5,-0.1l1.5,-0.5l1.6,0.2l1.5,0.1l1.6,0l1.5,-0.1l1.6,-0.1l1.5,0.2l1.5,-0.2l1.6,0.2l1.5,-0.6l1.6,0l1.5,0.1l1.6,0.3l1.5,0l1.5,-0.2l1.6,0.5l1.5,-0.1l1.6,0l1.5,-0.1l1.5,-0.2l1.6,0l1.5,-0.2l1.6,0.5l1.5,0.2l1.6,0.1l1.5,0l1.5,-0.4l1.6,-0.2l1.5,-0.2l1.6,0.4l1.5,0.2l1.6,0l1.5,-0.3l1.5,-0.1l1.6,-0.1l1.5,0l1.6,-0.1l1.5,-0.4l1.5,0.1l1.6,0.1l1.5,0.3l1.6,0.1l1.5,-0.1l1.6,-0.1l1.5,-0.2l1.5,0.1l1.6,0.1l1.5,0.2l1.6,-0.3l1.5,-0.1l1.6,-0.3l1.5,0.2l1.5,-0.1l1.6,0.1l1.5,0l1.6,0.3l1.5,-0.1l1.5,0.1l1.6,-0.5l1.5,0.2l1.6,-0.1l1.5,0.3l1.6,0l1.5,-0.1l1.5,0.1l1.6,0l1.5,0.2l1.6,0.1l1.5,-0.3l1.5,-0.1l1.6,-0.3l1.5,0.4l1.6,0.1l1.5,0.3l1.6,-0.3l1.5,-0.2l1.5,-0.1l1.6,0l1.5,0l1.6,-0.1l1.5,-0.4l1.6,0.5l1.5,0.2l1.5,0.3l1.6,-0.1l1.5,0l1.6,0.1l1.5,0.3l1.5,0.1l1.6,-0.1l1.5,-0.7l1.6,-0.1l1.5,0.2l1.6,0.6l1.5,0l1.5,-0.2l1.6,-0.3l1.5,0.1l1.6,0.1l1.5,0.4l1.5,-0.2l1.6,0.1l1.5,0.1l1.6,-0.2l1.5,-0.4l1.6,-0.5l1.5,0.2l1.5,0.2l1.6,-0.1l1.5,0.2l1.6,-0.5l1.5,0.2l1.6,0.1l1.5,0.2l1.5,-0.3l1.6,-0.3l1.5,0l1.6,0.3l1.5,0.1l1.5,0.6l1.6,-0.2l1.5,0l1.6,-0.6l1.5,0.5l1.6,0l1.5,0.1" fill="none" stroke="#000000" stroke-width="2.3" stroke-linejoin="round"/>
<path d="M664.5,2038.3l1.5,0l1.6,0.4l1.5,-0.1l1.5,-0.3l1.6,-0.2l1.5,-0.1l1.6,0.3l1.5,-0.5l1.6,0l1.5,-0.3l1.5,-0.2l1.6,-0.2l1.5,0.1l1.6,0.3l1.5,-0.2l1.5,-0.7l1.6,-0.4l1.5,-0.2l1.6,0l1.5,-0.4l1.6,-0.1l1.5,-0.4l1.5,-0.2l1.6,-0.5l1.5,0.4l1.6,-0.3l1.5,-0.5l1.6,-0.7l1.5,-0.7l1.5,-0.2l1.6,-0.2l1.5,-0.2l1.6,-0.4l1.5,-0.8l1.5,-0.3l1.6,-0.6l1.5,-0.2l1.6,-0.5l1.5,0l1.6,-0.4l1.5,-0.5l1.5,-0.5l1.6,-0.5l1.5,-0.4l1.6,-0.6l1.5,-0.6l1.5,-0.6l1.6,-0.6l1.5,-0.3l1.6,-0.3l1.5,0l1.6,-0.5l1.5,-0.4l1.5,-0.5l1.6,-0.9l1.5,-0.3l1.6,-0.9l1.5,-0.3l1.6,-0.7l1.5,-0.9l1.5,-0.3l1.6,-0.3l1.5,-0.2l1.6,-0.2l1.5,-0.2l1.5,0.2l1.6,-0.3l1.5,-0.5l1.6,-0.5l1.5,-0.1l1.6,-0.3l1.5,-0.5l1.5,-0.4l1.6,-0.1l1.5,0l1.6,-0.5l1.5,-0.1l1.6,0.1l1.5,0.2l1.5,-0.5l1.6,-0.5l1.5,0l1.6,0.4l1.5,0.2l0.3,-0.2l0.4,-0.5l0.4,-0.3l0.4,-0.6l0.4,-0.1l0.3,0l0.4,0.1l0.4,0.2l0.4,0.2l0.4,0.2l0.4,0.3l0.4,2.6l0.3,2l0.4,-2.2l0.4,-3l0.4,-1.4l0.4,-3.7l0.4,-7.3l0.4,-4.4l0.3,4.3l0.4,7l0.4,3.7l0.4,0.5l0.4,0.6l0.4,0.5l0.3,0l0.4,-0.3l0.4,-0.2l0.4,0.3l0.4,0.1l0.4,-0.1l0.4,0l0.3,-0.1l1.6,-0.2l1.5,0.1l1.6,-0.4l1.5,0.5l1.6,-0.7l1.5,0.4l1.5,-0.5l1.6,0.3l1.5,-0.3l1.6,0l1.5,0.2l1.6,0.3l1.5,0l1.5,-0.2l1.6,-0.2l1.5,0.3l1.6,0.3l1.5,-0.2l1.5,-0.3l1.6,-0.3l1.5,-0.1l1.6,0l1.5,0.5l1.6,-0.3l1.5,0.1l1.5,-0.5l1.6,0.4l1.5,0.1l1.6,0.1l1.5,-0.3l1.5,-0.3l1.6,-0.1l1.5,-0.1l1.6,0.3l1.5,0l1.6,0.4l1.5,-0.3l1.5,0.1l1.6,-0.3l1.5,0l1.6,0.3l1.5,-0.2l1.6,0.2l1.5,-0.3l1.5,0.7l1.6,0.1l1.5,0.4l1.6,-0.4l1.5,0l1.5,-0.8l1.6,0.1l1.5,-0.2l1.6,0.1l1.5,-0.4l1.6,0.2l1.5,0l1.5,0.7l1.6,0.1l1.5,0.2l1.6,-0.3l1.5,0l1.6,0l1.5,-0.1l1.5,-0.2l1.6,0l1.5,0.3l1.6,-0.4l1.5,-0.3l1.5,-0.2l1.6,0.2l1.5,0.1l1.6,-0.1l1.5,0.1l1.6,0.5l1.5,0.2l1.5,-0.5l1.6,-0.2l1.5,-0.6l1.6,0.4l1.5,-0.1l1.6,0.3l1.5,0l1.5,-0.1l1.6,0.4l1.5,0.2l1.6,0.2l1.5,-0.3l1.5,-0.1l1.6,0.2l1.5,0l1.6,-0.1l1.5,-0.3l1.6,0.2l1.5,0.3l1.5,-0.3l1.6,0l1.5,-0.5l1.6,0l1.5,-0.3l1.5,0.1l1.6,0.2l1.5,0.1l1.6,-0.1l1.5,-0.1l1.6,0.1l1.5,0.1l1.5,0l1.6,-0.2l1.5,0l1.6,-0.1l1.5,0l1.6,-0.1l1.5,0.2l1.5,0.2l1.6,0.3l1.5,0l1.6,-0.2l1.5,-0.4l1.5,0l1.6,0.2l1.5,0.3l1.6,-0.3l1.5,-0.1l1.6,0l1.5,0.1l1.5,0.2l1.6,-0.1l1.5,0.2l1.6,-0.3l1.5,0.3l1.5,-0.2l1.6,-0.3l1.5,0l1.6,0.1l1.5,0.2l1.6,-0.6l1.5,0.1l1.5,0.2l1.6,0.4l1.5,-0.4l1.6,-0.2l1.5,0l1.6,0l1.5,0.4l1.5,0.4l1.6,0.1l1.5,-0.5l1.6,-0.1l1.5,0.1l1.5,0.1l1.6,-0.3l1.5,0.2l1.6,0.1l1.5,0.2l1.6,-0.2l1.5,0" fill="none" stroke="#f47b20" stroke-width="2.3" stroke-linejoin="round"/>
<path d="M664.5,2033.9l1.5,1.9l1.1,1.6l0.5,0.2l1.5,-0.3l1.5,-0.5l1.6,-0.4l1.5,0l1.6,-0.3l1.5,0.1l1.6,-0.5l1.5,0l1.5,-0.7l1.6,0l1.5,-0.2l1.6,-0.4l1.5,-0.7l1.5,-0.9l1.6,-0.6l1.5,-0.6l1.6,-0.4l1.5,-0.7l1.6,-0.7l1.5,-0.9l1.5,-1l1.6,-0.5l1.5,-0.6l1.6,-0.5l1.5,-0.7l1.6,-0.5l1.5,-0.4l1.5,-1l1.6,-0.8l1.5,-0.8l1.6,-0.4l1.5,-0.8l1.5,-0.4l1.6,-0.7l1.5,-0.6l1.6,-0.9l1.5,-1.1l1.6,-0.4l1.5,-0.8l1.5,-0.7l1.6,-1.3l1.5,-0.6l1.6,-0.3l1.5,-0.5l1.5,-0.8l1.6,-1l1.5,-1l1.6,-0.9l1.5,-0.6l1.6,-0.7l1.5,-0.6l1.5,-0.8l1.6,-1.1l1.5,-1.2l1.6,-1.6l1.5,-1l1.6,-0.8l1.5,-0.6l1.5,-0.7l1.6,-0.8l1.5,-0.7l1.6,-1l1.5,-0.7l1.5,-0.5l1.6,-0.3l1.5,-0.6l1.6,-0.7l1.5,-1l1.6,-0.6l1.5,-0.8l1.5,-0.2l1.6,-0.8l1.5,-0.3l1.6,-0.4l1.5,-0.1l1.6,-0.4l1.5,-0.8l1.5,-0.8l1.6,-0.2l1.5,-0.1l1.6,-0.1l1.5,-0.2l0.3,0.1l0.4,0.3l0.4,-0.2l0.4,0.2l0.4,-0.3l0.3,0l0.4,-0.4l0.4,0l0.4,-0.5l0.4,-0.1l0.4,-0.2l0.4,0l0.3,-0.3l0.4,-0.1l0.4,0.1l0.4,0.3l0.4,0.2l0.4,0l0.4,-0.3l0.3,-0.1l0.4,-0.3l0.4,0l0.4,-0.4l0.4,0l0.4,0.1l0.3,0.1l0.4,0.7l0.4,-0.3l0.4,0.1l0.4,-0.6l0.4,0.5l0.4,-0.3l0.3,0.1l1.6,-0.3l1.5,0.3l1.6,0l1.5,0.1l1.6,0.1l1.5,0.1l1.5,-0.2l1.6,0.1l1.5,-0.4l1.6,0.4l1.5,-0.2l1.6,0.1l1.5,-0.5l1.5,0.3l1.6,-0.2l1.5,0.2l1.6,-0.2l1.5,0.4l1.5,0.1l1.6,0l1.5,0.1l1.6,0.3l1.5,0.2l1.6,-0.4l1.5,-0.2l1.5,-0.2l1.6,0.2l1.5,0l1.6,0.1l1.5,0.2l1.5,-0.2l1.6,0l1.5,-0.1l1.6,0.5l1.5,-0.1l1.6,0.2l1.5,-0.1l1.5,-0.2l1.6,0.1l1.5,0l1.6,0l1.5,-0.3l1.6,0l1.5,0.1l1.5,0.1l1.6,0.2l1.5,0.4l1.6,0.4l1.5,-0.3l1.5,-0.4l1.6,-0.1l1.5,0.2l1.6,0.1l1.5,-0.2l1.6,-0.1l1.5,-0.4l1.5,0.1l1.6,0l1.5,0.5l1.6,0l1.5,0.1l1.6,0l1.5,-0.1l1.5,-0.2l1.6,0l1.5,0l1.6,-0.2l1.5,0.2l1.5,-0.2l1.6,0l1.5,-0.1l1.6,-0.2l1.5,0.1l1.6,-0.1l1.5,0.5l1.5,0l1.6,0.1l1.5,-0.2l1.6,0l1.5,0.1l1.6,-0.2l1.5,0.3l1.5,-0.2l1.6,0.3l1.5,0l1.6,0.3l1.5,-0.1l1.5,-0.1l1.6,-0.1l1.5,-0.2l1.6,-0.1l1.5,0l1.6,0.3l1.5,0.3l1.5,0l1.6,-0.5l1.5,-0.3l1.6,-0.1l1.5,0.2l1.5,0.1l1.6,0.4l1.5,-0.3l1.6,0.1l1.5,-0.4l1.6,0.3l1.5,0.1l1.5,0.2l1.6,-0.1l1.5,0.2l1.6,-0.3l1.5,0l1.6,-0.6l1.5,0.2l1.5,0.1l1.6,0.4l1.5,-0.1l1.6,0.1l1.5,0.2l1.5,0.2l1.6,0.1l1.5,-0.2l1.6,0l1.5,0.1l1.6,0l1.5,-0.3l1.5,-0.2l1.6,-0.1l1.5,-0.1l1.6,-0.1l1.5,0.2l1.5,0.2l1.6,0.5l1.5,0l1.6,-0.1l1.5,-0.2l1.6,-0.3l1.5,-0.2l1.5,-0.1l1.6,0.1l1.5,0.5l1.6,0.1l1.5,0.2l1.6,-0.2l1.5,-0.2l1.5,0.1l1.6,-0.3l1.5,-0.1l1.6,-0.2l1.5,0.2l1.5,0l1.6,0.1l1.5,0.2l1.6,0.3l1.5,-0.3l1.6,0.1l1.5,-0.3" fill="none" stroke="#7e3f98" stroke-width="2.3" stroke-linejoin="round"/>
<path d="M664.5,2038.7l1.5,-0.5l1.6,-1.6l1.5,-1.2l1.5,-1.6l1.6,-0.9l1.5,-1.2l1.6,-0.9l1.5,-0.8l1.6,-1l1.5,-1l1.5,-1.3l1.6,-1.2l1.5,-1.6l1.6,-1.5l1.5,-1.4l1.5,-0.9l1.6,-1.4l1.5,-1.7l1.6,-1.7l1.5,-1.2l1.6,-1.4l1.5,-1.8l1.5,-1.4l1.6,-1.6l1.5,-1.1l1.6,-1.9l1.5,-1.8l1.6,-1.9l1.5,-1.7l1.5,-1.2l1.6,-1.7l1.5,-1.9l1.6,-2l1.5,-1.7l1.5,-1.2l1.6,-1.5l1.5,-2.2l1.6,-1.8l1.5,-1.9l1.6,-1.3l1.5,-1.5l1.5,-1.8l1.6,-1.7l1.5,-1.8l1.6,-1.3l1.5,-1.6l1.5,-1.6l1.6,-1.5l1.5,-2l1.6,-1.8l1.5,-2.2l1.6,-1.4l1.5,-1.6l1.5,-1.5l1.6,-1.9l1.5,-1.7l1.6,-1.7l1.5,-1.2l1.6,-1.2l1.5,-1.3l1.5,-1.4l1.6,-1.5l1.5,-1.2l1.6,-1.7l1.5,-1.4l1.5,-1l1.6,-0.6l1.5,-0.8l1.6,-1.5l1.5,-1.4l1.6,-1.1l1.5,-1l1.5,-0.8l1.6,-1.3l1.5,-1.1l1.6,-1l1.5,-0.9l1.6,-0.7l1.5,-0.9l1.5,-0.8l1.6,-1.1l1.5,-1l1.6,-1l1.5,-0.7l0.3,-0.1l0.4,0l0.4,-0.1l0.4,-0.3l0.4,-0.3l0.3,-0.4l0.4,0.3l0.4,0.2l0.4,0.1l0.4,-0.5l0.4,-1.8l0.4,-8.6l0.3,-18.1l0.4,-7.8l0.4,15.1l0.4,15.3l0.4,5.2l0.4,0.2l0.4,-2.2l0.3,-6.1l0.4,-3.7l0.4,4l0.4,6l0.4,1.8l0.4,0.6l0.3,0l0.4,-0.2l0.4,-0.5l0.4,0l0.4,0.4l0.4,-0.1l0.4,-0.3l0.3,0.1l1.6,0.2l1.5,0l1.6,0l1.5,-0.3l1.6,0.1l1.5,0.1l1.5,0l1.6,0.1l1.5,-0.1l1.6,0.4l1.5,0l1.6,0.2l1.5,0l1.5,0l1.6,-0.3l1.5,-0.4l1.6,-0.1l1.5,0.3l1.5,0.1l1.6,0.2l1.5,-0.3l1.6,0.5l1.5,-0.1l1.6,0.5l1.5,-0.4l1.5,0.4l1.6,-0.3l1.5,0.3l1.6,0.3l1.5,0.4l1.5,0l1.6,-0.3l1.5,0.3l1.6,0.2l1.5,0.1l1.6,-0.3l1.5,-0.2l1.5,0l1.6,0.3l1.5,0l1.6,-0.1l1.5,-0.4l1.6,0.2l1.5,-0.1l1.5,0.3l1.6,-0.1l1.5,0.1l1.6,-0.2l1.5,0.2l1.5,0.1l1.6,0.2l1.5,-0.1l1.6,-0.1l1.5,-0.6l1.6,0l1.5,0l1.5,0.5l1.6,-0.2l1.5,0.1l1.6,-0.1l1.5,0.1l1.6,-0.3l1.5,0l1.5,0.3l1.6,0.4l1.5,0.3l1.6,0.1l1.5,0.2l1.5,0.1l1.6,-0.2l1.5,-0.2l1.6,0.3l1.5,-0.2l1.6,-0.1l1.5,-0.4l1.5,0.2l1.6,0.2l1.5,0.1l1.6,-0.2l1.5,-0.1l1.6,-0.4l1.5,0.3l1.5,-0.1l1.6,0.4l1.5,0l1.6,0.5l1.5,-0.2l1.5,0l1.6,-0.2l1.5,-0.2l1.6,0l1.5,0.1l1.6,0.1l1.5,0l1.5,0.2l1.6,0.1l1.5,-0.1l1.6,-0.2l1.5,0l1.5,0.2l1.6,0.1l1.5,-0.1l1.6,0l1.5,0l1.6,0.4l1.5,-0.1l1.5,-0.2l1.6,-0.2l1.5,0.2l1.6,0.3l1.5,0l1.6,-0.3l1.5,0.3l1.5,0.2l1.6,0.2l1.5,0.1l1.6,-0.4l1.5,0.4l1.5,-0.1l1.6,0.4l1.5,-0.2l1.6,-0.3l1.5,-0.3l1.6,-0.3l1.5,0.1l1.5,0.4l1.6,0.2l1.5,0.4l1.6,-0.2l1.5,0.1l1.5,-0.2l1.6,-0.2l1.5,0.1l1.6,-0.4l1.5,0l1.6,-0.3l1.5,0.2l1.5,-0.1l1.6,0.2l1.5,-0.2l1.6,0.4l1.5,-0.1l1.6,0.4l1.5,-0.2l1.5,0.1l1.6,0.1l1.5,-0.2l1.6,-0.1l1.5,-0.1l1.5,0l1.6,0.4l1.5,0.3l1.6,0.2l1.5,-0.1l1.6,-0.7l1.5,-0.1" fill="none" stroke="#22b14c" stroke-width="2.3" stroke-linejoin="round"/>
<path d="M664.5,2028.9l1.5,2.1l1.1,1.2l0.5,-0.4l1.5,-1.9l1.5,-1.5l1.6,-1.9l1.5,-1.8l1.6,-2l1.5,-2.6l1.6,-2.5l1.5,-2.5l1.5,-2.2l1.6,-2.3l1.5,-2.6l1.6,-2.8l1.5,-3l1.5,-3.1l1.6,-2.8l1.5,-3l1.6,-3.2l1.5,-3.3l1.6,-3.1l1.5,-3l1.5,-3.5l1.6,-3.4l1.5,-3.1l1.6,-3l1.5,-3.1l1.6,-3.1l1.5,-3.2l1.5,-2.7l1.6,-2.6l1.5,-2.3l1.6,-2.7l1.5,-2.8l1.5,-2.9l1.6,-2.8l1.5,-3l1.6,-2.7l1.5,-2.9l1.6,-2.2l1.5,-2.6l1.5,-2.6l1.6,-2.9l1.5,-3l1.6,-2.8l1.5,-2.8l1.5,-3.1l1.6,-3.3l1.5,-3.1l1.6,-3l1.5,-3.3l1.6,-3.9l1.5,-3.6l1.5,-3.3l1.6,-3.6l1.5,-3.5l1.6,-3.9l1.5,-3.3l1.6,-3.5l1.5,-3.1l1.5,-3.1l1.6,-2.6l1.5,-2.7l1.6,-2.3l1.5,-2.1l1.5,-1.9l1.6,-1.9l1.5,-2.2l1.6,-2.1l1.5,-1.6l1.6,-1.8l1.5,-1.5l1.5,-1.7l1.6,-1.7l1.5,-1.6l1.6,-1.7l1.5,-1.8l1.6,-2.2l1.5,-2.3l1.5,-2.5l1.6,-2.3l1.5,-2.3l1.6,-2l1.5,-1.2l0.3,-0.4l0.4,0.6l0.4,-0.3l0.4,0l0.4,-0.6l0.3,0.4l0.4,-0.3l0.4,-0.2l0.4,-0.6l0.4,0.8l0.4,1.4l0.4,6.1l0.3,13.3l0.4,11.3l0.4,-5.3l0.4,-15.2l0.4,-8.9l0.4,-2.5l0.4,-0.1l0.3,-0.3l0.4,0.1l0.4,-0.1l0.4,-0.1l0.4,0.1l0.4,0l0.3,0.3l0.4,-0.3l0.4,-0.2l0.4,-0.3l0.4,-0.4l0.4,-0.2l0.4,-0.4l0.3,-0.1l1.6,-1l1.5,-1.1l1.6,-0.7l1.5,-0.6l1.6,-0.1l1.5,-0.3l1.5,-0.1l1.6,0l1.5,-0.1l1.6,-0.2l1.5,-0.5l1.6,0l1.5,0.1l1.5,-0.1l1.6,-0.2l1.5,-0.3l1.6,-0.2l1.5,-0.3l1.5,-0.4l1.6,0l1.5,-0.3l1.6,0l1.5,-0.5l1.6,0.2l1.5,0.1l1.5,0.1l1.6,0l1.5,0l1.6,0l1.5,-0.2l1.5,0.1l1.6,-0.1l1.5,0l1.6,-0.3l1.5,-0.1l1.6,-0.1l1.5,-0.3l1.5,-0.2l1.6,-0.1l1.5,0.1l1.6,-0.2l1.5,-0.3l1.6,-0.3l1.5,0.1l1.5,0l1.6,-0.3l1.5,-0.1l1.6,-0.3l1.5,0.1l1.5,-0.1l1.6,0.5l1.5,0l1.6,0l1.5,-0.2l1.6,0.4l1.5,-0.3l1.5,-0.2l1.6,-0.3l1.5,0.2l1.6,-0.1l1.5,0l1.6,0l1.5,0.1l1.5,0.4l1.6,0l1.5,-0.1l1.6,-0.5l1.5,-0.1l1.5,0.3l1.6,0.5l1.5,0l1.6,-0.3l1.5,-0.2l1.6,0.3l1.5,0l1.5,-0.1l1.6,-0.1l1.5,-0.3l1.6,-0.4l1.5,0.1l1.6,0.3l1.5,0.4l1.5,0l1.6,0.1l1.5,0l1.6,0.2l1.5,-0.3l1.5,-0.2l1.6,-0.1l1.5,0.4l1.6,-0.2l1.5,-0.4l1.6,0l1.5,0.2l1.5,0.1l1.6,0l1.5,0.2l1.6,0.4l1.5,-0.1l1.5,-0.1l1.6,0.1l1.5,0.1l1.6,-0.3l1.5,-0.3l1.6,0l1.5,-0.2l1.5,0.3l1.6,0l1.5,0.5l1.6,-0.2l1.5,0l1.6,0l1.5,0.3l1.5,-0.3l1.6,-0.4l1.5,-0.1l1.6,0.2l1.5,0.4l1.5,0.1l1.6,0.4l1.5,-0.1l1.6,-0.1l1.5,-0.3l1.6,-0.2l1.5,-0.3l1.5,-0.3l1.6,0.3l1.5,0.2l1.6,0.3l1.5,0.1l1.5,0.1l1.6,0l1.5,0.1l1.6,-0.1l1.5,-0.2l1.6,0.1l1.5,0.5l1.5,0.2l1.6,0l1.5,-0.4l1.6,0.2l1.5,-0.2l1.6,-0.2l1.5,-0.2l1.5,0.2l1.6,0.4l1.5,0.6l1.6,0.3l1.5,0l1.5,-0.4l1.6,-0.2l1.5,0l1.6,0.3l1.5,0.2l1.6,0.2l1.5,-0.2" fill="none" stroke="#ed1c24" stroke-width="2.3" stroke-linejoin="round"/>
<path d="M664.5,2034.3l1.5,1.9l1.1,1.7l0.5,-0.5l1.5,0l1.5,-0.4l1.6,-0.3l1.5,-0.1l1.6,0.1l1.5,0l1.6,-0.2l1.5,-0.6l1.5,-0.3l1.6,-0.5l1.5,-0.3l1.6,-0.4l1.5,-0.6l1.5,-0.1l1.6,-0.7l1.5,-0.5l1.6,-0.7l1.5,-0.5l1.6,-0.7l1.5,-0.8l1.5,-0.4l1.6,-0.3l1.5,-0.9l1.6,-0.9l1.5,-1.1l1.6,-0.7l1.5,-0.8l1.5,-0.5l1.6,-0.3l1.5,-0.6l1.6,-0.5l1.5,-0.9l1.5,-0.5l1.6,-0.8l1.5,-0.6l1.6,-1l1.5,-0.3l1.6,-0.4l1.5,-0.5l1.5,-1.1l1.6,-1l1.5,-1l1.6,-1.1l1.5,-0.9l1.5,-0.8l1.6,-0.4l1.5,-0.8l1.6,-0.9l1.5,-1.1l1.6,-0.7l1.5,-0.9l1.5,-1.1l1.6,-0.7l1.5,-0.5l1.6,-0.8l1.5,-1.1l1.6,-1.2l1.5,-0.7l1.5,-1.1l1.6,-0.8l1.5,-0.6l1.6,-0.2l1.5,-0.9l1.5,-0.8l1.6,-0.7l1.5,-0.7l1.6,-0.7l1.5,-0.7l1.6,-0.6l1.5,-0.5l1.5,-0.6l1.6,-0.4l1.5,-0.8l1.6,-0.3l1.5,-0.6l1.6,0l1.5,-0.5l1.5,-0.2l1.6,-1l1.5,-0.4l1.6,-0.6l1.5,0.3l0.3,0.2l0.4,0.1l0.4,-0.1l0.4,-0.4l0.4,0l0.3,-0.3l0.4,0.2l0.4,0l0.4,-0.1l0.4,0.2l0.4,0.3l0.4,2.1l0.3,6.3l0.4,10l0.4,5.7l0.4,-5.3l0.4,-10.1l0.4,-6.3l0.4,-1.8l0.3,-0.3l0.4,0l0.4,-0.4l0.4,0l0.4,-0.2l0.4,0.2l0.3,0.2l0.4,0.2l0.4,-0.1l0.4,-0.2l0.4,0.1l0.4,0.2l0.4,-0.1l0.3,-0.2l1.6,-0.4l1.5,0.4l1.6,0.1l1.5,0.2l1.6,-0.2l1.5,0l1.5,0l1.6,0.3l1.5,0.1l1.6,-0.2l1.5,-0.1l1.6,0.1l1.5,-0.1l1.5,-0.2l1.6,0l1.5,0.2l1.6,0l1.5,-0.1l1.5,-0.1l1.6,0.3l1.5,0l1.6,0.1l1.5,-0.2l1.6,-0.3l1.5,-0.2l1.5,-0.1l1.6,0.1l1.5,0.3l1.6,0l1.5,0.1l1.5,0l1.6,0.2l1.5,-0.1l1.6,0l1.5,-0.5l1.6,-0.1l1.5,0.1l1.5,0.2l1.6,0.1l1.5,-0.2l1.6,0l1.5,-0.6l1.6,0.4l1.5,0.1l1.5,0.5l1.6,-0.2l1.5,-0.1l1.6,0.1l1.5,0.2l1.5,0.1l1.6,-0.4l1.5,0.1l1.6,0.3l1.5,0l1.6,-0.3l1.5,-0.5l1.5,0.4l1.6,0.2l1.5,0.1l1.6,-0.2l1.5,0l1.6,0l1.5,-0.1l1.5,0.1l1.6,0.1l1.5,0.2l1.6,0l1.5,-0.1l1.5,0l1.6,0l1.5,-0.2l1.6,-0.1l1.5,0l1.6,0l1.5,0.2l1.5,-0.1l1.6,0.2l1.5,0.1l1.6,0l1.5,0l1.6,0.1l1.5,0.1l1.5,-0.1l1.6,-0.2l1.5,-0.1l1.6,-0.4l1.5,0l1.5,0l1.6,0.4l1.5,0.2l1.6,-0.1l1.5,0l1.6,-0.2l1.5,0.2l1.5,-0.1l1.6,0.2l1.5,0l1.6,0l1.5,0l1.5,-0.1l1.6,-0.3l1.5,0l1.6,0l1.5,0.4l1.6,0.3l1.5,-0.1l1.5,-0.1l1.6,0.1l1.5,0.3l1.6,0.1l1.5,-0.2l1.6,-0.1l1.5,0l1.5,-0.1l1.6,-0.2l1.5,-0.1l1.6,0.4l1.5,0.2l1.5,0l1.6,-0.4l1.5,0l1.6,0l1.5,0.3l1.6,0.4l1.5,0l1.5,-0.2l1.6,-0.4l1.5,0.1l1.6,0l1.5,-0.2l1.5,0.2l1.6,0l1.5,0.4l1.6,-0.2l1.5,-0.1l1.6,-0.3l1.5,0l1.5,0.4l1.6,0l1.5,-0.1l1.6,-0.3l1.5,-0.3l1.6,0l1.5,0.4l1.5,0.4l1.6,0.1l1.5,-0.3l1.6,0.1l1.5,-0.1l1.5,0l1.6,0l1.5,0.1l1.6,0.2l1.5,-0.1l1.6,0.1l1.5,-0.1" fill="none" stroke="#3953a4" stroke-width="2.3" stroke-linejoin="round"/>
<line x1="664.5" y1="1781.6" x2="664.5" y2="2039.6" stroke="#000" stroke-width="2.6"/>
<line x1="663.2" y1="2038.4" x2="1048.2" y2="2038.4" stroke="#000" stroke-width="2.6"/>
<line x1="657" y1="2038.4" x2="664.5" y2="2038.4" stroke="#000" stroke-width="2.2"/>
<text x="656.2" y="2046.3" font-size="22.3" text-anchor="end">0</text>
<line x1="657" y1="1953.2" x2="664.5" y2="1953.2" stroke="#000" stroke-width="2.2"/>
<text x="656.2" y="1961.1" font-size="22.3" text-anchor="end">20</text>
<line x1="657" y1="1868" x2="664.5" y2="1868" stroke="#000" stroke-width="2.2"/>
<text x="656.2" y="1875.9" font-size="22.3" text-anchor="end">40</text>
<line x1="657" y1="1782.8" x2="664.5" y2="1782.8" stroke="#000" stroke-width="2.2"/>
<text x="656.2" y="1790.7" font-size="22.3" text-anchor="end">60</text>
<line x1="738.8" y1="2038.4" x2="738.8" y2="2045.9" stroke="#000" stroke-width="2.2"/>
<text x="738.8" y="2067" font-size="22" text-anchor="middle">50</text>
<line x1="815.9" y1="2038.4" x2="815.9" y2="2045.9" stroke="#000" stroke-width="2.2"/>
<text x="815.9" y="2067" font-size="22" text-anchor="middle">100</text>
<line x1="893" y1="2038.4" x2="893" y2="2045.9" stroke="#000" stroke-width="2.2"/>
<text x="893" y="2067" font-size="22" text-anchor="middle">150</text>
<line x1="970.1" y1="2038.4" x2="970.1" y2="2045.9" stroke="#000" stroke-width="2.2"/>
<text x="970.1" y="2067" font-size="22" text-anchor="middle">200</text>
<line x1="1047.2" y1="2038.4" x2="1047.2" y2="2045.9" stroke="#000" stroke-width="2.2"/>
<text x="1047.2" y="2067" font-size="22" text-anchor="middle">250</text>
<text x="856.2" y="2096" font-size="22" text-anchor="middle" textLength="73.5" lengthAdjust="spacingAndGlyphs">Time(s)</text>
<text x="886.5" y="1716.5" font-size="31" font-weight="bold" text-anchor="middle" textLength="124" lengthAdjust="spacingAndGlyphs">nCoV400</text>
<text x="882.6" y="1771.9" font-size="22" font-weight="bold" text-anchor="middle" fill="#1a1a1a">K<tspan font-size="11">D</tspan> = 1.19 nM</text>
<line x1="1058.9" y1="1887.6" x2="1086.1" y2="1887.6" stroke="#000000" stroke-width="2.3"/>
<text x="1101.1" y="1895.6" font-size="21.5">0.25µg/ml</text>
<line x1="1058.9" y1="1917.2" x2="1086.1" y2="1917.2" stroke="#f47b20" stroke-width="2.3"/>
<text x="1101.1" y="1925.2" font-size="21.5">0.5µg/ml</text>
<line x1="1058.9" y1="1947.2" x2="1086.1" y2="1947.2" stroke="#7e3f98" stroke-width="2.3"/>
<text x="1101.1" y="1955.2" font-size="21.5">1µg/ml</text>
<line x1="1058.9" y1="1976.1" x2="1086.1" y2="1976.1" stroke="#22b14c" stroke-width="2.3"/>
<text x="1101.1" y="1984.1" font-size="21.5">2µg/ml</text>
<line x1="1058.9" y1="2005.7" x2="1086.1" y2="2005.7" stroke="#ed1c24" stroke-width="2.3"/>
<text x="1101.1" y="2013.7" font-size="21.5">4µg/ml</text>
<line x1="1058.9" y1="2034.7" x2="1086.1" y2="2034.7" stroke="#3953a4" stroke-width="2.3"/>
<text x="1101.1" y="2042.7" font-size="21.5">1µg/ml</text>
<path d="M1279.5,2038.6l1.5,-0.1l1.6,0.2l1.5,-0.1l1.5,0.1l1.6,-0.6l1.5,-0.2l1.6,0l1.5,0.3l1.6,0l1.5,0l1.5,-0.6l1.6,0.4l1.5,-0.2l1.6,0.7l1.5,-0.7l1.5,0.1l1.6,-0.8l1.5,0.2l1.6,-0.4l1.5,0.1l1.6,-0.3l1.5,0l1.5,0.5l1.6,0.2l1.5,0.1l1.6,-0.8l1.5,-0.3l1.6,-0.4l1.5,0l1.5,-0.1l1.6,-0.1l1.5,-0.3l1.6,-0.2l1.5,-0.2l1.5,0.4l1.6,0l1.5,-0.2l1.6,-0.4l1.5,-0.2l1.6,-0.2l1.5,0l1.5,-0.2l1.6,0l1.5,-0.2l1.6,0l1.5,-0.6l1.5,-0.4l1.6,-0.3l1.5,0.1l1.6,-0.1l1.5,-0.4l1.6,-0.6l1.5,-0.1l1.5,-0.1l1.6,-0.1l1.5,-0.5l1.6,-0.4l1.5,-0.3l1.6,0l1.5,-0.5l1.5,0.1l1.6,-0.5l1.5,0l1.6,-0.5l1.5,-0.3l1.5,-0.2l1.6,0l1.5,0.1l1.6,0l1.5,0l1.6,0.1l1.5,0.4l1.5,0.4l1.6,-0.3l1.5,-0.4l1.6,-0.1l1.5,0.2l1.6,0.2l1.5,-0.2l1.5,0.4l1.6,0.2l1.5,0.3l1.6,-0.3l1.5,-0.1l0.3,0.1l0.4,0l0.4,0.4l0.4,-0.5l0.4,-0.1l0.3,-0.5l0.4,0.6l0.4,0.1l0.4,-0.2l0.4,-0.3l0.4,0.1l0.4,0.6l0.3,1.4l0.4,4.3l0.4,3.3l0.4,-3.3l0.4,-4.2l0.4,-1.3l0.4,-4l0.3,-7.1l0.4,4.1l0.4,6.3l0.4,1.4l0.4,-0.3l0.4,-0.1l0.3,0l0.4,0l0.4,-0.1l0.4,0l0.4,0l0.4,0.1l0.4,-0.3l0.3,0l1.6,-0.2l1.5,-0.1l1.6,-0.3l1.5,-0.5l1.6,-0.4l1.5,-0.1l1.5,0l1.6,-0.2l1.5,-0.4l1.6,-0.2l1.5,-0.4l1.6,0l1.5,-0.2l1.5,0.3l1.6,0l1.5,0l1.6,-0.2l1.5,-0.4l1.5,-0.1l1.6,0.1l1.5,0.1l1.6,-0.1l1.5,-0.2l1.6,-0.4l1.5,0.5l1.5,-0.1l1.6,-0.1l1.5,-0.8l1.6,0l1.5,0l1.5,0.2l1.6,0.1l1.5,0l1.6,0.1l1.5,0.1l1.6,0l1.5,0l1.5,-0.1l1.6,0.3l1.5,-0.3l1.6,0l1.5,-0.1l1.6,0.2l1.5,0.1l1.5,0.2l1.6,-0.1l1.5,-0.1l1.6,-0.5l1.5,0l1.5,0l1.6,0l1.5,-0.4l1.6,0.1l1.5,0.1l1.6,0l1.5,-0.1l1.5,0.3l1.6,0.4l1.5,0l1.6,-0.6l1.5,-0.1l1.6,-0.2l1.5,0.1l1.5,0.2l1.6,0.3l1.5,0.1l1.6,-0.4l1.5,-0.2l1.5,0.3l1.6,0l1.5,0.2l1.6,-0.4l1.5,0.3l1.6,0.2l1.5,0.4l1.5,-0.4l1.6,-0.3l1.5,0.1l1.6,0.4l1.5,-0.1l1.6,0.2l1.5,0l1.5,0.2l1.6,-0.1l1.5,-0.4l1.6,-0.3l1.5,-0.1l1.5,-0.1l1.6,0.1l1.5,0.2l1.6,0.3l1.5,0.1l1.6,-0.2l1.5,-0.1l1.5,0l1.6,0.1l1.5,-0.1l1.6,0l1.5,0l1.5,0.3l1.6,-0.1l1.5,0l1.6,-0.2l1.5,0l1.6,-0.2l1.5,0.3l1.5,0l1.6,0.3l1.5,-0.3l1.6,0.1l1.5,-0.5l1.6,0.4l1.5,0l1.5,0.1l1.6,-0.2l1.5,0l1.6,0.1l1.5,0.3l1.5,-0.1l1.6,0.4l1.5,-0.3l1.6,-0.2l1.5,-0.6l1.6,-0.1l1.5,0.3l1.5,0.1l1.6,0.2l1.5,-0.1l1.6,0.1l1.5,0.5l1.5,-0.2l1.6,0l1.5,-0.7l1.6,0.3l1.5,-0.1l1.6,0.1l1.5,0.2l1.5,0.4l1.6,0.1l1.5,-0.3l1.6,-0.3l1.5,0.1l1.6,-0.3l1.5,0.3l1.5,0.1l1.6,0.4l1.5,-0.1l1.6,-0.1l1.5,-0.1l1.5,-0.1l1.6,-0.1l1.5,-0.2l1.6,-0.4l1.5,-0.3l1.6,0l1.5,0.2" fill="none" stroke="#000000" stroke-width="2.3" stroke-linejoin="round"/>
<path d="M1279.5,2038.1l1.5,-0.1l1.6,-0.3l1.5,0.3l1.5,0.5l1.6,0.2l1.5,0l1.6,-0.2l1.5,-0.2l1.6,-0.1l1.5,0.3l1.5,0l1.6,0l1.5,-0.2l1.6,-0.1l1.5,-0.1l1.5,-0.3l1.6,0.1l1.5,0l1.6,0.4l1.5,-0.3l1.6,-0.2l1.5,-0.2l1.5,-0.5l1.6,-0.5l1.5,-0.6l1.6,-0.1l1.5,-0.2l1.6,-0.2l1.5,-0.2l1.5,-0.1l1.6,-0.1l1.5,0.1l1.6,-0.2l1.5,-0.7l1.5,-0.4l1.6,-0.5l1.5,0l1.6,-0.1l1.5,-0.4l1.6,-0.8l1.5,-0.6l1.5,0.1l1.6,-0.1l1.5,-0.1l1.6,-0.4l1.5,0.1l1.5,-0.6l1.6,-0.5l1.5,-0.5l1.6,-0.2l1.5,-0.1l1.6,-0.3l1.5,-0.7l1.5,-0.6l1.6,-0.7l1.5,0l1.6,-0.4l1.5,-0.1l1.6,-0.4l1.5,-0.5l1.5,-0.1l1.6,-0.4l1.5,-0.3l1.6,-0.6l1.5,-0.1l1.5,-0.1l1.6,-0.3l1.5,-0.2l1.6,-0.1l1.5,-0.1l1.6,-0.4l1.5,-0.3l1.5,-0.2l1.6,0l1.5,-0.1l1.6,-0.1l1.5,0.2l1.6,-0.2l1.5,-0.5l1.5,-0.4l1.6,-0.1l1.5,-0.2l1.6,-0.4l1.5,-0.4l0.3,0l0.4,-0.1l0.4,-0.1l0.4,0.2l0.4,-0.3l0.3,-0.1l0.4,-0.1l0.4,0.2l0.4,-0.3l0.4,0l0.4,-0.3l0.4,0l0.3,-0.7l0.4,0l0.4,-0.3l0.4,-1l0.4,-5l0.4,-12.7l0.4,-16.9l0.3,-5.6l0.4,11.8l0.4,16.8l0.4,9l0.4,3.1l0.4,0l0.3,0.3l0.4,-0.2l0.4,0l0.4,-0.3l0.4,-0.1l0.4,0.2l0.4,0l0.3,0.2l1.6,-0.2l1.5,-0.2l1.6,-0.4l1.5,0.1l1.6,-0.1l1.5,0l1.5,-0.1l1.6,0.1l1.5,0.1l1.6,0.3l1.5,0.5l1.6,-0.1l1.5,-0.1l1.5,-0.8l1.6,0.4l1.5,-0.1l1.6,0.5l1.5,-0.4l1.5,0.3l1.6,-0.2l1.5,0l1.6,-0.3l1.5,0l1.6,0l1.5,-0.1l1.5,-0.1l1.6,0.1l1.5,0l1.6,0.1l1.5,0l1.5,0.2l1.6,0.1l1.5,0.6l1.6,-0.2l1.5,0.1l1.6,-0.6l1.5,-0.2l1.5,0l1.6,0l1.5,0.3l1.6,-0.3l1.5,0.3l1.6,0l1.5,0.1l1.5,-0.5l1.6,-0.3l1.5,0l1.6,0.3l1.5,0l1.5,0l1.6,0l1.5,0.3l1.6,-0.1l1.5,-0.1l1.6,0.1l1.5,0.1l1.5,-0.2l1.6,-0.3l1.5,-0.1l1.6,0.2l1.5,0.3l1.6,-0.1l1.5,0.2l1.5,-0.1l1.6,0.2l1.5,0.1l1.6,0l1.5,-0.1l1.5,0l1.6,0l1.5,0l1.6,0l1.5,0.1l1.6,0l1.5,-0.2l1.5,-0.3l1.6,0l1.5,0.1l1.6,0.2l1.5,-0.3l1.6,-0.1l1.5,0.1l1.5,0.3l1.6,0.3l1.5,-0.1l1.6,0.2l1.5,-0.1l1.5,0.2l1.6,-0.2l1.5,-0.2l1.6,-0.4l1.5,0l1.6,0.5l1.5,0.3l1.5,0.1l1.6,0l1.5,-0.1l1.6,-0.1l1.5,-0.3l1.5,0l1.6,-0.1l1.5,-0.2l1.6,-0.1l1.5,-0.1l1.6,0l1.5,-0.1l1.5,0.1l1.6,0.3l1.5,0.2l1.6,0.2l1.5,-0.3l1.6,-0.3l1.5,0l1.5,0.2l1.6,0.5l1.5,-0.4l1.6,0.1l1.5,-0.2l1.5,0l1.6,-0.1l1.5,0l1.6,0.1l1.5,0l1.6,-0.1l1.5,0.1l1.5,-0.2l1.6,0.1l1.5,-0.2l1.6,0.3l1.5,-0.2l1.5,0.2l1.6,-0.5l1.5,0.4l1.6,0.1l1.5,0.3l1.6,-0.3l1.5,0l1.5,-0.1l1.6,0.5l1.5,0l1.6,0l1.5,-0.2l1.6,0.2l1.5,-0.1l1.5,0.2l1.6,-0.6l1.5,0.1l1.6,-0.6l1.5,0.3l1.5,-0.2l1.6,0.5l1.5,0.1l1.6,0l1.5,0.3l1.6,-0.2l1.5,0.1" fill="none" stroke="#f47b20" stroke-width="2.3" stroke-linejoin="round"/>
<path d="M1279.5,2011.2l1.5,12.2l1.6,11.6l1.5,-0.9l1.5,-1.3l1.6,-0.8l1.5,-0.5l1.6,-0.8l1.5,-0.9l1.6,-0.8l1.5,-0.9l1.5,-0.7l1.6,-0.9l1.5,-0.7l1.6,-0.8l1.5,-0.7l1.5,-1.2l1.6,-0.8l1.5,-1.2l1.6,-0.6l1.5,-0.6l1.6,-0.6l1.5,-0.9l1.5,-1.3l1.6,-0.8l1.5,-0.7l1.6,-0.6l1.5,-0.9l1.6,-0.9l1.5,-1.2l1.5,-1.3l1.6,-1.1l1.5,-1l1.6,-0.5l1.5,-0.7l1.5,-0.6l1.6,-1.4l1.5,-0.9l1.6,-0.7l1.5,-0.5l1.6,-1.3l1.5,-0.8l1.5,-0.8l1.6,-0.4l1.5,-1.4l1.6,-0.9l1.5,-1.1l1.5,-0.6l1.6,-0.6l1.5,-0.8l1.6,-0.8l1.5,-0.7l1.6,-0.6l1.5,-1l1.5,-0.9l1.6,-1.2l1.5,-0.5l1.6,-1.2l1.5,-1l1.6,-1.6l1.5,-1l1.5,-0.8l1.6,-0.8l1.5,-1.3l1.6,-1.3l1.5,-1.2l1.5,-0.8l1.6,-1l1.5,-1l1.6,-0.7l1.5,-0.7l1.6,-0.8l1.5,-1.1l1.5,-0.5l1.6,-0.1l1.5,-0.3l1.6,-0.3l1.5,-0.2l1.6,-0.1l1.5,-0.4l1.5,-0.7l1.6,-0.1l1.5,-0.2l1.6,0.1l1.5,-0.4l0.3,0l0.4,-0.1l0.4,0.3l0.4,0l0.4,0.1l0.3,0.4l0.4,-0.2l0.4,-0.1l0.4,-0.6l0.4,0.2l0.4,-0.1l0.4,-0.1l0.3,0.2l0.4,0.7l0.4,3.3l0.4,8.7l0.4,12.2l0.4,4.1l0.4,-8.4l0.3,-12.1l0.4,-6.8l0.4,-2.3l0.4,-0.2l0.4,0.2l0.4,0.3l0.3,-0.2l0.4,0l0.4,0l0.4,0.5l0.4,0l0.4,0l0.4,-0.3l0.3,-0.3l1.6,0.1l1.5,0.1l1.6,0.1l1.5,-0.1l1.6,-0.1l1.5,0l1.5,-0.1l1.6,0.1l1.5,-0.1l1.6,-0.2l1.5,0l1.6,0.2l1.5,0.1l1.5,-0.1l1.6,0.2l1.5,0.2l1.6,-0.1l1.5,0l1.5,-0.1l1.6,0.1l1.5,0l1.6,-0.1l1.5,0l1.6,-0.2l1.5,-0.1l1.5,0.4l1.6,0l1.5,0.1l1.6,-0.4l1.5,0.3l1.5,0l1.6,0.1l1.5,0.1l1.6,0l1.5,0.2l1.6,0l1.5,0.1l1.5,0l1.6,-0.2l1.5,0.1l1.6,-0.1l1.5,-0.1l1.6,0l1.5,-0.1l1.5,0.1l1.6,0.1l1.5,0l1.6,0.1l1.5,-0.2l1.5,0l1.6,-0.1l1.5,-0.1l1.6,0.4l1.5,0.2l1.6,0.2l1.5,-0.2l1.5,0l1.6,0.1l1.5,-0.3l1.6,0l1.5,0l1.6,0.1l1.5,0l1.5,-0.2l1.6,0l1.5,0.2l1.6,0.2l1.5,0.5l1.5,0.2l1.6,-0.1l1.5,-0.3l1.6,-0.5l1.5,-0.1l1.6,0.1l1.5,0.3l1.5,-0.2l1.6,0l1.5,0l1.6,0.5l1.5,-0.1l1.6,0.2l1.5,-0.1l1.5,-0.1l1.6,0.1l1.5,-0.1l1.6,0.3l1.5,-0.2l1.5,0l1.6,0l1.5,0.1l1.6,0.2l1.5,0l1.6,-0.1l1.5,0.2l1.5,-0.2l1.6,0.1l1.5,-0.2l1.6,-0.1l1.5,0l1.5,0.1l1.6,0.1l1.5,0.1l1.6,-0.1l1.5,0l1.6,0l1.5,0l1.5,0.5l1.6,0l1.5,0.1l1.6,-0.1l1.5,0.2l1.6,0.3l1.5,-0.2l1.5,-0.3l1.6,0.1l1.5,-0.2l1.6,0.5l1.5,-0.4l1.5,0.2l1.6,-0.2l1.5,-0.1l1.6,0l1.5,0.3l1.6,0.1l1.5,-0.3l1.5,0l1.6,-0.1l1.5,0.2l1.6,0.1l1.5,-0.1l1.5,0.1l1.6,-0.7l1.5,-0.1l1.6,0.1l1.5,0.4l1.6,0.4l1.5,0.2l1.5,-0.1l1.6,-0.1l1.5,-0.2l1.6,0.2l1.5,-0.1l1.6,-0.2l1.5,-0.1l1.5,0.2l1.6,0.2l1.5,-0.4l1.6,0.4l1.5,0.2l1.5,0.3l1.6,-0.4l1.5,-0.4l1.6,-0.1l1.5,-0.3l1.6,0.4l1.5,0.2" fill="none" stroke="#7e3f98" stroke-width="2.3" stroke-linejoin="round"/>
<path d="M1279.5,2038.3l1.5,-0.7l1.6,-0.7l1.5,-1l1.5,-0.8l1.6,-1.1l1.5,-1l1.6,-1.4l1.5,-1.4l1.6,-1.4l1.5,-1.9l1.5,-1.8l1.6,-2.1l1.5,-1.5l1.6,-1.5l1.5,-1.6l1.5,-2l1.6,-2.4l1.5,-2.3l1.6,-2.2l1.5,-2l1.6,-2l1.5,-1.9l1.5,-1.8l1.6,-2.2l1.5,-2.2l1.6,-2.4l1.5,-2.5l1.6,-2.6l1.5,-2.8l1.5,-2.3l1.6,-2.7l1.5,-2.4l1.6,-2.6l1.5,-2.2l1.5,-2.1l1.6,-2.2l1.5,-2.7l1.6,-2.2l1.5,-2.5l1.6,-1.9l1.5,-2.3l1.5,-2l1.6,-2.2l1.5,-2.3l1.6,-2.3l1.5,-2.1l1.5,-1.7l1.6,-1.7l1.5,-2.4l1.6,-2l1.5,-2.1l1.6,-1.8l1.5,-1.9l1.5,-2.3l1.6,-1.9l1.5,-2.2l1.6,-2l1.5,-1.7l1.6,-1.8l1.5,-1.8l1.5,-2.3l1.6,-2.2l1.5,-2l1.6,-1.6l1.5,-1.3l1.5,-1.5l1.6,-1.4l1.5,-1.5l1.6,-1.2l1.5,-0.8l1.6,-0.7l1.5,-0.2l1.5,-0.8l1.6,-0.5l1.5,-0.8l1.6,-0.5l1.5,-0.2l1.6,-0.6l1.5,-0.3l1.5,-1l1.6,0l1.5,-0.4l1.6,-0.6l1.5,-0.7l0.3,-0.1l0.4,0l0.4,-0.6l0.4,-0.3l0.4,0.3l0.3,0.4l0.4,-0.1l0.4,-0.1l0.4,-0.1l0.4,-0.3l0.4,0l0.4,2.1l0.3,7.5l0.4,3l0.4,-11.8l0.4,-19.5l0.4,-27.2l0.4,-25.7l0.4,-3.1l0.3,22.4l0.4,27.1l0.4,15.8l0.4,5.3l0.4,1.1l0.4,0.2l0.3,0.3l0.4,-0.1l0.4,-0.1l0.4,-0.3l0.4,-0.1l0.4,0.1l0.4,0.3l0.3,0l1.6,0.2l1.5,-0.2l1.6,0.1l1.5,0l1.6,0l1.5,0l1.5,-0.2l1.6,0.2l1.5,-0.1l1.6,-0.1l1.5,0l1.6,0l1.5,0.4l1.5,0.1l1.6,0.5l1.5,0l1.6,0.2l1.5,-0.3l1.5,0.4l1.6,0.1l1.5,0l1.6,-0.3l1.5,0.2l1.6,0.1l1.5,-0.3l1.5,-0.3l1.6,0l1.5,0.9l1.6,0.4l1.5,0l1.5,-0.5l1.6,-0.1l1.5,0l1.6,0l1.5,0l1.6,0.5l1.5,-0.3l1.5,0.2l1.6,-0.1l1.5,0.2l1.6,-0.1l1.5,-0.2l1.6,0.4l1.5,0.1l1.5,0.1l1.6,0.1l1.5,0.1l1.6,0.2l1.5,-0.1l1.5,0.2l1.6,0.2l1.5,-0.1l1.6,-0.1l1.5,-0.4l1.6,0.2l1.5,0.2l1.5,0.4l1.6,0.1l1.5,0l1.6,-0.6l1.5,-0.3l1.6,-0.3l1.5,0.6l1.5,0.6l1.6,0.4l1.5,0l1.6,-0.4l1.5,0l1.5,-0.1l1.6,0.3l1.5,-0.1l1.6,0.1l1.5,0l1.6,0.5l1.5,-0.1l1.5,0.2l1.6,-0.2l1.5,0l1.6,-0.3l1.5,0l1.6,0.2l1.5,0.4l1.5,0.3l1.6,0l1.5,-0.1l1.6,0l1.5,-0.2l1.5,-0.1l1.6,-0.1l1.5,0.3l1.6,0.3l1.5,0l1.6,0l1.5,0.2l1.5,0.1l1.6,0.4l1.5,-0.2l1.6,-0.2l1.5,-0.1l1.5,0l1.6,0.3l1.5,0l1.6,-0.3l1.5,-0.2l1.6,-0.1l1.5,0.4l1.5,0.1l1.6,0.2l1.5,-0.1l1.6,0.2l1.5,0.1l1.6,0.1l1.5,0.2l1.5,-0.3l1.6,-0.1l1.5,-0.1l1.6,0.6l1.5,0.3l1.5,0l1.6,-0.1l1.5,0.2l1.6,0l1.5,-0.1l1.6,-0.2l1.5,0.2l1.5,0l1.6,0.3l1.5,-0.1l1.6,0.1l1.5,0l1.5,-0.3l1.6,-0.1l1.5,0l1.6,0.2l1.5,-0.1l1.6,-0.3l1.5,-0.2l1.5,0.4l1.6,0.2l1.5,-0.2l1.6,0.1l1.5,-0.1l1.6,0.4l1.5,-0.3l1.5,0.4l1.6,0l1.5,0.3l1.6,0l1.5,-0.1l1.5,0.1l1.6,0.1l1.5,0.1l1.6,-0.1l1.5,-0.3l1.6,0.4l1.5,-0.1" fill="none" stroke="#22b14c" stroke-width="2.3" stroke-linejoin="round"/>
<path d="M1279.5,2018.3l1.5,6.9l1.3,5.8l0.3,-0.5l1.5,-1.6l1.5,-1.8l1.6,-2.1l1.5,-2.7l1.6,-2.7l1.5,-2.9l1.6,-3l1.5,-2.7l1.5,-3.2l1.6,-2.8l1.5,-3.6l1.6,-3.2l1.5,-3.5l1.5,-3.7l1.6,-3.8l1.5,-4l1.6,-3.2l1.5,-3.2l1.6,-3.3l1.5,-3.6l1.5,-3.8l1.6,-3.4l1.5,-3.6l1.6,-3.4l1.5,-3.9l1.6,-3.6l1.5,-3.5l1.5,-3.5l1.6,-3.6l1.5,-3.7l1.6,-3.3l1.5,-3.2l1.5,-3.2l1.6,-2.9l1.5,-3.1l1.6,-3.1l1.5,-3.6l1.6,-3.7l1.5,-3.4l1.5,-3.1l1.6,-3.1l1.5,-3l1.6,-3.3l1.5,-2.9l1.5,-2.9l1.6,-3l1.5,-3.1l1.6,-3.2l1.5,-3l1.6,-3l1.5,-3.6l1.5,-3.7l1.6,-3.4l1.5,-3.1l1.6,-2.4l1.5,-3l1.6,-2.8l1.5,-3.1l1.5,-2.1l1.6,-2.1l1.5,-1.8l1.6,-2.3l1.5,-1.4l1.5,-1.7l1.6,-1.2l1.5,-1.7l1.6,-1.3l1.5,-1.6l1.6,-1.3l1.5,-1.3l1.5,-1l1.6,-1l1.5,-1.2l1.6,-1.4l1.5,-1.3l1.6,-1.4l1.5,-1.3l1.5,-1.5l1.6,-1.3l1.5,-1.1l1.6,-1.4l1.5,-1.4l0.3,-0.4l0.4,-0.5l0.4,0l0.4,-0.5l0.4,0l0.3,-0.4l0.4,-0.2l0.4,-0.4l0.4,-0.1l0.4,0.2l0.4,0.4l0.4,1.8l0.3,7.4l0.4,15.1l0.4,9.2l0.4,-9.3l0.4,-15.7l0.4,-8.5l0.4,-1.9l0.3,-0.3l0.4,0l0.4,-0.1l0.4,0.2l0.4,-0.3l0.4,-0.3l0.3,-0.3l0.4,0.1l0.4,-0.2l0.4,-0.2l0.4,-0.4l0.4,0.1l0.4,0l0.3,0.2l1.6,-0.3l1.5,-0.6l1.6,-0.7l1.5,-0.9l1.6,-0.6l1.5,-0.3l1.5,0l1.6,-0.1l1.5,-0.4l1.6,-0.6l1.5,-0.4l1.6,-0.1l1.5,-0.5l1.5,-0.5l1.6,-0.2l1.5,0.1l1.6,-0.2l1.5,-0.1l1.5,-0.1l1.6,0.4l1.5,0.3l1.6,0.3l1.5,0l1.6,-0.3l1.5,-0.4l1.5,-0.3l1.6,-0.1l1.5,-0.1l1.6,-0.2l1.5,0.3l1.5,-0.2l1.6,-0.3l1.5,-0.2l1.6,-0.2l1.5,0.2l1.6,-0.1l1.5,0.3l1.5,0.2l1.6,-0.2l1.5,0.1l1.6,-0.7l1.5,-0.2l1.6,-0.2l1.5,-0.1l1.5,0.1l1.6,-0.4l1.5,-0.1l1.6,-0.5l1.5,0.1l1.5,-0.1l1.6,-0.1l1.5,-0.3l1.6,-0.3l1.5,-0.4l1.6,-0.3l1.5,0.3l1.5,0.4l1.6,0.3l1.5,-0.2l1.6,0.3l1.5,0.1l1.6,-0.3l1.5,-0.1l1.5,0l1.6,0.4l1.5,-0.3l1.6,-0.1l1.5,0l1.5,0.3l1.6,-0.1l1.5,0l1.6,-0.2l1.5,0.1l1.6,-0.1l1.5,0.1l1.5,0.3l1.6,0.3l1.5,-0.1l1.6,0.3l1.5,-0.1l1.6,-0.3l1.5,-0.4l1.5,-0.3l1.6,0.7l1.5,0l1.6,-0.1l1.5,-0.7l1.5,0.1l1.6,0.4l1.5,0.2l1.6,0.1l1.5,0l1.6,0.4l1.5,-0.2l1.5,-0.1l1.6,-0.5l1.5,0l1.6,0.1l1.5,0.4l1.5,0.3l1.6,-0.1l1.5,0.1l1.6,-0.3l1.5,-0.1l1.6,0.3l1.5,0.1l1.5,0.1l1.6,-0.1l1.5,-0.2l1.6,0.3l1.5,-0.6l1.6,0.3l1.5,-0.3l1.5,0.5l1.6,0l1.5,0.4l1.6,0.3l1.5,0.6l1.5,-0.2l1.6,0l1.5,-0.4l1.6,0.1l1.5,0.2l1.6,0.1l1.5,0.1l1.5,-0.1l1.6,0.1l1.5,0.2l1.6,0.1l1.5,0l1.5,0.3l1.6,0.3l1.5,0.4l1.6,-0.2l1.5,-0.1l1.6,-0.3l1.5,0.8l1.5,0.2l1.6,0.6l1.5,-0.5l1.6,-0.2l1.5,0.1l1.6,0.4l1.5,0.2l1.5,-0.1l1.6,0.4l1.5,0.2l1.6,0.3l1.5,-0.1l1.5,0.4l1.6,0.1l1.5,0.1l1.6,0.1l1.5,0.4l1.6,0.2l1.5,0.1" fill="none" stroke="#ed1c24" stroke-width="2.3" stroke-linejoin="round"/>
<path d="M1279.5,2011l1.5,11.9l1.6,11.7l1.5,-0.7l1.5,-0.8l1.6,-0.7l1.5,-0.2l1.6,-0.7l1.5,-0.6l1.6,-0.8l1.5,-0.6l1.5,-0.2l1.6,-0.8l1.5,-0.7l1.6,-0.8l1.5,-0.8l1.5,-0.7l1.6,-1.2l1.5,-0.7l1.6,-1l1.5,-0.7l1.6,-0.8l1.5,-0.8l1.5,-1l1.6,-0.6l1.5,-0.8l1.6,-0.7l1.5,-1.1l1.6,-1.2l1.5,-1.2l1.5,-1l1.6,-0.5l1.5,-1l1.6,-1l1.5,-1.1l1.5,-0.4l1.6,-1l1.5,-1.1l1.6,-1.1l1.5,-0.9l1.6,-0.9l1.5,-1.1l1.5,-1l1.6,-0.6l1.5,-0.9l1.6,-0.2l1.5,-0.6l1.5,-0.3l1.6,-1.4l1.5,-1l1.6,-1l1.5,-0.3l1.6,-0.6l1.5,-0.3l1.5,-1.3l1.6,-1l1.5,-1.3l1.6,-0.3l1.5,-1l1.6,-1.1l1.5,-1.3l1.5,-1.2l1.6,-0.9l1.5,-1.1l1.6,-1.1l1.5,-1.2l1.5,-1l1.6,-0.7l1.5,-0.6l1.6,-0.7l1.5,-0.5l1.6,-0.5l1.5,-0.3l1.5,0l1.6,-0.1l1.5,-0.1l1.6,-0.5l1.5,0l1.6,0l1.5,0.1l1.5,-0.1l1.6,0.1l1.5,0l1.6,-0.1l1.5,-0.2l0.3,-0.1l0.4,-0.1l0.4,0.1l0.4,0.2l0.4,-0.3l0.3,0l0.4,0l0.4,0.5l0.4,-0.2l0.4,0.1l0.4,-0.2l0.4,-0.1l0.3,-0.1l0.4,0.6l0.4,2.9l0.4,8.3l0.4,15.3l0.4,11l0.4,-5.2l0.3,-15.7l0.4,-12l0.4,-4.7l0.4,-0.7l0.4,0.1l0.4,0.2l0.3,-0.2l0.4,0l0.4,0l0.4,-0.5l0.4,-0.3l0.4,0.1l0.4,0.2l0.3,0.3l1.6,0l1.5,0.2l1.6,0.2l1.5,0.1l1.6,-0.4l1.5,-0.4l1.5,0.3l1.6,0.3l1.5,0.2l1.6,-0.3l1.5,0.2l1.6,-0.2l1.5,0.1l1.5,-0.2l1.6,0l1.5,0.4l1.6,0.1l1.5,0l1.5,-0.3l1.6,-0.2l1.5,0.3l1.6,0.1l1.5,0.2l1.6,-0.1l1.5,-0.2l1.5,-0.2l1.6,0.4l1.5,0.1l1.6,0.6l1.5,-0.2l1.5,0.2l1.6,-0.3l1.5,0l1.6,-0.2l1.5,0.2l1.6,-0.1l1.5,0.2l1.5,-0.1l1.6,0.3l1.5,0l1.6,0l1.5,-0.4l1.6,0.1l1.5,0.2l1.5,0l1.6,0l1.5,-0.2l1.6,-0.2l1.5,0.2l1.5,-0.3l1.6,0.9l1.5,-0.3l1.6,0.5l1.5,-0.8l1.6,0.3l1.5,-0.3l1.5,0.5l1.6,0.1l1.5,0l1.6,-0.3l1.5,-0.1l1.6,-0.2l1.5,0.2l1.5,-0.4l1.6,0.6l1.5,0.1l1.6,0.3l1.5,0l1.5,-0.3l1.6,0.4l1.5,-0.2l1.6,0.2l1.5,-0.2l1.6,0l1.5,0l1.5,-0.1l1.6,-0.1l1.5,-0.1l1.6,-0.1l1.5,-0.1l1.6,0.1l1.5,-0.1l1.5,0.3l1.6,-0.1l1.5,0.1l1.6,0l1.5,0.3l1.5,0.4l1.6,0l1.5,-0.3l1.6,-0.2l1.5,-0.1l1.6,0l1.5,-0.1l1.5,-0.3l1.6,0.2l1.5,0l1.6,0.1l1.5,0.1l1.5,0.1l1.6,0.3l1.5,-0.2l1.6,0l1.5,0.1l1.6,0.1l1.5,0.3l1.5,-0.3l1.6,-0.1l1.5,-0.2l1.6,0.2l1.5,0l1.6,-0.1l1.5,-0.2l1.5,-0.1l1.6,0.1l1.5,-0.1l1.6,-0.2l1.5,0.1l1.5,0.3l1.6,0.4l1.5,-0.4l1.6,0.1l1.5,0l1.6,0.3l1.5,-0.3l1.5,-0.1l1.6,0.1l1.5,0.4l1.6,-0.1l1.5,-0.2l1.5,-0.3l1.6,-0.1l1.5,0.3l1.6,0l1.5,-0.1l1.6,0.2l1.5,0.3l1.5,-0.4l1.6,0l1.5,-0.4l1.6,0.4l1.5,-0.3l1.6,0.1l1.5,-0.1l1.5,-0.1l1.6,0.2l1.5,0l1.6,0.5l1.5,0l1.5,0l1.6,0l1.5,0l1.6,-0.4l1.5,0.2l1.6,0.1l1.5,0.3" fill="none" stroke="#3953a4" stroke-width="2.3" stroke-linejoin="round"/>
<line x1="1279.5" y1="1781.6" x2="1279.5" y2="2039.6" stroke="#000" stroke-width="2.6"/>
<line x1="1278.2" y1="2038.4" x2="1663.2" y2="2038.4" stroke="#000" stroke-width="2.6"/>
<line x1="1272" y1="2038.4" x2="1279.5" y2="2038.4" stroke="#000" stroke-width="2.2"/>
<text x="1271.2" y="2046.3" font-size="22.3" text-anchor="end">0</text>
<line x1="1272" y1="1910.6" x2="1279.5" y2="1910.6" stroke="#000" stroke-width="2.2"/>
<text x="1271.2" y="1918.5" font-size="22.3" text-anchor="end">20</text>
<line x1="1272" y1="1782.8" x2="1279.5" y2="1782.8" stroke="#000" stroke-width="2.2"/>
<text x="1271.2" y="1790.7" font-size="22.3" text-anchor="end">40</text>
<line x1="1353.8" y1="2038.4" x2="1353.8" y2="2045.9" stroke="#000" stroke-width="2.2"/>
<text x="1353.8" y="2067" font-size="22" text-anchor="middle">50</text>
<line x1="1430.9" y1="2038.4" x2="1430.9" y2="2045.9" stroke="#000" stroke-width="2.2"/>
<text x="1430.9" y="2067" font-size="22" text-anchor="middle">100</text>
<line x1="1508" y1="2038.4" x2="1508" y2="2045.9" stroke="#000" stroke-width="2.2"/>
<text x="1508" y="2067" font-size="22" text-anchor="middle">150</text>
<line x1="1585.1" y1="2038.4" x2="1585.1" y2="2045.9" stroke="#000" stroke-width="2.2"/>
<text x="1585.1" y="2067" font-size="22" text-anchor="middle">200</text>
<line x1="1662.2" y1="2038.4" x2="1662.2" y2="2045.9" stroke="#000" stroke-width="2.2"/>
<text x="1662.2" y="2067" font-size="22" text-anchor="middle">250</text>
<text x="1471.1" y="2096" font-size="22" text-anchor="middle" textLength="73.5" lengthAdjust="spacingAndGlyphs">Time(s)</text>
<text x="1486.8" y="1716.5" font-size="31" font-weight="bold" text-anchor="middle" textLength="124" lengthAdjust="spacingAndGlyphs">nCoV402</text>
<text x="1488.2" y="1771.9" font-size="22" font-weight="bold" text-anchor="middle" fill="#1a1a1a">K<tspan font-size="11">D</tspan> = 2.21 nM</text>
<line x1="1673.7" y1="1887.6" x2="1700.9" y2="1887.6" stroke="#000000" stroke-width="2.3"/>
<text x="1716.2" y="1895.6" font-size="21.5">0.25µg/ml</text>
<line x1="1673.7" y1="1917.2" x2="1700.9" y2="1917.2" stroke="#f47b20" stroke-width="2.3"/>
<text x="1716.2" y="1925.2" font-size="21.5">0.5µg/ml</text>
<line x1="1673.7" y1="1947.2" x2="1700.9" y2="1947.2" stroke="#7e3f98" stroke-width="2.3"/>
<text x="1716.2" y="1955.2" font-size="21.5">1µg/ml</text>
<line x1="1673.7" y1="1976.1" x2="1700.9" y2="1976.1" stroke="#22b14c" stroke-width="2.3"/>
<text x="1716.2" y="1984.1" font-size="21.5">2µg/ml</text>
<line x1="1673.7" y1="2005.7" x2="1700.9" y2="2005.7" stroke="#ed1c24" stroke-width="2.3"/>
<text x="1716.2" y="2013.7" font-size="21.5">4µg/ml</text>
<line x1="1673.7" y1="2034.7" x2="1700.9" y2="2034.7" stroke="#3953a4" stroke-width="2.3"/>
<text x="1716.2" y="2042.7" font-size="21.5">1µg/ml</text>
</svg>
</body></html>
